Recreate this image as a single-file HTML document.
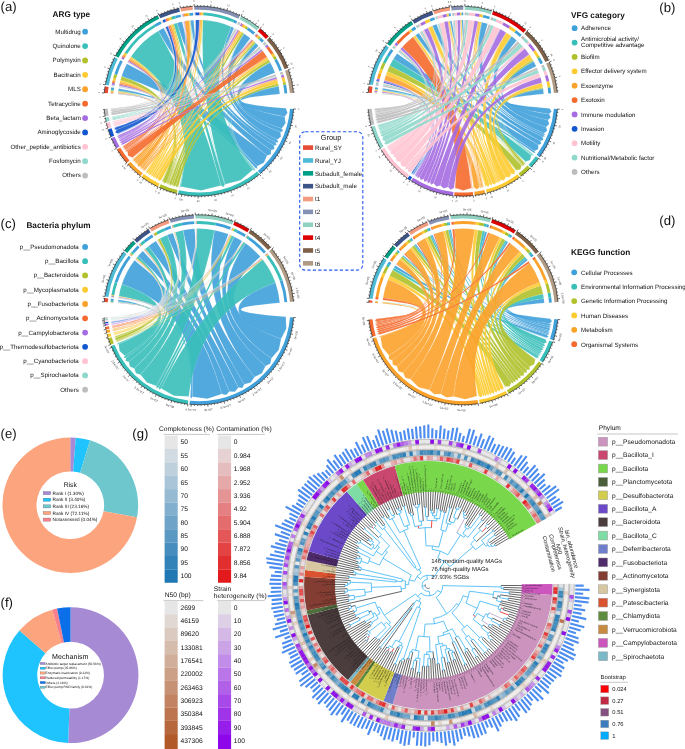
<!DOCTYPE html>
<html lang="en"><head><meta charset="utf-8"><title>Figure</title>
<style>html,body{margin:0;padding:0;background:#fff}svg{display:block}text{font-family:"Liberation Sans", sans-serif;text-rendering:geometricPrecision}</style>
</head><body>
<svg width="685" height="749" viewBox="0 0 685 749">
<rect width="685" height="749" fill="#fff"/>
<g>
<g fill-opacity="0.9" stroke="#fff" stroke-width="0.22" stroke-opacity="0.42">
<path d="M118.38 90.67A81.2 81.2 0 0 1 118.68 88.59Q198.9 101.15 256.9 166.27L257.48 168.68L255.18 167.76Q198.9 101.15 118.38 90.67Z" fill="#3FA0DA"/>
<path d="M121.59 76.33A81.2 81.2 0 0 1 126.87 63.67Q198.9 101.15 267.07 155.53L263.81 162.63L256.9 166.27Q198.9 101.15 121.59 76.33Z" fill="#3FA0DA"/>
<path d="M158.21 30.88A81.2 81.2 0 0 1 163.69 27.98Q198.9 101.15 271.04 150.14L270.88 154.18L267.07 155.53Q198.9 101.15 158.21 30.88Z" fill="#3FA0DA"/>
<path d="M177.07 22.94A81.2 81.2 0 0 1 182.05 21.72Q198.9 101.15 274 145.47L274.41 149.01L271.04 150.14Q198.9 101.15 177.07 22.94Z" fill="#3FA0DA"/>
<path d="M190.47 20.39A81.2 81.2 0 0 1 193.57 20.13Q198.9 101.15 275.64 142.56L276.75 145.1L274 145.47Q198.9 101.15 190.47 20.39Z" fill="#3FA0DA"/>
<path d="M231.24 26.67A81.2 81.2 0 0 1 233.97 27.91Q198.9 101.15 277.12 139.68L278.35 142.14L275.64 142.56Q198.9 101.15 231.24 26.67Z" fill="#3FA0DA"/>
<path d="M244.14 33.72A81.2 81.2 0 0 1 250.34 38.32Q198.9 101.15 280.44 132.05L280.89 136.78L277.12 139.68Q198.9 101.15 244.14 33.72Z" fill="#3FA0DA"/>
<path d="M255.94 43.36A81.2 81.2 0 0 1 258.41 45.9Q198.9 101.15 281.72 128.45L283.17 130.99L280.44 132.05Q198.9 101.15 255.94 43.36Z" fill="#3FA0DA"/>
<path d="M270.31 62.5A81.2 81.2 0 0 1 274.99 72.8Q198.9 101.15 284.71 116.63L285.56 123.13L281.72 128.45Q198.9 101.15 270.31 62.5Z" fill="#3FA0DA"/>
<path d="M278.71 86.18A81.2 81.2 0 0 1 279.78 93.91Q198.9 101.15 285.81 108.29L287.54 112.76L284.71 116.63Q198.9 101.15 278.71 86.18Z" fill="#3FA0DA"/>
<path d="M118.29 91.37A81.2 81.2 0 0 1 118.38 90.67Q198.9 101.15 180.56 186.4L179.72 188.47L179.82 186.24Q198.9 101.15 118.29 91.37Z" fill="#38BFB9"/>
<path d="M121.53 76.51A81.2 81.2 0 0 1 121.59 76.33Q198.9 101.15 180.77 186.44L180.2 188.57L180.56 186.4Q198.9 101.15 121.53 76.51Z" fill="#38BFB9"/>
<path d="M131.06 56.53A81.2 81.2 0 0 1 158.21 30.88Q198.9 101.15 221.02 185.5L201 190.53L180.77 186.44Q198.9 101.15 131.06 56.53Z" fill="#38BFB9"/>
<path d="M173.7 23.96A81.2 81.2 0 0 1 177.07 22.94Q198.9 101.15 224.67 184.46L223.45 187.11L221.02 185.5Q198.9 101.15 173.7 23.96Z" fill="#38BFB9"/>
<path d="M190.03 20.44A81.2 81.2 0 0 1 190.47 20.39Q198.9 101.15 225.13 184.31L225.55 186.48L224.67 184.46Q198.9 101.15 190.03 20.44Z" fill="#38BFB9"/>
<path d="M203 20.05A81.2 81.2 0 0 1 231.24 26.67Q198.9 101.15 252.78 169.71L240.64 180.21L225.13 184.31Q198.9 101.15 203 20.05Z" fill="#38BFB9"/>
<path d="M243.78 33.48A81.2 81.2 0 0 1 244.14 33.72Q198.9 101.15 253.14 169.43L254.32 171.3L252.78 169.71Q198.9 101.15 243.78 33.48Z" fill="#38BFB9"/>
<path d="M255.38 42.81A81.2 81.2 0 0 1 255.94 43.36Q198.9 101.15 253.8 168.9L254.85 170.88L253.14 169.43Q198.9 101.15 255.38 42.81Z" fill="#38BFB9"/>
<path d="M270.08 62.07A81.2 81.2 0 0 1 270.31 62.5Q198.9 101.15 254.21 168.56L255.4 170.43L253.8 168.9Q198.9 101.15 270.08 62.07Z" fill="#38BFB9"/>
<path d="M278.65 85.87A81.2 81.2 0 0 1 278.71 86.18Q198.9 101.15 254.48 168.34L255.74 170.15L254.21 168.56Q198.9 101.15 278.65 85.87Z" fill="#38BFB9"/>
<path d="M118.22 91.98A81.2 81.2 0 0 1 118.29 91.37Q198.9 101.15 163.04 180.63L161.83 182.5L162.44 180.36Q198.9 101.15 118.22 91.98Z" fill="#B0C12B"/>
<path d="M120.46 80.16A81.2 81.2 0 0 1 121.53 76.51Q198.9 101.15 166.81 182.23L164.06 183.48L163.04 180.63Q198.9 101.15 120.46 80.16Z" fill="#B0C12B"/>
<path d="M130.63 57.19A81.2 81.2 0 0 1 131.06 56.53Q198.9 101.15 167.61 182.54L166.41 184.44L166.81 182.23Q198.9 101.15 130.63 57.19Z" fill="#B0C12B"/>
<path d="M172.72 24.29A81.2 81.2 0 0 1 173.7 23.96Q198.9 101.15 168.66 182.94L167.35 184.8L167.61 182.54Q198.9 101.15 172.72 24.29Z" fill="#B0C12B"/>
<path d="M189.6 20.48A81.2 81.2 0 0 1 190.03 20.44Q198.9 101.15 169.1 183.1L168.12 185.08L168.66 182.94Q198.9 101.15 189.6 20.48Z" fill="#B0C12B"/>
<path d="M202.69 20.04A81.2 81.2 0 0 1 203 20.05Q198.9 101.15 169.42 183.22L168.51 185.23L169.1 183.1Q198.9 101.15 202.69 20.04Z" fill="#B0C12B"/>
<path d="M242.02 32.34A81.2 81.2 0 0 1 243.78 33.48Q198.9 101.15 171.56 183.95L169.77 185.67L169.42 183.22Q198.9 101.15 242.02 32.34Z" fill="#B0C12B"/>
<path d="M254.26 41.75A81.2 81.2 0 0 1 255.38 42.81Q198.9 101.15 173.15 184.46L171.68 186.31L171.56 183.95Q198.9 101.15 254.26 41.75Z" fill="#B0C12B"/>
<path d="M268.69 59.65A81.2 81.2 0 0 1 270.08 62.07Q198.9 101.15 176.04 185.3L173.97 187L173.15 184.46Q198.9 101.15 268.69 59.65Z" fill="#B0C12B"/>
<path d="M278.17 83.57A81.2 81.2 0 0 1 278.65 85.87Q198.9 101.15 178.49 185.93L176.71 187.75L176.04 185.3Q198.9 101.15 278.17 83.57Z" fill="#B0C12B"/>
<path d="M118.17 92.46A81.2 81.2 0 0 1 118.22 91.98Q198.9 101.15 146.72 171.02L145.19 172.62L146.31 170.71Q198.9 101.15 118.17 92.46Z" fill="#FDCB2F"/>
<path d="M120.01 81.9A81.2 81.2 0 0 1 120.46 80.16Q198.9 101.15 148.29 172.16L146.21 173.37L146.72 171.02Q198.9 101.15 120.01 81.9Z" fill="#FDCB2F"/>
<path d="M129.84 58.45A81.2 81.2 0 0 1 130.63 57.19Q198.9 101.15 149.6 173.08L147.68 174.42L148.29 172.16Q198.9 101.15 129.84 58.45Z" fill="#FDCB2F"/>
<path d="M171.17 24.83A81.2 81.2 0 0 1 172.72 24.29Q198.9 101.15 151.07 174.06L149.11 175.4L149.6 173.08Q198.9 101.15 171.17 24.83Z" fill="#FDCB2F"/>
<path d="M188.87 20.57A81.2 81.2 0 0 1 189.6 20.48Q198.9 101.15 151.73 174.49L150.2 176.12L151.07 174.06Q198.9 101.15 188.87 20.57Z" fill="#FDCB2F"/>
<path d="M201.09 19.98A81.2 81.2 0 0 1 202.69 20.04Q198.9 101.15 153.19 175.41L151.29 176.82L151.73 174.49Q198.9 101.15 201.09 19.98Z" fill="#FDCB2F"/>
<path d="M240.51 31.42A81.2 81.2 0 0 1 242.02 32.34Q198.9 101.15 154.82 176.39L152.87 177.79L153.19 175.41Q198.9 101.15 240.51 31.42Z" fill="#FDCB2F"/>
<path d="M253.55 41.09A81.2 81.2 0 0 1 254.26 41.75Q198.9 101.15 155.73 176.91L154.17 178.56L154.82 176.39Q198.9 101.15 253.55 41.09Z" fill="#FDCB2F"/>
<path d="M267.51 57.72A81.2 81.2 0 0 1 268.69 59.65Q198.9 101.15 157.86 178.09L155.73 179.44L155.73 176.91Q198.9 101.15 267.51 57.72Z" fill="#FDCB2F"/>
<path d="M277.31 80.06A81.2 81.2 0 0 1 278.17 83.57Q198.9 101.15 161.34 179.85L158.6 180.95L157.86 178.09Q198.9 101.15 277.31 80.06Z" fill="#FDCB2F"/>
<path d="M118.1 93.15A81.2 81.2 0 0 1 118.17 92.46Q198.9 101.15 134.01 159.41L132.12 160.59L133.52 158.85Q198.9 101.15 118.1 93.15Z" fill="#FBA22B"/>
<path d="M119.64 83.5A81.2 81.2 0 0 1 120.01 81.9Q198.9 101.15 135.21 160.71L132.99 161.55L134.01 159.41Q198.9 101.15 119.64 83.5Z" fill="#FBA22B"/>
<path d="M129.04 59.75A81.2 81.2 0 0 1 129.84 58.45Q198.9 101.15 136.34 161.9L134.18 162.82L135.21 160.71Q198.9 101.15 129.04 59.75Z" fill="#FBA22B"/>
<path d="M169.59 25.42A81.2 81.2 0 0 1 171.17 24.83Q198.9 101.15 137.62 163.19L135.42 164.1L136.34 161.9Q198.9 101.15 169.59 25.42Z" fill="#FBA22B"/>
<path d="M184.67 21.21A81.2 81.2 0 0 1 188.87 20.57Q198.9 101.15 140.96 166.32L137.76 166.38L137.62 163.19Q198.9 101.15 184.67 21.21Z" fill="#FBA22B"/>
<path d="M199.86 19.96A81.2 81.2 0 0 1 201.09 19.98Q198.9 101.15 141.95 167.19L140.01 168.41L140.96 166.32Q198.9 101.15 199.86 19.96Z" fill="#FBA22B"/>
<path d="M239.34 30.74A81.2 81.2 0 0 1 240.51 31.42Q198.9 101.15 143.07 168.14L141.09 169.34L141.95 167.19Q198.9 101.15 239.34 30.74Z" fill="#FBA22B"/>
<path d="M253.05 40.64A81.2 81.2 0 0 1 253.55 41.09Q198.9 101.15 143.62 168.59L141.95 170.06L143.07 168.14Q198.9 101.15 253.05 40.64Z" fill="#FBA22B"/>
<path d="M266.96 56.86A81.2 81.2 0 0 1 267.51 57.72Q198.9 101.15 144.49 169.29L142.67 170.65L143.62 168.59Q198.9 101.15 266.96 56.86Z" fill="#FBA22B"/>
<path d="M277.04 79.09A81.2 81.2 0 0 1 277.31 80.06Q198.9 101.15 145.34 169.97L143.55 171.36L144.49 169.29Q198.9 101.15 277.04 79.09Z" fill="#FBA22B"/>
<path d="M118.05 93.57A81.2 81.2 0 0 1 118.1 93.15Q198.9 101.15 124.04 145.86L122.03 146.79L123.8 145.47Q198.9 101.15 118.05 93.57Z" fill="#F56A2E"/>
<path d="M119.41 84.57A81.2 81.2 0 0 1 119.64 83.5Q198.9 101.15 124.65 146.88L122.46 147.51L124.04 145.86Q198.9 101.15 119.41 84.57Z" fill="#F56A2E"/>
<path d="M128.49 60.7A81.2 81.2 0 0 1 129.04 59.75Q198.9 101.15 125.28 147.88L123.1 148.54L124.65 146.88Q198.9 101.15 128.49 60.7Z" fill="#F56A2E"/>
<path d="M168.25 25.96A81.2 81.2 0 0 1 169.59 25.42Q198.9 101.15 126.12 149.18L123.85 149.73L125.28 147.88Q198.9 101.15 168.25 25.96Z" fill="#F56A2E"/>
<path d="M184.47 21.24A81.2 81.2 0 0 1 184.67 21.21Q198.9 101.15 126.24 149.37L124.35 150.49L126.12 149.18Q198.9 101.15 184.47 21.24Z" fill="#F56A2E"/>
<path d="M199.42 19.95A81.2 81.2 0 0 1 199.86 19.96Q198.9 101.15 126.51 149.76L124.54 150.78L126.24 149.37Q198.9 101.15 199.42 19.95Z" fill="#F56A2E"/>
<path d="M238.92 30.5A81.2 81.2 0 0 1 239.34 30.74Q198.9 101.15 126.8 150.19L124.83 151.21L126.51 149.76Q198.9 101.15 238.92 30.5Z" fill="#F56A2E"/>
<path d="M252.25 39.94A81.2 81.2 0 0 1 253.05 40.64Q198.9 101.15 127.45 151.14L125.31 151.92L126.8 150.19Q198.9 101.15 252.25 39.94Z" fill="#F56A2E"/>
<path d="M262.6 50.79A81.2 81.2 0 0 1 266.96 56.86Q198.9 101.15 132.37 157.52L128.1 155.73L127.45 151.14Q198.9 101.15 262.6 50.79Z" fill="#F56A2E"/>
<path d="M276.95 78.74A81.2 81.2 0 0 1 277.04 79.09Q198.9 101.15 132.62 157.82L130.82 159.09L132.37 157.52Q198.9 101.15 276.95 78.74Z" fill="#F56A2E"/>
<path d="M118.03 93.88A81.2 81.2 0 0 1 118.05 93.57Q198.9 101.15 118.68 135.34L116.59 136.04L118.55 135.03Q198.9 101.15 118.03 93.88Z" fill="#A56BE0"/>
<path d="M119.15 85.86A81.2 81.2 0 0 1 119.41 84.57Q198.9 101.15 119.25 136.64L116.95 136.87L118.68 135.34Q198.9 101.15 119.15 85.86Z" fill="#A56BE0"/>
<path d="M127.85 61.84A81.2 81.2 0 0 1 128.49 60.7Q198.9 101.15 119.83 137.92L117.54 138.19L119.25 136.64Q198.9 101.15 127.85 61.84Z" fill="#A56BE0"/>
<path d="M167.65 26.2A81.2 81.2 0 0 1 168.25 25.96Q198.9 101.15 120.13 138.55L117.99 139.17L119.83 137.92Q198.9 101.15 167.65 26.2Z" fill="#A56BE0"/>
<path d="M183.88 21.35A81.2 81.2 0 0 1 184.47 21.24Q198.9 101.15 120.41 139.14L118.29 139.8L120.13 138.55Q198.9 101.15 183.88 21.35Z" fill="#A56BE0"/>
<path d="M199.16 19.95A81.2 81.2 0 0 1 199.42 19.95Q198.9 101.15 120.53 139.4L118.49 140.23L120.41 139.14Q198.9 101.15 199.16 19.95Z" fill="#A56BE0"/>
<path d="M237.74 29.84A81.2 81.2 0 0 1 238.92 30.5Q198.9 101.15 121.19 140.7L118.89 141.03L120.53 139.4Q198.9 101.15 237.74 29.84Z" fill="#A56BE0"/>
<path d="M251.85 39.59A81.2 81.2 0 0 1 252.25 39.94Q198.9 101.15 121.45 141.21L119.36 141.96L121.19 140.7Q198.9 101.15 251.85 39.59Z" fill="#A56BE0"/>
<path d="M261.56 49.5A81.2 81.2 0 0 1 262.6 50.79Q198.9 101.15 122.28 142.79L119.92 143.03L121.45 141.21Q198.9 101.15 261.56 49.5Z" fill="#A56BE0"/>
<path d="M276.45 77.08A81.2 81.2 0 0 1 276.95 78.74Q198.9 101.15 123.19 144.42L120.81 144.68L122.28 142.79Q198.9 101.15 276.45 77.08Z" fill="#A56BE0"/>
<path d="M119.11 86.06A81.2 81.2 0 0 1 119.15 85.86Q198.9 101.15 115.71 127.29L113.58 127.85L115.65 127.09Q198.9 101.15 119.11 86.06Z" fill="#1257CF"/>
<path d="M127.8 61.92A81.2 81.2 0 0 1 127.85 61.84Q198.9 101.15 115.74 127.4L113.63 128.01L115.71 127.29Q198.9 101.15 127.8 61.92Z" fill="#1257CF"/>
<path d="M165.52 27.13A81.2 81.2 0 0 1 167.65 26.2Q198.9 101.15 116.54 129.78L114.04 129.29L115.74 127.4Q198.9 101.15 165.52 27.13Z" fill="#1257CF"/>
<path d="M195.51 20.02A81.2 81.2 0 0 1 199.16 19.95Q198.9 101.15 117.93 133.51L115.16 132.45L116.55 129.83Q198.9 101.15 195.51 20.02Z" fill="#1257CF"/>
<path d="M237.61 29.77A81.2 81.2 0 0 1 237.74 29.84Q198.9 101.15 117.99 133.66L115.92 134.41L117.93 133.51Q198.9 101.15 237.61 29.77Z" fill="#1257CF"/>
<path d="M261.4 49.31A81.2 81.2 0 0 1 261.56 49.5Q198.9 101.15 118.11 133.96L116.02 134.66L118 133.7Q198.9 101.15 261.4 49.31Z" fill="#1257CF"/>
<path d="M276.43 77A81.2 81.2 0 0 1 276.45 77.08Q198.9 101.15 118.14 134.04L116.09 134.83L118.11 133.96Q198.9 101.15 276.43 77Z" fill="#1257CF"/>
<path d="M118.01 94.05A81.2 81.2 0 0 1 118.02 93.93Q198.9 101.15 114.03 121.15L111.87 121.59L114 121.02Q198.9 101.15 118.01 94.05Z" fill="#FFC3D2"/>
<path d="M119.02 86.56A81.2 81.2 0 0 1 119.11 86.06Q198.9 101.15 114.15 121.68L111.95 121.93L114.03 121.15Q198.9 101.15 119.02 86.56Z" fill="#FFC3D2"/>
<path d="M127.65 62.2A81.2 81.2 0 0 1 127.8 61.92Q198.9 101.15 114.23 122.02L112.06 122.37L114.15 121.68Q198.9 101.15 127.65 62.2Z" fill="#FFC3D2"/>
<path d="M165.14 27.3A81.2 81.2 0 0 1 165.52 27.13Q198.9 101.15 114.34 122.45L112.15 122.77L114.23 122.02Q198.9 101.15 165.14 27.3Z" fill="#FFC3D2"/>
<path d="M183.49 21.43A81.2 81.2 0 0 1 183.83 21.36Q198.9 101.15 114.43 122.82L112.26 123.18L114.34 122.45Q198.9 101.15 183.49 21.43Z" fill="#FFC3D2"/>
<path d="M195.26 20.03A81.2 81.2 0 0 1 195.51 20.02Q198.9 101.15 114.5 123.08L112.34 123.5L114.43 122.82Q198.9 101.15 195.26 20.03Z" fill="#FFC3D2"/>
<path d="M236.78 29.33A81.2 81.2 0 0 1 237.61 29.77Q198.9 101.15 114.76 124.06L112.51 124.13L114.5 123.08Q198.9 101.15 236.78 29.33Z" fill="#FFC3D2"/>
<path d="M251.58 39.36A81.2 81.2 0 0 1 251.82 39.56Q198.9 101.15 114.85 124.38L112.68 124.8L114.76 124.06Q198.9 101.15 251.58 39.36Z" fill="#FFC3D2"/>
<path d="M260.78 48.57A81.2 81.2 0 0 1 261.4 49.31Q198.9 101.15 115.13 125.37L112.87 125.47L114.85 124.38Q198.9 101.15 260.78 48.57Z" fill="#FFC3D2"/>
<path d="M276.24 76.4A81.2 81.2 0 0 1 276.43 77Q198.9 101.15 115.32 126.02L113.11 126.31L115.13 125.37Q198.9 101.15 276.24 76.4Z" fill="#FFC3D2"/>
<path d="M118 94.14A81.2 81.2 0 0 1 118.01 94.05Q198.9 101.15 113.04 116.35L110.86 116.69L113.02 116.26Q198.9 101.15 118 94.14Z" fill="#8FD8CB"/>
<path d="M118.96 86.92A81.2 81.2 0 0 1 119.02 86.56Q198.9 101.15 113.11 116.75L110.91 116.94L113.04 116.35Q198.9 101.15 118.96 86.92Z" fill="#8FD8CB"/>
<path d="M127.56 62.36A81.2 81.2 0 0 1 127.65 62.2Q198.9 101.15 113.14 116.94L110.96 117.24L113.11 116.75Q198.9 101.15 127.56 62.36Z" fill="#8FD8CB"/>
<path d="M165 27.37A81.2 81.2 0 0 1 165.14 27.3Q198.9 101.15 113.17 117.1L110.99 117.42L113.14 116.94Q198.9 101.15 165 27.37Z" fill="#8FD8CB"/>
<path d="M183.41 21.44A81.2 81.2 0 0 1 183.49 21.43Q198.9 101.15 113.19 117.19L111.02 117.55L113.17 117.1Q198.9 101.15 183.41 21.44Z" fill="#8FD8CB"/>
<path d="M195.11 20.04A81.2 81.2 0 0 1 195.26 20.03Q198.9 101.15 113.22 117.35L111.04 117.68L113.19 117.19Q198.9 101.15 195.11 20.04Z" fill="#8FD8CB"/>
<path d="M236.06 28.95A81.2 81.2 0 0 1 236.78 29.33Q198.9 101.15 113.39 118.21L111.14 118.2L113.22 117.35Q198.9 101.15 236.06 28.95Z" fill="#8FD8CB"/>
<path d="M251.47 39.26A81.2 81.2 0 0 1 251.58 39.36Q198.9 101.15 113.42 118.37L111.24 118.72L113.39 118.21Q198.9 101.15 251.47 39.26Z" fill="#8FD8CB"/>
<path d="M260.18 47.87A81.2 81.2 0 0 1 260.78 48.57Q198.9 101.15 113.62 119.35L111.36 119.3L113.42 118.37Q198.9 101.15 260.18 47.87Z" fill="#8FD8CB"/>
<path d="M276.05 75.83A81.2 81.2 0 0 1 276.24 76.4Q198.9 101.15 113.76 119.99L111.54 120.13L113.62 119.35Q198.9 101.15 276.05 75.83Z" fill="#8FD8CB"/>
<path d="M118 94.21A81.2 81.2 0 0 1 118 94.14Q198.9 101.15 112 108.34L109.8 108.49L111.99 108.27Q198.9 101.15 118 94.21Z" fill="#BDBDBD"/>
<path d="M118.91 87.19A81.2 81.2 0 0 1 118.96 86.92Q198.9 101.15 112.02 108.64L109.82 108.67L112 108.34Q198.9 101.15 118.91 87.19Z" fill="#BDBDBD"/>
<path d="M127.47 62.54A81.2 81.2 0 0 1 127.56 62.36Q198.9 101.15 112.04 108.85L109.84 108.94L112.02 108.64Q198.9 101.15 127.47 62.54Z" fill="#BDBDBD"/>
<path d="M164.59 27.55A81.2 81.2 0 0 1 165 27.37Q198.9 101.15 112.08 109.33L109.87 109.29L112.04 108.85Q198.9 101.15 164.59 27.55Z" fill="#BDBDBD"/>
<path d="M183.16 21.49A81.2 81.2 0 0 1 183.41 21.44Q198.9 101.15 112.11 109.6L109.91 109.68L112.08 109.33Q198.9 101.15 183.16 21.49Z" fill="#BDBDBD"/>
<path d="M194.84 20.05A81.2 81.2 0 0 1 195.11 20.04Q198.9 101.15 112.14 109.89L109.94 109.97L112.11 109.6Q198.9 101.15 194.84 20.05Z" fill="#BDBDBD"/>
<path d="M234.99 28.41A81.2 81.2 0 0 1 236.06 28.95Q198.9 101.15 112.28 111.18L110.02 110.78L112.14 109.89Q198.9 101.15 234.99 28.41Z" fill="#BDBDBD"/>
<path d="M251.22 39.05A81.2 81.2 0 0 1 251.47 39.26Q198.9 101.15 112.32 111.54L110.11 111.62L112.28 111.18Q198.9 101.15 251.22 39.05Z" fill="#BDBDBD"/>
<path d="M259.27 46.85A81.2 81.2 0 0 1 260.18 47.87Q198.9 101.15 112.51 113L110.23 112.55L112.32 111.54Q198.9 101.15 259.27 46.85Z" fill="#BDBDBD"/>
<path d="M275.47 74.13A81.2 81.2 0 0 1 276.05 75.83Q198.9 101.15 112.79 114.91L110.47 114.28L112.51 113Q198.9 101.15 275.47 74.13Z" fill="#BDBDBD"/>
</g>
<path d="M110.94 89.71A88.7 88.7 0 0 1 111.27 87.43L114.03 87.86A85.9 85.9 0 0 0 113.72 90.07Z" fill="#3FA0DA" />
<path d="M110.85 90.47A88.7 88.7 0 0 1 110.94 89.71L113.72 90.07A85.9 85.9 0 0 0 113.63 90.81Z" fill="#38BFB9" />
<path d="M110.77 91.13A88.7 88.7 0 0 1 110.85 90.47L113.63 90.81A85.9 85.9 0 0 0 113.55 91.45Z" fill="#B0C12B" />
<path d="M110.71 91.65A88.7 88.7 0 0 1 110.77 91.13L113.55 91.45A85.9 85.9 0 0 0 113.49 91.95Z" fill="#FDCB2F" />
<path d="M110.63 92.41A88.7 88.7 0 0 1 110.71 91.65L113.49 91.95A85.9 85.9 0 0 0 113.42 92.68Z" fill="#FBA22B" />
<path d="M110.59 92.87A88.7 88.7 0 0 1 110.63 92.41L113.42 92.68A85.9 85.9 0 0 0 113.38 93.13Z" fill="#F56A2E" />
<path d="M110.56 93.21A88.7 88.7 0 0 1 110.59 92.87L113.38 93.13A85.9 85.9 0 0 0 113.34 93.46Z" fill="#A56BE0" />
<path d="M110.55 93.27A88.7 88.7 0 0 1 110.56 93.21L113.34 93.46A85.9 85.9 0 0 0 113.34 93.51Z" fill="#1257CF" />
<path d="M110.54 93.4A88.7 88.7 0 0 1 110.55 93.27L113.34 93.51A85.9 85.9 0 0 0 113.33 93.64Z" fill="#FFC3D2" />
<path d="M110.53 93.5A88.7 88.7 0 0 1 110.54 93.4L113.33 93.64A85.9 85.9 0 0 0 113.32 93.74Z" fill="#8FD8CB" />
<path d="M110.52 93.57A88.7 88.7 0 0 1 110.53 93.5L113.32 93.74A85.9 85.9 0 0 0 113.31 93.81Z" fill="#BDBDBD" />
<path d="M114.45 74.03A88.7 88.7 0 0 1 120.22 60.2L122.7 61.5A85.9 85.9 0 0 0 117.11 74.89Z" fill="#3FA0DA" />
<path d="M114.38 74.24A88.7 88.7 0 0 1 114.45 74.03L117.11 74.89A85.9 85.9 0 0 0 117.05 75.09Z" fill="#38BFB9" />
<path d="M113.21 78.22A88.7 88.7 0 0 1 114.38 74.24L117.05 75.09A85.9 85.9 0 0 0 115.92 78.95Z" fill="#B0C12B" />
<path d="M112.73 80.12A88.7 88.7 0 0 1 113.21 78.22L115.92 78.95A85.9 85.9 0 0 0 115.45 80.79Z" fill="#FDCB2F" />
<path d="M112.32 81.87A88.7 88.7 0 0 1 112.73 80.12L115.45 80.79A85.9 85.9 0 0 0 115.05 82.48Z" fill="#FBA22B" />
<path d="M112.07 83.04A88.7 88.7 0 0 1 112.32 81.87L115.05 82.48A85.9 85.9 0 0 0 114.81 83.61Z" fill="#F56A2E" />
<path d="M111.79 84.45A88.7 88.7 0 0 1 112.07 83.04L114.81 83.61A85.9 85.9 0 0 0 114.54 84.98Z" fill="#A56BE0" />
<path d="M111.75 84.67A88.7 88.7 0 0 1 111.79 84.45L114.54 84.98A85.9 85.9 0 0 0 114.5 85.19Z" fill="#1257CF" />
<path d="M111.64 85.21A88.7 88.7 0 0 1 111.75 84.67L114.5 85.19A85.9 85.9 0 0 0 114.4 85.71Z" fill="#FFC3D2" />
<path d="M111.57 85.61A88.7 88.7 0 0 1 111.64 85.21L114.4 85.71A85.9 85.9 0 0 0 114.33 86.1Z" fill="#8FD8CB" />
<path d="M111.52 85.9A88.7 88.7 0 0 1 111.57 85.61L114.33 86.1A85.9 85.9 0 0 0 114.28 86.38Z" fill="#BDBDBD" />
<path d="M154.45 24.39A88.7 88.7 0 0 1 160.44 21.22L161.66 23.74A85.9 85.9 0 0 0 155.85 26.81Z" fill="#3FA0DA" />
<path d="M124.79 52.41A88.7 88.7 0 0 1 154.45 24.39L155.85 26.81A85.9 85.9 0 0 0 127.13 53.95Z" fill="#38BFB9" />
<path d="M124.32 53.13A88.7 88.7 0 0 1 124.79 52.41L127.13 53.95A85.9 85.9 0 0 0 126.68 54.64Z" fill="#B0C12B" />
<path d="M123.46 54.5A88.7 88.7 0 0 1 124.32 53.13L126.68 54.64A85.9 85.9 0 0 0 125.84 55.98Z" fill="#FDCB2F" />
<path d="M122.59 55.93A88.7 88.7 0 0 1 123.46 54.5L125.84 55.98A85.9 85.9 0 0 0 125 57.36Z" fill="#FBA22B" />
<path d="M121.99 56.96A88.7 88.7 0 0 1 122.59 55.93L125 57.36A85.9 85.9 0 0 0 124.42 58.36Z" fill="#F56A2E" />
<path d="M121.29 58.2A88.7 88.7 0 0 1 121.99 56.96L124.42 58.36A85.9 85.9 0 0 0 123.74 59.56Z" fill="#A56BE0" />
<path d="M121.24 58.3A88.7 88.7 0 0 1 121.29 58.2L123.74 59.56A85.9 85.9 0 0 0 123.69 59.65Z" fill="#1257CF" />
<path d="M121.07 58.6A88.7 88.7 0 0 1 121.24 58.3L123.69 59.65A85.9 85.9 0 0 0 123.53 59.95Z" fill="#FFC3D2" />
<path d="M120.97 58.78A88.7 88.7 0 0 1 121.07 58.6L123.53 59.95A85.9 85.9 0 0 0 123.43 60.12Z" fill="#8FD8CB" />
<path d="M120.87 58.97A88.7 88.7 0 0 1 120.97 58.78L123.43 60.12A85.9 85.9 0 0 0 123.33 60.31Z" fill="#BDBDBD" />
<path d="M175.05 15.72A88.7 88.7 0 0 1 180.49 14.38L181.07 17.12A85.9 85.9 0 0 0 175.8 18.41Z" fill="#3FA0DA" />
<path d="M171.38 16.83A88.7 88.7 0 0 1 175.05 15.72L175.8 18.41A85.9 85.9 0 0 0 172.25 19.49Z" fill="#38BFB9" />
<path d="M170.3 17.19A88.7 88.7 0 0 1 171.38 16.83L172.25 19.49A85.9 85.9 0 0 0 171.2 19.84Z" fill="#B0C12B" />
<path d="M168.61 17.78A88.7 88.7 0 0 1 170.3 17.19L171.2 19.84A85.9 85.9 0 0 0 169.57 20.41Z" fill="#FDCB2F" />
<path d="M166.89 18.43A88.7 88.7 0 0 1 168.61 17.78L169.57 20.41A85.9 85.9 0 0 0 167.9 21.04Z" fill="#FBA22B" />
<path d="M165.42 19.01A88.7 88.7 0 0 1 166.89 18.43L167.9 21.04A85.9 85.9 0 0 0 166.48 21.6Z" fill="#F56A2E" />
<path d="M164.77 19.28A88.7 88.7 0 0 1 165.42 19.01L166.48 21.6A85.9 85.9 0 0 0 165.84 21.86Z" fill="#A56BE0" />
<path d="M162.43 20.29A88.7 88.7 0 0 1 164.77 19.28L165.84 21.86A85.9 85.9 0 0 0 163.58 22.85Z" fill="#1257CF" />
<path d="M162.02 20.48A88.7 88.7 0 0 1 162.43 20.29L163.58 22.85A85.9 85.9 0 0 0 163.18 23.03Z" fill="#FFC3D2" />
<path d="M161.87 20.55A88.7 88.7 0 0 1 162.02 20.48L163.18 23.03A85.9 85.9 0 0 0 163.04 23.1Z" fill="#8FD8CB" />
<path d="M161.42 20.76A88.7 88.7 0 0 1 161.87 20.55L163.04 23.1A85.9 85.9 0 0 0 162.61 23.29Z" fill="#BDBDBD" />
<path d="M189.7 12.93A88.7 88.7 0 0 1 193.07 12.64L193.26 15.44A85.9 85.9 0 0 0 189.99 15.71Z" fill="#3FA0DA" />
<path d="M189.21 12.98A88.7 88.7 0 0 1 189.7 12.93L189.99 15.71A85.9 85.9 0 0 0 189.52 15.76Z" fill="#38BFB9" />
<path d="M188.74 13.03A88.7 88.7 0 0 1 189.21 12.98L189.52 15.76A85.9 85.9 0 0 0 189.06 15.82Z" fill="#B0C12B" />
<path d="M187.94 13.13A88.7 88.7 0 0 1 188.74 13.03L189.06 15.82A85.9 85.9 0 0 0 188.29 15.91Z" fill="#FDCB2F" />
<path d="M183.36 13.82A88.7 88.7 0 0 1 187.94 13.13L188.29 15.91A85.9 85.9 0 0 0 183.85 16.58Z" fill="#FBA22B" />
<path d="M183.14 13.86A88.7 88.7 0 0 1 183.36 13.82L183.85 16.58A85.9 85.9 0 0 0 183.64 16.62Z" fill="#F56A2E" />
<path d="M182.49 13.98A88.7 88.7 0 0 1 183.14 13.86L183.64 16.62A85.9 85.9 0 0 0 183.01 16.73Z" fill="#A56BE0" />
<path d="M182.44 13.99A88.7 88.7 0 0 1 182.49 13.98L183.01 16.73A85.9 85.9 0 0 0 182.96 16.74Z" fill="#1257CF" />
<path d="M182.07 14.06A88.7 88.7 0 0 1 182.44 13.99L182.96 16.74A85.9 85.9 0 0 0 182.6 16.81Z" fill="#FFC3D2" />
<path d="M181.97 14.08A88.7 88.7 0 0 1 182.07 14.06L182.6 16.81A85.9 85.9 0 0 0 182.51 16.83Z" fill="#8FD8CB" />
<path d="M181.71 14.13A88.7 88.7 0 0 1 181.97 14.08L182.51 16.83A85.9 85.9 0 0 0 182.25 16.88Z" fill="#BDBDBD" />
<path d="M234.23 19.79A88.7 88.7 0 0 1 237.2 21.15L236 23.67A85.9 85.9 0 0 0 233.11 22.36Z" fill="#3FA0DA" />
<path d="M203.38 12.56A88.7 88.7 0 0 1 234.23 19.79L233.11 22.36A85.9 85.9 0 0 0 203.24 15.36Z" fill="#38BFB9" />
<path d="M203.04 12.55A88.7 88.7 0 0 1 203.38 12.56L203.24 15.36A85.9 85.9 0 0 0 202.91 15.34Z" fill="#B0C12B" />
<path d="M201.29 12.48A88.7 88.7 0 0 1 203.04 12.55L202.91 15.34A85.9 85.9 0 0 0 201.22 15.28Z" fill="#FDCB2F" />
<path d="M199.95 12.46A88.7 88.7 0 0 1 201.29 12.48L201.22 15.28A85.9 85.9 0 0 0 199.92 15.26Z" fill="#FBA22B" />
<path d="M199.47 12.45A88.7 88.7 0 0 1 199.95 12.46L199.92 15.26A85.9 85.9 0 0 0 199.45 15.25Z" fill="#F56A2E" />
<path d="M199.18 12.45A88.7 88.7 0 0 1 199.47 12.45L199.45 15.25A85.9 85.9 0 0 0 199.18 15.25Z" fill="#A56BE0" />
<path d="M195.2 12.53A88.7 88.7 0 0 1 199.18 12.45L199.18 15.25A85.9 85.9 0 0 0 195.32 15.32Z" fill="#1257CF" />
<path d="M194.92 12.54A88.7 88.7 0 0 1 195.2 12.53L195.32 15.32A85.9 85.9 0 0 0 195.05 15.34Z" fill="#FFC3D2" />
<path d="M194.76 12.55A88.7 88.7 0 0 1 194.92 12.54L195.05 15.34A85.9 85.9 0 0 0 194.89 15.34Z" fill="#8FD8CB" />
<path d="M194.47 12.56A88.7 88.7 0 0 1 194.76 12.55L194.89 15.34A85.9 85.9 0 0 0 194.61 15.36Z" fill="#BDBDBD" />
<path d="M248.32 27.49A88.7 88.7 0 0 1 255.09 32.52L253.32 34.69A85.9 85.9 0 0 0 246.76 29.82Z" fill="#3FA0DA" />
<path d="M247.93 27.23A88.7 88.7 0 0 1 248.32 27.49L246.76 29.82A85.9 85.9 0 0 0 246.38 29.57Z" fill="#38BFB9" />
<path d="M246 25.99A88.7 88.7 0 0 1 247.93 27.23L246.38 29.57A85.9 85.9 0 0 0 244.51 28.36Z" fill="#B0C12B" />
<path d="M244.36 24.98A88.7 88.7 0 0 1 246 25.99L244.51 28.36A85.9 85.9 0 0 0 242.92 27.39Z" fill="#FDCB2F" />
<path d="M243.08 24.23A88.7 88.7 0 0 1 244.36 24.98L242.92 27.39A85.9 85.9 0 0 0 241.68 26.66Z" fill="#FBA22B" />
<path d="M242.62 23.97A88.7 88.7 0 0 1 243.08 24.23L241.68 26.66A85.9 85.9 0 0 0 241.24 26.41Z" fill="#F56A2E" />
<path d="M241.32 23.25A88.7 88.7 0 0 1 242.62 23.97L241.24 26.41A85.9 85.9 0 0 0 239.98 25.71Z" fill="#A56BE0" />
<path d="M241.18 23.18A88.7 88.7 0 0 1 241.32 23.25L239.98 25.71A85.9 85.9 0 0 0 239.85 25.64Z" fill="#1257CF" />
<path d="M240.28 22.69A88.7 88.7 0 0 1 241.18 23.18L239.85 25.64A85.9 85.9 0 0 0 238.97 25.17Z" fill="#FFC3D2" />
<path d="M239.49 22.28A88.7 88.7 0 0 1 240.28 22.69L238.97 25.17A85.9 85.9 0 0 0 238.21 24.77Z" fill="#8FD8CB" />
<path d="M238.32 21.69A88.7 88.7 0 0 1 239.49 22.28L238.21 24.77A85.9 85.9 0 0 0 237.08 24.2Z" fill="#BDBDBD" />
<path d="M261.21 38.02A88.7 88.7 0 0 1 263.9 40.8L261.85 42.7A85.9 85.9 0 0 0 259.24 40.01Z" fill="#3FA0DA" />
<path d="M260.59 37.42A88.7 88.7 0 0 1 261.21 38.02L259.24 40.01A85.9 85.9 0 0 0 258.65 39.43Z" fill="#38BFB9" />
<path d="M259.37 36.26A88.7 88.7 0 0 1 260.59 37.42L258.65 39.43A85.9 85.9 0 0 0 257.46 38.31Z" fill="#B0C12B" />
<path d="M258.59 35.54A88.7 88.7 0 0 1 259.37 36.26L257.46 38.31A85.9 85.9 0 0 0 256.71 37.61Z" fill="#FDCB2F" />
<path d="M258.05 35.06A88.7 88.7 0 0 1 258.59 35.54L256.71 37.61A85.9 85.9 0 0 0 256.19 37.14Z" fill="#FBA22B" />
<path d="M257.18 34.28A88.7 88.7 0 0 1 258.05 35.06L256.19 37.14A85.9 85.9 0 0 0 255.34 36.39Z" fill="#F56A2E" />
<path d="M256.74 33.9A88.7 88.7 0 0 1 257.18 34.28L255.34 36.39A85.9 85.9 0 0 0 254.91 36.02Z" fill="#A56BE0" />
<path d="M256.7 33.87A88.7 88.7 0 0 1 256.74 33.9L254.91 36.02A85.9 85.9 0 0 0 254.88 36Z" fill="#1257CF" />
<path d="M256.45 33.65A88.7 88.7 0 0 1 256.7 33.87L254.88 36A85.9 85.9 0 0 0 254.63 35.78Z" fill="#FFC3D2" />
<path d="M256.32 33.55A88.7 88.7 0 0 1 256.45 33.65L254.63 35.78A85.9 85.9 0 0 0 254.51 35.68Z" fill="#8FD8CB" />
<path d="M256.05 33.31A88.7 88.7 0 0 1 256.32 33.55L254.51 35.68A85.9 85.9 0 0 0 254.24 35.46Z" fill="#BDBDBD" />
<path d="M276.91 58.93A88.7 88.7 0 0 1 282.02 70.18L279.39 71.16A85.9 85.9 0 0 0 274.45 60.27Z" fill="#3FA0DA" />
<path d="M276.65 58.47A88.7 88.7 0 0 1 276.91 58.93L274.45 60.27A85.9 85.9 0 0 0 274.2 59.81Z" fill="#38BFB9" />
<path d="M275.14 55.82A88.7 88.7 0 0 1 276.65 58.47L274.2 59.81A85.9 85.9 0 0 0 272.73 57.25Z" fill="#B0C12B" />
<path d="M273.85 53.71A88.7 88.7 0 0 1 275.14 55.82L272.73 57.25A85.9 85.9 0 0 0 271.48 55.21Z" fill="#FDCB2F" />
<path d="M273.24 52.77A88.7 88.7 0 0 1 273.85 53.71L271.48 55.21A85.9 85.9 0 0 0 270.89 54.29Z" fill="#FBA22B" />
<path d="M268.48 46.14A88.7 88.7 0 0 1 273.24 52.77L270.89 54.29A85.9 85.9 0 0 0 266.29 47.88Z" fill="#F56A2E" />
<path d="M267.35 44.73A88.7 88.7 0 0 1 268.48 46.14L266.29 47.88A85.9 85.9 0 0 0 265.19 46.52Z" fill="#A56BE0" />
<path d="M267.17 44.52A88.7 88.7 0 0 1 267.35 44.73L265.19 46.52A85.9 85.9 0 0 0 265.01 46.31Z" fill="#1257CF" />
<path d="M266.5 43.72A88.7 88.7 0 0 1 267.17 44.52L265.01 46.31A85.9 85.9 0 0 0 264.36 45.53Z" fill="#FFC3D2" />
<path d="M265.84 42.95A88.7 88.7 0 0 1 266.5 43.72L264.36 45.53A85.9 85.9 0 0 0 263.72 44.79Z" fill="#8FD8CB" />
<path d="M264.84 41.83A88.7 88.7 0 0 1 265.84 42.95L263.72 44.79A85.9 85.9 0 0 0 262.76 43.7Z" fill="#BDBDBD" />
<path d="M286.08 84.8A88.7 88.7 0 0 1 287.25 93.24L284.46 93.49A85.9 85.9 0 0 0 283.33 85.31Z" fill="#3FA0DA" />
<path d="M286.01 84.45A88.7 88.7 0 0 1 286.08 84.8L283.33 85.31A85.9 85.9 0 0 0 283.26 84.98Z" fill="#38BFB9" />
<path d="M285.5 81.94A88.7 88.7 0 0 1 286.01 84.45L283.26 84.98A85.9 85.9 0 0 0 282.76 82.55Z" fill="#B0C12B" />
<path d="M284.56 78.11A88.7 88.7 0 0 1 285.5 81.94L282.76 82.55A85.9 85.9 0 0 0 281.85 78.84Z" fill="#FDCB2F" />
<path d="M284.26 77.05A88.7 88.7 0 0 1 284.56 78.11L281.85 78.84A85.9 85.9 0 0 0 281.57 77.81Z" fill="#FBA22B" />
<path d="M284.15 76.67A88.7 88.7 0 0 1 284.26 77.05L281.57 77.81A85.9 85.9 0 0 0 281.46 77.44Z" fill="#F56A2E" />
<path d="M283.61 74.86A88.7 88.7 0 0 1 284.15 76.67L281.46 77.44A85.9 85.9 0 0 0 280.94 75.69Z" fill="#A56BE0" />
<path d="M283.59 74.77A88.7 88.7 0 0 1 283.61 74.86L280.94 75.69A85.9 85.9 0 0 0 280.91 75.6Z" fill="#1257CF" />
<path d="M283.38 74.12A88.7 88.7 0 0 1 283.59 74.77L280.91 75.6A85.9 85.9 0 0 0 280.71 74.97Z" fill="#FFC3D2" />
<path d="M283.18 73.49A88.7 88.7 0 0 1 283.38 74.12L280.71 74.97A85.9 85.9 0 0 0 280.52 74.36Z" fill="#8FD8CB" />
<path d="M282.55 71.64A88.7 88.7 0 0 1 283.18 73.49L280.52 74.36A85.9 85.9 0 0 0 279.91 72.57Z" fill="#BDBDBD" />
<path d="M104.25 93.03A95 95 0 0 1 105.04 86.45L108.6 87.01A91.4 91.4 0 0 0 107.83 93.34Z" fill="#E64B35" />
<path d="M105.31 84.82A95 95 0 0 1 114.63 57.3L117.82 58.96A91.4 91.4 0 0 0 108.86 85.44Z" fill="#4DBBD5" />
<path d="M115.33 55.98A95 95 0 0 1 157.71 15.54L159.27 18.79A91.4 91.4 0 0 0 118.49 57.69Z" fill="#00A087" />
<path d="M158.76 15.05A95 95 0 0 1 179.18 8.22L179.93 11.74A91.4 91.4 0 0 0 160.28 18.31Z" fill="#3C5488" />
<path d="M180.49 7.95A95 95 0 0 1 192.66 6.36L192.9 9.95A91.4 91.4 0 0 0 181.18 11.48Z" fill="#F39B7F" />
<path d="M194.15 6.27A95 95 0 0 1 239.93 15.46L238.37 18.71A91.4 91.4 0 0 0 194.33 9.86Z" fill="#8491B4" />
<path d="M241.12 16.05A95 95 0 0 1 259.08 27.65L256.8 30.43A91.4 91.4 0 0 0 239.52 19.27Z" fill="#91D1C2" />
<path d="M260.11 28.5A95 95 0 0 1 268.52 36.51L265.88 38.96A91.4 91.4 0 0 0 257.79 31.25Z" fill="#DC0000" />
<path d="M269.53 37.62A95 95 0 0 1 287.92 67.98L284.55 69.24A91.4 91.4 0 0 0 266.85 40.02Z" fill="#7E6148" />
<path d="M288.49 69.54A95 95 0 0 1 293.52 92.68L289.94 93A91.4 91.4 0 0 0 285.09 70.74Z" fill="#B09C85" />
<path d="M293.58 108.93A95 95 0 0 1 260.21 173.72L257.89 170.97A91.4 91.4 0 0 0 289.99 108.63Z" fill="#3FA0DA" />
<path d="M259.45 174.35A95 95 0 0 1 178.11 193.85L178.9 190.34A91.4 91.4 0 0 0 257.16 171.58Z" fill="#38BFB9" />
<path d="M176.66 193.51A95 95 0 0 1 159.18 187.45L160.68 184.18A91.4 91.4 0 0 0 177.5 190.01Z" fill="#B0C12B" />
<path d="M157.98 186.88A95 95 0 0 1 141.6 176.93L143.78 174.06A91.4 91.4 0 0 0 159.53 183.64Z" fill="#FDCB2F" />
<path d="M140.55 176.12A95 95 0 0 1 127.67 164.01L130.37 161.63A91.4 91.4 0 0 0 142.76 173.28Z" fill="#FBA22B" />
<path d="M126.69 162.88A95 95 0 0 1 117.09 149.43L120.19 147.6A91.4 91.4 0 0 0 129.43 160.55Z" fill="#F56A2E" />
<path d="M116.42 148.29A95 95 0 0 1 111.36 138.06L114.68 136.66A91.4 91.4 0 0 0 119.55 146.5Z" fill="#A56BE0" />
<path d="M110.92 136.99A95 95 0 0 1 108.18 129.35L111.62 128.28A91.4 91.4 0 0 0 114.25 135.63Z" fill="#1257CF" />
<path d="M107.84 128.24A95 95 0 0 1 106.4 122.8L109.91 121.98A91.4 91.4 0 0 0 111.3 127.22Z" fill="#FFC3D2" />
<path d="M106.14 121.67A95 95 0 0 1 105.34 117.61L108.88 116.99A91.4 91.4 0 0 0 109.66 120.89Z" fill="#8FD8CB" />
<path d="M105.09 116.14A95 95 0 0 1 104.22 108.91L107.81 108.62A91.4 91.4 0 0 0 108.65 115.57Z" fill="#BDBDBD" />
<path d="M104.25 93.03L101.96 92.83M104.59 89.73L103.4 89.59M105.31 84.82L103.05 84.42M105.94 81.56L104.77 81.31M106.68 78.33L105.52 78.04M107.53 75.12L106.38 74.79M108.5 71.95L107.36 71.58M109.57 68.81L107.41 68.03M110.76 65.72L109.64 65.27M112.05 62.66L110.95 62.17M113.44 59.65L112.36 59.13M115.33 55.98L113.3 54.88M116.95 53.09L115.92 52.48M118.68 50.26L117.67 49.62M120.51 47.49L119.52 46.81M122.43 44.79L121.46 44.07M124.44 42.15L122.64 40.72M126.54 39.59L125.63 38.81M128.74 37.1L127.85 36.29M131.02 34.69L130.16 33.85M133.38 32.36L132.55 31.49M135.82 30.12L134.29 28.4M138.33 27.96L137.57 27.04M140.93 25.89L140.19 24.94M143.59 23.91L142.89 22.94M146.32 22.03L145.65 21.03M149.11 20.24L147.9 18.28M151.96 18.55L151.37 17.51M154.87 16.97L154.32 15.9M158.76 15.05L157.79 12.96M161.79 13.7L161.32 12.59M164.87 12.46L164.44 11.34M167.98 11.32L167.59 10.19M171.14 10.3L170.78 9.15M174.32 9.38L173.73 7.16M177.54 8.58L177.27 7.41M180.49 7.95L180.04 5.7M183.75 7.37L183.56 6.18M187.03 6.89L186.88 5.7M190.33 6.54L190.22 5.34M194.15 6.27L194.04 3.97M197.47 6.16L197.45 4.96M200.78 6.17L200.81 4.97M204.1 6.29L204.16 5.09M207.4 6.53L207.51 5.34M210.7 6.89L210.99 4.6M213.98 7.35L214.17 6.17M217.25 7.94L217.48 6.76M220.49 8.64L220.76 7.47M223.7 9.45L224.02 8.29M226.89 10.37L227.57 8.17M230.04 11.4L230.43 10.27M233.15 12.54L233.59 11.42M236.23 13.79L236.7 12.69M239.25 15.15L239.76 14.06M241.12 16.05L242.14 13.99M244.06 17.57L244.63 16.52M246.95 19.2L247.56 18.16M249.78 20.93L250.43 19.91M252.55 22.75L253.23 21.76M255.26 24.67L256.62 22.82M257.89 26.68L258.64 25.74M260.11 28.5L261.59 26.74M262.61 30.68L263.41 29.79M265.03 32.94L265.86 32.08M267.37 35.29L268.23 34.46M269.53 37.62L271.24 36.08M271.7 40.12L272.62 39.35M273.79 42.7L274.73 41.96M275.78 45.35L276.75 44.64M277.68 48.06L278.68 47.39M279.49 50.85L281.44 49.63M281.19 53.69L282.23 53.09M282.8 56.59L283.86 56.03M284.31 59.54L285.38 59.02M285.71 62.55L286.8 62.06M287 65.6L289.13 64.74M288.49 69.54L290.66 68.78M289.54 72.69L290.68 72.33M290.47 75.87L291.63 75.55M291.3 79.08L292.47 78.8M292.01 82.32L293.19 82.08M292.61 85.58L294.88 85.2M293.1 88.86L294.29 88.7M293.47 92.15L294.67 92.04M293.58 108.93L295.87 109.11M293.25 112.23L294.44 112.37M292.81 115.51L293.99 115.69M292.25 118.78L293.43 119M291.58 122.03L292.75 122.29M290.79 125.25L293.02 125.83M289.9 128.44L291.04 128.79M288.89 131.6L290.02 131.99M287.77 134.72L288.89 135.15M286.54 137.8L287.65 138.27M285.21 140.84L287.3 141.8M283.77 143.83L284.85 144.37M282.23 146.76L283.29 147.34M280.59 149.64L281.62 150.26M278.85 152.47L279.86 153.11M277.01 155.23L278.9 156.53M275.07 157.92L276.04 158.64M273.05 160.54L273.98 161.29M270.93 163.09L271.84 163.88M268.72 165.57L269.6 166.38M266.43 167.97L268.07 169.58M264.06 170.28L264.88 171.16M261.61 172.51L262.4 173.42M259.45 174.35L260.92 176.13M256.86 176.42L257.59 177.37M254.2 178.4L254.89 179.37M251.47 180.28L252.13 181.28M248.67 182.07L249.3 183.09M245.82 183.76L246.95 185.76M242.91 185.34L243.46 186.41M239.94 186.83L240.46 187.91M236.93 188.21L237.41 189.31M233.87 189.48L234.31 190.6M230.76 190.65L231.53 192.81M227.62 191.71L227.98 192.85M224.44 192.65L224.76 193.81M221.23 193.49L221.51 194.65M218 194.21L218.24 195.39M214.74 194.82L215.12 197.09M211.46 195.32L211.62 196.51M208.16 195.7L208.28 196.89M204.86 195.96L204.93 197.16M201.55 196.11L201.58 197.31M198.23 196.15L198.21 198.45M194.91 196.07L194.86 197.27M191.6 195.87L191.51 197.07M188.3 195.56L188.17 196.75M185.01 195.13L184.84 196.32M181.74 194.59L181.33 196.85M178.49 193.93L178.24 195.1M176.66 193.51L176.12 195.75M173.45 192.68L173.13 193.83M170.27 191.73L169.91 192.88M167.13 190.68L166.73 191.81M164.02 189.52L163.58 190.63M160.96 188.25L160.04 190.35M157.98 186.88L156.99 188.96M155.01 185.4L154.46 186.47M152.1 183.82L151.51 184.87M149.24 182.14L148.61 183.16M146.44 180.35L145.78 181.36M143.71 178.48L142.38 180.35M140.55 176.12L139.14 177.94M137.97 174.04L137.2 174.96M135.47 171.87L134.66 172.76M133.04 169.61L132.2 170.48M130.69 167.27L129.83 168.11M128.42 164.85L126.71 166.39M126.69 162.88L124.95 164.38M124.58 160.33L123.64 161.07M122.56 157.7L121.6 158.41M120.64 155L119.65 155.68M118.8 152.23L117.79 152.88M116.42 148.29L114.42 149.43M114.83 145.38L113.76 145.94M113.33 142.42L112.25 142.94M111.94 139.41L110.85 139.89M110.92 136.99L108.79 137.85M109.72 133.89L108.59 134.31M108.63 130.76L107.49 131.13M107.84 128.24L105.64 128.9M106.95 125.05L105.79 125.35M106.14 121.67L103.9 122.17M105.48 118.42L104.3 118.64M105.09 116.14L102.82 116.51M104.62 112.86L103.43 113.01M104.27 109.56L103.08 109.67" stroke="#111" stroke-width="0.6" fill="none"/>
<path d="M104.25 93.03A95 95 0 0 1 105.04 86.45" stroke="#111" stroke-width="0.6" fill="none"/>
<path d="M105.31 84.82A95 95 0 0 1 114.63 57.3" stroke="#111" stroke-width="0.6" fill="none"/>
<path d="M115.33 55.98A95 95 0 0 1 157.71 15.54" stroke="#111" stroke-width="0.6" fill="none"/>
<path d="M158.76 15.05A95 95 0 0 1 179.18 8.22" stroke="#111" stroke-width="0.6" fill="none"/>
<path d="M180.49 7.95A95 95 0 0 1 192.66 6.36" stroke="#111" stroke-width="0.6" fill="none"/>
<path d="M194.15 6.27A95 95 0 0 1 239.93 15.46" stroke="#111" stroke-width="0.6" fill="none"/>
<path d="M241.12 16.05A95 95 0 0 1 259.08 27.65" stroke="#111" stroke-width="0.6" fill="none"/>
<path d="M260.11 28.5A95 95 0 0 1 268.52 36.51" stroke="#111" stroke-width="0.6" fill="none"/>
<path d="M269.53 37.62A95 95 0 0 1 287.92 67.98" stroke="#111" stroke-width="0.6" fill="none"/>
<path d="M288.49 69.54A95 95 0 0 1 293.52 92.68" stroke="#111" stroke-width="0.6" fill="none"/>
<path d="M293.58 108.93A95 95 0 0 1 260.21 173.72" stroke="#111" stroke-width="0.6" fill="none"/>
<path d="M259.45 174.35A95 95 0 0 1 178.11 193.85" stroke="#111" stroke-width="0.6" fill="none"/>
<path d="M176.66 193.51A95 95 0 0 1 159.18 187.45" stroke="#111" stroke-width="0.6" fill="none"/>
<path d="M157.98 186.88A95 95 0 0 1 141.6 176.93" stroke="#111" stroke-width="0.6" fill="none"/>
<path d="M140.55 176.12A95 95 0 0 1 127.67 164.01" stroke="#111" stroke-width="0.6" fill="none"/>
<path d="M126.69 162.88A95 95 0 0 1 117.09 149.43" stroke="#111" stroke-width="0.6" fill="none"/>
<path d="M116.42 148.29A95 95 0 0 1 111.36 138.06" stroke="#111" stroke-width="0.6" fill="none"/>
<path d="M110.92 136.99A95 95 0 0 1 108.18 129.35" stroke="#111" stroke-width="0.6" fill="none"/>
<path d="M107.84 128.24A95 95 0 0 1 106.4 122.8" stroke="#111" stroke-width="0.6" fill="none"/>
<path d="M106.14 121.67A95 95 0 0 1 105.34 117.61" stroke="#111" stroke-width="0.6" fill="none"/>
<path d="M105.09 116.14A95 95 0 0 1 104.22 108.91" stroke="#111" stroke-width="0.6" fill="none"/>
<g font-size="24" fill="#444" text-anchor="middle">
<text transform="translate(100.06 92.67) rotate(-85.1) scale(.1)">0</text>
<text transform="translate(101.18 84.09) rotate(-80.1) scale(.1)">0</text>
<text transform="translate(105.62 67.38) rotate(-70.1) scale(.1)">5</text>
<text transform="translate(111.63 53.98) rotate(-61.61) scale(.1)">0</text>
<text transform="translate(121.15 39.54) rotate(-51.61) scale(.1)">5</text>
<text transform="translate(133.03 26.98) rotate(-41.61) scale(.1)">10</text>
<text transform="translate(146.91 16.67) rotate(-31.61) scale(.1)">15</text>
<text transform="translate(156.99 11.24) rotate(-24.99) scale(.1)">0</text>
<text transform="translate(173.24 5.33) rotate(-14.99) scale(.1)">5</text>
<text transform="translate(179.67 3.83) rotate(-11.18) scale(.1)">0</text>
<text transform="translate(193.94 2.07) rotate(-2.86) scale(.1)">0</text>
<text transform="translate(211.22 2.72) rotate(7.14) scale(.1)">5</text>
<text transform="translate(228.13 6.35) rotate(17.14) scale(.1)">10</text>
<text transform="translate(242.99 12.28) rotate(26.39) scale(.1)">0</text>
<text transform="translate(257.75 21.29) rotate(36.39) scale(.1)">5</text>
<text transform="translate(262.81 25.28) rotate(40.11) scale(.1)">0</text>
<text transform="translate(272.65 34.81) rotate(48.03) scale(.1)">0</text>
<text transform="translate(283.05 48.62) rotate(58.03) scale(.1)">5</text>
<text transform="translate(290.89 64.03) rotate(68.03) scale(.1)">10</text>
<text transform="translate(292.45 68.14) rotate(70.57) scale(.1)">0</text>
<text transform="translate(296.76 84.89) rotate(80.57) scale(.1)">5</text>
<text transform="translate(299.49 109.41) rotate(-85.3) scale(.1)">0</text>
<text transform="translate(296.53 126.75) rotate(-75.3) scale(.1)">20</text>
<text transform="translate(290.6 143.32) rotate(-65.3) scale(.1)">40</text>
<text transform="translate(281.88 158.6) rotate(-55.3) scale(.1)">60</text>
<text transform="translate(270.65 172.14) rotate(-45.3) scale(.1)">80</text>
<text transform="translate(263.23 178.92) rotate(-39.6) scale(.1)">0</text>
<text transform="translate(248.75 188.91) rotate(-29.6) scale(.1)">20</text>
<text transform="translate(232.75 196.23) rotate(-19.6) scale(.1)">40</text>
<text transform="translate(215.72 200.67) rotate(-9.6) scale(.1)">60</text>
<text transform="translate(198.19 202.08) rotate(0.4) scale(.1)">80</text>
<text transform="translate(180.67 200.42) rotate(10.4) scale(.1)">100</text>
<text transform="translate(175.27 199.27) rotate(13.54) scale(.1)">0</text>
<text transform="translate(158.59 193.68) rotate(23.54) scale(.1)">20</text>
<text transform="translate(155.42 192.23) rotate(25.52) scale(.1)">0</text>
<text transform="translate(140.27 183.3) rotate(35.52) scale(.1)">20</text>
<text transform="translate(136.91 180.8) rotate(37.89) scale(.1)">0</text>
<text transform="translate(124.02 168.83) rotate(47.89) scale(.1)">20</text>
<text transform="translate(122.19 166.74) rotate(49.47) scale(.1)">0</text>
<text transform="translate(111.27 151.23) rotate(60.25) scale(.1)">0</text>
<text transform="translate(105.43 139.22) rotate(67.84) scale(.1)">0</text>
<text transform="translate(102.16 129.93) rotate(73.43) scale(.1)">0</text>
<text transform="translate(100.36 122.95) rotate(77.52) scale(.1)">0</text>
<text transform="translate(99.24 117.08) rotate(80.92) scale(.1)">0</text>
</g>
</g>
<g>
<g fill-opacity="0.9" stroke="#fff" stroke-width="0.22" stroke-opacity="0.42">
<path d="M382.37 90.03A81.2 81.2 0 0 1 382.61 88.37Q462.8 101.15 534.32 151.04L535.58 153.06L533.26 152.52Q462.8 101.15 382.37 90.03Z" fill="#3FA0DA"/>
<path d="M393.35 59.08A81.2 81.2 0 0 1 397.11 53.42Q462.8 101.15 538.27 144.82L538.22 149.16L534.32 151.04Q462.8 101.15 393.35 59.08Z" fill="#3FA0DA"/>
<path d="M415.46 35.18A81.2 81.2 0 0 1 418.82 32.89Q462.8 101.15 540.38 140.96L541.28 143.96L538.27 144.82Q462.8 101.15 415.46 35.18Z" fill="#3FA0DA"/>
<path d="M432.44 25.84A81.2 81.2 0 0 1 436.57 24.3Q462.8 101.15 542.44 136.66L543.43 139.77L540.38 140.96Q462.8 101.15 432.44 25.84Z" fill="#3FA0DA"/>
<path d="M449.8 21A81.2 81.2 0 0 1 451.62 20.72Q462.8 101.15 543.24 134.82L544.86 136.61L542.44 136.66Q462.8 101.15 449.8 21Z" fill="#3FA0DA"/>
<path d="M461.57 19.96A81.2 81.2 0 0 1 463.23 19.95Q462.8 101.15 543.91 133.16L545.62 134.82L543.24 134.82Q462.8 101.15 461.57 19.96Z" fill="#3FA0DA"/>
<path d="M481.73 22.19A81.2 81.2 0 0 1 487.64 23.84Q462.8 101.15 546.11 126.89L547.15 130.77L543.91 133.16Q462.8 101.15 481.73 22.19Z" fill="#3FA0DA"/>
<path d="M511.66 36.29A81.2 81.2 0 0 1 516.7 40.42Q462.8 101.15 547.92 120.07L549.21 124.06L546.11 126.89Q462.8 101.15 511.66 36.29Z" fill="#3FA0DA"/>
<path d="M533.52 61.26A81.2 81.2 0 0 1 536.16 66.34Q462.8 101.15 549.05 113.98L550.7 117.44L547.92 120.07Q462.8 101.15 533.52 61.26Z" fill="#3FA0DA"/>
<path d="M543.06 88.8A81.2 81.2 0 0 1 543.68 93.96Q462.8 101.15 549.7 108.39L551.61 111.45L549.05 113.98Q462.8 101.15 543.06 88.8Z" fill="#3FA0DA"/>
<path d="M382.32 90.38A81.2 81.2 0 0 1 382.37 90.03Q462.8 101.15 525.73 161.51L527.18 163.17L525.47 161.78Q462.8 101.15 382.32 90.38Z" fill="#38BFB9"/>
<path d="M389.7 65.8A81.2 81.2 0 0 1 393.35 59.08Q462.8 101.15 531.17 155.27L530.18 159.9L525.73 161.51Q462.8 101.15 389.7 65.8Z" fill="#38BFB9"/>
<path d="M415.29 35.3A81.2 81.2 0 0 1 415.46 35.18Q462.8 101.15 531.32 155.09L532.97 156.54L531.17 155.27Q462.8 101.15 415.29 35.3Z" fill="#38BFB9"/>
<path d="M432.21 25.93A81.2 81.2 0 0 1 432.44 25.84Q462.8 101.15 531.48 154.88L533.13 156.34L531.32 155.09Q462.8 101.15 432.21 25.93Z" fill="#38BFB9"/>
<path d="M449.7 21.01A81.2 81.2 0 0 1 449.8 21Q462.8 101.15 531.55 154.79L533.25 156.19L531.48 154.88Q462.8 101.15 449.7 21.01Z" fill="#38BFB9"/>
<path d="M461.5 19.96A81.2 81.2 0 0 1 461.57 19.96Q462.8 101.15 531.59 154.74L533.3 156.12L531.55 154.79Q462.8 101.15 461.5 19.96Z" fill="#38BFB9"/>
<path d="M481.44 22.12A81.2 81.2 0 0 1 481.73 22.19Q462.8 101.15 531.8 154.47L533.43 155.95L531.59 154.74Q462.8 101.15 481.44 22.12Z" fill="#38BFB9"/>
<path d="M511.49 36.16A81.2 81.2 0 0 1 511.66 36.29Q462.8 101.15 531.94 154.29L533.61 155.72L531.8 154.47Q462.8 101.15 511.49 36.16Z" fill="#38BFB9"/>
<path d="M533.32 60.89A81.2 81.2 0 0 1 533.52 61.26Q462.8 101.15 532.21 153.93L533.82 155.45L531.94 154.29Q462.8 101.15 533.32 60.89Z" fill="#38BFB9"/>
<path d="M543 88.45A81.2 81.2 0 0 1 543.06 88.8Q462.8 101.15 532.45 153.62L534.09 155.1L532.21 153.93Q462.8 101.15 543 88.45Z" fill="#38BFB9"/>
<path d="M382.27 90.72A81.2 81.2 0 0 1 382.32 90.38Q462.8 101.15 516.28 170.03L517.48 171.88L515.99 170.25Q462.8 101.15 382.27 90.72Z" fill="#B0C12B"/>
<path d="M387.2 71.53A81.2 81.2 0 0 1 389.7 65.8Q462.8 101.15 521.46 165.67L520.33 169.58L516.28 170.03Q462.8 101.15 387.2 71.53Z" fill="#B0C12B"/>
<path d="M415.12 35.42A81.2 81.2 0 0 1 415.29 35.3Q462.8 101.15 521.62 165.52L523.02 167.22L521.46 165.67Q462.8 101.15 415.12 35.42Z" fill="#B0C12B"/>
<path d="M431.98 26.02A81.2 81.2 0 0 1 432.21 25.93Q462.8 101.15 521.82 165.34L523.21 167.05L521.62 165.52Q462.8 101.15 431.98 26.02Z" fill="#B0C12B"/>
<path d="M449.61 21.03A81.2 81.2 0 0 1 449.7 21.01Q462.8 101.15 521.89 165.27L523.35 166.93L521.82 165.34Q462.8 101.15 449.61 21.03Z" fill="#B0C12B"/>
<path d="M461.43 19.96A81.2 81.2 0 0 1 461.5 19.96Q462.8 101.15 521.95 165.22L523.41 166.87L521.89 165.27Q462.8 101.15 461.43 19.96Z" fill="#B0C12B"/>
<path d="M481.14 22.05A81.2 81.2 0 0 1 481.44 22.12Q462.8 101.15 522.19 165L523.56 166.73L521.95 165.22Q462.8 101.15 481.14 22.05Z" fill="#B0C12B"/>
<path d="M511.15 35.91A81.2 81.2 0 0 1 511.49 36.16Q462.8 101.15 522.52 164.69L523.85 166.45L522.19 165Q462.8 101.15 511.15 35.91Z" fill="#B0C12B"/>
<path d="M532.48 59.47A81.2 81.2 0 0 1 533.32 60.89Q462.8 101.15 523.81 163.46L524.69 165.67L522.52 164.69Q462.8 101.15 532.48 59.47Z" fill="#B0C12B"/>
<path d="M542.83 87.4A81.2 81.2 0 0 1 543 88.45Q462.8 101.15 524.62 162.65L525.76 164.62L523.81 163.46Q462.8 101.15 542.83 87.4Z" fill="#B0C12B"/>
<path d="M382.19 91.41A81.2 81.2 0 0 1 382.27 90.72Q462.8 101.15 485.62 185.31L485.82 187.54L484.88 185.51Q462.8 101.15 382.19 91.41Z" fill="#FDCB2F"/>
<path d="M385.83 75.27A81.2 81.2 0 0 1 387.2 71.53Q462.8 101.15 489.75 184.08L488.32 186.83L485.62 185.31Q462.8 101.15 385.83 75.27Z" fill="#FDCB2F"/>
<path d="M413.31 36.78A81.2 81.2 0 0 1 415.12 35.42Q462.8 101.15 492.07 183.29L491.62 185.78L489.75 184.08Q462.8 101.15 413.31 36.78Z" fill="#FDCB2F"/>
<path d="M428.3 27.64A81.2 81.2 0 0 1 431.98 26.02Q462.8 101.15 496.14 181.73L494.9 184.59L492.07 183.29Q462.8 101.15 428.3 27.64Z" fill="#FDCB2F"/>
<path d="M448.35 21.25A81.2 81.2 0 0 1 449.61 21.03Q462.8 101.15 497.42 181.18L497.63 183.48L496.14 181.73Q462.8 101.15 448.35 21.25Z" fill="#FDCB2F"/>
<path d="M460.32 19.99A81.2 81.2 0 0 1 461.43 19.96Q462.8 101.15 498.52 180.7L498.85 182.96L497.42 181.18Q462.8 101.15 460.32 19.99Z" fill="#FDCB2F"/>
<path d="M479.34 21.65A81.2 81.2 0 0 1 481.14 22.05Q462.8 101.15 500.33 179.86L500.35 182.28L498.52 180.7Q462.8 101.15 479.34 21.65Z" fill="#FDCB2F"/>
<path d="M506.43 32.67A81.2 81.2 0 0 1 511.15 35.91Q462.8 101.15 505.83 176.99L504.13 180.43L500.33 179.86Q462.8 101.15 506.43 32.67Z" fill="#FDCB2F"/>
<path d="M529.43 54.74A81.2 81.2 0 0 1 532.48 59.47Q462.8 101.15 511.03 173.8L509.61 177.32L505.83 176.99Q462.8 101.15 529.43 54.74Z" fill="#FDCB2F"/>
<path d="M541.92 82.91A81.2 81.2 0 0 1 542.83 87.4Q462.8 101.15 515.08 170.94L514.34 174.2L511.03 173.8Q462.8 101.15 541.92 82.91Z" fill="#FDCB2F"/>
<path d="M382.15 91.74A81.2 81.2 0 0 1 382.19 91.41Q462.8 101.15 474.06 187.62L474.17 189.82L473.71 187.66Q462.8 101.15 382.15 91.74Z" fill="#FBA22B"/>
<path d="M384.35 80.21A81.2 81.2 0 0 1 385.83 75.27Q462.8 101.15 479.57 186.72L477.18 189.39L474.06 187.62Q462.8 101.15 384.35 80.21Z" fill="#FBA22B"/>
<path d="M412.99 37.02A81.2 81.2 0 0 1 413.31 36.78Q462.8 101.15 479.99 186.64L480.21 188.84L479.57 186.72Q462.8 101.15 412.99 37.02Z" fill="#FBA22B"/>
<path d="M427.88 27.84A81.2 81.2 0 0 1 428.3 27.64Q462.8 101.15 480.49 186.54L480.68 188.74L479.99 186.64Q462.8 101.15 427.88 27.84Z" fill="#FBA22B"/>
<path d="M447.82 21.34A81.2 81.2 0 0 1 448.35 21.25Q462.8 101.15 481.05 186.42L481.22 188.63L480.49 186.54Q462.8 101.15 447.82 21.34Z" fill="#FBA22B"/>
<path d="M460.19 19.99A81.2 81.2 0 0 1 460.32 19.99Q462.8 101.15 481.19 186.39L481.58 188.55L481.05 186.42Q462.8 101.15 460.19 19.99Z" fill="#FBA22B"/>
<path d="M478.22 21.43A81.2 81.2 0 0 1 479.34 21.65Q462.8 101.15 482.4 186.12L482.28 188.4L481.19 186.39Q462.8 101.15 478.22 21.43Z" fill="#FBA22B"/>
<path d="M506.09 32.45A81.2 81.2 0 0 1 506.43 32.67Q462.8 101.15 482.82 186.02L483.11 188.21L482.4 186.12Q462.8 101.15 506.09 32.45Z" fill="#FBA22B"/>
<path d="M529.21 54.42A81.2 81.2 0 0 1 529.43 54.74Q462.8 101.15 483.23 185.92L483.54 188.11L482.82 186.02Q462.8 101.15 529.21 54.42Z" fill="#FBA22B"/>
<path d="M541.89 82.74A81.2 81.2 0 0 1 541.92 82.91Q462.8 101.15 483.41 185.88L483.84 188.04L483.23 185.92Q462.8 101.15 541.89 82.74Z" fill="#FBA22B"/>
<path d="M384.28 80.46A81.2 81.2 0 0 1 384.35 80.21Q462.8 101.15 455.21 188.02L454.88 190.2L454.93 187.99Q462.8 101.15 384.28 80.46Z" fill="#F56A2E"/>
<path d="M402.03 47.29A81.2 81.2 0 0 1 412.99 37.02Q462.8 101.15 471.48 187.92L463.36 190.55L455.21 188.02Q462.8 101.15 402.03 47.29Z" fill="#F56A2E"/>
<path d="M427.74 27.91A81.2 81.2 0 0 1 427.88 27.84Q462.8 101.15 471.64 187.9L471.78 190.1L471.48 187.92Q462.8 101.15 427.74 27.91Z" fill="#F56A2E"/>
<path d="M447.76 21.36A81.2 81.2 0 0 1 447.82 21.34Q462.8 101.15 471.71 187.89L471.9 190.09L471.64 187.9Q462.8 101.15 447.76 21.36Z" fill="#F56A2E"/>
<path d="M478.03 21.39A81.2 81.2 0 0 1 478.22 21.43Q462.8 101.15 471.96 187.87L472.08 190.07L471.75 187.89Q462.8 101.15 478.03 21.39Z" fill="#F56A2E"/>
<path d="M505.98 32.38A81.2 81.2 0 0 1 506.09 32.45Q462.8 101.15 472.1 187.85L472.26 190.05L471.96 187.87Q462.8 101.15 505.98 32.38Z" fill="#F56A2E"/>
<path d="M529.13 54.31A81.2 81.2 0 0 1 529.21 54.42Q462.8 101.15 472.24 187.84L472.4 190.03L472.1 187.85Q462.8 101.15 529.13 54.31Z" fill="#F56A2E"/>
<path d="M541.86 82.64A81.2 81.2 0 0 1 541.89 82.74Q462.8 101.15 472.35 187.82L472.53 190.02L472.24 187.84Q462.8 101.15 541.86 82.64Z" fill="#F56A2E"/>
<path d="M382.04 92.71A81.2 81.2 0 0 1 382.15 91.76Q462.8 101.15 416.19 174.85L414.56 176.42L415.31 174.28Q462.8 101.15 382.04 92.71Z" fill="#A56BE0"/>
<path d="M383.92 81.87A81.2 81.2 0 0 1 384.28 80.46Q462.8 101.15 417.53 175.68L415.7 177.14L416.19 174.85Q462.8 101.15 383.92 81.87Z" fill="#A56BE0"/>
<path d="M400.52 49.05A81.2 81.2 0 0 1 402.03 47.29Q462.8 101.15 419.71 176.96L417.5 178.22L417.53 175.68Q462.8 101.15 400.52 49.05Z" fill="#A56BE0"/>
<path d="M424.07 29.78A81.2 81.2 0 0 1 427.74 27.91Q462.8 101.15 423.65 179.07L420.63 179.98L419.71 176.96Q462.8 101.15 424.07 29.78Z" fill="#A56BE0"/>
<path d="M444.15 22.12A81.2 81.2 0 0 1 447.76 21.36Q462.8 101.15 427.26 180.78L424.5 181.93L423.65 179.07Q462.8 101.15 444.15 22.12Z" fill="#A56BE0"/>
<path d="M457.31 20.14A81.2 81.2 0 0 1 460.15 19.99Q462.8 101.15 430.1 181.99L427.82 183.42L427.26 180.78Q462.8 101.15 457.31 20.14Z" fill="#A56BE0"/>
<path d="M474.5 20.8A81.2 81.2 0 0 1 478.03 21.39Q462.8 101.15 433.73 183.36L431.13 184.75L430.1 181.99Q462.8 101.15 474.5 20.8Z" fill="#A56BE0"/>
<path d="M500.36 29.16A81.2 81.2 0 0 1 505.98 32.38Q462.8 101.15 440.43 185.43L436.41 186.57L433.73 183.36Q462.8 101.15 500.36 29.16Z" fill="#A56BE0"/>
<path d="M524.7 48.6A81.2 81.2 0 0 1 529.13 54.31Q462.8 101.15 448.08 187.1L443.77 188.5L440.43 185.43Q462.8 101.15 524.7 48.6Z" fill="#A56BE0"/>
<path d="M540.44 77.37A81.2 81.2 0 0 1 541.86 82.64Q462.8 101.15 453.93 187.9L450.7 189.73L448.08 187.1Q462.8 101.15 540.44 77.37Z" fill="#A56BE0"/>
<path d="M383.68 82.9A81.2 81.2 0 0 1 383.92 81.87Q462.8 101.15 413.01 172.74L411.27 174.21L412.08 172.08Q462.8 101.15 383.68 82.9Z" fill="#1257CF"/>
<path d="M400.35 49.25A81.2 81.2 0 0 1 400.52 49.05Q462.8 101.15 413.24 172.9L411.87 174.63L413.01 172.74Q462.8 101.15 400.35 49.25Z" fill="#1257CF"/>
<path d="M423.79 29.93A81.2 81.2 0 0 1 424.07 29.78Q462.8 101.15 413.52 173.09L412.13 174.81L413.24 172.9Q462.8 101.15 423.79 29.93Z" fill="#1257CF"/>
<path d="M444.03 22.15A81.2 81.2 0 0 1 444.15 22.12Q462.8 101.15 413.63 173.16L412.33 174.94L413.52 173.09Q462.8 101.15 444.03 22.15Z" fill="#1257CF"/>
<path d="M457.22 20.14A81.2 81.2 0 0 1 457.31 20.14Q462.8 101.15 413.7 173.21L412.42 175.01L413.63 173.16Q462.8 101.15 457.22 20.14Z" fill="#1257CF"/>
<path d="M474.31 20.77A81.2 81.2 0 0 1 474.5 20.8Q462.8 101.15 413.87 173.33L412.55 175.09L413.7 173.21Q462.8 101.15 474.31 20.77Z" fill="#1257CF"/>
<path d="M500.13 29.04A81.2 81.2 0 0 1 500.36 29.16Q462.8 101.15 414.11 173.49L412.76 175.23L413.87 173.33Q462.8 101.15 500.13 29.04Z" fill="#1257CF"/>
<path d="M524.54 48.4A81.2 81.2 0 0 1 524.7 48.6Q462.8 101.15 414.35 173.65L413 175.4L414.11 173.49Q462.8 101.15 524.54 48.4Z" fill="#1257CF"/>
<path d="M540.38 77.16A81.2 81.2 0 0 1 540.44 77.37Q462.8 101.15 414.55 173.78L413.23 175.55L414.35 173.65Q462.8 101.15 540.38 77.16Z" fill="#1257CF"/>
<path d="M381.98 93.33A81.2 81.2 0 0 1 382.03 92.76Q462.8 101.15 388.17 146.24L386.12 147.11L387.85 145.71Q462.8 101.15 381.98 93.33Z" fill="#FFC3D2"/>
<path d="M383.45 83.92A81.2 81.2 0 0 1 383.68 82.9Q462.8 101.15 388.76 147.21L386.58 147.88L388.17 146.24Q462.8 101.15 383.45 83.92Z" fill="#FFC3D2"/>
<path d="M399.47 50.33A81.2 81.2 0 0 1 400.35 49.25Q462.8 101.15 389.56 148.48L387.3 149.02L388.76 147.21Q462.8 101.15 399.47 50.33Z" fill="#FFC3D2"/>
<path d="M422.01 30.94A81.2 81.2 0 0 1 423.79 29.93Q462.8 101.15 390.79 150.32L388.34 150.62L389.56 148.48Q462.8 101.15 422.01 30.94Z" fill="#FFC3D2"/>
<path d="M439.18 23.46A81.2 81.2 0 0 1 444.03 22.15Q462.8 101.15 394 154.72L390.58 153.84L390.79 150.32Q462.8 101.15 439.18 23.46Z" fill="#FFC3D2"/>
<path d="M454.74 20.35A81.2 81.2 0 0 1 457.22 20.14Q462.8 101.15 395.69 156.82L393.12 157.16L394 154.72Q462.8 101.15 454.74 20.35Z" fill="#FFC3D2"/>
<path d="M468.07 20.12A81.2 81.2 0 0 1 474.31 20.77Q462.8 101.15 400.23 161.88L396.27 160.87L395.69 156.82Q462.8 101.15 468.07 20.12Z" fill="#FFC3D2"/>
<path d="M493.77 26.09A81.2 81.2 0 0 1 500.13 29.04Q462.8 101.15 405.74 167.09L401.42 166.15L400.23 161.88Q462.8 101.15 493.77 26.09Z" fill="#FFC3D2"/>
<path d="M522.94 46.59A81.2 81.2 0 0 1 524.54 48.4Q462.8 101.15 407.74 168.77L405.32 169.62L405.74 167.09Q462.8 101.15 522.94 46.59Z" fill="#FFC3D2"/>
<path d="M538.95 72.97A81.2 81.2 0 0 1 540.38 77.16Q462.8 101.15 411.54 171.69L408.28 172L407.74 168.77Q462.8 101.15 538.95 72.97Z" fill="#FFC3D2"/>
<path d="M381.96 93.54A81.2 81.2 0 0 1 381.98 93.33Q462.8 101.15 378.86 124.78L376.71 125.26L378.8 124.55Q462.8 101.15 381.96 93.54Z" fill="#8FD8CB"/>
<path d="M383.18 85.2A81.2 81.2 0 0 1 383.45 83.92Q462.8 101.15 379.26 126.14L376.94 126.07L378.86 124.78Q462.8 101.15 383.18 85.2Z" fill="#8FD8CB"/>
<path d="M398.5 51.56A81.2 81.2 0 0 1 399.47 50.33Q462.8 101.15 379.76 127.76L377.4 127.6L379.26 126.14Q462.8 101.15 398.5 51.56Z" fill="#8FD8CB"/>
<path d="M420.81 31.65A81.2 81.2 0 0 1 422.01 30.94Q462.8 101.15 380.23 129.18L377.9 129.16L379.76 127.76Q462.8 101.15 420.81 31.65Z" fill="#8FD8CB"/>
<path d="M438.05 23.81A81.2 81.2 0 0 1 439.18 23.46Q462.8 101.15 380.65 130.39L378.36 130.51L380.23 129.18Q462.8 101.15 438.05 23.81Z" fill="#8FD8CB"/>
<path d="M453.55 20.48A81.2 81.2 0 0 1 454.74 20.35Q462.8 101.15 381.09 131.61L378.8 131.75L380.65 130.39Q462.8 101.15 453.55 20.48Z" fill="#8FD8CB"/>
<path d="M465.99 20.01A81.2 81.2 0 0 1 468.07 20.12Q462.8 101.15 381.9 133.7L379.44 133.45L381.09 131.61Q462.8 101.15 465.99 20.01Z" fill="#8FD8CB"/>
<path d="M491.07 25.03A81.2 81.2 0 0 1 493.77 26.09Q462.8 101.15 383.13 136.6L380.48 136.01L381.9 133.7Q462.8 101.15 491.07 25.03Z" fill="#8FD8CB"/>
<path d="M519.71 43.23A81.2 81.2 0 0 1 522.94 46.59Q462.8 101.15 385.31 141.15L382.21 139.84L383.13 136.6Q462.8 101.15 519.71 43.23Z" fill="#8FD8CB"/>
<path d="M537.65 69.67A81.2 81.2 0 0 1 538.95 72.97Q462.8 101.15 387.15 144.52L384.28 143.9L385.31 141.15Q462.8 101.15 537.65 69.67Z" fill="#8FD8CB"/>
<path d="M381.93 93.88A81.2 81.2 0 0 1 381.96 93.54Q462.8 101.15 375.93 108.68L373.72 108.69L375.9 108.32Q462.8 101.15 381.93 93.88Z" fill="#BDBDBD"/>
<path d="M382.87 86.82A81.2 81.2 0 0 1 383.18 85.2Q462.8 101.15 376.1 110.46L373.82 109.79L375.93 108.68Q462.8 101.15 382.87 86.82Z" fill="#BDBDBD"/>
<path d="M398.13 52.04A81.2 81.2 0 0 1 398.5 51.56Q462.8 101.15 376.17 111.13L373.95 111.04L376.1 110.46Q462.8 101.15 398.13 52.04Z" fill="#BDBDBD"/>
<path d="M419.78 32.28A81.2 81.2 0 0 1 420.81 31.65Q462.8 101.15 376.33 112.43L374.07 112.05L376.17 111.13Q462.8 101.15 419.78 32.28Z" fill="#BDBDBD"/>
<path d="M437.52 23.99A81.2 81.2 0 0 1 438.05 23.81Q462.8 101.15 376.41 113.03L374.19 113.02L376.33 112.43Q462.8 101.15 437.52 23.99Z" fill="#BDBDBD"/>
<path d="M452.89 20.56A81.2 81.2 0 0 1 453.55 20.48Q462.8 101.15 376.51 113.75L374.28 113.7L376.41 113.03Q462.8 101.15 452.89 20.56Z" fill="#BDBDBD"/>
<path d="M464.51 19.97A81.2 81.2 0 0 1 465.99 20.01Q462.8 101.15 376.76 115.34L374.46 114.88L376.51 113.75Q462.8 101.15 464.51 19.97Z" fill="#BDBDBD"/>
<path d="M488.72 24.2A81.2 81.2 0 0 1 491.07 25.03Q462.8 101.15 377.24 118L374.83 117.06L376.76 115.34Q462.8 101.15 488.72 24.2Z" fill="#BDBDBD"/>
<path d="M517.64 41.27A81.2 81.2 0 0 1 519.71 43.23Q462.8 101.15 377.89 121.02L375.4 119.97L377.24 118Q462.8 101.15 517.64 41.27Z" fill="#BDBDBD"/>
<path d="M536.81 67.74A81.2 81.2 0 0 1 537.65 69.67Q462.8 101.15 378.44 123.22L376.02 122.65L377.89 121.02Q462.8 101.15 536.81 67.74Z" fill="#BDBDBD"/>
</g>
<path d="M374.94 89A88.7 88.7 0 0 1 375.21 87.19L377.97 87.63A85.9 85.9 0 0 0 377.71 89.38Z" fill="#3FA0DA" />
<path d="M374.88 89.38A88.7 88.7 0 0 1 374.94 89L377.71 89.38A85.9 85.9 0 0 0 377.66 89.75Z" fill="#38BFB9" />
<path d="M374.84 89.75A88.7 88.7 0 0 1 374.88 89.38L377.66 89.75A85.9 85.9 0 0 0 377.61 90.11Z" fill="#B0C12B" />
<path d="M374.74 90.51A88.7 88.7 0 0 1 374.84 89.75L377.61 90.11A85.9 85.9 0 0 0 377.52 90.85Z" fill="#FDCB2F" />
<path d="M374.7 90.87A88.7 88.7 0 0 1 374.74 90.51L377.52 90.85A85.9 85.9 0 0 0 377.48 91.19Z" fill="#FBA22B" />
<path d="M374.58 91.93A88.7 88.7 0 0 1 374.7 90.89L377.48 91.21A85.9 85.9 0 0 0 377.36 92.23Z" fill="#A56BE0" />
<path d="M374.58 91.98A88.7 88.7 0 0 1 374.58 91.93L377.36 92.23A85.9 85.9 0 0 0 377.36 92.27Z" fill="#1257CF" />
<path d="M374.51 92.6A88.7 88.7 0 0 1 374.58 91.98L377.36 92.27A85.9 85.9 0 0 0 377.3 92.87Z" fill="#FFC3D2" />
<path d="M374.49 92.84A88.7 88.7 0 0 1 374.51 92.6L377.3 92.87A85.9 85.9 0 0 0 377.28 93.1Z" fill="#8FD8CB" />
<path d="M374.46 93.21A88.7 88.7 0 0 1 374.49 92.84L377.28 93.1A85.9 85.9 0 0 0 377.24 93.46Z" fill="#BDBDBD" />
<path d="M386.93 55.2A88.7 88.7 0 0 1 391.04 49.01L393.31 50.65A85.9 85.9 0 0 0 389.33 56.65Z" fill="#3FA0DA" />
<path d="M382.94 62.54A88.7 88.7 0 0 1 386.93 55.2L389.33 56.65A85.9 85.9 0 0 0 385.46 63.76Z" fill="#38BFB9" />
<path d="M380.21 68.79A88.7 88.7 0 0 1 382.94 62.54L385.46 63.76A85.9 85.9 0 0 0 382.82 69.81Z" fill="#B0C12B" />
<path d="M378.73 72.88A88.7 88.7 0 0 1 380.21 68.79L382.82 69.81A85.9 85.9 0 0 0 381.38 73.77Z" fill="#FDCB2F" />
<path d="M377.1 78.27A88.7 88.7 0 0 1 378.73 72.88L381.38 73.77A85.9 85.9 0 0 0 379.81 78.99Z" fill="#FBA22B" />
<path d="M377.03 78.55A88.7 88.7 0 0 1 377.1 78.27L379.81 78.99A85.9 85.9 0 0 0 379.74 79.26Z" fill="#F56A2E" />
<path d="M376.64 80.09A88.7 88.7 0 0 1 377.03 78.55L379.74 79.26A85.9 85.9 0 0 0 379.36 80.76Z" fill="#A56BE0" />
<path d="M376.37 81.21A88.7 88.7 0 0 1 376.64 80.09L379.36 80.76A85.9 85.9 0 0 0 379.1 81.84Z" fill="#1257CF" />
<path d="M376.12 82.33A88.7 88.7 0 0 1 376.37 81.21L379.1 81.84A85.9 85.9 0 0 0 378.86 82.92Z" fill="#FFC3D2" />
<path d="M375.83 83.73A88.7 88.7 0 0 1 376.12 82.33L378.86 82.92A85.9 85.9 0 0 0 378.57 84.28Z" fill="#8FD8CB" />
<path d="M375.49 85.5A88.7 88.7 0 0 1 375.83 83.73L378.57 84.28A85.9 85.9 0 0 0 378.25 85.99Z" fill="#BDBDBD" />
<path d="M411.09 29.08A88.7 88.7 0 0 1 414.76 26.59L416.27 28.94A85.9 85.9 0 0 0 412.72 31.36Z" fill="#3FA0DA" />
<path d="M410.9 29.22A88.7 88.7 0 0 1 411.09 29.08L412.72 31.36A85.9 85.9 0 0 0 412.54 31.49Z" fill="#38BFB9" />
<path d="M410.72 29.35A88.7 88.7 0 0 1 410.9 29.22L412.54 31.49A85.9 85.9 0 0 0 412.36 31.62Z" fill="#B0C12B" />
<path d="M408.73 30.83A88.7 88.7 0 0 1 410.72 29.35L412.36 31.62A85.9 85.9 0 0 0 410.44 33.05Z" fill="#FDCB2F" />
<path d="M408.39 31.1A88.7 88.7 0 0 1 408.73 30.83L410.44 33.05A85.9 85.9 0 0 0 410.11 33.31Z" fill="#FBA22B" />
<path d="M396.42 42.31A88.7 88.7 0 0 1 408.39 31.1L410.11 33.31A85.9 85.9 0 0 0 398.52 44.17Z" fill="#F56A2E" />
<path d="M394.76 44.24A88.7 88.7 0 0 1 396.42 42.31L398.52 44.17A85.9 85.9 0 0 0 396.91 46.04Z" fill="#A56BE0" />
<path d="M394.58 44.46A88.7 88.7 0 0 1 394.76 44.24L396.91 46.04A85.9 85.9 0 0 0 396.73 46.25Z" fill="#1257CF" />
<path d="M393.62 45.63A88.7 88.7 0 0 1 394.58 44.46L396.73 46.25A85.9 85.9 0 0 0 395.81 47.39Z" fill="#FFC3D2" />
<path d="M392.57 46.97A88.7 88.7 0 0 1 393.62 45.63L395.81 47.39A85.9 85.9 0 0 0 394.78 48.69Z" fill="#8FD8CB" />
<path d="M392.16 47.51A88.7 88.7 0 0 1 392.57 46.97L394.78 48.69A85.9 85.9 0 0 0 394.39 49.2Z" fill="#BDBDBD" />
<path d="M429.64 18.88A88.7 88.7 0 0 1 434.15 17.2L435.06 19.85A85.9 85.9 0 0 0 430.69 21.48Z" fill="#3FA0DA" />
<path d="M429.39 18.98A88.7 88.7 0 0 1 429.64 18.88L430.69 21.48A85.9 85.9 0 0 0 430.44 21.58Z" fill="#38BFB9" />
<path d="M429.14 19.09A88.7 88.7 0 0 1 429.39 18.98L430.44 21.58A85.9 85.9 0 0 0 430.2 21.68Z" fill="#B0C12B" />
<path d="M425.12 20.85A88.7 88.7 0 0 1 429.14 19.09L430.2 21.68A85.9 85.9 0 0 0 426.31 23.39Z" fill="#FDCB2F" />
<path d="M424.66 21.07A88.7 88.7 0 0 1 425.12 20.85L426.31 23.39A85.9 85.9 0 0 0 425.86 23.6Z" fill="#FBA22B" />
<path d="M424.51 21.14A88.7 88.7 0 0 1 424.66 21.07L425.86 23.6A85.9 85.9 0 0 0 425.71 23.67Z" fill="#F56A2E" />
<path d="M420.49 23.19A88.7 88.7 0 0 1 424.51 21.14L425.71 23.67A85.9 85.9 0 0 0 421.82 25.65Z" fill="#A56BE0" />
<path d="M420.19 23.35A88.7 88.7 0 0 1 420.49 23.19L421.82 25.65A85.9 85.9 0 0 0 421.54 25.81Z" fill="#1257CF" />
<path d="M418.24 24.45A88.7 88.7 0 0 1 420.19 23.35L421.54 25.81A85.9 85.9 0 0 0 419.65 26.88Z" fill="#FFC3D2" />
<path d="M416.94 25.23A88.7 88.7 0 0 1 418.24 24.45L419.65 26.88A85.9 85.9 0 0 0 418.38 27.62Z" fill="#8FD8CB" />
<path d="M415.81 25.92A88.7 88.7 0 0 1 416.94 25.23L418.38 27.62A85.9 85.9 0 0 0 417.29 28.3Z" fill="#BDBDBD" />
<path d="M448.6 13.59A88.7 88.7 0 0 1 450.59 13.29L450.97 16.07A85.9 85.9 0 0 0 449.05 16.36Z" fill="#3FA0DA" />
<path d="M448.49 13.61A88.7 88.7 0 0 1 448.6 13.59L449.05 16.36A85.9 85.9 0 0 0 448.95 16.37Z" fill="#38BFB9" />
<path d="M448.39 13.63A88.7 88.7 0 0 1 448.49 13.61L448.95 16.37A85.9 85.9 0 0 0 448.85 16.39Z" fill="#B0C12B" />
<path d="M447.01 13.87A88.7 88.7 0 0 1 448.39 13.63L448.85 16.39A85.9 85.9 0 0 0 447.51 16.62Z" fill="#FDCB2F" />
<path d="M446.43 13.97A88.7 88.7 0 0 1 447.01 13.87L447.51 16.62A85.9 85.9 0 0 0 446.95 16.72Z" fill="#FBA22B" />
<path d="M446.37 13.98A88.7 88.7 0 0 1 446.43 13.97L446.95 16.72A85.9 85.9 0 0 0 446.89 16.74Z" fill="#F56A2E" />
<path d="M442.42 14.82A88.7 88.7 0 0 1 446.37 13.98L446.89 16.74A85.9 85.9 0 0 0 443.07 17.55Z" fill="#A56BE0" />
<path d="M442.3 14.85A88.7 88.7 0 0 1 442.42 14.82L443.07 17.55A85.9 85.9 0 0 0 442.94 17.58Z" fill="#1257CF" />
<path d="M437 16.29A88.7 88.7 0 0 1 442.3 14.85L442.94 17.58A85.9 85.9 0 0 0 437.81 18.97Z" fill="#FFC3D2" />
<path d="M435.76 16.67A88.7 88.7 0 0 1 437 16.29L437.81 18.97A85.9 85.9 0 0 0 436.62 19.34Z" fill="#8FD8CB" />
<path d="M435.18 16.86A88.7 88.7 0 0 1 435.76 16.67L436.62 19.34A85.9 85.9 0 0 0 436.05 19.52Z" fill="#BDBDBD" />
<path d="M461.46 12.46A88.7 88.7 0 0 1 463.27 12.45L463.25 15.25A85.9 85.9 0 0 0 461.5 15.26Z" fill="#3FA0DA" />
<path d="M461.38 12.46A88.7 88.7 0 0 1 461.46 12.46L461.5 15.26A85.9 85.9 0 0 0 461.43 15.26Z" fill="#38BFB9" />
<path d="M461.31 12.46A88.7 88.7 0 0 1 461.38 12.46L461.43 15.26A85.9 85.9 0 0 0 461.35 15.26Z" fill="#B0C12B" />
<path d="M460.09 12.49A88.7 88.7 0 0 1 461.31 12.46L461.35 15.26A85.9 85.9 0 0 0 460.18 15.29Z" fill="#FDCB2F" />
<path d="M459.95 12.5A88.7 88.7 0 0 1 460.09 12.49L460.18 15.29A85.9 85.9 0 0 0 460.04 15.29Z" fill="#FBA22B" />
<path d="M459.91 12.5A88.7 88.7 0 0 1 459.95 12.5L460.04 15.29A85.9 85.9 0 0 0 460 15.3Z" fill="#F56A2E" />
<path d="M456.8 12.65A88.7 88.7 0 0 1 459.91 12.5L460 15.3A85.9 85.9 0 0 0 456.99 15.45Z" fill="#A56BE0" />
<path d="M456.7 12.66A88.7 88.7 0 0 1 456.8 12.65L456.99 15.45A85.9 85.9 0 0 0 456.9 15.45Z" fill="#1257CF" />
<path d="M453.99 12.89A88.7 88.7 0 0 1 456.7 12.66L456.9 15.45A85.9 85.9 0 0 0 454.27 15.67Z" fill="#FFC3D2" />
<path d="M452.7 13.03A88.7 88.7 0 0 1 453.99 12.89L454.27 15.67A85.9 85.9 0 0 0 453.02 15.81Z" fill="#8FD8CB" />
<path d="M451.97 13.11A88.7 88.7 0 0 1 452.7 13.03L453.02 15.81A85.9 85.9 0 0 0 452.31 15.89Z" fill="#BDBDBD" />
<path d="M483.48 14.9A88.7 88.7 0 0 1 489.94 16.7L489.08 19.37A85.9 85.9 0 0 0 482.83 17.62Z" fill="#3FA0DA" />
<path d="M483.16 14.82A88.7 88.7 0 0 1 483.48 14.9L482.83 17.62A85.9 85.9 0 0 0 482.51 17.54Z" fill="#38BFB9" />
<path d="M482.84 14.74A88.7 88.7 0 0 1 483.16 14.82L482.51 17.54A85.9 85.9 0 0 0 482.21 17.47Z" fill="#B0C12B" />
<path d="M480.87 14.31A88.7 88.7 0 0 1 482.84 14.74L482.21 17.47A85.9 85.9 0 0 0 480.3 17.05Z" fill="#FDCB2F" />
<path d="M479.64 14.06A88.7 88.7 0 0 1 480.87 14.31L480.3 17.05A85.9 85.9 0 0 0 479.11 16.81Z" fill="#FBA22B" />
<path d="M479.44 14.02A88.7 88.7 0 0 1 479.64 14.06L479.11 16.81A85.9 85.9 0 0 0 478.91 16.78Z" fill="#F56A2E" />
<path d="M475.58 13.38A88.7 88.7 0 0 1 479.44 14.02L478.91 16.78A85.9 85.9 0 0 0 475.18 16.15Z" fill="#A56BE0" />
<path d="M475.37 13.35A88.7 88.7 0 0 1 475.58 13.38L475.18 16.15A85.9 85.9 0 0 0 474.98 16.12Z" fill="#1257CF" />
<path d="M468.55 12.64A88.7 88.7 0 0 1 475.37 13.35L474.98 16.12A85.9 85.9 0 0 0 468.37 15.43Z" fill="#FFC3D2" />
<path d="M466.29 12.52A88.7 88.7 0 0 1 468.55 12.64L468.37 15.43A85.9 85.9 0 0 0 466.18 15.32Z" fill="#8FD8CB" />
<path d="M464.66 12.47A88.7 88.7 0 0 1 466.29 12.52L466.18 15.32A85.9 85.9 0 0 0 464.6 15.27Z" fill="#BDBDBD" />
<path d="M516.17 30.3A88.7 88.7 0 0 1 521.67 34.81L519.82 36.9A85.9 85.9 0 0 0 514.48 32.54Z" fill="#3FA0DA" />
<path d="M515.98 30.16A88.7 88.7 0 0 1 516.17 30.3L514.48 32.54A85.9 85.9 0 0 0 514.3 32.4Z" fill="#38BFB9" />
<path d="M515.62 29.89A88.7 88.7 0 0 1 515.98 30.16L514.3 32.4A85.9 85.9 0 0 0 513.95 32.14Z" fill="#B0C12B" />
<path d="M510.46 26.34A88.7 88.7 0 0 1 515.62 29.89L513.95 32.14A85.9 85.9 0 0 0 508.95 28.7Z" fill="#FDCB2F" />
<path d="M510.09 26.11A88.7 88.7 0 0 1 510.46 26.34L508.95 28.7A85.9 85.9 0 0 0 508.6 28.48Z" fill="#FBA22B" />
<path d="M509.97 26.03A88.7 88.7 0 0 1 510.09 26.11L508.6 28.48A85.9 85.9 0 0 0 508.48 28.4Z" fill="#F56A2E" />
<path d="M503.83 22.51A88.7 88.7 0 0 1 509.97 26.03L508.48 28.4A85.9 85.9 0 0 0 502.54 24.99Z" fill="#A56BE0" />
<path d="M503.58 22.38A88.7 88.7 0 0 1 503.83 22.51L502.54 24.99A85.9 85.9 0 0 0 502.29 24.86Z" fill="#1257CF" />
<path d="M496.63 19.16A88.7 88.7 0 0 1 503.58 22.38L502.29 24.86A85.9 85.9 0 0 0 495.56 21.74Z" fill="#FFC3D2" />
<path d="M493.68 18A88.7 88.7 0 0 1 496.63 19.16L495.56 21.74A85.9 85.9 0 0 0 492.71 20.62Z" fill="#8FD8CB" />
<path d="M491.11 17.09A88.7 88.7 0 0 1 493.68 18L492.71 20.62A85.9 85.9 0 0 0 490.22 19.74Z" fill="#BDBDBD" />
<path d="M540.06 57.57A88.7 88.7 0 0 1 542.93 63.12L540.4 64.32A85.9 85.9 0 0 0 537.62 58.95Z" fill="#3FA0DA" />
<path d="M539.83 57.17A88.7 88.7 0 0 1 540.06 57.57L537.62 58.95A85.9 85.9 0 0 0 537.4 58.56Z" fill="#38BFB9" />
<path d="M538.92 55.62A88.7 88.7 0 0 1 539.83 57.17L537.4 58.56A85.9 85.9 0 0 0 536.52 57.05Z" fill="#B0C12B" />
<path d="M535.58 50.45A88.7 88.7 0 0 1 538.92 55.62L536.52 57.05A85.9 85.9 0 0 0 533.29 52.05Z" fill="#FDCB2F" />
<path d="M535.34 50.1A88.7 88.7 0 0 1 535.58 50.45L533.29 52.05A85.9 85.9 0 0 0 533.05 51.71Z" fill="#FBA22B" />
<path d="M535.26 49.99A88.7 88.7 0 0 1 535.34 50.1L533.05 51.71A85.9 85.9 0 0 0 532.97 51.6Z" fill="#F56A2E" />
<path d="M530.42 43.75A88.7 88.7 0 0 1 535.26 49.99L532.97 51.6A85.9 85.9 0 0 0 528.29 45.56Z" fill="#A56BE0" />
<path d="M530.24 43.53A88.7 88.7 0 0 1 530.42 43.75L528.29 45.56A85.9 85.9 0 0 0 528.11 45.35Z" fill="#1257CF" />
<path d="M528.5 41.56A88.7 88.7 0 0 1 530.24 43.53L528.11 45.35A85.9 85.9 0 0 0 526.42 43.44Z" fill="#FFC3D2" />
<path d="M524.97 37.88A88.7 88.7 0 0 1 528.5 41.56L526.42 43.44A85.9 85.9 0 0 0 523.01 39.88Z" fill="#8FD8CB" />
<path d="M522.71 35.74A88.7 88.7 0 0 1 524.97 37.88L523.01 39.88A85.9 85.9 0 0 0 520.82 37.8Z" fill="#BDBDBD" />
<path d="M550.47 87.66A88.7 88.7 0 0 1 551.15 93.29L548.36 93.54A85.9 85.9 0 0 0 547.7 88.09Z" fill="#3FA0DA" />
<path d="M550.41 87.27A88.7 88.7 0 0 1 550.47 87.66L547.7 88.09A85.9 85.9 0 0 0 547.64 87.71Z" fill="#38BFB9" />
<path d="M550.22 86.13A88.7 88.7 0 0 1 550.41 87.27L547.64 87.71A85.9 85.9 0 0 0 547.46 86.6Z" fill="#B0C12B" />
<path d="M549.23 81.22A88.7 88.7 0 0 1 550.22 86.13L547.46 86.6A85.9 85.9 0 0 0 546.5 81.85Z" fill="#FDCB2F" />
<path d="M549.19 81.04A88.7 88.7 0 0 1 549.23 81.22L546.5 81.85A85.9 85.9 0 0 0 546.46 81.68Z" fill="#FBA22B" />
<path d="M549.16 80.93A88.7 88.7 0 0 1 549.19 81.04L546.46 81.68A85.9 85.9 0 0 0 546.44 81.57Z" fill="#F56A2E" />
<path d="M547.61 75.18A88.7 88.7 0 0 1 549.16 80.93L546.44 81.57A85.9 85.9 0 0 0 544.94 76Z" fill="#A56BE0" />
<path d="M547.54 74.95A88.7 88.7 0 0 1 547.61 75.18L544.94 76A85.9 85.9 0 0 0 544.87 75.77Z" fill="#1257CF" />
<path d="M545.99 70.37A88.7 88.7 0 0 1 547.54 74.95L544.87 75.77A85.9 85.9 0 0 0 543.36 71.34Z" fill="#FFC3D2" />
<path d="M544.56 66.76A88.7 88.7 0 0 1 545.99 70.37L543.36 71.34A85.9 85.9 0 0 0 541.98 67.84Z" fill="#8FD8CB" />
<path d="M543.65 64.66A88.7 88.7 0 0 1 544.56 66.76L541.98 67.84A85.9 85.9 0 0 0 541.09 65.81Z" fill="#BDBDBD" />
<path d="M368.18 92.64A95 95 0 0 1 368.98 86.19L372.54 86.76A91.4 91.4 0 0 0 371.77 92.97Z" fill="#E64B35" />
<path d="M369.29 84.39A95 95 0 0 1 385.95 45.3L388.86 47.42A91.4 91.4 0 0 0 372.83 85.02Z" fill="#4DBBD5" />
<path d="M387.14 43.7A95 95 0 0 1 411.34 21.29L413.29 24.32A91.4 91.4 0 0 0 390.01 45.88Z" fill="#00A087" />
<path d="M412.47 20.58A95 95 0 0 1 432.12 11.24L433.28 14.65A91.4 91.4 0 0 0 414.38 23.63Z" fill="#3C5488" />
<path d="M433.22 10.87A95 95 0 0 1 449.72 7.05L450.22 10.62A91.4 91.4 0 0 0 434.34 14.29Z" fill="#F39B7F" />
<path d="M451.2 6.86A95 95 0 0 1 463.3 6.15L463.28 9.75A91.4 91.4 0 0 0 451.64 10.43Z" fill="#8491B4" />
<path d="M464.8 6.17A95 95 0 0 1 491.87 10.71L490.76 14.13A91.4 91.4 0 0 0 464.72 9.77Z" fill="#91D1C2" />
<path d="M493.13 11.12A95 95 0 0 1 525.86 30.09L523.47 32.79A91.4 91.4 0 0 0 491.98 14.53Z" fill="#DC0000" />
<path d="M526.96 31.09A95 95 0 0 1 548.63 60.42L545.37 61.96A91.4 91.4 0 0 0 524.53 33.75Z" fill="#7E6148" />
<path d="M549.39 62.07A95 95 0 0 1 557.43 92.73L553.84 93.05A91.4 91.4 0 0 0 546.11 63.55Z" fill="#B09C85" />
<path d="M557.47 109.04A95 95 0 0 1 539.56 157.12L536.65 155A91.4 91.4 0 0 0 553.88 108.74Z" fill="#3FA0DA" />
<path d="M538.68 158.31A95 95 0 0 1 531.07 167.21L528.49 164.7A91.4 91.4 0 0 0 535.8 156.14Z" fill="#38BFB9" />
<path d="M530.15 168.15A95 95 0 0 1 520.74 176.43L518.55 173.58A91.4 91.4 0 0 0 527.6 165.61Z" fill="#B0C12B" />
<path d="M519.76 177.18A95 95 0 0 1 486.86 193.05L485.95 189.57A91.4 91.4 0 0 0 517.6 174.3Z" fill="#FDCB2F" />
<path d="M485.25 193.46A95 95 0 0 1 474.69 195.4L474.24 191.83A91.4 91.4 0 0 0 484.4 189.96Z" fill="#FBA22B" />
<path d="M473.21 195.58A95 95 0 0 1 454.21 195.76L454.53 192.18A91.4 91.4 0 0 0 472.81 192Z" fill="#F56A2E" />
<path d="M453.13 195.66A95 95 0 0 1 411.06 180.83L413.02 177.81A91.4 91.4 0 0 0 453.5 192.08Z" fill="#A56BE0" />
<path d="M410.23 180.28A95 95 0 0 1 407.5 178.39L409.59 175.47A91.4 91.4 0 0 0 412.22 177.28Z" fill="#1257CF" />
<path d="M406.96 178A95 95 0 0 1 381.14 149.7L384.24 147.86A91.4 91.4 0 0 0 409.07 175.09Z" fill="#FFC3D2" />
<path d="M380.39 148.4A95 95 0 0 1 371.29 126.65L374.75 125.68A91.4 91.4 0 0 0 383.51 146.61Z" fill="#8FD8CB" />
<path d="M370.89 125.2A95 95 0 0 1 368.12 108.96L371.71 108.66A91.4 91.4 0 0 0 374.38 124.29Z" fill="#BDBDBD" />
<path d="M368.18 92.64L365.89 92.44M368.54 89.35L367.35 89.2M369.29 84.39L367.03 83.98M369.93 81.13L368.76 80.88M370.69 77.9L369.52 77.61M371.56 74.7L370.4 74.37M372.53 71.53L371.39 71.16M373.62 68.4L371.46 67.61M374.82 65.31L373.71 64.86M376.12 62.26L375.03 61.77M377.53 59.26L376.46 58.73M379.05 56.31L377.99 55.74M380.66 53.41L378.68 52.26M382.38 50.58L381.36 49.94M384.19 47.8L383.2 47.13M387.14 43.7L385.31 42.31M389.19 41.09L388.26 40.34M391.33 38.56L390.43 37.77M393.56 36.11L392.69 35.28M395.87 33.73L395.03 32.88M398.27 31.43L396.7 29.75M400.74 29.22L399.95 28.32M403.29 27.1L402.53 26.17M405.91 25.07L405.19 24.11M408.6 23.13L407.91 22.15M412.47 20.58L411.25 18.63M415.31 18.87L414.71 17.83M418.21 17.26L417.65 16.2M421.17 15.76L420.64 14.68M424.17 14.36L423.68 13.26M427.23 13.06L426.36 10.93M430.32 11.87L429.91 10.75M433.22 10.87L432.5 8.69M436.39 9.89L436.06 8.74M439.59 9.03L439.3 7.87M442.82 8.27L442.57 7.1M446.07 7.63L445.86 6.45M449.35 7.11L449.02 4.83M451.2 6.86L450.92 4.58M454.5 6.51L454.4 5.32M457.81 6.28L457.75 5.08M461.12 6.16L461.1 4.96M464.8 6.17L464.84 3.87M468.11 6.3L468.18 5.1M471.42 6.54L471.53 5.35M474.71 6.9L474.86 5.71M478 7.37L478.19 6.19M481.26 7.96L481.71 5.7M484.5 8.66L484.77 7.49M487.71 9.48L488.03 8.32M490.9 10.4L491.25 9.25M493.13 11.12L493.86 8.94M496.25 12.23L496.67 11.11M499.33 13.45L499.79 12.35M502.37 14.78L502.87 13.69M505.36 16.22L505.9 15.14M508.3 17.75L509.4 15.73M511.18 19.39L511.79 18.36M514 21.13L514.65 20.12M516.77 22.97L517.45 21.98M519.46 24.9L520.18 23.93M522.09 26.92L523.52 25.12M524.64 29.04L525.42 28.12M526.96 31.09L528.52 29.39M529.37 33.37L530.21 32.52M531.69 35.74L532.56 34.91M533.93 38.18L534.83 37.39M536.09 40.7L537.01 39.94M538.15 43.3L539.98 41.9M540.13 45.96L541.1 45.26M542 48.69L543.01 48.03M543.79 51.49L544.81 50.86M545.47 54.35L546.52 53.76M547.05 57.26L549.09 56.2M548.53 60.23L549.62 59.71M549.39 62.07L551.48 61.12M550.7 65.11L551.81 64.66M551.9 68.2L553.03 67.79M553 71.33L554.14 70.96M553.98 74.5L555.14 74.16M554.86 77.7L557.09 77.13M555.62 80.92L556.79 80.67M556.27 84.18L557.45 83.96M556.81 87.45L557.99 87.27M557.23 90.74L558.42 90.61M557.47 109.04L559.76 109.23M557.14 112.34L558.33 112.48M556.69 115.63L557.88 115.81M556.13 118.89L557.31 119.12M555.45 122.14L556.62 122.41M554.66 125.36L556.89 125.95M553.76 128.55L554.91 128.9M552.75 131.71L553.89 132.1M551.63 134.83L552.75 135.26M550.4 137.91L551.51 138.38M549.06 140.95L551.15 141.91M547.62 143.93L548.69 144.47M546.08 146.87L547.13 147.44M544.43 149.74L545.46 150.36M542.69 152.56L543.69 153.21M540.84 155.32L542.73 156.63M538.68 158.31L540.52 159.69M536.64 160.92L537.57 161.68M534.51 163.46L535.41 164.25M532.29 165.93L533.17 166.75M530.15 168.15L531.78 169.77M527.77 170.46L528.59 171.34M525.31 172.69L526.1 173.59M522.78 174.82L523.53 175.75M519.76 177.18L521.14 179.02M517.07 179.12L517.75 180.11M514.31 180.97L514.97 181.98M511.5 182.72L512.11 183.75M508.62 184.37L509.2 185.42M505.69 185.92L506.73 187.97M502.7 187.36L503.21 188.45M499.67 188.7L500.14 189.81M496.59 189.94L497.02 191.06M493.47 191.06L493.86 192.2M490.32 192.08L490.98 194.28M487.13 192.98L487.43 194.14M485.25 193.46L485.8 195.69M482.02 194.19L482.26 195.36M478.76 194.8L478.96 195.98M475.48 195.3L475.64 196.49M473.21 195.58L473.46 197.86M469.91 195.88L470 197.08M466.6 196.07L466.64 197.27M463.28 196.15L463.29 197.35M459.97 196.11L459.93 197.31M456.65 195.95L456.5 198.25M453.13 195.66L452.9 197.94M449.84 195.26L449.68 196.45M446.56 194.75L446.36 195.93M443.31 194.13L443.06 195.3M440.07 193.39L439.79 194.56M436.87 192.54L436.24 194.76M433.7 191.58L433.33 192.72M430.56 190.51L430.15 191.64M427.46 189.33L427.01 190.45M424.4 188.04L423.92 189.14M421.39 186.65L420.39 188.72M418.43 185.15L417.87 186.22M415.53 183.55L414.93 184.6M412.68 181.85L412.05 182.87M410.23 180.28L408.96 182.2M407.5 178.4L406.8 179.37M406.96 178L405.61 179.87M404.31 176.01L403.57 176.95M401.73 173.92L400.96 174.84M399.23 171.75L398.43 172.64M396.8 169.48L395.97 170.35M394.46 167.14L392.81 168.74M392.2 164.71L391.31 165.52M390.02 162.21L389.1 162.98M387.94 159.63L386.99 160.37M385.94 156.99L384.97 157.69M384.04 154.27L382.13 155.56M382.23 151.49L381.22 152.13M380.39 148.4L378.39 149.55M378.79 145.5L377.73 146.06M377.29 142.54L376.21 143.06M375.9 139.53L374.8 140.02M374.61 136.47L373.5 136.92M373.43 133.38L371.27 134.16M372.36 130.24L371.22 130.6M371.4 127.06L370.25 127.39M370.89 125.2L368.67 125.78M370.11 121.98L368.94 122.24M369.44 118.73L368.26 118.95M368.88 115.46L367.7 115.64M368.44 112.17L367.25 112.31" stroke="#111" stroke-width="0.6" fill="none"/>
<path d="M368.18 92.64A95 95 0 0 1 368.98 86.19" stroke="#111" stroke-width="0.6" fill="none"/>
<path d="M369.29 84.39A95 95 0 0 1 385.95 45.3" stroke="#111" stroke-width="0.6" fill="none"/>
<path d="M387.14 43.7A95 95 0 0 1 411.34 21.29" stroke="#111" stroke-width="0.6" fill="none"/>
<path d="M412.47 20.58A95 95 0 0 1 432.12 11.24" stroke="#111" stroke-width="0.6" fill="none"/>
<path d="M433.22 10.87A95 95 0 0 1 449.72 7.05" stroke="#111" stroke-width="0.6" fill="none"/>
<path d="M451.2 6.86A95 95 0 0 1 463.3 6.15" stroke="#111" stroke-width="0.6" fill="none"/>
<path d="M464.8 6.17A95 95 0 0 1 491.87 10.71" stroke="#111" stroke-width="0.6" fill="none"/>
<path d="M493.13 11.12A95 95 0 0 1 525.86 30.09" stroke="#111" stroke-width="0.6" fill="none"/>
<path d="M526.96 31.09A95 95 0 0 1 548.63 60.42" stroke="#111" stroke-width="0.6" fill="none"/>
<path d="M549.39 62.07A95 95 0 0 1 557.43 92.73" stroke="#111" stroke-width="0.6" fill="none"/>
<path d="M557.47 109.04A95 95 0 0 1 539.56 157.12" stroke="#111" stroke-width="0.6" fill="none"/>
<path d="M538.68 158.31A95 95 0 0 1 531.07 167.21" stroke="#111" stroke-width="0.6" fill="none"/>
<path d="M530.15 168.15A95 95 0 0 1 520.74 176.43" stroke="#111" stroke-width="0.6" fill="none"/>
<path d="M519.76 177.18A95 95 0 0 1 486.86 193.05" stroke="#111" stroke-width="0.6" fill="none"/>
<path d="M485.25 193.46A95 95 0 0 1 474.69 195.4" stroke="#111" stroke-width="0.6" fill="none"/>
<path d="M473.21 195.58A95 95 0 0 1 454.21 195.76" stroke="#111" stroke-width="0.6" fill="none"/>
<path d="M453.13 195.66A95 95 0 0 1 411.06 180.83" stroke="#111" stroke-width="0.6" fill="none"/>
<path d="M410.23 180.28A95 95 0 0 1 407.5 178.39" stroke="#111" stroke-width="0.6" fill="none"/>
<path d="M406.96 178A95 95 0 0 1 381.14 149.7" stroke="#111" stroke-width="0.6" fill="none"/>
<path d="M380.39 148.4A95 95 0 0 1 371.29 126.65" stroke="#111" stroke-width="0.6" fill="none"/>
<path d="M370.89 125.2A95 95 0 0 1 368.12 108.96" stroke="#111" stroke-width="0.6" fill="none"/>
<g font-size="24" fill="#444" text-anchor="middle">
<text transform="translate(364 92.27) rotate(-84.86) scale(.1)">0</text>
<text transform="translate(365.16 83.64) rotate(-79.84) scale(.1)">0</text>
<text transform="translate(369.68 66.95) rotate(-69.84) scale(.1)">5</text>
<text transform="translate(377.03 51.3) rotate(-59.84) scale(.1)">10</text>
<text transform="translate(383.8 41.16) rotate(-52.79) scale(.1)">0</text>
<text transform="translate(395.41 28.35) rotate(-42.79) scale(.1)">5</text>
<text transform="translate(410.24 17.02) rotate(-31.99) scale(.1)">0</text>
<text transform="translate(425.65 9.17) rotate(-21.99) scale(.1)">5</text>
<text transform="translate(431.91 6.88) rotate(-18.14) scale(.1)">0</text>
<text transform="translate(448.75 2.95) rotate(-8.14) scale(.1)">5</text>
<text transform="translate(450.69 2.69) rotate(-7.01) scale(.1)">0</text>
<text transform="translate(464.88 1.97) rotate(1.2) scale(.1)">0</text>
<text transform="translate(482.07 3.84) rotate(11.2) scale(.1)">5</text>
<text transform="translate(494.47 7.14) rotate(18.62) scale(.1)">0</text>
<text transform="translate(510.31 14.07) rotate(28.62) scale(.1)">5</text>
<text transform="translate(524.71 23.64) rotate(38.62) scale(.1)">10</text>
<text transform="translate(529.8 27.99) rotate(42.48) scale(.1)">0</text>
<text transform="translate(541.48 40.74) rotate(52.48) scale(.1)">5</text>
<text transform="translate(550.78 55.32) rotate(62.48) scale(.1)">10</text>
<text transform="translate(553.22 60.34) rotate(65.71) scale(.1)">0</text>
<text transform="translate(558.93 76.66) rotate(75.71) scale(.1)">5</text>
<text transform="translate(563.38 109.53) rotate(-85.23) scale(.1)">0</text>
<text transform="translate(560.4 126.87) rotate(-75.23) scale(.1)">20</text>
<text transform="translate(554.45 143.43) rotate(-65.23) scale(.1)">40</text>
<text transform="translate(545.71 158.7) rotate(-55.23) scale(.1)">60</text>
<text transform="translate(543.41 161.88) rotate(-53.01) scale(.1)">0</text>
<text transform="translate(534.35 172.33) rotate(-45.15) scale(.1)">0</text>
<text transform="translate(523.31 181.93) rotate(-36.84) scale(.1)">0</text>
<text transform="translate(508.37 191.21) rotate(-26.84) scale(.1)">20</text>
<text transform="translate(492.03 197.75) rotate(-16.84) scale(.1)">40</text>
<text transform="translate(486.66 199.22) rotate(-13.67) scale(.1)">0</text>
<text transform="translate(473.86 201.47) rotate(-6.29) scale(.1)">0</text>
<text transform="translate(456.27 201.87) rotate(3.71) scale(.1)">20</text>
<text transform="translate(452.53 201.55) rotate(5.84) scale(.1)">0</text>
<text transform="translate(435.25 198.25) rotate(15.84) scale(.1)">20</text>
<text transform="translate(418.81 191.99) rotate(25.84) scale(.1)">40</text>
<text transform="translate(406.95 185.22) rotate(33.6) scale(.1)">0</text>
<text transform="translate(403.47 182.8) rotate(36) scale(.1)">0</text>
<text transform="translate(390.2 171.26) rotate(46) scale(.1)">20</text>
<text transform="translate(379.12 157.58) rotate(56) scale(.1)">40</text>
<text transform="translate(375.24 151.35) rotate(60.17) scale(.1)">0</text>
<text transform="translate(367.86 135.39) rotate(70.17) scale(.1)">20</text>
<text transform="translate(365.16 126.7) rotate(75.34) scale(.1)">0</text>
</g>
</g>
<g>
<g fill-opacity="0.9" stroke="#fff" stroke-width="0.22" stroke-opacity="0.42">
<path d="M118.12 301.54A81.2 81.2 0 0 1 118.33 299.69Q198.9 309.8 192.31 396.75L191.11 398.86L190.29 396.57Q198.9 309.8 118.12 301.54Z" fill="#3FA0DA"/>
<path d="M121.82 284.26A81.2 81.2 0 0 1 134.58 260.24Q198.9 309.8 221.83 393.93L207.4 398.8L192.31 396.75Q198.9 309.8 121.82 284.26Z" fill="#3FA0DA"/>
<path d="M137.95 256.15A81.2 81.2 0 0 1 142.9 251Q198.9 309.8 229.24 391.55L226.23 394.92L221.83 393.93Q198.9 309.8 137.95 256.15Z" fill="#3FA0DA"/>
<path d="M148.43 246.19A81.2 81.2 0 0 1 155.97 240.88Q198.9 309.8 238.45 387.52L234.79 391.68L229.24 391.55Q198.9 309.8 148.43 246.19Z" fill="#3FA0DA"/>
<path d="M167.13 235.07A81.2 81.2 0 0 1 172.82 232.9Q198.9 309.8 244.25 384.28L242.45 387.88L238.45 387.52Q198.9 309.8 167.13 235.07Z" fill="#3FA0DA"/>
<path d="M183.08 230.16A81.2 81.2 0 0 1 194.57 228.72Q198.9 309.8 254.53 376.95L250.8 382.59L244.25 384.28Q198.9 309.8 183.08 230.16Z" fill="#3FA0DA"/>
<path d="M214.64 230.14A81.2 81.2 0 0 1 228.29 234.11Q198.9 309.8 265.55 366.03L261.83 373.3L254.53 376.95Q198.9 309.8 214.64 230.14Z" fill="#3FA0DA"/>
<path d="M234.12 236.64A81.2 81.2 0 0 1 241.95 240.95Q198.9 309.8 271.4 358.25L270.34 363.54L265.55 366.03Q198.9 309.8 234.12 236.64Z" fill="#3FA0DA"/>
<path d="M245.53 243.32A81.2 81.2 0 0 1 260.29 256.65Q198.9 309.8 281.12 338.85L278.83 349.84L271.4 358.25Q198.9 309.8 245.53 243.32Z" fill="#3FA0DA"/>
<path d="M275.42 282.62A81.2 81.2 0 0 1 279.8 302.77Q198.9 309.8 285.81 316.86L286.33 328.47L281.12 338.85Q198.9 309.8 275.42 282.62Z" fill="#3FA0DA"/>
<path d="M118.03 302.46A81.2 81.2 0 0 1 118.12 301.54Q198.9 309.8 118.68 343.99L116.46 344.38L118.29 343.06Q198.9 309.8 118.03 302.46Z" fill="#38BFB9"/>
<path d="M118.86 296.13A81.2 81.2 0 0 1 121.82 284.26Q198.9 309.8 124.84 355.83L119.58 351.04L118.68 343.99Q198.9 309.8 118.86 296.13Z" fill="#38BFB9"/>
<path d="M136.58 257.74A81.2 81.2 0 0 1 137.95 256.15Q198.9 309.8 126.07 357.76L123.6 357.98L124.84 355.83Q198.9 309.8 136.58 257.74Z" fill="#38BFB9"/>
<path d="M145.06 249.01A81.2 81.2 0 0 1 148.43 246.19Q198.9 309.8 128.82 361.69L125.62 361L126.07 357.76Q198.9 309.8 145.06 249.01Z" fill="#38BFB9"/>
<path d="M159.92 238.57A81.2 81.2 0 0 1 167.13 235.07Q198.9 309.8 134.36 368.44L129.81 366.53L128.82 361.69Q198.9 309.8 159.92 238.57Z" fill="#38BFB9"/>
<path d="M175.18 232.14A81.2 81.2 0 0 1 183.08 230.16Q198.9 309.8 140.66 374.7L135.88 373.21L134.36 368.44Q198.9 309.8 175.18 232.14Z" fill="#38BFB9"/>
<path d="M196.93 228.62A81.2 81.2 0 0 1 214.64 230.14Q198.9 309.8 156.43 385.96L146.96 382.56L140.66 374.7Q198.9 309.8 196.93 228.62Z" fill="#38BFB9"/>
<path d="M231.73 235.53A81.2 81.2 0 0 1 234.12 236.64Q198.9 309.8 158.96 387.32L156.65 388.59L156.43 385.96Q198.9 309.8 231.73 235.53Z" fill="#38BFB9"/>
<path d="M243.65 242.04A81.2 81.2 0 0 1 245.53 243.32Q198.9 309.8 161.18 388.42L159.09 389.85L158.96 387.32Q198.9 309.8 243.65 242.04Z" fill="#38BFB9"/>
<path d="M262.68 259.55A81.2 81.2 0 0 1 275.42 282.62Q198.9 309.8 188.78 396.41L174.03 395.67L161.18 388.42Q198.9 309.8 262.68 259.55Z" fill="#38BFB9"/>
<path d="M118.02 302.62A81.2 81.2 0 0 1 118.03 302.46Q198.9 309.8 115.75 336.07L113.63 336.65L115.7 335.91Q198.9 309.8 118.02 302.62Z" fill="#B0C12B"/>
<path d="M118.81 296.4A81.2 81.2 0 0 1 118.86 296.13Q198.9 309.8 115.84 336.36L113.7 336.88L115.75 336.07Q198.9 309.8 118.81 296.4Z" fill="#B0C12B"/>
<path d="M136.02 258.43A81.2 81.2 0 0 1 136.58 257.74Q198.9 309.8 116.14 337.28L113.9 337.5L115.84 336.36Q198.9 309.8 136.02 258.43Z" fill="#B0C12B"/>
<path d="M144.88 249.18A81.2 81.2 0 0 1 145.06 249.01Q198.9 309.8 116.23 337.54L114.1 338.11L116.14 337.28Q198.9 309.8 144.88 249.18Z" fill="#B0C12B"/>
<path d="M157.79 239.77A81.2 81.2 0 0 1 159.92 238.57Q198.9 309.8 117.11 340.05L114.59 339.53L116.23 337.54Q198.9 309.8 157.79 239.77Z" fill="#B0C12B"/>
<path d="M175.05 232.18A81.2 81.2 0 0 1 175.18 232.14Q198.9 309.8 117.17 340.19L115.08 340.88L117.11 340.05Q198.9 309.8 175.05 232.18Z" fill="#B0C12B"/>
<path d="M196.77 228.63A81.2 81.2 0 0 1 196.93 228.62Q198.9 309.8 117.23 340.36L115.14 341.04L117.17 340.19Q198.9 309.8 196.77 228.63Z" fill="#B0C12B"/>
<path d="M230.92 235.18A81.2 81.2 0 0 1 231.73 235.53Q198.9 309.8 117.57 341.26L115.34 341.59L117.23 340.36Q198.9 309.8 230.92 235.18Z" fill="#B0C12B"/>
<path d="M243.49 241.94A81.2 81.2 0 0 1 243.65 242.04Q198.9 309.8 117.65 341.46L115.56 342.16L117.57 341.26Q198.9 309.8 243.49 241.94Z" fill="#B0C12B"/>
<path d="M262.48 259.29A81.2 81.2 0 0 1 262.68 259.55Q198.9 309.8 117.78 341.79L115.67 342.43L117.65 341.46Q198.9 309.8 262.48 259.29Z" fill="#B0C12B"/>
<path d="M118.01 302.72A81.2 81.2 0 0 1 118.02 302.62Q198.9 309.8 114.63 332.22L112.49 332.73L114.6 332.11Q198.9 309.8 118.01 302.72Z" fill="#FDCB2F"/>
<path d="M118.77 296.67A81.2 81.2 0 0 1 118.81 296.4Q198.9 309.8 114.71 332.5L112.54 332.93L114.63 332.22Q198.9 309.8 118.77 296.67Z" fill="#FDCB2F"/>
<path d="M135.8 258.69A81.2 81.2 0 0 1 136.02 258.43Q198.9 309.8 114.81 332.87L112.63 333.26L114.71 332.5Q198.9 309.8 135.8 258.69Z" fill="#FDCB2F"/>
<path d="M144.7 249.34A81.2 81.2 0 0 1 144.88 249.18Q198.9 309.8 114.88 333.12L112.72 333.58L114.81 332.87Q198.9 309.8 144.7 249.34Z" fill="#FDCB2F"/>
<path d="M157.57 239.91A81.2 81.2 0 0 1 157.79 239.77Q198.9 309.8 114.95 333.4L112.8 333.85L114.88 333.12Q198.9 309.8 157.57 239.91Z" fill="#FDCB2F"/>
<path d="M174.73 232.28A81.2 81.2 0 0 1 175.05 232.18Q198.9 309.8 115.05 333.75L112.89 334.17L114.95 333.4Q198.9 309.8 174.73 232.28Z" fill="#FDCB2F"/>
<path d="M196.61 228.63A81.2 81.2 0 0 1 196.77 228.63Q198.9 309.8 115.1 333.91L112.96 334.44L115.05 333.75Q198.9 309.8 196.61 228.63Z" fill="#FDCB2F"/>
<path d="M230.32 234.93A81.2 81.2 0 0 1 230.92 235.18Q198.9 309.8 115.3 334.59L113.09 334.87L115.1 333.91Q198.9 309.8 230.32 234.93Z" fill="#FDCB2F"/>
<path d="M243.4 241.88A81.2 81.2 0 0 1 243.49 241.94Q198.9 309.8 115.33 334.71L113.21 335.28L115.3 334.59Q198.9 309.8 243.4 241.88Z" fill="#FDCB2F"/>
<path d="M262.28 259.05A81.2 81.2 0 0 1 262.48 259.29Q198.9 309.8 115.43 335.04L113.28 335.51L115.33 334.71Q198.9 309.8 262.28 259.05Z" fill="#FDCB2F"/>
<path d="M118.72 296.97A81.2 81.2 0 0 1 118.77 296.67Q198.9 309.8 113.82 328.92L111.64 329.24L113.75 328.6Q198.9 309.8 118.72 296.97Z" fill="#FBA22B"/>
<path d="M135.61 258.93A81.2 81.2 0 0 1 135.8 258.69Q198.9 309.8 113.89 329.24L111.71 329.57L113.82 328.92Q198.9 309.8 135.61 258.93Z" fill="#FBA22B"/>
<path d="M144.39 249.62A81.2 81.2 0 0 1 144.7 249.34Q198.9 309.8 114 329.68L111.8 329.96L113.89 329.24Q198.9 309.8 144.39 249.62Z" fill="#FBA22B"/>
<path d="M157.44 239.98A81.2 81.2 0 0 1 157.57 239.91Q198.9 309.8 114.03 329.84L111.87 330.26L114 329.68Q198.9 309.8 157.44 239.98Z" fill="#FBA22B"/>
<path d="M174.55 232.34A81.2 81.2 0 0 1 174.73 232.28Q198.9 309.8 114.08 330.04L111.92 330.45L114.03 329.84Q198.9 309.8 174.55 232.34Z" fill="#FBA22B"/>
<path d="M196.52 228.64A81.2 81.2 0 0 1 196.61 228.63Q198.9 309.8 114.11 330.14L111.95 330.6L114.08 330.04Q198.9 309.8 196.52 228.64Z" fill="#FBA22B"/>
<path d="M229.98 234.78A81.2 81.2 0 0 1 230.32 234.93Q198.9 309.8 114.2 330.54L112.02 330.86L114.11 330.14Q198.9 309.8 229.98 234.78Z" fill="#FBA22B"/>
<path d="M243.34 241.84A81.2 81.2 0 0 1 243.4 241.88Q198.9 309.8 114.22 330.6L112.07 331.09L114.2 330.54Q198.9 309.8 243.34 241.84Z" fill="#FBA22B"/>
<path d="M262 258.69A81.2 81.2 0 0 1 262.28 259.05Q198.9 309.8 114.34 331.08L112.14 331.37L114.22 330.6Q198.9 309.8 262 258.69Z" fill="#FBA22B"/>
<path d="M118 302.81A81.2 81.2 0 0 1 118.01 302.75Q198.9 309.8 113.15 325.66L110.98 326.02L113.14 325.59Q198.9 309.8 118 302.81Z" fill="#F56A2E"/>
<path d="M118.66 297.32A81.2 81.2 0 0 1 118.72 296.97Q198.9 309.8 113.23 326.04L111.03 326.25L113.15 325.66Q198.9 309.8 118.66 297.32Z" fill="#F56A2E"/>
<path d="M135.47 259.1A81.2 81.2 0 0 1 135.61 258.93Q198.9 309.8 113.27 326.28L111.09 326.57L113.23 326.04Q198.9 309.8 135.47 259.1Z" fill="#F56A2E"/>
<path d="M144.16 249.83A81.2 81.2 0 0 1 144.39 249.62Q198.9 309.8 113.34 326.62L111.15 326.87L113.27 326.28Q198.9 309.8 144.16 249.83Z" fill="#F56A2E"/>
<path d="M157.35 240.04A81.2 81.2 0 0 1 157.44 239.98Q198.9 309.8 113.36 326.73L111.19 327.1L113.34 326.62Q198.9 309.8 157.35 240.04Z" fill="#F56A2E"/>
<path d="M174.42 232.38A81.2 81.2 0 0 1 174.55 232.34Q198.9 309.8 113.39 326.88L111.22 327.23L113.36 326.73Q198.9 309.8 174.42 232.38Z" fill="#F56A2E"/>
<path d="M196.38 228.64A81.2 81.2 0 0 1 196.52 228.64Q198.9 309.8 113.42 327.03L111.25 327.38L113.39 326.88Q198.9 309.8 196.38 228.64Z" fill="#F56A2E"/>
<path d="M229.71 234.67A81.2 81.2 0 0 1 229.98 234.78Q198.9 309.8 113.48 327.33L111.29 327.62L113.42 327.03Q198.9 309.8 229.71 234.67Z" fill="#F56A2E"/>
<path d="M243.22 241.76A81.2 81.2 0 0 1 243.34 241.84Q198.9 309.8 113.51 327.49L111.34 327.85L113.48 327.33Q198.9 309.8 243.22 241.76Z" fill="#F56A2E"/>
<path d="M261.8 258.45A81.2 81.2 0 0 1 262 258.69Q198.9 309.8 113.58 327.82L111.39 328.11L113.51 327.49Q198.9 309.8 261.8 258.45Z" fill="#F56A2E"/>
<path d="M117.99 302.9A81.2 81.2 0 0 1 118 302.81Q198.9 309.8 112.7 322.98L110.52 323.26L112.69 322.89Q198.9 309.8 117.99 302.9Z" fill="#A56BE0"/>
<path d="M118.63 297.54A81.2 81.2 0 0 1 118.66 297.32Q198.9 309.8 112.74 323.22L110.55 323.43L112.7 322.98Q198.9 309.8 118.63 297.54Z" fill="#A56BE0"/>
<path d="M135.42 259.17A81.2 81.2 0 0 1 135.47 259.1Q198.9 309.8 112.75 323.31L110.57 323.61L112.74 323.22Q198.9 309.8 135.42 259.17Z" fill="#A56BE0"/>
<path d="M144.07 249.91A81.2 81.2 0 0 1 144.16 249.83Q198.9 309.8 112.77 323.44L110.59 323.72L112.75 323.31Q198.9 309.8 144.07 249.91Z" fill="#A56BE0"/>
<path d="M157.27 240.08A81.2 81.2 0 0 1 157.35 240.04Q198.9 309.8 112.79 323.54L110.61 323.84L112.77 323.44Q198.9 309.8 157.27 240.08Z" fill="#A56BE0"/>
<path d="M174.32 232.41A81.2 81.2 0 0 1 174.42 232.38Q198.9 309.8 112.81 323.66L110.63 323.95L112.79 323.54Q198.9 309.8 174.32 232.41Z" fill="#A56BE0"/>
<path d="M196.2 228.65A81.2 81.2 0 0 1 196.38 228.64Q198.9 309.8 112.84 323.85L110.65 324.11L112.81 323.66Q198.9 309.8 196.2 228.65Z" fill="#A56BE0"/>
<path d="M229.61 234.63A81.2 81.2 0 0 1 229.71 234.67Q198.9 309.8 112.86 323.97L110.68 324.27L112.84 323.85Q198.9 309.8 229.61 234.63Z" fill="#A56BE0"/>
<path d="M243.12 241.69A81.2 81.2 0 0 1 243.22 241.76Q198.9 309.8 112.88 324.1L110.7 324.39L112.86 323.97Q198.9 309.8 243.12 241.69Z" fill="#A56BE0"/>
<path d="M261.63 258.25A81.2 81.2 0 0 1 261.8 258.45Q198.9 309.8 112.93 324.39L110.74 324.61L112.88 324.1Q198.9 309.8 261.63 258.25Z" fill="#A56BE0"/>
<path d="M118.59 297.8A81.2 81.2 0 0 1 118.63 297.54Q198.9 309.8 112.5 321.57L110.3 321.72L112.46 321.28Q198.9 309.8 118.59 297.8Z" fill="#1257CF"/>
<path d="M135.37 259.22A81.2 81.2 0 0 1 135.42 259.17Q198.9 309.8 112.51 321.64L110.32 321.9L112.5 321.57Q198.9 309.8 135.37 259.22Z" fill="#1257CF"/>
<path d="M144 249.97A81.2 81.2 0 0 1 144.07 249.91Q198.9 309.8 112.52 321.74L110.33 321.99L112.51 321.64Q198.9 309.8 144 249.97Z" fill="#1257CF"/>
<path d="M157.18 240.14A81.2 81.2 0 0 1 157.27 240.08Q198.9 309.8 112.54 321.85L110.35 322.1L112.52 321.74Q198.9 309.8 157.18 240.14Z" fill="#1257CF"/>
<path d="M174.19 232.45A81.2 81.2 0 0 1 174.32 232.41Q198.9 309.8 112.56 321.99L110.37 322.23L112.54 321.85Q198.9 309.8 174.19 232.45Z" fill="#1257CF"/>
<path d="M196.09 228.65A81.2 81.2 0 0 1 196.2 228.65Q198.9 309.8 112.57 322.1L110.39 322.35L112.56 321.99Q198.9 309.8 196.09 228.65Z" fill="#1257CF"/>
<path d="M229.54 234.6A81.2 81.2 0 0 1 229.61 234.63Q198.9 309.8 112.58 322.19L110.4 322.46L112.57 322.1Q198.9 309.8 229.54 234.6Z" fill="#1257CF"/>
<path d="M243.05 241.65A81.2 81.2 0 0 1 243.12 241.69Q198.9 309.8 112.6 322.27L110.41 322.54L112.58 322.19Q198.9 309.8 243.05 241.65Z" fill="#1257CF"/>
<path d="M261.54 258.13A81.2 81.2 0 0 1 261.63 258.25Q198.9 309.8 112.62 322.44L110.43 322.67L112.6 322.27Q198.9 309.8 261.54 258.13Z" fill="#1257CF"/>
<path d="M118.56 297.99A81.2 81.2 0 0 1 118.59 297.8Q198.9 309.8 112.31 320.12L110.12 320.28L112.29 319.91Q198.9 309.8 118.56 297.99Z" fill="#FFC3D2"/>
<path d="M143.95 250.02A81.2 81.2 0 0 1 144 249.97Q198.9 309.8 112.33 320.25L110.14 320.48L112.32 320.18Q198.9 309.8 143.95 250.02Z" fill="#FFC3D2"/>
<path d="M157.12 240.18A81.2 81.2 0 0 1 157.18 240.14Q198.9 309.8 112.34 320.34L110.15 320.56L112.33 320.25Q198.9 309.8 157.12 240.18Z" fill="#FFC3D2"/>
<path d="M174.1 232.48A81.2 81.2 0 0 1 174.19 232.45Q198.9 309.8 112.35 320.44L110.16 320.66L112.34 320.34Q198.9 309.8 174.1 232.48Z" fill="#FFC3D2"/>
<path d="M196.02 228.65A81.2 81.2 0 0 1 196.09 228.65Q198.9 309.8 112.36 320.53L110.17 320.75L112.35 320.44Q198.9 309.8 196.02 228.65Z" fill="#FFC3D2"/>
<path d="M229.48 234.58A81.2 81.2 0 0 1 229.54 234.6Q198.9 309.8 112.37 320.59L110.18 320.83L112.36 320.53Q198.9 309.8 229.48 234.58Z" fill="#FFC3D2"/>
<path d="M261.46 258.04A81.2 81.2 0 0 1 261.54 258.13Q198.9 309.8 112.39 320.78L110.2 320.99L112.38 320.65Q198.9 309.8 261.46 258.04Z" fill="#FFC3D2"/>
<path d="M118.53 298.19A81.2 81.2 0 0 1 118.56 297.99Q198.9 309.8 112.16 318.76L109.96 318.88L112.14 318.55Q198.9 309.8 118.53 298.19Z" fill="#8FD8CB"/>
<path d="M143.89 250.07A81.2 81.2 0 0 1 143.95 250.02Q198.9 309.8 112.18 318.89L109.98 319.08L112.17 318.82Q198.9 309.8 143.89 250.07Z" fill="#8FD8CB"/>
<path d="M157.05 240.21A81.2 81.2 0 0 1 157.12 240.18Q198.9 309.8 112.18 318.98L109.99 319.17L112.18 318.89Q198.9 309.8 157.05 240.21Z" fill="#8FD8CB"/>
<path d="M174.01 232.51A81.2 81.2 0 0 1 174.1 232.48Q198.9 309.8 112.2 319.08L110 319.26L112.18 318.98Q198.9 309.8 174.01 232.51Z" fill="#8FD8CB"/>
<path d="M195.94 228.65A81.2 81.2 0 0 1 196.02 228.65Q198.9 309.8 112.2 319.17L110.01 319.36L112.2 319.08Q198.9 309.8 195.94 228.65Z" fill="#8FD8CB"/>
<path d="M229.42 234.55A81.2 81.2 0 0 1 229.48 234.58Q198.9 309.8 112.21 319.24L110.02 319.44L112.2 319.17Q198.9 309.8 229.42 234.55Z" fill="#8FD8CB"/>
<path d="M261.39 257.95A81.2 81.2 0 0 1 261.46 258.04Q198.9 309.8 112.23 319.42L110.04 319.6L112.22 319.29Q198.9 309.8 261.39 257.95Z" fill="#8FD8CB"/>
<path d="M118.5 298.43A81.2 81.2 0 0 1 118.53 298.19Q198.9 309.8 112.02 317.24L109.81 317.29L112 316.97Q198.9 309.8 118.5 298.43Z" fill="#BDBDBD"/>
<path d="M135.27 259.35A81.2 81.2 0 0 1 135.31 259.3Q198.9 309.8 112.02 317.31L109.83 317.46L112.02 317.24Q198.9 309.8 135.27 259.35Z" fill="#BDBDBD"/>
<path d="M143.83 250.13A81.2 81.2 0 0 1 143.89 250.07Q198.9 309.8 112.03 317.4L109.84 317.54L112.02 317.31Q198.9 309.8 143.83 250.13Z" fill="#BDBDBD"/>
<path d="M156.97 240.26A81.2 81.2 0 0 1 157.05 240.21Q198.9 309.8 112.04 317.51L109.84 317.65L112.03 317.4Q198.9 309.8 156.97 240.26Z" fill="#BDBDBD"/>
<path d="M173.89 232.55A81.2 81.2 0 0 1 174.01 232.51Q198.9 309.8 112.05 317.64L109.86 317.77L112.04 317.51Q198.9 309.8 173.89 232.55Z" fill="#BDBDBD"/>
<path d="M195.84 228.66A81.2 81.2 0 0 1 195.94 228.65Q198.9 309.8 112.06 317.74L109.87 317.89L112.05 317.64Q198.9 309.8 195.84 228.66Z" fill="#BDBDBD"/>
<path d="M229.35 234.52A81.2 81.2 0 0 1 229.42 234.55Q198.9 309.8 112.07 317.83L109.88 317.99L112.06 317.74Q198.9 309.8 229.35 234.52Z" fill="#BDBDBD"/>
<path d="M242.91 241.56A81.2 81.2 0 0 1 242.96 241.6Q198.9 309.8 112.08 317.9L109.88 318.07L112.07 317.83Q198.9 309.8 242.91 241.56Z" fill="#BDBDBD"/>
<path d="M261.3 257.84A81.2 81.2 0 0 1 261.39 257.95Q198.9 309.8 112.09 318.06L109.89 318.19L112.08 317.9Q198.9 309.8 261.3 257.84Z" fill="#BDBDBD"/>
</g>
<path d="M110.66 300.77A88.7 88.7 0 0 1 110.89 298.76L113.67 299.1A85.9 85.9 0 0 0 113.45 301.06Z" fill="#3FA0DA" />
<path d="M110.56 301.78A88.7 88.7 0 0 1 110.66 300.77L113.45 301.06A85.9 85.9 0 0 0 113.35 302.04Z" fill="#38BFB9" />
<path d="M110.55 301.95A88.7 88.7 0 0 1 110.56 301.78L113.35 302.04A85.9 85.9 0 0 0 113.34 302.2Z" fill="#B0C12B" />
<path d="M110.54 302.06A88.7 88.7 0 0 1 110.55 301.95L113.34 302.2A85.9 85.9 0 0 0 113.33 302.31Z" fill="#FDCB2F" />
<path d="M110.54 302.1A88.7 88.7 0 0 1 110.54 302.06L113.33 302.31A85.9 85.9 0 0 0 113.32 302.34Z" fill="#FBA22B" />
<path d="M110.53 302.17A88.7 88.7 0 0 1 110.54 302.1L113.32 302.34A85.9 85.9 0 0 0 113.32 302.41Z" fill="#F56A2E" />
<path d="M110.52 302.26A88.7 88.7 0 0 1 110.53 302.17L113.32 302.41A85.9 85.9 0 0 0 113.31 302.5Z" fill="#A56BE0" />
<path d="M110.52 302.32A88.7 88.7 0 0 1 110.52 302.26L113.31 302.5A85.9 85.9 0 0 0 113.31 302.55Z" fill="#1257CF" />
<path d="M110.51 302.36A88.7 88.7 0 0 1 110.52 302.32L113.31 302.55A85.9 85.9 0 0 0 113.3 302.59Z" fill="#FFC3D2" />
<path d="M110.51 302.4A88.7 88.7 0 0 1 110.51 302.36L113.3 302.59A85.9 85.9 0 0 0 113.3 302.63Z" fill="#8FD8CB" />
<path d="M110.51 302.45A88.7 88.7 0 0 1 110.51 302.4L113.3 302.63A85.9 85.9 0 0 0 113.3 302.68Z" fill="#BDBDBD" />
<path d="M114.7 281.9A88.7 88.7 0 0 1 128.63 255.67L130.85 257.38A85.9 85.9 0 0 0 117.36 282.78Z" fill="#3FA0DA" />
<path d="M111.47 294.87A88.7 88.7 0 0 1 114.7 281.9L117.36 282.78A85.9 85.9 0 0 0 114.23 295.34Z" fill="#38BFB9" />
<path d="M111.42 295.16A88.7 88.7 0 0 1 111.47 294.87L114.23 295.34A85.9 85.9 0 0 0 114.18 295.63Z" fill="#B0C12B" />
<path d="M111.37 295.45A88.7 88.7 0 0 1 111.42 295.16L114.18 295.63A85.9 85.9 0 0 0 114.13 295.91Z" fill="#FDCB2F" />
<path d="M111.31 295.78A88.7 88.7 0 0 1 111.37 295.45L114.13 295.91A85.9 85.9 0 0 0 114.08 296.23Z" fill="#FBA22B" />
<path d="M111.25 296.17A88.7 88.7 0 0 1 111.31 295.78L114.08 296.23A85.9 85.9 0 0 0 114.02 296.6Z" fill="#F56A2E" />
<path d="M111.22 296.41A88.7 88.7 0 0 1 111.25 296.17L114.02 296.6A85.9 85.9 0 0 0 113.98 296.83Z" fill="#A56BE0" />
<path d="M111.17 296.69A88.7 88.7 0 0 1 111.22 296.41L113.98 296.83A85.9 85.9 0 0 0 113.94 297.1Z" fill="#1257CF" />
<path d="M111.14 296.9A88.7 88.7 0 0 1 111.17 296.69L113.94 297.1A85.9 85.9 0 0 0 113.91 297.31Z" fill="#FFC3D2" />
<path d="M111.11 297.11A88.7 88.7 0 0 1 111.14 296.9L113.91 297.31A85.9 85.9 0 0 0 113.88 297.51Z" fill="#8FD8CB" />
<path d="M111.07 297.38A88.7 88.7 0 0 1 111.11 297.11L113.88 297.51A85.9 85.9 0 0 0 113.85 297.77Z" fill="#BDBDBD" />
<path d="M132.32 251.19A88.7 88.7 0 0 1 137.73 245.57L139.66 247.6A85.9 85.9 0 0 0 134.42 253.04Z" fill="#3FA0DA" />
<path d="M130.83 252.93A88.7 88.7 0 0 1 132.32 251.19L134.42 253.04A85.9 85.9 0 0 0 132.98 254.73Z" fill="#38BFB9" />
<path d="M130.21 253.68A88.7 88.7 0 0 1 130.83 252.93L132.98 254.73A85.9 85.9 0 0 0 132.38 255.45Z" fill="#B0C12B" />
<path d="M129.97 253.97A88.7 88.7 0 0 1 130.21 253.68L132.38 255.45A85.9 85.9 0 0 0 132.15 255.74Z" fill="#FDCB2F" />
<path d="M129.77 254.23A88.7 88.7 0 0 1 129.97 253.97L132.15 255.74A85.9 85.9 0 0 0 131.95 255.98Z" fill="#FBA22B" />
<path d="M129.61 254.42A88.7 88.7 0 0 1 129.77 254.23L131.95 255.98A85.9 85.9 0 0 0 131.8 256.17Z" fill="#F56A2E" />
<path d="M129.55 254.5A88.7 88.7 0 0 1 129.61 254.42L131.8 256.17A85.9 85.9 0 0 0 131.74 256.24Z" fill="#A56BE0" />
<path d="M129.51 254.55A88.7 88.7 0 0 1 129.55 254.5L131.74 256.24A85.9 85.9 0 0 0 131.7 256.3Z" fill="#1257CF" />
<path d="M129.47 254.6A88.7 88.7 0 0 1 129.51 254.55L131.7 256.3A85.9 85.9 0 0 0 131.66 256.34Z" fill="#FFC3D2" />
<path d="M129.44 254.64A88.7 88.7 0 0 1 129.47 254.6L131.66 256.34A85.9 85.9 0 0 0 131.63 256.38Z" fill="#8FD8CB" />
<path d="M129.4 254.69A88.7 88.7 0 0 1 129.44 254.64L131.63 256.38A85.9 85.9 0 0 0 131.59 256.43Z" fill="#BDBDBD" />
<path d="M143.77 240.31A88.7 88.7 0 0 1 152 234.51L153.48 236.89A85.9 85.9 0 0 0 145.51 242.51Z" fill="#3FA0DA" />
<path d="M140.09 243.4A88.7 88.7 0 0 1 143.77 240.31L145.51 242.51A85.9 85.9 0 0 0 141.95 245.49Z" fill="#38BFB9" />
<path d="M139.89 243.58A88.7 88.7 0 0 1 140.09 243.4L141.95 245.49A85.9 85.9 0 0 0 141.75 245.67Z" fill="#B0C12B" />
<path d="M139.69 243.75A88.7 88.7 0 0 1 139.89 243.58L141.75 245.67A85.9 85.9 0 0 0 141.56 245.84Z" fill="#FDCB2F" />
<path d="M139.36 244.06A88.7 88.7 0 0 1 139.69 243.75L141.56 245.84A85.9 85.9 0 0 0 141.24 246.13Z" fill="#FBA22B" />
<path d="M139.1 244.29A88.7 88.7 0 0 1 139.36 244.06L141.24 246.13A85.9 85.9 0 0 0 140.99 246.36Z" fill="#F56A2E" />
<path d="M139 244.38A88.7 88.7 0 0 1 139.1 244.29L140.99 246.36A85.9 85.9 0 0 0 140.89 246.44Z" fill="#A56BE0" />
<path d="M138.93 244.45A88.7 88.7 0 0 1 139 244.38L140.89 246.44A85.9 85.9 0 0 0 140.82 246.51Z" fill="#1257CF" />
<path d="M138.87 244.5A88.7 88.7 0 0 1 138.93 244.45L140.82 246.51A85.9 85.9 0 0 0 140.77 246.56Z" fill="#FFC3D2" />
<path d="M138.81 244.55A88.7 88.7 0 0 1 138.87 244.5L140.77 246.56A85.9 85.9 0 0 0 140.71 246.61Z" fill="#8FD8CB" />
<path d="M138.74 244.62A88.7 88.7 0 0 1 138.81 244.55L140.71 246.61A85.9 85.9 0 0 0 140.64 246.67Z" fill="#BDBDBD" />
<path d="M164.19 228.17A88.7 88.7 0 0 1 170.41 225.8L171.31 228.45A85.9 85.9 0 0 0 165.29 230.75Z" fill="#3FA0DA" />
<path d="M156.31 231.99A88.7 88.7 0 0 1 164.19 228.17L165.29 230.75A85.9 85.9 0 0 0 157.66 234.45Z" fill="#38BFB9" />
<path d="M154 233.31A88.7 88.7 0 0 1 156.31 231.99L157.66 234.45A85.9 85.9 0 0 0 155.41 235.72Z" fill="#B0C12B" />
<path d="M153.75 233.45A88.7 88.7 0 0 1 154 233.31L155.41 235.72A85.9 85.9 0 0 0 155.17 235.86Z" fill="#FDCB2F" />
<path d="M153.61 233.54A88.7 88.7 0 0 1 153.75 233.45L155.17 235.86A85.9 85.9 0 0 0 155.04 235.94Z" fill="#FBA22B" />
<path d="M153.51 233.59A88.7 88.7 0 0 1 153.61 233.54L155.04 235.94A85.9 85.9 0 0 0 154.94 236Z" fill="#F56A2E" />
<path d="M153.43 233.64A88.7 88.7 0 0 1 153.51 233.59L154.94 236A85.9 85.9 0 0 0 154.86 236.05Z" fill="#A56BE0" />
<path d="M153.33 233.7A88.7 88.7 0 0 1 153.43 233.64L154.86 236.05A85.9 85.9 0 0 0 154.77 236.1Z" fill="#1257CF" />
<path d="M153.26 233.74A88.7 88.7 0 0 1 153.33 233.7L154.77 236.1A85.9 85.9 0 0 0 154.7 236.15Z" fill="#FFC3D2" />
<path d="M153.19 233.79A88.7 88.7 0 0 1 153.26 233.74L154.7 236.15A85.9 85.9 0 0 0 154.63 236.19Z" fill="#8FD8CB" />
<path d="M153.1 233.84A88.7 88.7 0 0 1 153.19 233.79L154.63 236.19A85.9 85.9 0 0 0 154.54 236.24Z" fill="#BDBDBD" />
<path d="M181.61 222.8A88.7 88.7 0 0 1 194.17 221.23L194.32 224.02A85.9 85.9 0 0 0 182.16 225.55Z" fill="#3FA0DA" />
<path d="M172.99 224.97A88.7 88.7 0 0 1 181.61 222.8L182.16 225.55A85.9 85.9 0 0 0 173.81 227.65Z" fill="#38BFB9" />
<path d="M172.85 225.01A88.7 88.7 0 0 1 172.99 224.97L173.81 227.65A85.9 85.9 0 0 0 173.67 227.69Z" fill="#B0C12B" />
<path d="M172.5 225.12A88.7 88.7 0 0 1 172.85 225.01L173.67 227.69A85.9 85.9 0 0 0 173.33 227.79Z" fill="#FDCB2F" />
<path d="M172.3 225.18A88.7 88.7 0 0 1 172.5 225.12L173.33 227.79A85.9 85.9 0 0 0 173.14 227.85Z" fill="#FBA22B" />
<path d="M172.16 225.23A88.7 88.7 0 0 1 172.3 225.18L173.14 227.85A85.9 85.9 0 0 0 173.01 227.9Z" fill="#F56A2E" />
<path d="M172.04 225.26A88.7 88.7 0 0 1 172.16 225.23L173.01 227.9A85.9 85.9 0 0 0 172.89 227.93Z" fill="#A56BE0" />
<path d="M171.91 225.31A88.7 88.7 0 0 1 172.04 225.26L172.89 227.93A85.9 85.9 0 0 0 172.76 227.97Z" fill="#1257CF" />
<path d="M171.81 225.34A88.7 88.7 0 0 1 171.91 225.31L172.76 227.97A85.9 85.9 0 0 0 172.66 228Z" fill="#FFC3D2" />
<path d="M171.71 225.37A88.7 88.7 0 0 1 171.81 225.34L172.66 228A85.9 85.9 0 0 0 172.57 228.04Z" fill="#8FD8CB" />
<path d="M171.58 225.41A88.7 88.7 0 0 1 171.71 225.37L172.57 228.04A85.9 85.9 0 0 0 172.44 228.08Z" fill="#BDBDBD" />
<path d="M216.09 222.78A88.7 88.7 0 0 1 231.01 227.12L229.99 229.73A85.9 85.9 0 0 0 215.55 225.53Z" fill="#3FA0DA" />
<path d="M196.75 221.13A88.7 88.7 0 0 1 216.09 222.78L215.55 225.53A85.9 85.9 0 0 0 196.82 223.93Z" fill="#38BFB9" />
<path d="M196.57 221.13A88.7 88.7 0 0 1 196.75 221.13L196.82 223.93A85.9 85.9 0 0 0 196.64 223.93Z" fill="#B0C12B" />
<path d="M196.4 221.14A88.7 88.7 0 0 1 196.57 221.13L196.64 223.93A85.9 85.9 0 0 0 196.47 223.93Z" fill="#FDCB2F" />
<path d="M196.3 221.14A88.7 88.7 0 0 1 196.4 221.14L196.47 223.93A85.9 85.9 0 0 0 196.38 223.94Z" fill="#FBA22B" />
<path d="M196.14 221.14A88.7 88.7 0 0 1 196.3 221.14L196.38 223.94A85.9 85.9 0 0 0 196.23 223.94Z" fill="#F56A2E" />
<path d="M195.95 221.15A88.7 88.7 0 0 1 196.14 221.14L196.23 223.94A85.9 85.9 0 0 0 196.04 223.95Z" fill="#A56BE0" />
<path d="M195.83 221.15A88.7 88.7 0 0 1 195.95 221.15L196.04 223.95A85.9 85.9 0 0 0 195.93 223.95Z" fill="#1257CF" />
<path d="M195.75 221.16A88.7 88.7 0 0 1 195.83 221.15L195.93 223.95A85.9 85.9 0 0 0 195.85 223.95Z" fill="#FFC3D2" />
<path d="M195.67 221.16A88.7 88.7 0 0 1 195.75 221.16L195.85 223.95A85.9 85.9 0 0 0 195.77 223.96Z" fill="#8FD8CB" />
<path d="M195.56 221.16A88.7 88.7 0 0 1 195.67 221.16L195.77 223.96A85.9 85.9 0 0 0 195.67 223.96Z" fill="#BDBDBD" />
<path d="M237.38 229.88A88.7 88.7 0 0 1 245.93 234.59L244.44 236.97A85.9 85.9 0 0 0 236.16 232.4Z" fill="#3FA0DA" />
<path d="M234.77 228.67A88.7 88.7 0 0 1 237.38 229.88L236.16 232.4A85.9 85.9 0 0 0 233.63 231.24Z" fill="#38BFB9" />
<path d="M233.88 228.29A88.7 88.7 0 0 1 234.77 228.67L233.63 231.24A85.9 85.9 0 0 0 232.77 230.86Z" fill="#B0C12B" />
<path d="M233.22 228.01A88.7 88.7 0 0 1 233.88 228.29L232.77 230.86A85.9 85.9 0 0 0 232.14 230.59Z" fill="#FDCB2F" />
<path d="M232.85 227.85A88.7 88.7 0 0 1 233.22 228.01L232.14 230.59A85.9 85.9 0 0 0 231.78 230.44Z" fill="#FBA22B" />
<path d="M232.56 227.73A88.7 88.7 0 0 1 232.85 227.85L231.78 230.44A85.9 85.9 0 0 0 231.5 230.33Z" fill="#F56A2E" />
<path d="M232.45 227.69A88.7 88.7 0 0 1 232.56 227.73L231.5 230.33A85.9 85.9 0 0 0 231.39 230.28Z" fill="#A56BE0" />
<path d="M232.37 227.66A88.7 88.7 0 0 1 232.45 227.69L231.39 230.28A85.9 85.9 0 0 0 231.31 230.25Z" fill="#1257CF" />
<path d="M232.3 227.63A88.7 88.7 0 0 1 232.37 227.66L231.31 230.25A85.9 85.9 0 0 0 231.25 230.22Z" fill="#FFC3D2" />
<path d="M232.24 227.6A88.7 88.7 0 0 1 232.3 227.63L231.25 230.22A85.9 85.9 0 0 0 231.19 230.2Z" fill="#8FD8CB" />
<path d="M232.16 227.57A88.7 88.7 0 0 1 232.24 227.6L231.19 230.2A85.9 85.9 0 0 0 231.11 230.17Z" fill="#BDBDBD" />
<path d="M249.83 237.18A88.7 88.7 0 0 1 265.96 251.74L263.84 253.57A85.9 85.9 0 0 0 248.22 239.47Z" fill="#3FA0DA" />
<path d="M247.78 235.79A88.7 88.7 0 0 1 249.83 237.18L248.22 239.47A85.9 85.9 0 0 0 246.24 238.12Z" fill="#38BFB9" />
<path d="M247.61 235.67A88.7 88.7 0 0 1 247.78 235.79L246.24 238.12A85.9 85.9 0 0 0 246.07 238.01Z" fill="#B0C12B" />
<path d="M247.51 235.6A88.7 88.7 0 0 1 247.61 235.67L246.07 238.01A85.9 85.9 0 0 0 245.97 237.95Z" fill="#FDCB2F" />
<path d="M247.45 235.57A88.7 88.7 0 0 1 247.51 235.6L245.97 237.95A85.9 85.9 0 0 0 245.92 237.91Z" fill="#FBA22B" />
<path d="M247.31 235.48A88.7 88.7 0 0 1 247.45 235.57L245.92 237.91A85.9 85.9 0 0 0 245.78 237.82Z" fill="#F56A2E" />
<path d="M247.2 235.4A88.7 88.7 0 0 1 247.31 235.48L245.78 237.82A85.9 85.9 0 0 0 245.67 237.75Z" fill="#A56BE0" />
<path d="M247.13 235.36A88.7 88.7 0 0 1 247.2 235.4L245.67 237.75A85.9 85.9 0 0 0 245.61 237.71Z" fill="#1257CF" />
<path d="M247.08 235.33A88.7 88.7 0 0 1 247.13 235.36L245.61 237.71A85.9 85.9 0 0 0 245.56 237.68Z" fill="#FFC3D2" />
<path d="M247.03 235.3A88.7 88.7 0 0 1 247.08 235.33L245.56 237.68A85.9 85.9 0 0 0 245.51 237.65Z" fill="#8FD8CB" />
<path d="M246.97 235.26A88.7 88.7 0 0 1 247.03 235.3L245.51 237.65A85.9 85.9 0 0 0 245.45 237.61Z" fill="#BDBDBD" />
<path d="M282.48 280.11A88.7 88.7 0 0 1 287.27 302.12L284.48 302.36A85.9 85.9 0 0 0 279.84 281.05Z" fill="#3FA0DA" />
<path d="M268.57 254.91A88.7 88.7 0 0 1 282.48 280.11L279.84 281.05A85.9 85.9 0 0 0 266.38 256.64Z" fill="#38BFB9" />
<path d="M268.35 254.63A88.7 88.7 0 0 1 268.57 254.91L266.38 256.64A85.9 85.9 0 0 0 266.16 256.37Z" fill="#B0C12B" />
<path d="M268.14 254.36A88.7 88.7 0 0 1 268.35 254.63L266.16 256.37A85.9 85.9 0 0 0 265.95 256.11Z" fill="#FDCB2F" />
<path d="M267.83 253.97A88.7 88.7 0 0 1 268.14 254.36L265.95 256.11A85.9 85.9 0 0 0 265.65 255.74Z" fill="#FBA22B" />
<path d="M267.61 253.71A88.7 88.7 0 0 1 267.83 253.97L265.65 255.74A85.9 85.9 0 0 0 265.44 255.48Z" fill="#F56A2E" />
<path d="M267.43 253.48A88.7 88.7 0 0 1 267.61 253.71L265.44 255.48A85.9 85.9 0 0 0 265.27 255.26Z" fill="#A56BE0" />
<path d="M267.32 253.35A88.7 88.7 0 0 1 267.43 253.48L265.27 255.26A85.9 85.9 0 0 0 265.16 255.14Z" fill="#1257CF" />
<path d="M267.24 253.26A88.7 88.7 0 0 1 267.32 253.35L265.16 255.14A85.9 85.9 0 0 0 265.08 255.04Z" fill="#FFC3D2" />
<path d="M267.16 253.16A88.7 88.7 0 0 1 267.24 253.26L265.08 255.04A85.9 85.9 0 0 0 265.01 254.95Z" fill="#8FD8CB" />
<path d="M267.06 253.04A88.7 88.7 0 0 1 267.16 253.16L265.01 254.95A85.9 85.9 0 0 0 264.91 254.83Z" fill="#BDBDBD" />
<path d="M104.23 301.92A95 95 0 0 1 104.64 297.97L108.21 298.42A91.4 91.4 0 0 0 107.81 302.22Z" fill="#E64B35" />
<path d="M104.84 296.49A95 95 0 0 1 123.64 251.82L126.5 254.02A91.4 91.4 0 0 0 108.4 297Z" fill="#4DBBD5" />
<path d="M124.46 250.78A95 95 0 0 1 133.38 241.01L135.87 243.61A91.4 91.4 0 0 0 127.28 253.01Z" fill="#00A087" />
<path d="M134.47 239.99A95 95 0 0 1 148.67 229.16L150.57 232.22A91.4 91.4 0 0 0 136.91 242.63Z" fill="#3C5488" />
<path d="M149.84 228.45A95 95 0 0 1 168.38 219.84L169.54 223.24A91.4 91.4 0 0 0 151.7 231.53Z" fill="#F39B7F" />
<path d="M169.64 219.42A95 95 0 0 1 193.83 214.94L194.03 218.53A91.4 91.4 0 0 0 170.75 222.84Z" fill="#8491B4" />
<path d="M195.32 214.87A95 95 0 0 1 233.29 221.24L231.98 224.6A91.4 91.4 0 0 0 195.46 218.46Z" fill="#91D1C2" />
<path d="M234.52 221.73A95 95 0 0 1 249.27 229.25L247.36 232.3A91.4 91.4 0 0 0 233.17 225.07Z" fill="#DC0000" />
<path d="M250.39 229.96A95 95 0 0 1 270.72 247.62L268 249.97A91.4 91.4 0 0 0 248.43 232.99Z" fill="#7E6148" />
<path d="M271.9 249.01A95 95 0 0 1 293.54 301.58L289.96 301.89A91.4 91.4 0 0 0 269.14 251.31Z" fill="#B09C85" />
<path d="M293.59 317.49A95 95 0 0 1 189.52 404.34L189.88 400.75A91.4 91.4 0 0 0 290 317.2Z" fill="#3FA0DA" />
<path d="M187.87 404.16A95 95 0 0 1 111.08 346.03L114.41 344.66A91.4 91.4 0 0 0 188.29 400.58Z" fill="#38BFB9" />
<path d="M110.52 344.65A95 95 0 0 1 108.26 338.25L111.69 337.17A91.4 91.4 0 0 0 113.87 343.33Z" fill="#B0C12B" />
<path d="M107.97 337.3A95 95 0 0 1 107.06 334.11L110.54 333.19A91.4 91.4 0 0 0 111.41 336.26Z" fill="#FDCB2F" />
<path d="M106.77 332.99A95 95 0 0 1 106.13 330.25L109.64 329.47A91.4 91.4 0 0 0 110.26 332.11Z" fill="#FBA22B" />
<path d="M105.95 329.44A95 95 0 0 1 105.47 327L109.01 326.35A91.4 91.4 0 0 0 109.47 328.69Z" fill="#F56A2E" />
<path d="M105.24 325.69A95 95 0 0 1 104.98 324.06L108.54 323.52A91.4 91.4 0 0 0 108.79 325.09Z" fill="#A56BE0" />
<path d="M104.9 323.57A95 95 0 0 1 104.72 322.25L108.29 321.78A91.4 91.4 0 0 0 108.46 323.04Z" fill="#1257CF" />
<path d="M104.66 321.76A95 95 0 0 1 104.54 320.77L108.11 320.36A91.4 91.4 0 0 0 108.23 321.31Z" fill="#FFC3D2" />
<path d="M104.48 320.28A95 95 0 0 1 104.38 319.29L107.96 318.93A91.4 91.4 0 0 0 108.06 319.88Z" fill="#8FD8CB" />
<path d="M104.33 318.8A95 95 0 0 1 104.22 317.56L107.81 317.27A91.4 91.4 0 0 0 107.91 318.46Z" fill="#BDBDBD" />
<path d="M104.23 301.92L101.93 301.73M104.56 298.63L103.37 298.48M104.84 296.49L102.56 296.17M105.36 293.22L104.18 293.01M105.99 289.97L104.82 289.71M106.74 286.73L105.58 286.44M107.6 283.53L106.45 283.2M108.58 280.36L106.39 279.65M109.66 277.23L108.53 276.82M110.85 274.13L109.74 273.68M112.15 271.08L111.05 270.59M113.55 268.08L112.47 267.55M115.06 265.13L113.03 264.04M116.67 262.23L115.63 261.63M118.38 259.39L117.36 258.75M120.19 256.61L119.19 255.93M122.09 253.89L121.12 253.19M124.46 250.78L122.66 249.35M126.56 248.22L125.65 247.44M128.76 245.73L127.87 244.92M131.04 243.32L130.18 242.48M134.47 239.99L132.91 238.3M136.95 237.78L136.16 236.87M139.5 235.66L138.75 234.73M142.12 233.63L141.4 232.67M144.81 231.7L144.13 230.71M147.57 229.86L146.33 227.92M149.84 228.45L148.66 226.48M152.71 226.78L152.13 225.74M155.64 225.22L155.09 224.15M158.62 223.76L158.11 222.68M161.64 222.41L161.17 221.31M164.71 221.16L163.89 219.02M167.83 220.02L167.44 218.89M169.64 219.42L168.93 217.23M172.81 218.45L172.48 217.3M176.02 217.6L175.73 216.43M179.25 216.85L179 215.68M182.5 216.23L182.3 215.04M185.78 215.71L185.46 213.43M189.07 215.31L188.95 214.12M192.37 215.02L192.29 213.83M195.32 214.87L195.24 212.57M198.64 214.8L198.63 213.6M201.95 214.85L201.99 213.65M205.27 215.01L205.35 213.82M208.57 215.29L208.69 214.1M211.86 215.69L212.18 213.41M215.14 216.2L215.34 215.02M218.4 216.82L218.64 215.65M221.63 217.56L221.92 216.39M224.83 218.41L225.16 217.25M228.01 219.37L228.71 217.18M231.15 220.44L231.55 219.31M234.52 221.73L235.38 219.6M237.57 223.03L238.06 221.93M240.58 224.43L241.1 223.35M243.53 225.94L244.09 224.88M246.43 227.55L247.03 226.51M250.39 229.96L251.63 228.03M253.14 231.81L253.83 230.82M255.83 233.75L256.55 232.79M258.45 235.78L259.2 234.84M261 237.9L261.78 237M263.47 240.11L265.03 238.43M265.86 242.41L266.71 241.56M268.17 244.79L269.05 243.97M270.4 247.25L271.3 246.45M271.9 249.01L273.67 247.54M273.98 251.59L274.93 250.86M275.97 254.25L276.94 253.55M277.86 256.97L278.85 256.31M279.65 259.76L280.67 259.13M281.35 262.61L283.35 261.47M282.95 265.52L284.01 264.96M284.44 268.48L285.52 267.95M285.83 271.49L286.93 271M287.12 274.54L288.23 274.1M288.29 277.64L290.46 276.86M289.36 280.78L290.5 280.42M290.32 283.96L291.47 283.63M291.16 287.16L292.33 286.88M291.9 290.4L293.07 290.15M292.52 293.65L294.78 293.26M293.02 296.93L294.21 296.77M293.42 300.22L294.61 300.1M293.59 317.49L295.88 317.68M293.26 320.79L294.45 320.93M292.82 324.08L294.01 324.26M292.27 327.35L293.44 327.57M291.6 330.6L292.77 330.86M290.81 333.82L293.04 334.4M289.92 337.01L291.07 337.36M288.91 340.17L290.05 340.55M287.8 343.29L288.92 343.72M286.58 346.38L287.68 346.84M285.25 349.41L287.34 350.37M283.81 352.4L284.88 352.94M282.27 355.34L283.33 355.92M280.63 358.22L281.67 358.83M278.89 361.05L279.9 361.69M277.06 363.81L278.95 365.11M275.12 366.5L276.09 367.22M273.1 369.13L274.04 369.88M270.98 371.68L271.89 372.46M268.78 374.16L269.66 374.97M266.49 376.56L268.13 378.17M264.12 378.88L264.94 379.75M261.67 381.11L262.46 382.01M259.14 383.26L259.9 384.18M256.54 385.31L257.27 386.27M253.87 387.28L255.2 389.16M251.13 389.15L251.79 390.15M248.33 390.93L248.96 391.95M245.47 392.6L246.06 393.65M242.55 394.18L243.1 395.24M239.58 395.65L240.57 397.73M236.56 397.02L237.04 398.12M233.49 398.28L233.93 399.39M230.39 399.43L230.78 400.56M227.24 400.47L227.6 401.62M224.06 401.41L224.67 403.63M220.84 402.23L221.12 403.4M217.6 402.94L217.84 404.12M214.34 403.54L214.54 404.72M211.06 404.02L211.22 405.21M207.77 404.39L207.98 406.68M204.46 404.64L204.53 405.84M201.15 404.77L201.18 405.97M197.83 404.79L197.82 405.99M194.52 404.7L194.46 405.9M191.21 404.49L191.02 406.78M187.87 404.16L187.6 406.44M184.58 403.72L184.4 404.9M181.32 403.16L181.09 404.34M178.07 402.49L177.8 403.66M174.85 401.7L174.54 402.87M171.65 400.81L170.99 403.01M168.49 399.8L168.11 400.94M165.37 398.69L164.95 399.81M162.29 397.46L161.83 398.57M159.25 396.13L158.75 397.22M156.26 394.69L155.23 396.75M153.33 393.16L152.75 394.21M150.45 391.51L149.83 392.55M147.62 389.77L146.98 390.78M144.86 387.93L144.18 388.92M142.17 386L140.8 387.85M139.54 383.98L138.79 384.91M136.99 381.86L136.21 382.77M134.51 379.65L133.7 380.54M132.12 377.36L131.27 378.22M129.8 374.99L128.13 376.57M127.57 372.54L126.66 373.33M125.42 370.01L124.49 370.77M123.36 367.41L122.41 368.14M121.4 364.74L120.42 365.44M119.53 362L117.61 363.27M117.75 359.2L116.73 359.83M116.08 356.34L115.03 356.93M114.51 353.42L113.44 353.97M113.04 350.45L111.95 350.96M111.67 347.43L109.56 348.34M110.52 344.65L108.38 345.49M109.36 341.55L108.23 341.95M108.31 338.4L107.16 338.76M107.97 337.3L105.76 337.96M106.77 332.99L104.54 333.55M105.95 329.44L103.7 329.91M105.24 325.69L102.97 326.08M104.9 323.57L102.63 323.9M104.66 321.76L102.37 322.05M104.48 320.28L102.19 320.53M104.33 318.8L102.04 319.01" stroke="#111" stroke-width="0.6" fill="none"/>
<path d="M104.23 301.92A95 95 0 0 1 104.64 297.97" stroke="#111" stroke-width="0.6" fill="none"/>
<path d="M104.84 296.49A95 95 0 0 1 123.64 251.82" stroke="#111" stroke-width="0.6" fill="none"/>
<path d="M124.46 250.78A95 95 0 0 1 133.38 241.01" stroke="#111" stroke-width="0.6" fill="none"/>
<path d="M134.47 239.99A95 95 0 0 1 148.67 229.16" stroke="#111" stroke-width="0.6" fill="none"/>
<path d="M149.84 228.45A95 95 0 0 1 168.38 219.84" stroke="#111" stroke-width="0.6" fill="none"/>
<path d="M169.64 219.42A95 95 0 0 1 193.83 214.94" stroke="#111" stroke-width="0.6" fill="none"/>
<path d="M195.32 214.87A95 95 0 0 1 233.29 221.24" stroke="#111" stroke-width="0.6" fill="none"/>
<path d="M234.52 221.73A95 95 0 0 1 249.27 229.25" stroke="#111" stroke-width="0.6" fill="none"/>
<path d="M250.39 229.96A95 95 0 0 1 270.72 247.62" stroke="#111" stroke-width="0.6" fill="none"/>
<path d="M271.9 249.01A95 95 0 0 1 293.54 301.58" stroke="#111" stroke-width="0.6" fill="none"/>
<path d="M293.59 317.49A95 95 0 0 1 189.52 404.34" stroke="#111" stroke-width="0.6" fill="none"/>
<path d="M187.87 404.16A95 95 0 0 1 111.08 346.03" stroke="#111" stroke-width="0.6" fill="none"/>
<path d="M110.52 344.65A95 95 0 0 1 108.26 338.25" stroke="#111" stroke-width="0.6" fill="none"/>
<path d="M107.97 337.3A95 95 0 0 1 107.06 334.11" stroke="#111" stroke-width="0.6" fill="none"/>
<path d="M106.77 332.99A95 95 0 0 1 106.13 330.25" stroke="#111" stroke-width="0.6" fill="none"/>
<path d="M105.95 329.44A95 95 0 0 1 105.47 327" stroke="#111" stroke-width="0.6" fill="none"/>
<path d="M105.24 325.69A95 95 0 0 1 104.98 324.06" stroke="#111" stroke-width="0.6" fill="none"/>
<path d="M104.9 323.57A95 95 0 0 1 104.72 322.25" stroke="#111" stroke-width="0.6" fill="none"/>
<path d="M104.66 321.76A95 95 0 0 1 104.54 320.77" stroke="#111" stroke-width="0.6" fill="none"/>
<path d="M104.48 320.28A95 95 0 0 1 104.38 319.29" stroke="#111" stroke-width="0.6" fill="none"/>
<path d="M104.33 318.8A95 95 0 0 1 104.22 317.56" stroke="#111" stroke-width="0.6" fill="none"/>
<g font-size="30" fill="#444" text-anchor="middle">
<text transform="translate(104.58 279.06) rotate(-71.95) scale(.1)">5e+05</text>
<text transform="translate(111.35 263.15) rotate(-61.95) scale(.1)">1e+06</text>
<text transform="translate(145.3 226.33) rotate(-32.7) scale(.1)">5e+05</text>
<text transform="translate(163.2 217.25) rotate(-21.09) scale(.1)">5e+05</text>
<text transform="translate(185.2 211.55) rotate(-7.94) scale(.1)">5e+05</text>
<text transform="translate(212.43 211.53) rotate(7.84) scale(.1)">5e+05</text>
<text transform="translate(229.29 215.37) rotate(17.84) scale(.1)">1e+06</text>
<text transform="translate(266.32 237.03) rotate(42.82) scale(.1)">5e+05</text>
<text transform="translate(285 260.52) rotate(60.21) scale(.1)">5e+05</text>
<text transform="translate(292.24 276.22) rotate(70.21) scale(.1)">1e+06</text>
<text transform="translate(296.66 292.94) rotate(80.21) scale(.1)">1.5e+06</text>
<text transform="translate(296.97 335.43) rotate(-75.36) scale(.1)">5e+06</text>
<text transform="translate(291.03 352.07) rotate(-65.36) scale(.1)">1e+07</text>
<text transform="translate(282.29 367.42) rotate(-55.36) scale(.1)">1.5e+07</text>
<text transform="translate(271.02 381.03) rotate(-45.36) scale(.1)">2e+07</text>
<text transform="translate(257.55 392.47) rotate(-35.36) scale(.1)">2.5e+07</text>
<text transform="translate(242.31 401.4) rotate(-25.36) scale(.1)">3e+07</text>
<text transform="translate(225.74 407.54) rotate(-15.36) scale(.1)">3.5e+07</text>
<text transform="translate(208.36 410.72) rotate(-5.36) scale(.1)">4e+07</text>
<text transform="translate(190.69 410.83) rotate(4.64) scale(.1)">4.5e+07</text>
<text transform="translate(169.83 406.9) rotate(16.67) scale(.1)">5e+06</text>
<text transform="translate(153.41 400.38) rotate(26.67) scale(.1)">1e+07</text>
<text transform="translate(138.37 391.1) rotate(36.67) scale(.1)">1.5e+07</text>
<text transform="translate(125.17 379.36) rotate(46.67) scale(.1)">2e+07</text>
<text transform="translate(114.21 365.5) rotate(56.67) scale(.1)">2.5e+07</text>
<text transform="translate(105.83 349.95) rotate(66.67) scale(.1)">3e+07</text>
</g>
</g>
<g>
<g fill-opacity="0.9" stroke="#fff" stroke-width="0.22" stroke-opacity="0.42">
<path d="M382.59 301.8A81.2 81.2 0 0 1 382.61 301.66Q463.4 309.8 546.06 337.56L548.12 338.33L546.02 337.7Q463.4 309.8 382.59 301.8Z" fill="#3FA0DA"/>
<path d="M393.95 267.73A81.2 81.2 0 0 1 395.31 265.55Q463.4 309.8 546.91 334.91L548.59 336.9L546.06 337.56Q463.4 309.8 393.95 267.73Z" fill="#3FA0DA"/>
<path d="M402.74 255.82A81.2 81.2 0 0 1 403.35 255.15Q463.4 309.8 547.18 333.98L549.15 335.07L546.91 334.91Q463.4 309.8 402.74 255.82Z" fill="#3FA0DA"/>
<path d="M414.92 244.66A81.2 81.2 0 0 1 415.89 243.95Q463.4 309.8 547.53 332.73L549.48 333.95L547.18 333.98Q463.4 309.8 414.92 244.66Z" fill="#3FA0DA"/>
<path d="M431.26 235.23A81.2 81.2 0 0 1 432.54 234.69Q463.4 309.8 547.91 331.28L549.85 332.56L547.53 332.73Q463.4 309.8 431.26 235.23Z" fill="#3FA0DA"/>
<path d="M449.68 229.77A81.2 81.2 0 0 1 450.91 229.57Q463.4 309.8 548.23 329.97L550.21 331.15L547.91 331.28Q463.4 309.8 449.68 229.77Z" fill="#3FA0DA"/>
<path d="M484.85 231.49A81.2 81.2 0 0 1 486.9 232.08Q463.4 309.8 548.74 327.73L550.64 329.33L548.23 329.97Q463.4 309.8 484.85 231.49Z" fill="#3FA0DA"/>
<path d="M506.64 241.07A81.2 81.2 0 0 1 508.12 242.02Q463.4 309.8 549.11 325.87L551.09 327.23L548.74 327.73Q463.4 309.8 506.64 241.07Z" fill="#3FA0DA"/>
<path d="M526.27 258.41A81.2 81.2 0 0 1 527.66 260.16Q463.4 309.8 549.52 323.48L551.49 325.05L549.11 325.87Q463.4 309.8 526.27 258.41Z" fill="#3FA0DA"/>
<path d="M543.82 298.6A81.2 81.2 0 0 1 544.32 303.05Q463.4 309.8 550.15 318.68L552.05 321.37L549.52 323.48Q463.4 309.8 543.82 298.6Z" fill="#3FA0DA"/>
<path d="M382.58 301.97A81.2 81.2 0 0 1 382.59 301.8Q463.4 309.8 536.23 357.76L538.01 359.04L536.13 357.91Q463.4 309.8 382.58 301.97Z" fill="#38BFB9"/>
<path d="M392.67 269.91A81.2 81.2 0 0 1 393.95 267.73Q463.4 309.8 537.69 355.46L538.83 357.79L536.23 357.76Q463.4 309.8 392.67 269.91Z" fill="#38BFB9"/>
<path d="M402.06 256.6A81.2 81.2 0 0 1 402.74 255.82Q463.4 309.8 538.27 354.5L539.87 356.12L537.69 355.46Q463.4 309.8 402.06 256.6Z" fill="#38BFB9"/>
<path d="M413.81 245.5A81.2 81.2 0 0 1 414.92 244.66Q463.4 309.8 539.03 353.21L540.55 354.97L538.27 354.5Q463.4 309.8 413.81 245.5Z" fill="#38BFB9"/>
<path d="M429.81 235.88A81.2 81.2 0 0 1 431.26 235.23Q463.4 309.8 539.87 351.71L541.37 353.54L539.03 353.21Q463.4 309.8 429.81 235.88Z" fill="#38BFB9"/>
<path d="M448.08 230.06A81.2 81.2 0 0 1 449.68 229.77Q463.4 309.8 540.7 350.15L542.23 351.97L539.87 351.71Q463.4 309.8 448.08 230.06Z" fill="#38BFB9"/>
<path d="M482.48 230.87A81.2 81.2 0 0 1 484.85 231.49Q463.4 309.8 541.89 347.79L543.27 349.97L540.7 350.15Q463.4 309.8 482.48 230.87Z" fill="#38BFB9"/>
<path d="M505.14 240.15A81.2 81.2 0 0 1 506.64 241.07Q463.4 309.8 542.7 346.07L544.29 347.87L541.89 347.79Q463.4 309.8 505.14 240.15Z" fill="#38BFB9"/>
<path d="M524.79 256.66A81.2 81.2 0 0 1 526.27 258.41Q463.4 309.8 543.7 343.81L545.22 345.83L542.7 346.07Q463.4 309.8 524.79 256.66Z" fill="#38BFB9"/>
<path d="M543.05 294.03A81.2 81.2 0 0 1 543.82 298.6Q463.4 309.8 545.51 339.14L546.69 342.29L543.7 343.81Q463.4 309.8 543.05 294.03Z" fill="#38BFB9"/>
<path d="M382.55 302.29A81.2 81.2 0 0 1 382.58 301.97Q463.4 309.8 505.15 386.35L506.05 388.37L504.84 386.52Q463.4 309.8 382.55 302.29Z" fill="#B0C12B"/>
<path d="M389.62 275.9A81.2 81.2 0 0 1 392.67 269.91Q463.4 309.8 511.38 382.61L509.44 386.43L505.15 386.35Q463.4 309.8 389.62 275.9Z" fill="#B0C12B"/>
<path d="M400.72 258.18A81.2 81.2 0 0 1 402.06 256.6Q463.4 309.8 513.23 381.36L513.54 383.81L511.38 382.61Q463.4 309.8 400.72 258.18Z" fill="#B0C12B"/>
<path d="M411.81 247.09A81.2 81.2 0 0 1 413.81 245.5Q463.4 309.8 515.47 379.74L515.64 382.35L513.23 381.36Q463.4 309.8 411.81 247.09Z" fill="#B0C12B"/>
<path d="M427.14 237.15A81.2 81.2 0 0 1 429.81 235.88Q463.4 309.8 518 377.79L518.09 380.52L515.47 379.74Q463.4 309.8 427.14 237.15Z" fill="#B0C12B"/>
<path d="M445.36 230.63A81.2 81.2 0 0 1 448.08 230.06Q463.4 309.8 520.31 375.87L520.57 378.53L518 377.79Q463.4 309.8 445.36 230.63Z" fill="#B0C12B"/>
<path d="M477.92 229.91A81.2 81.2 0 0 1 482.48 230.87Q463.4 309.8 524.02 372.48L523.67 375.83L520.31 375.87Q463.4 309.8 477.92 229.91Z" fill="#B0C12B"/>
<path d="M502.15 238.44A81.2 81.2 0 0 1 505.14 240.15Q463.4 309.8 526.64 369.84L526.91 372.72L524.02 372.48Q463.4 309.8 502.15 238.44Z" fill="#B0C12B"/>
<path d="M522.17 253.76A81.2 81.2 0 0 1 524.79 256.66Q463.4 309.8 529.47 366.7L529.71 369.76L526.64 369.84Q463.4 309.8 522.17 253.76Z" fill="#B0C12B"/>
<path d="M540.88 285.5A81.2 81.2 0 0 1 543.05 294.03Q463.4 309.8 535.28 359.17L534.22 364.36L529.47 366.7Q463.4 309.8 540.88 285.5Z" fill="#B0C12B"/>
<path d="M382.53 302.51A81.2 81.2 0 0 1 382.55 302.29Q463.4 309.8 478.55 395.67L478.81 397.86L478.32 395.71Q463.4 309.8 382.53 302.51Z" fill="#FDCB2F"/>
<path d="M388.06 279.52A81.2 81.2 0 0 1 389.62 275.9Q463.4 309.8 482.72 394.83L481.08 397.43L478.55 395.67Q463.4 309.8 388.06 279.52Z" fill="#FDCB2F"/>
<path d="M399.74 259.39A81.2 81.2 0 0 1 400.72 258.18Q463.4 309.8 484.36 394.44L484.05 396.78L482.72 394.83Q463.4 309.8 399.74 259.39Z" fill="#FDCB2F"/>
<path d="M410.22 248.43A81.2 81.2 0 0 1 411.81 247.09Q463.4 309.8 486.53 393.88L486.01 396.29L484.36 394.44Q463.4 309.8 410.22 248.43Z" fill="#FDCB2F"/>
<path d="M425.01 238.25A81.2 81.2 0 0 1 427.14 237.15Q463.4 309.8 489.02 393.15L488.39 395.63L486.53 393.88Q463.4 309.8 425.01 238.25Z" fill="#FDCB2F"/>
<path d="M443.24 231.14A81.2 81.2 0 0 1 445.36 230.63Q463.4 309.8 491.26 392.43L490.82 394.89L489.02 393.15Q463.4 309.8 443.24 231.14Z" fill="#FDCB2F"/>
<path d="M474.69 229.39A81.2 81.2 0 0 1 477.92 229.91Q463.4 309.8 494.58 391.23L493.67 393.92L491.26 392.43Q463.4 309.8 474.69 229.39Z" fill="#FDCB2F"/>
<path d="M499.76 237.2A81.2 81.2 0 0 1 502.15 238.44Q463.4 309.8 497.28 390.15L496.76 392.74L494.58 391.23Q463.4 309.8 499.76 237.2Z" fill="#FDCB2F"/>
<path d="M520.02 251.59A81.2 81.2 0 0 1 522.17 253.76Q463.4 309.8 500.3 388.81L499.69 391.5L497.28 390.15Q463.4 309.8 520.02 251.59Z" fill="#FDCB2F"/>
<path d="M539.78 282.24A81.2 81.2 0 0 1 540.88 285.5Q463.4 309.8 503.63 387.17L502.95 389.98L500.3 388.81Q463.4 309.8 539.78 282.24Z" fill="#FDCB2F"/>
<path d="M382.45 303.38A81.2 81.2 0 0 1 382.53 302.51Q463.4 309.8 380.49 336.81L378.25 337.03L380.2 335.91Q463.4 309.8 382.45 303.38Z" fill="#FBA22B"/>
<path d="M383.08 297.86A81.2 81.2 0 0 1 388.06 279.52Q463.4 309.8 389.1 355.44L382.25 347.3L380.49 336.81Q463.4 309.8 383.08 297.86Z" fill="#FBA22B"/>
<path d="M396.59 263.65A81.2 81.2 0 0 1 399.74 259.39Q463.4 309.8 392.25 360.21L388.8 359.06L389.1 355.44Q463.4 309.8 396.59 263.65Z" fill="#FBA22B"/>
<path d="M405.01 253.37A81.2 81.2 0 0 1 410.22 248.43Q463.4 309.8 397.01 366.33L392.82 364.68L392.25 360.21Q463.4 309.8 405.01 253.37Z" fill="#FBA22B"/>
<path d="M417.92 242.53A81.2 81.2 0 0 1 425.01 238.25Q463.4 309.8 403.15 372.84L398.4 371.17L397.01 366.33Q463.4 309.8 417.92 242.53Z" fill="#FBA22B"/>
<path d="M434.62 233.87A81.2 81.2 0 0 1 443.24 231.14Q463.4 309.8 410.58 379.18L405.35 377.79L403.15 372.84Q463.4 309.8 434.62 233.87Z" fill="#FBA22B"/>
<path d="M454.49 229.09A81.2 81.2 0 0 1 474.69 229.39Q463.4 309.8 429.46 390.12L418.57 387.15L410.58 379.18Q463.4 309.8 454.49 229.09Z" fill="#FBA22B"/>
<path d="M489.6 232.94A81.2 81.2 0 0 1 499.76 237.2Q463.4 309.8 440.7 393.99L434.3 394.33L429.46 390.12Q463.4 309.8 489.6 232.94Z" fill="#FBA22B"/>
<path d="M510.76 243.84A81.2 81.2 0 0 1 520.02 251.59Q463.4 309.8 453.52 396.44L446.65 397.62L440.7 393.99Q463.4 309.8 510.76 243.84Z" fill="#FBA22B"/>
<path d="M529.74 262.98A81.2 81.2 0 0 1 539.78 282.24Q463.4 309.8 476.97 395.94L465.3 399.18L453.52 396.44Q463.4 309.8 529.74 262.98Z" fill="#FBA22B"/>
<path d="M382.45 303.49A81.2 81.2 0 0 1 382.45 303.38Q463.4 309.8 376.68 318.93L374.49 319.1L376.67 318.81Q463.4 309.8 382.45 303.49Z" fill="#F56A2E"/>
<path d="M382.78 300.11A81.2 81.2 0 0 1 383.08 297.86Q463.4 309.8 376.97 321.37L374.63 320.42L376.68 318.93Q463.4 309.8 382.78 300.11Z" fill="#F56A2E"/>
<path d="M396.1 264.37A81.2 81.2 0 0 1 396.59 263.65Q463.4 309.8 377.1 322.31L374.86 322.14L376.97 321.37Q463.4 309.8 396.1 264.37Z" fill="#F56A2E"/>
<path d="M404.21 254.21A81.2 81.2 0 0 1 405.01 253.37Q463.4 309.8 377.29 323.55L375.02 323.26L377.1 322.31Q463.4 309.8 404.21 254.21Z" fill="#F56A2E"/>
<path d="M416.81 243.3A81.2 81.2 0 0 1 417.92 242.53Q463.4 309.8 377.53 324.98L375.24 324.63L377.29 323.55Q463.4 309.8 416.81 243.3Z" fill="#F56A2E"/>
<path d="M433.6 234.27A81.2 81.2 0 0 1 434.62 233.87Q463.4 309.8 377.75 326.15L375.47 325.97L377.53 324.98Q463.4 309.8 433.6 234.27Z" fill="#F56A2E"/>
<path d="M452.31 229.36A81.2 81.2 0 0 1 454.49 229.09Q463.4 309.8 378.22 328.48L375.82 327.76L377.75 326.15Q463.4 309.8 452.31 229.36Z" fill="#F56A2E"/>
<path d="M487.98 232.41A81.2 81.2 0 0 1 489.6 232.94Q463.4 309.8 378.64 330.27L376.28 329.87L378.22 328.48Q463.4 309.8 487.98 232.41Z" fill="#F56A2E"/>
<path d="M509.18 242.73A81.2 81.2 0 0 1 510.76 243.84Q463.4 309.8 379.15 332.29L376.76 331.82L378.64 330.27Q463.4 309.8 509.18 242.73Z" fill="#F56A2E"/>
<path d="M528.52 261.29A81.2 81.2 0 0 1 529.74 262.98Q463.4 309.8 379.76 334.46L377.33 333.97L379.15 332.29Q463.4 309.8 528.52 261.29Z" fill="#F56A2E"/>
</g>
<path d="M375.13 301.06A88.7 88.7 0 0 1 375.15 300.91L377.93 301.19A85.9 85.9 0 0 0 377.92 301.34Z" fill="#3FA0DA" />
<path d="M375.11 301.24A88.7 88.7 0 0 1 375.13 301.06L377.92 301.34A85.9 85.9 0 0 0 377.9 301.51Z" fill="#38BFB9" />
<path d="M375.08 301.6A88.7 88.7 0 0 1 375.11 301.24L377.9 301.51A85.9 85.9 0 0 0 377.87 301.86Z" fill="#B0C12B" />
<path d="M375.06 301.84A88.7 88.7 0 0 1 375.08 301.6L377.87 301.86A85.9 85.9 0 0 0 377.85 302.09Z" fill="#FDCB2F" />
<path d="M374.98 302.79A88.7 88.7 0 0 1 375.06 301.84L377.85 302.09A85.9 85.9 0 0 0 377.77 303.01Z" fill="#FBA22B" />
<path d="M374.97 302.91A88.7 88.7 0 0 1 374.98 302.79L377.77 303.01A85.9 85.9 0 0 0 377.76 303.13Z" fill="#F56A2E" />
<path d="M387.53 263.84A88.7 88.7 0 0 1 389.02 261.47L391.37 262.99A85.9 85.9 0 0 0 389.93 265.29Z" fill="#3FA0DA" />
<path d="M386.14 266.23A88.7 88.7 0 0 1 387.53 263.84L389.93 265.29A85.9 85.9 0 0 0 388.58 267.6Z" fill="#38BFB9" />
<path d="M382.8 272.77A88.7 88.7 0 0 1 386.14 266.23L388.58 267.6A85.9 85.9 0 0 0 385.34 273.94Z" fill="#B0C12B" />
<path d="M381.1 276.72A88.7 88.7 0 0 1 382.8 272.77L385.34 273.94A85.9 85.9 0 0 0 383.7 277.76Z" fill="#FDCB2F" />
<path d="M375.66 296.76A88.7 88.7 0 0 1 381.1 276.72L383.7 277.76A85.9 85.9 0 0 0 378.43 297.17Z" fill="#FBA22B" />
<path d="M375.33 299.22A88.7 88.7 0 0 1 375.66 296.76L378.43 297.17A85.9 85.9 0 0 0 378.11 299.55Z" fill="#F56A2E" />
<path d="M397.14 250.83A88.7 88.7 0 0 1 397.8 250.1L399.87 251.98A85.9 85.9 0 0 0 399.23 252.69Z" fill="#3FA0DA" />
<path d="M396.39 251.68A88.7 88.7 0 0 1 397.14 250.83L399.23 252.69A85.9 85.9 0 0 0 398.51 253.52Z" fill="#38BFB9" />
<path d="M394.93 253.41A88.7 88.7 0 0 1 396.39 251.68L398.51 253.52A85.9 85.9 0 0 0 397.09 255.19Z" fill="#B0C12B" />
<path d="M393.86 254.74A88.7 88.7 0 0 1 394.93 253.41L397.09 255.19A85.9 85.9 0 0 0 396.05 256.48Z" fill="#FDCB2F" />
<path d="M390.42 259.39A88.7 88.7 0 0 1 393.86 254.74L396.05 256.48A85.9 85.9 0 0 0 392.72 260.98Z" fill="#FBA22B" />
<path d="M389.88 260.18A88.7 88.7 0 0 1 390.42 259.39L392.72 260.98A85.9 85.9 0 0 0 392.2 261.75Z" fill="#F56A2E" />
<path d="M410.44 238.65A88.7 88.7 0 0 1 411.5 237.87L413.14 240.14A85.9 85.9 0 0 0 412.11 240.89Z" fill="#3FA0DA" />
<path d="M409.23 239.56A88.7 88.7 0 0 1 410.44 238.65L412.11 240.89A85.9 85.9 0 0 0 410.94 241.78Z" fill="#38BFB9" />
<path d="M407.05 241.3A88.7 88.7 0 0 1 409.23 239.56L410.94 241.78A85.9 85.9 0 0 0 408.83 243.46Z" fill="#B0C12B" />
<path d="M405.31 242.77A88.7 88.7 0 0 1 407.05 241.3L408.83 243.46A85.9 85.9 0 0 0 407.15 244.88Z" fill="#FDCB2F" />
<path d="M399.62 248.16A88.7 88.7 0 0 1 405.31 242.77L407.15 244.88A85.9 85.9 0 0 0 401.63 250.1Z" fill="#FBA22B" />
<path d="M398.74 249.08A88.7 88.7 0 0 1 399.62 248.16L401.63 250.1A85.9 85.9 0 0 0 400.78 250.99Z" fill="#F56A2E" />
<path d="M428.3 228.34A88.7 88.7 0 0 1 429.7 227.75L430.76 230.34A85.9 85.9 0 0 0 429.4 230.91Z" fill="#3FA0DA" />
<path d="M426.7 229.05A88.7 88.7 0 0 1 428.3 228.34L429.4 230.91A85.9 85.9 0 0 0 427.86 231.6Z" fill="#38BFB9" />
<path d="M423.79 230.44A88.7 88.7 0 0 1 426.7 229.05L427.86 231.6A85.9 85.9 0 0 0 425.04 232.94Z" fill="#B0C12B" />
<path d="M421.46 231.64A88.7 88.7 0 0 1 423.79 230.44L425.04 232.94A85.9 85.9 0 0 0 422.79 234.11Z" fill="#FDCB2F" />
<path d="M413.72 236.32A88.7 88.7 0 0 1 421.46 231.64L422.79 234.11A85.9 85.9 0 0 0 415.28 238.64Z" fill="#FBA22B" />
<path d="M412.5 237.15A88.7 88.7 0 0 1 413.72 236.32L415.28 238.64A85.9 85.9 0 0 0 414.11 239.45Z" fill="#F56A2E" />
<path d="M448.42 222.37A88.7 88.7 0 0 1 449.75 222.16L450.18 224.92A85.9 85.9 0 0 0 448.89 225.13Z" fill="#3FA0DA" />
<path d="M446.67 222.69A88.7 88.7 0 0 1 448.42 222.37L448.89 225.13A85.9 85.9 0 0 0 447.19 225.44Z" fill="#38BFB9" />
<path d="M443.69 223.32A88.7 88.7 0 0 1 446.67 222.69L447.19 225.44A85.9 85.9 0 0 0 444.31 226.05Z" fill="#B0C12B" />
<path d="M441.38 223.88A88.7 88.7 0 0 1 443.69 223.32L444.31 226.05A85.9 85.9 0 0 0 442.08 226.59Z" fill="#FDCB2F" />
<path d="M431.96 226.86A88.7 88.7 0 0 1 441.38 223.88L442.08 226.59A85.9 85.9 0 0 0 432.95 229.48Z" fill="#FBA22B" />
<path d="M430.84 227.29A88.7 88.7 0 0 1 431.96 226.86L432.95 229.48A85.9 85.9 0 0 0 431.87 229.9Z" fill="#F56A2E" />
<path d="M486.83 224.25A88.7 88.7 0 0 1 489.07 224.9L488.26 227.58A85.9 85.9 0 0 0 486.09 226.95Z" fill="#3FA0DA" />
<path d="M484.24 223.58A88.7 88.7 0 0 1 486.83 224.25L486.09 226.95A85.9 85.9 0 0 0 483.58 226.3Z" fill="#38BFB9" />
<path d="M479.27 222.53A88.7 88.7 0 0 1 484.24 223.58L483.58 226.3A85.9 85.9 0 0 0 478.77 225.29Z" fill="#B0C12B" />
<path d="M475.74 221.96A88.7 88.7 0 0 1 479.27 222.53L478.77 225.29A85.9 85.9 0 0 0 475.35 224.73Z" fill="#FDCB2F" />
<path d="M453.67 221.64A88.7 88.7 0 0 1 475.74 221.96L475.35 224.73A85.9 85.9 0 0 0 453.98 224.42Z" fill="#FBA22B" />
<path d="M451.28 221.93A88.7 88.7 0 0 1 453.67 221.64L453.98 224.42A85.9 85.9 0 0 0 451.67 224.71Z" fill="#F56A2E" />
<path d="M510.64 234.72A88.7 88.7 0 0 1 512.25 235.76L510.71 238.1A85.9 85.9 0 0 0 509.15 237.09Z" fill="#3FA0DA" />
<path d="M509 233.72A88.7 88.7 0 0 1 510.64 234.72L509.15 237.09A85.9 85.9 0 0 0 507.56 236.12Z" fill="#38BFB9" />
<path d="M505.73 231.85A88.7 88.7 0 0 1 509 233.72L507.56 236.12A85.9 85.9 0 0 0 504.39 234.31Z" fill="#B0C12B" />
<path d="M503.12 230.49A88.7 88.7 0 0 1 505.73 231.85L504.39 234.31A85.9 85.9 0 0 0 501.86 232.99Z" fill="#FDCB2F" />
<path d="M492.02 225.84A88.7 88.7 0 0 1 503.12 230.49L501.86 232.99A85.9 85.9 0 0 0 491.12 228.49Z" fill="#FBA22B" />
<path d="M490.26 225.26A88.7 88.7 0 0 1 492.02 225.84L491.12 228.49A85.9 85.9 0 0 0 489.41 227.93Z" fill="#F56A2E" />
<path d="M532.07 253.66A88.7 88.7 0 0 1 533.6 255.58L531.38 257.29A85.9 85.9 0 0 0 529.91 255.43Z" fill="#3FA0DA" />
<path d="M530.47 251.75A88.7 88.7 0 0 1 532.07 253.66L529.91 255.43A85.9 85.9 0 0 0 528.35 253.58Z" fill="#38BFB9" />
<path d="M527.59 248.59A88.7 88.7 0 0 1 530.47 251.75L528.35 253.58A85.9 85.9 0 0 0 525.57 250.52Z" fill="#B0C12B" />
<path d="M525.25 246.22A88.7 88.7 0 0 1 527.59 248.59L525.57 250.52A85.9 85.9 0 0 0 523.29 248.22Z" fill="#FDCB2F" />
<path d="M515.13 237.75A88.7 88.7 0 0 1 525.25 246.22L523.29 248.22A85.9 85.9 0 0 0 513.5 240.02Z" fill="#FBA22B" />
<path d="M513.41 236.54A88.7 88.7 0 0 1 515.13 237.75L513.5 240.02A85.9 85.9 0 0 0 511.83 238.85Z" fill="#F56A2E" />
<path d="M551.25 297.56A88.7 88.7 0 0 1 551.79 302.43L549 302.66A85.9 85.9 0 0 0 548.48 297.95Z" fill="#3FA0DA" />
<path d="M550.41 292.57A88.7 88.7 0 0 1 551.25 297.56L548.48 297.95A85.9 85.9 0 0 0 547.66 293.11Z" fill="#38BFB9" />
<path d="M548.03 283.25A88.7 88.7 0 0 1 550.41 292.57L547.66 293.11A85.9 85.9 0 0 0 545.36 284.09Z" fill="#B0C12B" />
<path d="M546.83 279.69A88.7 88.7 0 0 1 548.03 283.25L545.36 284.09A85.9 85.9 0 0 0 544.2 280.64Z" fill="#FDCB2F" />
<path d="M535.87 258.65A88.7 88.7 0 0 1 546.83 279.69L544.2 280.64A85.9 85.9 0 0 0 533.58 260.27Z" fill="#FBA22B" />
<path d="M534.53 256.81A88.7 88.7 0 0 1 535.87 258.65L533.58 260.27A85.9 85.9 0 0 0 532.29 258.48Z" fill="#F56A2E" />
<path d="M368.69 302.42A95 95 0 0 1 368.88 300.28L372.46 300.64A91.4 91.4 0 0 0 372.28 302.7Z" fill="#E64B35" />
<path d="M369.08 298.46A95 95 0 0 1 383.74 258.03L386.76 260A91.4 91.4 0 0 0 372.65 298.89Z" fill="#4DBBD5" />
<path d="M384.66 256.65A95 95 0 0 1 393.14 245.86L395.8 248.28A91.4 91.4 0 0 0 387.64 258.67Z" fill="#00A087" />
<path d="M394.15 244.76A95 95 0 0 1 407.81 232.76L409.92 235.68A91.4 91.4 0 0 0 396.78 247.23Z" fill="#3C5488" />
<path d="M408.89 231.99A95 95 0 0 1 427.3 221.93L428.67 225.26A91.4 91.4 0 0 0 410.96 234.94Z" fill="#F39B7F" />
<path d="M428.53 221.43A95 95 0 0 1 448.78 215.93L449.34 219.49A91.4 91.4 0 0 0 429.85 224.78Z" fill="#8491B4" />
<path d="M450.42 215.69A95 95 0 0 1 490.9 218.87L489.86 222.31A91.4 91.4 0 0 0 450.91 219.26Z" fill="#91D1C2" />
<path d="M492.16 219.26A95 95 0 0 1 515.72 230.5L513.74 233.51A91.4 91.4 0 0 0 491.07 222.69Z" fill="#DC0000" />
<path d="M516.96 231.34A95 95 0 0 1 538.58 251.72L535.73 253.93A91.4 91.4 0 0 0 514.93 234.31Z" fill="#7E6148" />
<path d="M539.58 253.05A95 95 0 0 1 558.07 301.91L554.48 302.21A91.4 91.4 0 0 0 536.7 255.2Z" fill="#B09C85" />
<path d="M557.91 319.48A95 95 0 0 1 553.41 340.2L549.99 339.05A91.4 91.4 0 0 0 554.32 319.11Z" fill="#3FA0DA" />
<path d="M552.86 341.77A95 95 0 0 1 542.63 362.21L539.63 360.22A91.4 91.4 0 0 0 549.47 340.56Z" fill="#38BFB9" />
<path d="M541.71 363.59A95 95 0 0 1 508.55 393.39L506.84 390.22A91.4 91.4 0 0 0 538.74 361.55Z" fill="#B0C12B" />
<path d="M507.23 394.09A95 95 0 0 1 479.65 403.4L479.04 399.85A91.4 91.4 0 0 0 505.57 390.89Z" fill="#FDCB2F" />
<path d="M478.18 403.64A95 95 0 0 1 372.76 338.25L376.19 337.17A91.4 91.4 0 0 0 477.62 400.09Z" fill="#FBA22B" />
<path d="M372.28 336.66A95 95 0 0 1 368.91 319.62L372.49 319.25A91.4 91.4 0 0 0 375.73 335.64Z" fill="#F56A2E" />
<path d="M368.69 302.42L366.39 302.24M369.08 298.46L366.8 298.19M369.53 295.18L368.35 295M370.1 291.91L368.92 291.69M370.78 288.67L369.61 288.4M371.57 285.45L370.41 285.14M372.48 282.26L370.28 281.59M373.5 279.1L372.36 278.71M374.62 275.98L373.5 275.56M375.86 272.91L374.75 272.44M377.2 269.87L376.11 269.37M378.64 266.89L376.59 265.85M380.19 263.96L379.14 263.38M381.84 261.08L380.81 260.47M383.59 258.26L382.59 257.61M384.66 256.65L382.75 255.37M386.56 253.94L385.59 253.23M388.56 251.29L387.61 250.55M390.64 248.71L389.72 247.94M392.82 246.21L391.93 245.41M394.15 244.76L392.47 243.19M396.46 242.39L395.62 241.54M398.86 240.09L398.04 239.21M401.33 237.88L400.54 236.97M403.88 235.76L403.12 234.82M406.5 233.73L405.12 231.89M408.89 231.99L407.57 230.11M411.64 230.14L410.98 229.13M414.45 228.38L413.83 227.35M417.32 226.72L416.74 225.67M420.25 225.17L419.7 224.1M423.23 223.71L422.26 221.63M426.26 222.36L425.79 221.26M428.53 221.43L427.69 219.29M431.64 220.27L431.23 219.14M434.78 219.21L434.42 218.07M437.96 218.27L437.64 217.11M441.17 217.44L440.89 216.27M444.4 216.72L443.94 214.46M447.66 216.11L447.47 214.93M450.42 215.69L450.11 213.41M453.71 215.3L453.59 214.1M457.02 215.01L456.94 213.82M460.33 214.85L460.29 213.65M463.65 214.8L463.65 213.6M466.96 214.87L467.05 212.57M470.27 215.05L470.36 213.85M473.57 215.35L473.7 214.15M476.87 215.76L477.04 214.57M480.14 216.29L480.35 215.11M483.39 216.93L483.88 214.68M486.62 217.68L486.91 216.52M489.82 218.55L490.16 217.4M492.16 219.26L492.86 217.07M495.31 220.32L495.71 219.19M498.41 221.49L498.85 220.37M501.47 222.76L501.95 221.66M504.48 224.14L505 223.06M507.45 225.63L508.51 223.59M510.36 227.22L510.95 226.17M513.21 228.91L513.84 227.89M516.96 231.34L518.25 229.44M519.66 233.25L520.37 232.29M522.3 235.26L523.04 234.32M524.87 237.36L525.64 236.45M527.36 239.55L528.16 238.67M529.77 241.83L531.38 240.18M532.1 244.19L532.97 243.36M534.35 246.62L535.24 245.82M536.51 249.14L537.43 248.37M539.58 253.05L541.43 251.67M541.52 255.74L542.5 255.06M543.36 258.5L544.37 257.85M545.1 261.32L546.13 260.71M546.74 264.2L547.79 263.63M548.28 267.14L550.34 266.1M549.72 270.13L550.81 269.62M551.05 273.16L552.16 272.7M552.28 276.24L553.4 275.82M553.39 279.37L554.53 278.98M554.4 282.53L556.6 281.86M555.3 285.72L556.46 285.41M556.08 288.94L557.25 288.68M556.75 292.19L557.93 291.96M557.31 295.46L558.5 295.27M557.75 298.74L560.04 298.47M557.91 319.48L560.19 319.71M557.51 322.77L558.7 322.93M557 326.05L558.18 326.25M556.38 329.3L557.55 329.55M555.64 332.53L556.8 332.82M554.79 335.74L557 336.37M553.83 338.91L554.97 339.28M552.86 341.77L555.03 342.54M551.69 344.87L552.81 345.31M550.41 347.93L551.51 348.41M549.03 350.94L550.11 351.46M547.54 353.91L548.6 354.46M545.95 356.82L547.95 357.95M544.26 359.67L545.28 360.3M541.71 363.59L543.6 364.89M539.78 366.29L540.75 367M537.76 368.92L538.7 369.67M535.66 371.48L536.57 372.26M533.46 373.96L534.34 374.77M531.18 376.37L532.82 377.98M528.81 378.69L529.64 379.56M526.37 380.93L527.16 381.83M523.85 383.09L524.61 384.01M521.25 385.15L521.98 386.1M518.59 387.13L519.92 389M515.86 389L516.52 390.01M513.06 390.79L513.69 391.81M510.2 392.47L510.79 393.52M507.23 394.09L508.29 396.13M504.26 395.56L504.78 396.65M501.24 396.94L501.72 398.04M498.18 398.21L498.62 399.32M495.07 399.37L495.47 400.5M491.93 400.42L492.62 402.61M488.75 401.36L489.07 402.51M485.54 402.19L485.82 403.35M482.3 402.9L482.54 404.08M478.18 403.64L478.54 405.92M474.89 404.1L475.04 405.29M471.6 404.45L471.7 405.64M468.29 404.67L468.35 405.87M464.97 404.79L464.99 405.99M461.66 404.78L461.62 407.08M458.34 404.67L458.28 405.86M455.04 404.43L454.93 405.63M451.74 404.08L451.59 405.27M448.46 403.62L448.27 404.8M445.19 403.04L444.75 405.3M441.95 402.35L441.68 403.52M438.73 401.54L438.42 402.7M435.54 400.62L435.19 401.77M432.39 399.6L432 400.73M429.28 398.46L428.45 400.61M426.2 397.22L425.73 398.32M423.18 395.86L422.67 396.95M420.2 394.41L419.65 395.48M417.27 392.85L416.69 393.9M414.4 391.19L413.21 393.16M411.59 389.43L410.93 390.43M408.84 387.57L408.15 388.55M406.16 385.62L405.44 386.58M403.55 383.58L402.79 384.51M401.01 381.44L399.5 383.18M398.55 379.22L397.73 380.1M396.17 376.92L395.32 377.76M393.86 374.53L392.99 375.35M391.65 372.06L390.74 372.85M389.52 369.52L387.73 370.97M387.48 366.91L386.52 367.63M385.53 364.22L384.55 364.91M383.68 361.47L382.67 362.12M381.93 358.66L380.9 359.27M380.27 355.78L378.26 356.9M378.72 352.85L377.65 353.4M377.27 349.87L376.18 350.38M375.92 346.84L374.81 347.31M374.68 343.77L373.56 344.2M373.55 340.65L371.37 341.4M372.28 336.66L370.07 337.31M371.39 333.47L370.23 333.76M370.63 330.24L369.45 330.5M369.97 326.99L368.79 327.21M369.43 323.72L368.24 323.89M369 320.43L366.71 320.69" stroke="#111" stroke-width="0.6" fill="none"/>
<path d="M368.69 302.42A95 95 0 0 1 368.88 300.28" stroke="#111" stroke-width="0.6" fill="none"/>
<path d="M369.08 298.46A95 95 0 0 1 383.74 258.03" stroke="#111" stroke-width="0.6" fill="none"/>
<path d="M384.66 256.65A95 95 0 0 1 393.14 245.86" stroke="#111" stroke-width="0.6" fill="none"/>
<path d="M394.15 244.76A95 95 0 0 1 407.81 232.76" stroke="#111" stroke-width="0.6" fill="none"/>
<path d="M408.89 231.99A95 95 0 0 1 427.3 221.93" stroke="#111" stroke-width="0.6" fill="none"/>
<path d="M428.53 221.43A95 95 0 0 1 448.78 215.93" stroke="#111" stroke-width="0.6" fill="none"/>
<path d="M450.42 215.69A95 95 0 0 1 490.9 218.87" stroke="#111" stroke-width="0.6" fill="none"/>
<path d="M492.16 219.26A95 95 0 0 1 515.72 230.5" stroke="#111" stroke-width="0.6" fill="none"/>
<path d="M516.96 231.34A95 95 0 0 1 538.58 251.72" stroke="#111" stroke-width="0.6" fill="none"/>
<path d="M539.58 253.05A95 95 0 0 1 558.07 301.91" stroke="#111" stroke-width="0.6" fill="none"/>
<path d="M557.91 319.48A95 95 0 0 1 553.41 340.2" stroke="#111" stroke-width="0.6" fill="none"/>
<path d="M552.86 341.77A95 95 0 0 1 542.63 362.21" stroke="#111" stroke-width="0.6" fill="none"/>
<path d="M541.71 363.59A95 95 0 0 1 508.55 393.39" stroke="#111" stroke-width="0.6" fill="none"/>
<path d="M507.23 394.09A95 95 0 0 1 479.65 403.4" stroke="#111" stroke-width="0.6" fill="none"/>
<path d="M478.18 403.64A95 95 0 0 1 372.76 338.25" stroke="#111" stroke-width="0.6" fill="none"/>
<path d="M372.28 336.66A95 95 0 0 1 368.91 319.62" stroke="#111" stroke-width="0.6" fill="none"/>
<g font-size="30" fill="#444" text-anchor="middle">
<text transform="translate(368.46 281.04) rotate(-73.15) scale(.1)">5e+05</text>
<text transform="translate(374.9 264.99) rotate(-63.15) scale(.1)">1e+06</text>
<text transform="translate(403.98 230.36) rotate(-36.8) scale(.1)">5e+05</text>
<text transform="translate(421.45 219.91) rotate(-25.01) scale(.1)">5e+05</text>
<text transform="translate(443.56 212.6) rotate(-11.53) scale(.1)">5e+05</text>
<text transform="translate(467.12 210.67) rotate(2.15) scale(.1)">5e+05</text>
<text transform="translate(484.28 212.82) rotate(12.15) scale(.1)">1e+06</text>
<text transform="translate(509.4 221.91) rotate(27.62) scale(.1)">5e+05</text>
<text transform="translate(532.7 238.82) rotate(44.32) scale(.1)">5e+05</text>
<text transform="translate(552.03 265.25) rotate(63.32) scale(.1)">5e+05</text>
<text transform="translate(558.42 281.32) rotate(73.32) scale(.1)">1e+06</text>
<text transform="translate(561.93 298.25) rotate(83.32) scale(.1)">1.5e+06</text>
<text transform="translate(560.91 337.48) rotate(-74.15) scale(.1)">5e+06</text>
<text transform="translate(551.48 359.96) rotate(-60.34) scale(.1)">5e+06</text>
<text transform="translate(535.71 380.82) rotate(-45.52) scale(.1)">5e+06</text>
<text transform="translate(522.28 392.3) rotate(-35.52) scale(.1)">1e+07</text>
<text transform="translate(493.84 406.48) rotate(-17.47) scale(.1)">5e+06</text>
<text transform="translate(461.54 411.14) rotate(1.05) scale(.1)">5e+06</text>
<text transform="translate(443.97 409.28) rotate(11.05) scale(.1)">1e+07</text>
<text transform="translate(426.99 404.4) rotate(21.05) scale(.1)">1.5e+07</text>
<text transform="translate(411.12 396.64) rotate(31.05) scale(.1)">2e+07</text>
<text transform="translate(396.83 386.24) rotate(41.05) scale(.1)">2.5e+07</text>
<text transform="translate(384.57 373.52) rotate(51.05) scale(.1)">3e+07</text>
<text transform="translate(374.71 358.86) rotate(61.05) scale(.1)">3.5e+07</text>
<text transform="translate(367.53 342.72) rotate(71.05) scale(.1)">4e+07</text>
<text transform="translate(362.68 321.14) rotate(83.58) scale(.1)">5e+06</text>
</g>
</g>
<text transform="translate(0.5 11.4) scale(.1)" font-size="132" text-anchor="start" font-weight="normal" fill="#111" >(a)</text>
<text transform="translate(659.3 11.8) scale(.1)" font-size="132" text-anchor="start" font-weight="normal" fill="#111" >(b)</text>
<text transform="translate(0.5 227.7) scale(.1)" font-size="132" text-anchor="start" font-weight="normal" fill="#111" >(c)</text>
<text transform="translate(659.3 225) scale(.1)" font-size="132" text-anchor="start" font-weight="normal" fill="#111" >(d)</text>
<text transform="translate(0.5 438.3) scale(.1)" font-size="132" text-anchor="start" font-weight="normal" fill="#111" >(e)</text>
<text transform="translate(132.3 438.3) scale(.1)" font-size="132" text-anchor="start" font-weight="normal" fill="#111" >(g)</text>
<text transform="translate(0.5 606.8) scale(.1)" font-size="132" text-anchor="start" font-weight="normal" fill="#111" >(f)</text>
<text transform="translate(90.2 17.2) scale(.1)" font-size="82.5" text-anchor="end" font-weight="bold" fill="#111" >ARG type</text>
<text transform="translate(80.8 33.55) scale(.1)" font-size="62" text-anchor="end" font-weight="normal" fill="#111" >Multidrug</text>
<circle cx="85.1" cy="31.7" r="2.9" fill="#3FA0DA"/>
<text transform="translate(80.8 47.94) scale(.1)" font-size="62" text-anchor="end" font-weight="normal" fill="#111" >Quinolone</text>
<circle cx="85.1" cy="46.09" r="2.9" fill="#38BFB9"/>
<text transform="translate(80.8 62.33) scale(.1)" font-size="62" text-anchor="end" font-weight="normal" fill="#111" >Polymyxin</text>
<circle cx="85.1" cy="60.48" r="2.9" fill="#B0C12B"/>
<text transform="translate(80.8 76.72) scale(.1)" font-size="62" text-anchor="end" font-weight="normal" fill="#111" >Bacitracin</text>
<circle cx="85.1" cy="74.87" r="2.9" fill="#FDCB2F"/>
<text transform="translate(80.8 91.11) scale(.1)" font-size="62" text-anchor="end" font-weight="normal" fill="#111" >MLS</text>
<circle cx="85.1" cy="89.26" r="2.9" fill="#FBA22B"/>
<text transform="translate(80.8 105.5) scale(.1)" font-size="62" text-anchor="end" font-weight="normal" fill="#111" >Tetracycline</text>
<circle cx="85.1" cy="103.65" r="2.9" fill="#F56A2E"/>
<text transform="translate(80.8 119.89) scale(.1)" font-size="62" text-anchor="end" font-weight="normal" fill="#111" >Beta_lactam</text>
<circle cx="85.1" cy="118.04" r="2.9" fill="#A56BE0"/>
<text transform="translate(80.8 134.28) scale(.1)" font-size="62" text-anchor="end" font-weight="normal" fill="#111" >Aminoglycoside</text>
<circle cx="85.1" cy="132.43" r="2.9" fill="#1257CF"/>
<text transform="translate(80.8 148.67) scale(.1)" font-size="62" text-anchor="end" font-weight="normal" fill="#111" >Other_peptide_antibiotics</text>
<circle cx="85.1" cy="146.82" r="2.9" fill="#FFC3D2"/>
<text transform="translate(80.8 163.06) scale(.1)" font-size="62" text-anchor="end" font-weight="normal" fill="#111" >Fosfomycin</text>
<circle cx="85.1" cy="161.21" r="2.9" fill="#8FD8CB"/>
<text transform="translate(80.8 177.45) scale(.1)" font-size="62" text-anchor="end" font-weight="normal" fill="#111" >Others</text>
<circle cx="85.1" cy="175.6" r="2.9" fill="#BDBDBD"/>
<text transform="translate(90.6 228.4) scale(.1)" font-size="82.5" text-anchor="end" font-weight="bold" fill="#111" >Bacteria phylum</text>
<text transform="translate(78.8 248.85) scale(.1)" font-size="62" text-anchor="end" font-weight="normal" fill="#111" >p__Pseudomonadota</text>
<circle cx="85.1" cy="246.9" r="2.9" fill="#3FA0DA"/>
<text transform="translate(78.8 263.13) scale(.1)" font-size="62" text-anchor="end" font-weight="normal" fill="#111" >p__Bacillota</text>
<circle cx="85.1" cy="261.18" r="2.9" fill="#38BFB9"/>
<text transform="translate(78.8 277.41) scale(.1)" font-size="62" text-anchor="end" font-weight="normal" fill="#111" >p__Bacteroidota</text>
<circle cx="85.1" cy="275.46" r="2.9" fill="#B0C12B"/>
<text transform="translate(78.8 291.69) scale(.1)" font-size="62" text-anchor="end" font-weight="normal" fill="#111" >p__Mycoplasmatota</text>
<circle cx="85.1" cy="289.74" r="2.9" fill="#FDCB2F"/>
<text transform="translate(78.8 305.97) scale(.1)" font-size="62" text-anchor="end" font-weight="normal" fill="#111" >p__Fusobacteriota</text>
<circle cx="85.1" cy="304.02" r="2.9" fill="#FBA22B"/>
<text transform="translate(78.8 320.25) scale(.1)" font-size="62" text-anchor="end" font-weight="normal" fill="#111" >p__Actinomycetota</text>
<circle cx="85.1" cy="318.3" r="2.9" fill="#F56A2E"/>
<text transform="translate(78.8 334.53) scale(.1)" font-size="62" text-anchor="end" font-weight="normal" fill="#111" >p__Campylobacterota</text>
<circle cx="85.1" cy="332.58" r="2.9" fill="#A56BE0"/>
<text transform="translate(78.8 348.81) scale(.1)" font-size="62" text-anchor="end" font-weight="normal" fill="#111" >p__Thermodesulfobacteriota</text>
<circle cx="85.1" cy="346.86" r="2.9" fill="#1257CF"/>
<text transform="translate(78.8 363.09) scale(.1)" font-size="62" text-anchor="end" font-weight="normal" fill="#111" >p__Cyanobacteriota</text>
<circle cx="85.1" cy="361.14" r="2.9" fill="#FFC3D2"/>
<text transform="translate(78.8 377.37) scale(.1)" font-size="62" text-anchor="end" font-weight="normal" fill="#111" >p__Spirochaetota</text>
<circle cx="85.1" cy="375.42" r="2.9" fill="#8FD8CB"/>
<text transform="translate(78.8 391.65) scale(.1)" font-size="62" text-anchor="end" font-weight="normal" fill="#111" >Others</text>
<circle cx="85.1" cy="389.7" r="2.9" fill="#BDBDBD"/>
<text transform="translate(571.1 17.7) scale(.1)" font-size="82.5" text-anchor="start" font-weight="bold" fill="#111" >VFG category</text>
<circle cx="574.6" cy="28.2" r="2.9" fill="#3FA0DA"/>
<text transform="translate(581 30.35) scale(.1)" font-size="62" text-anchor="start" font-weight="normal" fill="#111" >Adherence</text>
<circle cx="574.6" cy="42.57" r="2.9" fill="#38BFB9"/>
<text transform="translate(581 41.27) scale(.1)" font-size="62" text-anchor="start" font-weight="normal" fill="#111" >Antimicrobial activity/</text>
<text transform="translate(581 47.17) scale(.1)" font-size="62" text-anchor="start" font-weight="normal" fill="#111" >Competitive advantage</text>
<circle cx="574.6" cy="56.94" r="2.9" fill="#B0C12B"/>
<text transform="translate(581 59.09) scale(.1)" font-size="62" text-anchor="start" font-weight="normal" fill="#111" >Biofilm</text>
<circle cx="574.6" cy="71.31" r="2.9" fill="#FDCB2F"/>
<text transform="translate(581 73.46) scale(.1)" font-size="62" text-anchor="start" font-weight="normal" fill="#111" >Effector delivery system</text>
<circle cx="574.6" cy="85.68" r="2.9" fill="#FBA22B"/>
<text transform="translate(581 87.83) scale(.1)" font-size="62" text-anchor="start" font-weight="normal" fill="#111" >Exoenzyme</text>
<circle cx="574.6" cy="100.05" r="2.9" fill="#F56A2E"/>
<text transform="translate(581 102.2) scale(.1)" font-size="62" text-anchor="start" font-weight="normal" fill="#111" >Exotoxin</text>
<circle cx="574.6" cy="114.42" r="2.9" fill="#A56BE0"/>
<text transform="translate(581 116.57) scale(.1)" font-size="62" text-anchor="start" font-weight="normal" fill="#111" >Immune modulation</text>
<circle cx="574.6" cy="128.79" r="2.9" fill="#1257CF"/>
<text transform="translate(581 130.94) scale(.1)" font-size="62" text-anchor="start" font-weight="normal" fill="#111" >Invasion</text>
<circle cx="574.6" cy="143.16" r="2.9" fill="#FFC3D2"/>
<text transform="translate(581 145.31) scale(.1)" font-size="62" text-anchor="start" font-weight="normal" fill="#111" >Motility</text>
<circle cx="574.6" cy="157.53" r="2.9" fill="#8FD8CB"/>
<text transform="translate(581 159.68) scale(.1)" font-size="62" text-anchor="start" font-weight="normal" fill="#111" >Nutritional/Metabolic factor</text>
<circle cx="574.6" cy="171.9" r="2.9" fill="#BDBDBD"/>
<text transform="translate(581 174.05) scale(.1)" font-size="62" text-anchor="start" font-weight="normal" fill="#111" >Others</text>
<text transform="translate(571.1 255.3) scale(.1)" font-size="82.5" text-anchor="start" font-weight="bold" fill="#111" >KEGG function</text>
<circle cx="574.2" cy="272.3" r="2.9" fill="#3FA0DA"/>
<text transform="translate(581 274.6) scale(.1)" font-size="62" text-anchor="start" font-weight="normal" fill="#111" >Cellular Processes</text>
<circle cx="574.2" cy="286.68" r="2.9" fill="#38BFB9"/>
<text transform="translate(581 288.98) scale(.1)" font-size="62" text-anchor="start" font-weight="normal" fill="#111" >Environmental Information Processing</text>
<circle cx="574.2" cy="301.06" r="2.9" fill="#B0C12B"/>
<text transform="translate(581 303.36) scale(.1)" font-size="62" text-anchor="start" font-weight="normal" fill="#111" >Genetic Information Processing</text>
<circle cx="574.2" cy="315.44" r="2.9" fill="#FDCB2F"/>
<text transform="translate(581 317.74) scale(.1)" font-size="62" text-anchor="start" font-weight="normal" fill="#111" >Human Diseases</text>
<circle cx="574.2" cy="329.82" r="2.9" fill="#FBA22B"/>
<text transform="translate(581 332.12) scale(.1)" font-size="62" text-anchor="start" font-weight="normal" fill="#111" >Metabolism</text>
<circle cx="574.2" cy="344.2" r="2.9" fill="#F56A2E"/>
<text transform="translate(581 346.5) scale(.1)" font-size="62" text-anchor="start" font-weight="normal" fill="#111" >Organismal Systems</text>
<rect x="299.7" y="131.7" width="63.1" height="138.4" rx="5.5" ry="5.5" fill="#fff" stroke="#2457F0" stroke-width="1.1" stroke-dasharray="3.2 2.2"/>
<text transform="translate(331 139.9) scale(.1)" font-size="74" text-anchor="middle" font-weight="normal" fill="#111" >Group</text>
<rect x="303" y="145.3" width="10.1" height="4.6" fill="#E64B35"/>
<text transform="translate(314.9 149.8) scale(.1)" font-size="63" text-anchor="start" font-weight="normal" fill="#111" >Rural_SY</text>
<rect x="303" y="158.16" width="10.1" height="4.6" fill="#4DBBD5"/>
<text transform="translate(314.9 162.66) scale(.1)" font-size="63" text-anchor="start" font-weight="normal" fill="#111" >Rural_YJ</text>
<rect x="303" y="171.02" width="10.1" height="4.6" fill="#00A087"/>
<text transform="translate(314.9 175.52) scale(.1)" font-size="63" text-anchor="start" font-weight="normal" fill="#111" >Subadult_female</text>
<rect x="303" y="183.88" width="10.1" height="4.6" fill="#3C5488"/>
<text transform="translate(314.9 188.38) scale(.1)" font-size="63" text-anchor="start" font-weight="normal" fill="#111" >Subadult_male</text>
<rect x="303" y="196.74" width="10.1" height="4.6" fill="#F39B7F"/>
<text transform="translate(314.9 201.24) scale(.1)" font-size="63" text-anchor="start" font-weight="normal" fill="#111" >t1</text>
<rect x="303" y="209.6" width="10.1" height="4.6" fill="#8491B4"/>
<text transform="translate(314.9 214.1) scale(.1)" font-size="63" text-anchor="start" font-weight="normal" fill="#111" >t2</text>
<rect x="303" y="222.46" width="10.1" height="4.6" fill="#91D1C2"/>
<text transform="translate(314.9 226.96) scale(.1)" font-size="63" text-anchor="start" font-weight="normal" fill="#111" >t3</text>
<rect x="303" y="235.32" width="10.1" height="4.6" fill="#DC0000"/>
<text transform="translate(314.9 239.82) scale(.1)" font-size="63" text-anchor="start" font-weight="normal" fill="#111" >t4</text>
<rect x="303" y="248.18" width="10.1" height="4.6" fill="#7E6148"/>
<text transform="translate(314.9 252.68) scale(.1)" font-size="63" text-anchor="start" font-weight="normal" fill="#111" >t5</text>
<rect x="303" y="261.04" width="10.1" height="4.6" fill="#B09C85"/>
<text transform="translate(314.9 265.54) scale(.1)" font-size="63" text-anchor="start" font-weight="normal" fill="#111" >t6</text>
<path d="M70.3 437.4A67.8 67.8 0 0 1 75.83 437.63L73.06 471.51A33.8 33.8 0 0 0 70.3 471.4Z" fill="#A68AD4" />
<path d="M75.83 437.63A67.8 67.8 0 0 1 90.03 440.33L80.14 472.86A33.8 33.8 0 0 0 73.06 471.51Z" fill="#1FC3FE" />
<path d="M90.03 440.33A67.8 67.8 0 0 1 137.01 517.32L103.56 511.24A33.8 33.8 0 0 0 80.14 472.86Z" fill="#6FC7CE" />
<path d="M137.01 517.32A67.8 67.8 0 1 1 70.17 437.4L70.24 471.4A33.8 33.8 0 1 0 103.56 511.24Z" fill="#FBA47E" />
<path d="M70.17 437.4A67.8 67.8 0 0 1 70.34 437.4L70.32 471.4A33.8 33.8 0 0 0 70.24 471.4Z" fill="#F8808A" />
<text transform="translate(70.3 487) scale(.1)" font-size="68" text-anchor="middle" font-weight="normal" fill="#111" >Risk</text>
<rect x="43.2" y="491.5" width="7.6" height="3.2" fill="#A68AD4" stroke="#555" stroke-width="0.25"/>
<text transform="translate(52.5 494.7) scale(.1)" font-size="47" text-anchor="start" font-weight="normal" fill="#111" >Rank I (1.30%)</text>
<rect x="43.2" y="498.13" width="7.6" height="3.2" fill="#1FC3FE" stroke="#555" stroke-width="0.25"/>
<text transform="translate(52.5 501.33) scale(.1)" font-size="47" text-anchor="start" font-weight="normal" fill="#111" >Rank II (3.40%)</text>
<rect x="43.2" y="504.76" width="7.6" height="3.2" fill="#6FC7CE" stroke="#555" stroke-width="0.25"/>
<text transform="translate(52.5 507.96) scale(.1)" font-size="47" text-anchor="start" font-weight="normal" fill="#111" >Rank III (23.16%)</text>
<rect x="43.2" y="511.39" width="7.6" height="3.2" fill="#FBA47E" stroke="#555" stroke-width="0.25"/>
<text transform="translate(52.5 514.59) scale(.1)" font-size="47" text-anchor="start" font-weight="normal" fill="#111" >Rank IV (72.11%)</text>
<rect x="43.2" y="518.02" width="7.6" height="3.2" fill="#F8808A" stroke="#555" stroke-width="0.25"/>
<text transform="translate(52.5 521.22) scale(.1)" font-size="47" text-anchor="start" font-weight="normal" fill="#111" >Notassessed (0.04%)</text>
<path d="M70.6 607.25A67.9 67.9 0 1 1 68.21 743.01L69.43 708.53A33.4 33.4 0 1 0 70.6 641.75Z" fill="#A68AD4" />
<path d="M68.21 743.01A67.9 67.9 0 0 1 19.44 630.5L45.44 653.19A33.4 33.4 0 0 0 69.43 708.53Z" fill="#1FC3FE" />
<path d="M19.44 630.5A67.9 67.9 0 0 1 52.23 609.78L61.56 643A33.4 33.4 0 0 0 45.44 653.19Z" fill="#FBA47E" />
<path d="M52.23 609.78A67.9 67.9 0 0 1 57.08 608.61L63.95 642.42A33.4 33.4 0 0 0 61.56 643Z" fill="#F8808A" />
<path d="M57.08 608.61A67.9 67.9 0 0 1 70.56 607.25L70.58 641.75A33.4 33.4 0 0 0 63.95 642.42Z" fill="#0A6FE8" />
<path d="M70.56 607.25A67.9 67.9 0 0 1 70.6 607.25L70.6 641.75A33.4 33.4 0 0 0 70.58 641.75Z" fill="#6FC7CE" />
<text transform="translate(70.3 658.8) scale(.1)" font-size="71.5" text-anchor="middle" font-weight="normal" fill="#111" >Mechanism</text>
<rect x="40.1" y="662.35" width="5.1" height="2.3" fill="#A68AD4" stroke="#555" stroke-width="0.2"/>
<text transform="translate(45.6 664.6) scale(.1)" font-size="32.5" text-anchor="start" font-weight="normal" fill="#111" >Antibiotic target replacement (50.56%)</text>
<rect x="40.1" y="667.11" width="5.1" height="2.3" fill="#1FC3FE" stroke="#555" stroke-width="0.2"/>
<text transform="translate(45.6 669.36) scale(.1)" font-size="32.5" text-anchor="start" font-weight="normal" fill="#111" >Efflux pump (35.86%)</text>
<rect x="40.1" y="671.87" width="5.1" height="2.3" fill="#FBA47E" stroke="#555" stroke-width="0.2"/>
<text transform="translate(45.6 674.12) scale(.1)" font-size="32.5" text-anchor="start" font-weight="normal" fill="#111" >Enzymatic inactivation (9.22%)</text>
<rect x="40.1" y="676.63" width="5.1" height="2.3" fill="#F8808A" stroke="#555" stroke-width="0.2"/>
<text transform="translate(45.6 678.88) scale(.1)" font-size="32.5" text-anchor="start" font-weight="normal" fill="#111" >Reduced permeability (1.17%)</text>
<rect x="40.1" y="681.39" width="5.1" height="2.3" fill="#0A6FE8" stroke="#555" stroke-width="0.2"/>
<text transform="translate(45.6 683.64) scale(.1)" font-size="32.5" text-anchor="start" font-weight="normal" fill="#111" >Others (3.18%)</text>
<rect x="40.1" y="686.15" width="5.1" height="2.3" fill="#6FC7CE" stroke="#555" stroke-width="0.2"/>
<text transform="translate(45.6 688.4) scale(.1)" font-size="32.5" text-anchor="start" font-weight="normal" fill="#111" >Efflux pump RND family (0.01%)</text>
<text transform="translate(158.9 430.9) scale(.1)" font-size="67" text-anchor="start" font-weight="normal" fill="#111" >Completeness (%)</text>
<path d="M163.6 434.4H209.8" stroke="#B0B0B0" stroke-width="0.7"/>
<rect x="164.6" y="435.6" width="13.1" height="13.42" fill="#E6E6E6"/>
<text transform="translate(180.4 444.39) scale(.1)" font-size="67" text-anchor="start" font-weight="normal" fill="#111" >50</text>
<rect x="164.6" y="448.97" width="13.1" height="13.42" fill="#D2DBE1"/>
<text transform="translate(180.4 457.76) scale(.1)" font-size="67" text-anchor="start" font-weight="normal" fill="#111" >55</text>
<rect x="164.6" y="462.35" width="13.1" height="13.42" fill="#BED0DC"/>
<text transform="translate(180.4 471.13) scale(.1)" font-size="67" text-anchor="start" font-weight="normal" fill="#111" >60</text>
<rect x="164.6" y="475.72" width="13.1" height="13.42" fill="#AAC5D7"/>
<text transform="translate(180.4 484.5) scale(.1)" font-size="67" text-anchor="start" font-weight="normal" fill="#111" >65</text>
<rect x="164.6" y="489.09" width="13.1" height="13.42" fill="#96BAD2"/>
<text transform="translate(180.4 497.88) scale(.1)" font-size="67" text-anchor="start" font-weight="normal" fill="#111" >70</text>
<rect x="164.6" y="502.46" width="13.1" height="13.42" fill="#82AFCD"/>
<text transform="translate(180.4 511.25) scale(.1)" font-size="67" text-anchor="start" font-weight="normal" fill="#111" >75</text>
<rect x="164.6" y="515.84" width="13.1" height="13.42" fill="#6FA4C8"/>
<text transform="translate(180.4 524.62) scale(.1)" font-size="67" text-anchor="start" font-weight="normal" fill="#111" >80</text>
<rect x="164.6" y="529.21" width="13.1" height="13.42" fill="#5B99C3"/>
<text transform="translate(180.4 538) scale(.1)" font-size="67" text-anchor="start" font-weight="normal" fill="#111" >85</text>
<rect x="164.6" y="542.58" width="13.1" height="13.42" fill="#478EBE"/>
<text transform="translate(180.4 551.37) scale(.1)" font-size="67" text-anchor="start" font-weight="normal" fill="#111" >90</text>
<rect x="164.6" y="555.95" width="13.1" height="13.42" fill="#3383B9"/>
<text transform="translate(180.4 564.74) scale(.1)" font-size="67" text-anchor="start" font-weight="normal" fill="#111" >95</text>
<rect x="164.6" y="569.33" width="13.1" height="13.42" fill="#1F78B4"/>
<text transform="translate(180.4 578.11) scale(.1)" font-size="67" text-anchor="start" font-weight="normal" fill="#111" >100</text>
<text transform="translate(216.2 430.9) scale(.1)" font-size="67" text-anchor="start" font-weight="normal" fill="#111" >Contamination (%)</text>
<path d="M217.3 434.4H264.7" stroke="#B0B0B0" stroke-width="0.7"/>
<rect x="218" y="435.6" width="13.1" height="13.42" fill="#E6E6E6"/>
<text transform="translate(233.8 444.39) scale(.1)" font-size="67" text-anchor="start" font-weight="normal" fill="#111" >0</text>
<rect x="218" y="448.97" width="13.1" height="13.42" fill="#E6D2D2"/>
<text transform="translate(233.8 457.76) scale(.1)" font-size="67" text-anchor="start" font-weight="normal" fill="#111" >0.984</text>
<rect x="218" y="462.35" width="13.1" height="13.42" fill="#E5BDBE"/>
<text transform="translate(233.8 471.13) scale(.1)" font-size="67" text-anchor="start" font-weight="normal" fill="#111" >1.968</text>
<rect x="218" y="475.72" width="13.1" height="13.42" fill="#E5A9A9"/>
<text transform="translate(233.8 484.5) scale(.1)" font-size="67" text-anchor="start" font-weight="normal" fill="#111" >2.952</text>
<rect x="218" y="489.09" width="13.1" height="13.42" fill="#E59495"/>
<text transform="translate(233.8 497.88) scale(.1)" font-size="67" text-anchor="start" font-weight="normal" fill="#111" >3.936</text>
<rect x="218" y="502.46" width="13.1" height="13.42" fill="#E48081"/>
<text transform="translate(233.8 511.25) scale(.1)" font-size="67" text-anchor="start" font-weight="normal" fill="#111" >4.92</text>
<rect x="218" y="515.84" width="13.1" height="13.42" fill="#E46C6D"/>
<text transform="translate(233.8 524.62) scale(.1)" font-size="67" text-anchor="start" font-weight="normal" fill="#111" >5.904</text>
<rect x="218" y="529.21" width="13.1" height="13.42" fill="#E45759"/>
<text transform="translate(233.8 538) scale(.1)" font-size="67" text-anchor="start" font-weight="normal" fill="#111" >6.888</text>
<rect x="218" y="542.58" width="13.1" height="13.42" fill="#E44344"/>
<text transform="translate(233.8 551.37) scale(.1)" font-size="67" text-anchor="start" font-weight="normal" fill="#111" >7.872</text>
<rect x="218" y="555.95" width="13.1" height="13.42" fill="#E32E30"/>
<text transform="translate(233.8 564.74) scale(.1)" font-size="67" text-anchor="start" font-weight="normal" fill="#111" >8.856</text>
<rect x="218" y="569.33" width="13.1" height="13.42" fill="#E31A1C"/>
<text transform="translate(233.8 578.11) scale(.1)" font-size="67" text-anchor="start" font-weight="normal" fill="#111" >9.84</text>
<text transform="translate(164.7 596.9) scale(.1)" font-size="67" text-anchor="start" font-weight="normal" fill="#111" >N50 (bp)</text>
<path d="M163.6 600.6H203.3" stroke="#B0B0B0" stroke-width="0.7"/>
<rect x="164.6" y="600.9" width="13.1" height="13.37" fill="#E6E6E6"/>
<text transform="translate(180.4 609.66) scale(.1)" font-size="67" text-anchor="start" font-weight="normal" fill="#111" >2699</text>
<rect x="164.6" y="614.22" width="13.1" height="13.37" fill="#E1D8D3"/>
<text transform="translate(180.4 622.98) scale(.1)" font-size="67" text-anchor="start" font-weight="normal" fill="#111" >46159</text>
<rect x="164.6" y="627.54" width="13.1" height="13.37" fill="#DBCAC0"/>
<text transform="translate(180.4 636.3) scale(.1)" font-size="67" text-anchor="start" font-weight="normal" fill="#111" >89620</text>
<rect x="164.6" y="640.85" width="13.1" height="13.37" fill="#D6BCAD"/>
<text transform="translate(180.4 649.61) scale(.1)" font-size="67" text-anchor="start" font-weight="normal" fill="#111" >133081</text>
<rect x="164.6" y="654.17" width="13.1" height="13.37" fill="#D1AE9A"/>
<text transform="translate(180.4 662.93) scale(.1)" font-size="67" text-anchor="start" font-weight="normal" fill="#111" >176541</text>
<rect x="164.6" y="667.49" width="13.1" height="13.37" fill="#CCA087"/>
<text transform="translate(180.4 676.25) scale(.1)" font-size="67" text-anchor="start" font-weight="normal" fill="#111" >220002</text>
<rect x="164.6" y="680.81" width="13.1" height="13.37" fill="#C69174"/>
<text transform="translate(180.4 689.57) scale(.1)" font-size="67" text-anchor="start" font-weight="normal" fill="#111" >263463</text>
<rect x="164.6" y="694.13" width="13.1" height="13.37" fill="#C18361"/>
<text transform="translate(180.4 702.89) scale(.1)" font-size="67" text-anchor="start" font-weight="normal" fill="#111" >306923</text>
<rect x="164.6" y="707.45" width="13.1" height="13.37" fill="#BC754E"/>
<text transform="translate(180.4 716.2) scale(.1)" font-size="67" text-anchor="start" font-weight="normal" fill="#111" >350384</text>
<rect x="164.6" y="720.76" width="13.1" height="13.37" fill="#B6673B"/>
<text transform="translate(180.4 729.52) scale(.1)" font-size="67" text-anchor="start" font-weight="normal" fill="#111" >393845</text>
<rect x="164.6" y="734.08" width="13.1" height="15.37" fill="#B15928"/>
<text transform="translate(180.4 742.84) scale(.1)" font-size="67" text-anchor="start" font-weight="normal" fill="#111" >437306</text>
<text transform="translate(213.8 590.6) scale(.1)" font-size="67" text-anchor="start" font-weight="normal" fill="#111" >Strain</text>
<text transform="translate(213.8 598.3) scale(.1)" font-size="67" text-anchor="start" font-weight="normal" fill="#111" >heterogeneity (%)</text>
<path d="M217.3 600.6H264.7" stroke="#B0B0B0" stroke-width="0.7"/>
<rect x="218" y="600.9" width="13.1" height="13.37" fill="#E6E6E6"/>
<text transform="translate(233.8 609.66) scale(.1)" font-size="67" text-anchor="start" font-weight="normal" fill="#111" >0</text>
<rect x="218" y="614.22" width="13.1" height="13.37" fill="#DDD0E6"/>
<text transform="translate(233.8 622.98) scale(.1)" font-size="67" text-anchor="start" font-weight="normal" fill="#111" >10</text>
<rect x="218" y="627.54" width="13.1" height="13.37" fill="#D4B9E7"/>
<text transform="translate(233.8 636.3) scale(.1)" font-size="67" text-anchor="start" font-weight="normal" fill="#111" >20</text>
<rect x="218" y="640.85" width="13.1" height="13.37" fill="#CBA3E7"/>
<text transform="translate(233.8 649.61) scale(.1)" font-size="67" text-anchor="start" font-weight="normal" fill="#111" >30</text>
<rect x="218" y="654.17" width="13.1" height="13.37" fill="#C28DE8"/>
<text transform="translate(233.8 662.93) scale(.1)" font-size="67" text-anchor="start" font-weight="normal" fill="#111" >40</text>
<rect x="218" y="667.49" width="13.1" height="13.37" fill="#BA76E8"/>
<text transform="translate(233.8 676.25) scale(.1)" font-size="67" text-anchor="start" font-weight="normal" fill="#111" >50</text>
<rect x="218" y="680.81" width="13.1" height="13.37" fill="#B160E8"/>
<text transform="translate(233.8 689.57) scale(.1)" font-size="67" text-anchor="start" font-weight="normal" fill="#111" >60</text>
<rect x="218" y="694.13" width="13.1" height="13.37" fill="#A84AE9"/>
<text transform="translate(233.8 702.89) scale(.1)" font-size="67" text-anchor="start" font-weight="normal" fill="#111" >70</text>
<rect x="218" y="707.45" width="13.1" height="13.37" fill="#9F34E9"/>
<text transform="translate(233.8 716.2) scale(.1)" font-size="67" text-anchor="start" font-weight="normal" fill="#111" >80</text>
<rect x="218" y="720.76" width="13.1" height="13.37" fill="#961DEA"/>
<text transform="translate(233.8 729.52) scale(.1)" font-size="67" text-anchor="start" font-weight="normal" fill="#111" >90</text>
<rect x="218" y="734.08" width="13.1" height="15.37" fill="#8D07EA"/>
<text transform="translate(233.8 742.84) scale(.1)" font-size="67" text-anchor="start" font-weight="normal" fill="#111" >100</text>
<g>
<path d="M552.49 584A124.2 124.2 0 0 1 552.12 595.04L521.41 592.63A93.4 93.4 0 0 0 521.69 584.32Z" fill="#CC55BE" />
<path d="M552.12 595.04A124.2 124.2 0 0 1 392.61 704.26L401.46 674.76A93.4 93.4 0 0 0 521.41 592.63Z" fill="#CC93BF" />
<path d="M392.61 704.26A124.2 124.2 0 0 1 383.39 701.09L394.52 672.38A93.4 93.4 0 0 0 401.46 674.76Z" fill="#6F7FCC" />
<path d="M383.39 701.09A124.2 124.2 0 0 1 357.77 687.53L375.26 662.18A93.4 93.4 0 0 0 394.52 672.38Z" fill="#D2CD4C" />
<path d="M357.77 687.53A124.2 124.2 0 0 1 355.3 685.78L373.4 660.86A93.4 93.4 0 0 0 375.26 662.18Z" fill="#5F8D3F" />
<path d="M355.3 685.78A124.2 124.2 0 0 1 350.31 681.96L369.65 657.99A93.4 93.4 0 0 0 373.4 660.86Z" fill="#C78A41" />
<path d="M350.31 681.96A124.2 124.2 0 0 1 347.8 679.88L367.77 656.43A93.4 93.4 0 0 0 369.65 657.99Z" fill="#7BB9C9" />
<path d="M347.8 679.88A124.2 124.2 0 0 1 307.69 614.93L337.6 607.58A93.4 93.4 0 0 0 367.77 656.43Z" fill="#4B3C3D" />
<path d="M307.69 614.93A124.2 124.2 0 0 1 306.68 610.49L336.84 604.24A93.4 93.4 0 0 0 337.6 607.58Z" fill="#4F6F3F" />
<path d="M306.68 610.49A124.2 124.2 0 0 1 304.4 576.64L335.13 578.78A93.4 93.4 0 0 0 336.84 604.24Z" fill="#843D33" />
<path d="M304.4 576.64A124.2 124.2 0 0 1 305.05 569.95L335.62 573.76A93.4 93.4 0 0 0 335.13 578.78Z" fill="#DA5230" />
<path d="M305.05 569.95A124.2 124.2 0 0 1 306.64 560.33L336.81 566.52A93.4 93.4 0 0 0 335.62 573.76Z" fill="#D7C8A2" />
<path d="M306.64 560.33A124.2 124.2 0 0 1 308.85 551.27L338.47 559.71A93.4 93.4 0 0 0 336.81 566.52Z" fill="#4F2B6C" />
<path d="M308.85 551.27A124.2 124.2 0 0 1 346.82 491.57L367.02 514.81A93.4 93.4 0 0 0 338.47 559.71Z" fill="#6B49C9" />
<path d="M346.82 491.57A124.2 124.2 0 0 1 356.53 483.94L374.33 509.07A93.4 93.4 0 0 0 367.02 514.81Z" fill="#7EDCA5" />
<path d="M356.53 483.94A124.2 124.2 0 0 1 363.04 479.63L379.22 505.83A93.4 93.4 0 0 0 374.33 509.07Z" fill="#79D74C" />
<path d="M363.04 479.63A124.2 124.2 0 0 1 394.69 465.73L403.03 495.38A93.4 93.4 0 0 0 379.22 505.83Z" fill="#CA4870" />
<path d="M394.69 465.73A124.2 124.2 0 0 1 536.29 523.95L509.51 539.17A93.4 93.4 0 0 0 403.03 495.38Z" fill="#79D74C" />
</g>
<g stroke="none">
<path d="M557.89 583.94A129.6 129.6 0 0 1 557.88 587.5L553.28 587.42A125 125 0 0 0 553.29 583.99Z" fill="#E6C6C6" />
<path d="M557.88 587.32A129.6 129.6 0 0 1 557.78 590.87L553.18 590.67A125 125 0 0 0 553.28 587.24Z" fill="#E32D2F" />
<path d="M557.79 590.69A129.6 129.6 0 0 1 557.59 594.23L553 593.92A125 125 0 0 0 553.19 590.5Z" fill="#E32E30" />
<path d="M557.6 594.05A129.6 129.6 0 0 1 557.32 597.6L552.74 597.16A125 125 0 0 0 553.01 593.74Z" fill="#E6E5E5" />
<path d="M557.33 597.42A129.6 129.6 0 0 1 556.95 600.95L552.39 600.39A125 125 0 0 0 552.75 596.99Z" fill="#E33133" />
<path d="M556.97 600.77A129.6 129.6 0 0 1 556.5 604.29L551.95 603.62A125 125 0 0 0 552.41 600.22Z" fill="#E46465" />
<path d="M556.53 604.11A129.6 129.6 0 0 1 555.96 607.62L551.43 606.83A125 125 0 0 0 551.98 603.44Z" fill="#E6D4D4" />
<path d="M555.99 607.44A129.6 129.6 0 0 1 555.34 610.93L550.83 610.02A125 125 0 0 0 551.46 606.66Z" fill="#E44648" />
<path d="M555.38 610.76A129.6 129.6 0 0 1 554.63 614.23L550.15 613.2A125 125 0 0 0 550.86 609.85Z" fill="#E5BBBB" />
<path d="M554.67 614.05A129.6 129.6 0 0 1 553.83 617.51L549.38 616.36A125 125 0 0 0 550.18 613.03Z" fill="#E6E4E4" />
<path d="M553.88 617.33A129.6 129.6 0 0 1 552.95 620.76L548.53 619.5A125 125 0 0 0 549.42 616.2Z" fill="#E6CBCB" />
<path d="M553 620.59A129.6 129.6 0 0 1 551.99 624L547.6 622.62A125 125 0 0 0 548.58 619.34Z" fill="#E6DFDF" />
<path d="M552.04 623.82A129.6 129.6 0 0 1 550.94 627.2L546.59 625.71A125 125 0 0 0 547.65 622.45Z" fill="#E46667" />
<path d="M551 627.03A129.6 129.6 0 0 1 549.81 630.38L545.5 628.78A125 125 0 0 0 546.64 625.55Z" fill="#E5999A" />
<path d="M549.87 630.21A129.6 129.6 0 0 1 548.59 633.52L544.32 631.81A125 125 0 0 0 545.56 628.61Z" fill="#E5BFBF" />
<path d="M548.66 633.36A129.6 129.6 0 0 1 547.3 636.64L543.07 634.82A125 125 0 0 0 544.39 631.65Z" fill="#E33A3C" />
<path d="M547.37 636.47A129.6 129.6 0 0 1 545.92 639.72L541.75 637.78A125 125 0 0 0 543.14 634.65Z" fill="#E58586" />
<path d="M546 639.55A129.6 129.6 0 0 1 544.47 642.76L540.34 640.72A125 125 0 0 0 541.82 637.63Z" fill="#E6C7C8" />
<path d="M544.55 642.6A129.6 129.6 0 0 1 542.93 645.76L538.86 643.62A125 125 0 0 0 540.42 640.56Z" fill="#E5B1B2" />
<path d="M543.02 645.6A129.6 129.6 0 0 1 541.32 648.72L537.31 646.47A125 125 0 0 0 538.94 643.46Z" fill="#E46B6C" />
<path d="M541.41 648.57A129.6 129.6 0 0 1 539.63 651.64L535.68 649.29A125 125 0 0 0 537.39 646.32Z" fill="#E6D1D1" />
<path d="M539.72 651.49A129.6 129.6 0 0 1 537.87 654.52L533.98 652.06A125 125 0 0 0 535.77 649.14Z" fill="#E5A4A5" />
<path d="M537.96 654.36A129.6 129.6 0 0 1 536.03 657.34L532.21 654.79A125 125 0 0 0 534.07 651.91Z" fill="#E47A7B" />
<path d="M536.13 657.19A129.6 129.6 0 0 1 534.12 660.12L530.36 657.47A125 125 0 0 0 532.3 654.64Z" fill="#E43E3F" />
<path d="M534.22 659.98A129.6 129.6 0 0 1 532.14 662.85L528.45 660.1A125 125 0 0 0 530.46 657.33Z" fill="#E5B7B8" />
<path d="M532.24 662.71A129.6 129.6 0 0 1 530.08 665.53L526.47 662.68A125 125 0 0 0 528.55 659.96Z" fill="#E6DCDC" />
<path d="M530.19 665.38A129.6 129.6 0 0 1 527.96 668.15L524.42 665.21A125 125 0 0 0 526.58 662.54Z" fill="#E6E5E5" />
<path d="M528.08 668.01A129.6 129.6 0 0 1 525.77 670.71L522.31 667.68A125 125 0 0 0 524.54 665.07Z" fill="#E47273" />
<path d="M525.89 670.58A129.6 129.6 0 0 1 523.52 673.22L520.14 670.1A125 125 0 0 0 522.43 667.55Z" fill="#E45859" />
<path d="M523.64 673.09A129.6 129.6 0 0 1 521.2 675.67L517.9 672.46A125 125 0 0 0 520.25 669.97Z" fill="#E58182" />
<path d="M521.32 675.54A129.6 129.6 0 0 1 518.81 678.05L515.6 674.76A125 125 0 0 0 518.02 672.34Z" fill="#E5999A" />
<path d="M518.94 677.93A129.6 129.6 0 0 1 516.37 680.38L513.24 677A125 125 0 0 0 515.73 674.64Z" fill="#E46162" />
<path d="M516.5 680.26A129.6 129.6 0 0 1 513.87 682.64L510.83 679.18A125 125 0 0 0 513.37 676.89Z" fill="#E5ADAE" />
<path d="M514 682.52A129.6 129.6 0 0 1 511.3 684.83L508.36 681.3A125 125 0 0 0 510.96 679.07Z" fill="#E6E3E3" />
<path d="M511.44 684.72A129.6 129.6 0 0 1 508.69 686.96L505.83 683.35A125 125 0 0 0 508.49 681.19Z" fill="#E58C8D" />
<path d="M508.83 686.85A129.6 129.6 0 0 1 506.01 689.01L503.26 685.33A125 125 0 0 0 505.97 683.24Z" fill="#E46566" />
<path d="M506.16 688.91A129.6 129.6 0 0 1 503.29 691L500.63 687.25A125 125 0 0 0 503.39 685.23Z" fill="#E5BCBD" />
<path d="M503.44 690.9A129.6 129.6 0 0 1 500.51 692.92L497.95 689.1A125 125 0 0 0 500.77 687.15Z" fill="#E6E5E5" />
<path d="M500.66 692.82A129.6 129.6 0 0 1 497.69 694.76L495.23 690.87A125 125 0 0 0 498.09 689Z" fill="#E6DADA" />
<path d="M497.84 694.66A129.6 129.6 0 0 1 494.82 696.53L492.46 692.58A125 125 0 0 0 495.37 690.78Z" fill="#E6E4E4" />
<path d="M494.97 696.44A129.6 129.6 0 0 1 491.9 698.22L489.64 694.21A125 125 0 0 0 492.61 692.49Z" fill="#E6DEDE" />
<path d="M492.06 698.13A129.6 129.6 0 0 1 488.94 699.84L486.79 695.77A125 125 0 0 0 489.79 694.13Z" fill="#E5BCBC" />
<path d="M489.1 699.75A129.6 129.6 0 0 1 485.94 701.38L483.89 697.26A125 125 0 0 0 486.94 695.69Z" fill="#E6E2E2" />
<path d="M486.1 701.3A129.6 129.6 0 0 1 482.9 702.84L480.96 698.67A125 125 0 0 0 484.05 697.18Z" fill="#E59FA0" />
<path d="M483.06 702.76A129.6 129.6 0 0 1 479.82 704.22L477.99 700A125 125 0 0 0 481.12 698.59Z" fill="#E46567" />
<path d="M479.99 704.15A129.6 129.6 0 0 1 476.71 705.52L474.99 701.25A125 125 0 0 0 478.15 699.93Z" fill="#E6CDCD" />
<path d="M476.88 705.45A129.6 129.6 0 0 1 473.57 706.74L471.96 702.43A125 125 0 0 0 475.15 701.19Z" fill="#E5C1C1" />
<path d="M473.74 706.67A129.6 129.6 0 0 1 470.39 707.87L468.9 703.52A125 125 0 0 0 472.12 702.37Z" fill="#E44345" />
<path d="M470.56 707.82A129.6 129.6 0 0 1 467.19 708.93L465.81 704.54A125 125 0 0 0 469.06 703.47Z" fill="#E6D9D9" />
<path d="M467.36 708.87A129.6 129.6 0 0 1 463.96 709.9L462.69 705.48A125 125 0 0 0 465.97 704.49Z" fill="#E6D2D3" />
<path d="M464.13 709.85A129.6 129.6 0 0 1 460.7 710.78L459.55 706.33A125 125 0 0 0 462.86 705.43Z" fill="#E59898" />
<path d="M460.88 710.74A129.6 129.6 0 0 1 457.43 711.58L456.39 707.1A125 125 0 0 0 459.72 706.29Z" fill="#E6E6E6" />
<path d="M457.6 711.54A129.6 129.6 0 0 1 454.13 712.3L453.22 707.79A125 125 0 0 0 456.56 707.06Z" fill="#E5BFBF" />
<path d="M454.31 712.26A129.6 129.6 0 0 1 450.82 712.93L450.02 708.4A125 125 0 0 0 453.39 707.76Z" fill="#E44546" />
<path d="M451 712.9A129.6 129.6 0 0 1 447.49 713.47L446.81 708.92A125 125 0 0 0 450.19 708.37Z" fill="#E5A6A6" />
<path d="M447.67 713.44A129.6 129.6 0 0 1 444.15 713.93L443.59 709.36A125 125 0 0 0 446.98 708.9Z" fill="#E31E20" />
<path d="M444.33 713.9A129.6 129.6 0 0 1 440.8 714.3L440.35 709.72A125 125 0 0 0 443.76 709.34Z" fill="#E46F70" />
<path d="M440.98 714.28A129.6 129.6 0 0 1 437.44 714.58L437.11 709.99A125 125 0 0 0 440.53 709.7Z" fill="#E46A6C" />
<path d="M437.62 714.56A129.6 129.6 0 0 1 434.07 714.77L433.86 710.18A125 125 0 0 0 437.29 709.98Z" fill="#E5BABB" />
<path d="M434.25 714.76A129.6 129.6 0 0 1 430.7 714.88L430.61 710.28A125 125 0 0 0 434.04 710.17Z" fill="#E44042" />
<path d="M430.88 714.87A129.6 129.6 0 0 1 427.33 714.9L427.36 710.3A125 125 0 0 0 430.79 710.28Z" fill="#E6D5D6" />
<path d="M427.51 714.9A129.6 129.6 0 0 1 423.95 714.83L424.11 710.23A125 125 0 0 0 427.54 710.3Z" fill="#E44344" />
<path d="M424.14 714.83A129.6 129.6 0 0 1 420.59 714.67L420.86 710.08A125 125 0 0 0 424.28 710.24Z" fill="#E6DCDC" />
<path d="M420.77 714.68A129.6 129.6 0 0 1 417.22 714.43L417.62 709.84A125 125 0 0 0 421.03 710.09Z" fill="#E31F21" />
<path d="M417.4 714.44A129.6 129.6 0 0 1 413.87 714.09L414.38 709.52A125 125 0 0 0 417.79 709.86Z" fill="#E59393" />
<path d="M414.05 714.11A129.6 129.6 0 0 1 410.52 713.67L411.15 709.12A125 125 0 0 0 414.55 709.54Z" fill="#E6D0D0" />
<path d="M410.7 713.7A129.6 129.6 0 0 1 407.19 713.17L407.94 708.63A125 125 0 0 0 411.32 709.14Z" fill="#E5C0C0" />
<path d="M407.36 713.2A129.6 129.6 0 0 1 403.87 712.58L404.73 708.06A125 125 0 0 0 408.11 708.66Z" fill="#E45E60" />
<path d="M404.04 712.61A129.6 129.6 0 0 1 400.56 711.9L401.55 707.4A125 125 0 0 0 404.9 708.09Z" fill="#E5AFAF" />
<path d="M400.74 711.94A129.6 129.6 0 0 1 397.28 711.13L398.38 706.67A125 125 0 0 0 401.72 707.44Z" fill="#E6E2E2" />
<path d="M397.45 711.18A129.6 129.6 0 0 1 394.01 710.28L395.23 705.85A125 125 0 0 0 398.55 706.71Z" fill="#E5C3C4" />
<path d="M394.19 710.33A129.6 129.6 0 0 1 390.77 709.35L392.11 704.95A125 125 0 0 0 395.4 705.89Z" fill="#E46364" />
<path d="M390.95 709.4A129.6 129.6 0 0 1 387.56 708.33L389 703.96A125 125 0 0 0 392.27 705Z" fill="#E6E5E5" />
<path d="M387.73 708.39A129.6 129.6 0 0 1 384.37 707.23L385.93 702.9A125 125 0 0 0 389.17 704.02Z" fill="#E5A3A4" />
<path d="M384.54 707.29A129.6 129.6 0 0 1 381.21 706.04L382.88 701.76A125 125 0 0 0 386.09 702.96Z" fill="#E32D2F" />
<path d="M381.38 706.11A129.6 129.6 0 0 1 378.09 704.78L379.87 700.54A125 125 0 0 0 383.05 701.82Z" fill="#E43E40" />
<path d="M378.25 704.85A129.6 129.6 0 0 1 375 703.43L376.89 699.24A125 125 0 0 0 380.03 700.6Z" fill="#E58182" />
<path d="M375.16 703.5A129.6 129.6 0 0 1 371.94 702L373.94 697.86A125 125 0 0 0 377.05 699.31Z" fill="#E5BFC0" />
<path d="M372.1 702.08A129.6 129.6 0 0 1 368.92 700.5L371.03 696.41A125 125 0 0 0 374.1 697.94Z" fill="#E47072" />
<path d="M369.08 700.58A129.6 129.6 0 0 1 365.95 698.91L368.16 694.88A125 125 0 0 0 371.19 696.49Z" fill="#E46F70" />
<path d="M366.1 699A129.6 129.6 0 0 1 363.01 697.25L365.33 693.28A125 125 0 0 0 368.31 694.96Z" fill="#E6D4D4" />
<path d="M363.17 697.34A129.6 129.6 0 0 1 360.12 695.52L362.54 691.6A125 125 0 0 0 365.48 693.37Z" fill="#E43D3E" />
<path d="M360.27 695.61A129.6 129.6 0 0 1 357.27 693.7L359.8 689.86A125 125 0 0 0 362.69 691.7Z" fill="#E4696A" />
<path d="M357.43 693.8A129.6 129.6 0 0 1 354.48 691.82L357.1 688.04A125 125 0 0 0 359.94 689.95Z" fill="#E47879" />
<path d="M354.63 691.92A129.6 129.6 0 0 1 351.73 689.86L354.45 686.15A125 125 0 0 0 357.24 688.14Z" fill="#E5A5A6" />
<path d="M351.88 689.97A129.6 129.6 0 0 1 349.04 687.84L351.85 684.2A125 125 0 0 0 354.59 686.25Z" fill="#E33739" />
<path d="M349.18 687.95A129.6 129.6 0 0 1 346.4 685.74L349.3 682.17A125 125 0 0 0 351.99 684.3Z" fill="#E6CFCF" />
<path d="M346.54 685.85A129.6 129.6 0 0 1 343.81 683.57L346.81 680.08A125 125 0 0 0 349.44 682.28Z" fill="#E44445" />
<path d="M343.95 683.69A129.6 129.6 0 0 1 341.28 681.34L344.37 677.93A125 125 0 0 0 346.94 680.2Z" fill="#E4494A" />
<path d="M341.42 681.46A129.6 129.6 0 0 1 338.81 679.04L341.99 675.72A125 125 0 0 0 344.5 678.05Z" fill="#E44446" />
<path d="M338.94 679.17A129.6 129.6 0 0 1 336.4 676.68L339.66 673.44A125 125 0 0 0 342.11 675.84Z" fill="#E6D4D4" />
<path d="M336.53 676.81A129.6 129.6 0 0 1 334.06 674.26L337.4 671.1A125 125 0 0 0 339.79 673.56Z" fill="#E6D7D7" />
<path d="M334.18 674.39A129.6 129.6 0 0 1 331.77 671.78L335.2 668.71A125 125 0 0 0 337.52 671.23Z" fill="#E59191" />
<path d="M331.89 671.91A129.6 129.6 0 0 1 329.56 669.24L333.06 666.26A125 125 0 0 0 335.32 668.84Z" fill="#E46062" />
<path d="M329.67 669.38A129.6 129.6 0 0 1 327.41 666.64L330.99 663.75A125 125 0 0 0 333.17 666.39Z" fill="#E58B8B" />
<path d="M327.52 666.78A129.6 129.6 0 0 1 325.32 663.99L328.98 661.2A125 125 0 0 0 331.1 663.89Z" fill="#E6E2E2" />
<path d="M325.43 664.13A129.6 129.6 0 0 1 323.31 661.28L327.04 658.59A125 125 0 0 0 329.08 661.33Z" fill="#E45051" />
<path d="M323.42 661.43A129.6 129.6 0 0 1 321.37 658.53L325.16 655.93A125 125 0 0 0 327.14 658.73Z" fill="#E47576" />
<path d="M321.47 658.67A129.6 129.6 0 0 1 319.5 655.72L323.36 653.22A125 125 0 0 0 325.26 656.07Z" fill="#E6D9D9" />
<path d="M319.6 655.87A129.6 129.6 0 0 1 317.7 652.86L321.63 650.47A125 125 0 0 0 323.46 653.37Z" fill="#E6C5C5" />
<path d="M317.8 653.02A129.6 129.6 0 0 1 315.98 649.96L319.97 647.67A125 125 0 0 0 321.72 650.61Z" fill="#E44042" />
<path d="M316.07 650.12A129.6 129.6 0 0 1 314.34 647.02L318.38 644.83A125 125 0 0 0 320.06 647.82Z" fill="#E5BABA" />
<path d="M314.43 647.18A129.6 129.6 0 0 1 312.77 644.03L316.87 641.95A125 125 0 0 0 318.47 644.98Z" fill="#E47B7C" />
<path d="M312.85 644.19A129.6 129.6 0 0 1 311.28 641.01L315.44 639.03A125 125 0 0 0 316.95 642.1Z" fill="#E6DEDE" />
<path d="M311.36 641.17A129.6 129.6 0 0 1 309.87 637.94L314.08 636.07A125 125 0 0 0 315.51 639.19Z" fill="#E45152" />
<path d="M309.95 638.11A129.6 129.6 0 0 1 308.54 634.84L312.79 633.08A125 125 0 0 0 314.15 636.23Z" fill="#E6DCDC" />
<path d="M308.61 635.01A129.6 129.6 0 0 1 307.29 631.71L311.59 630.06A125 125 0 0 0 312.86 633.25Z" fill="#E43E3F" />
<path d="M307.36 631.88A129.6 129.6 0 0 1 306.13 628.55L310.46 627.01A125 125 0 0 0 311.65 630.23Z" fill="#E5C2C2" />
<path d="M306.19 628.72A129.6 129.6 0 0 1 305.04 625.35L309.42 623.93A125 125 0 0 0 310.52 627.18Z" fill="#E31B1D" />
<path d="M305.1 625.52A129.6 129.6 0 0 1 304.04 622.13L308.45 620.82A125 125 0 0 0 309.47 624.1Z" fill="#E58B8C" />
<path d="M304.1 622.31A129.6 129.6 0 0 1 303.13 618.89L307.57 617.69A125 125 0 0 0 308.5 620.99Z" fill="#E44A4B" />
<path d="M303.17 619.06A129.6 129.6 0 0 1 302.3 615.62L306.77 614.54A125 125 0 0 0 307.62 617.86Z" fill="#E4595A" />
<path d="M302.34 615.79A129.6 129.6 0 0 1 301.55 612.33L306.05 611.37A125 125 0 0 0 306.81 614.71Z" fill="#E6D5D5" />
<path d="M301.59 612.51A129.6 129.6 0 0 1 300.89 609.02L305.41 608.18A125 125 0 0 0 306.09 611.54Z" fill="#E6CBCB" />
<path d="M300.92 609.2A129.6 129.6 0 0 1 300.32 605.7L304.86 604.98A125 125 0 0 0 305.44 608.35Z" fill="#E59899" />
<path d="M300.34 605.88A129.6 129.6 0 0 1 299.83 602.36L304.39 601.76A125 125 0 0 0 304.89 605.15Z" fill="#E5B7B7" />
<path d="M299.85 602.54A129.6 129.6 0 0 1 299.43 599.01L304 598.53A125 125 0 0 0 304.41 601.93Z" fill="#E44F51" />
<path d="M299.45 599.19A129.6 129.6 0 0 1 299.11 595.66L303.7 595.29A125 125 0 0 0 304.02 598.7Z" fill="#E5B0B1" />
<path d="M299.13 595.84A129.6 129.6 0 0 1 298.89 592.29L303.48 592.04A125 125 0 0 0 303.71 595.46Z" fill="#E45152" />
<path d="M298.9 592.47A129.6 129.6 0 0 1 298.75 588.92L303.35 588.79A125 125 0 0 0 303.49 592.22Z" fill="#E44E4F" />
<path d="M298.76 589.1A129.6 129.6 0 0 1 298.7 585.55L303.3 585.54A125 125 0 0 0 303.35 588.97Z" fill="#E5A3A3" />
<path d="M298.7 585.73A129.6 129.6 0 0 1 298.74 582.18L303.34 582.29A125 125 0 0 0 303.3 585.71Z" fill="#E6E6E6" />
<path d="M298.73 582.36A129.6 129.6 0 0 1 298.86 578.81L303.46 579.04A125 125 0 0 0 303.33 582.46Z" fill="#E32224" />
<path d="M298.85 578.99A129.6 129.6 0 0 1 299.08 575.44L303.66 575.79A125 125 0 0 0 303.45 579.21Z" fill="#E6DADA" />
<path d="M299.06 575.62A129.6 129.6 0 0 1 299.38 572.08L303.95 572.55A125 125 0 0 0 303.65 575.96Z" fill="#E47B7C" />
<path d="M299.36 572.26A129.6 129.6 0 0 1 299.76 568.73L304.33 569.32A125 125 0 0 0 303.93 572.72Z" fill="#E6C6C6" />
<path d="M299.74 568.91A129.6 129.6 0 0 1 300.24 565.39L304.78 566.1A125 125 0 0 0 304.3 569.49Z" fill="#E59E9F" />
<path d="M300.21 565.57A129.6 129.6 0 0 1 300.8 562.07L305.32 562.89A125 125 0 0 0 304.76 566.27Z" fill="#E6E0E0" />
<path d="M300.77 562.25A129.6 129.6 0 0 1 301.45 558.76L305.95 559.7A125 125 0 0 0 305.29 563.06Z" fill="#E6D1D1" />
<path d="M301.41 558.93A129.6 129.6 0 0 1 302.18 555.47L306.66 556.53A125 125 0 0 0 305.91 559.87Z" fill="#E47071" />
<path d="M302.14 555.64A129.6 129.6 0 0 1 303 552.19L307.45 553.37A125 125 0 0 0 306.62 556.69Z" fill="#E59D9E" />
<path d="M302.95 552.37A129.6 129.6 0 0 1 303.9 548.95L308.32 550.24A125 125 0 0 0 307.4 553.54Z" fill="#E44F50" />
<path d="M303.85 549.12A129.6 129.6 0 0 1 304.89 545.72L309.27 547.13A125 125 0 0 0 308.27 550.4Z" fill="#E59394" />
<path d="M304.84 545.89A129.6 129.6 0 0 1 305.96 542.52L310.31 544.04A125 125 0 0 0 309.22 547.29Z" fill="#E5A6A7" />
<path d="M305.9 542.69A129.6 129.6 0 0 1 307.12 539.35L311.42 540.99A125 125 0 0 0 310.25 544.21Z" fill="#E5B1B2" />
<path d="M307.05 539.52A129.6 129.6 0 0 1 308.35 536.22L312.61 537.96A125 125 0 0 0 311.36 541.15Z" fill="#E5ADAD" />
<path d="M308.29 536.38A129.6 129.6 0 0 1 309.67 533.11L313.88 534.97A125 125 0 0 0 312.55 538.12Z" fill="#E58182" />
<path d="M309.6 533.28A129.6 129.6 0 0 1 311.07 530.04L315.23 532.01A125 125 0 0 0 313.81 535.12Z" fill="#E44749" />
<path d="M310.99 530.21A129.6 129.6 0 0 1 312.55 527.01L316.66 529.08A125 125 0 0 0 315.16 532.16Z" fill="#E59D9E" />
<path d="M312.47 527.17A129.6 129.6 0 0 1 314.1 524.02L318.16 526.2A125 125 0 0 0 316.58 529.24Z" fill="#E46162" />
<path d="M314.02 524.18A129.6 129.6 0 0 1 315.74 521.07L319.73 523.35A125 125 0 0 0 318.07 526.35Z" fill="#E6DFDF" />
<path d="M315.65 521.23A129.6 129.6 0 0 1 317.45 518.16L321.38 520.55A125 125 0 0 0 319.65 523.5Z" fill="#E6E3E3" />
<path d="M317.35 518.32A129.6 129.6 0 0 1 319.23 515.3L323.1 517.79A125 125 0 0 0 321.29 520.69Z" fill="#E6E3E3" />
<path d="M319.13 515.45A129.6 129.6 0 0 1 321.09 512.49L324.89 515.07A125 125 0 0 0 323.01 517.93Z" fill="#E46E6F" />
<path d="M320.99 512.64A129.6 129.6 0 0 1 323.02 509.72L326.76 512.4A125 125 0 0 0 324.8 515.22Z" fill="#E6DBDC" />
<path d="M322.91 509.87A129.6 129.6 0 0 1 325.02 507.01L328.69 509.79A125 125 0 0 0 326.65 512.55Z" fill="#E5898A" />
<path d="M324.91 507.15A129.6 129.6 0 0 1 327.09 504.35L330.69 507.22A125 125 0 0 0 328.58 509.93Z" fill="#E45658" />
<path d="M326.98 504.49A129.6 129.6 0 0 1 329.23 501.74L332.75 504.71A125 125 0 0 0 330.58 507.36Z" fill="#E6D4D4" />
<path d="M329.12 501.88A129.6 129.6 0 0 1 331.44 499.19L334.88 502.25A125 125 0 0 0 332.64 504.84Z" fill="#E5BABB" />
<path d="M331.32 499.33A129.6 129.6 0 0 1 333.72 496.7L337.07 499.85A125 125 0 0 0 334.76 502.38Z" fill="#E33B3D" />
<path d="M333.59 496.83A129.6 129.6 0 0 1 336.05 494.27L339.33 497.5A125 125 0 0 0 336.95 499.97Z" fill="#E6DBDB" />
<path d="M335.93 494.4A129.6 129.6 0 0 1 338.45 491.9L341.64 495.22A125 125 0 0 0 339.2 497.62Z" fill="#E5A6A6" />
<path d="M338.32 492.03A129.6 129.6 0 0 1 340.91 489.59L344.01 492.99A125 125 0 0 0 341.52 495.34Z" fill="#E6D7D7" />
<path d="M340.78 489.72A129.6 129.6 0 0 1 343.43 487.35L346.45 490.83A125 125 0 0 0 343.89 493.11Z" fill="#E32C2E" />
<path d="M343.3 487.47A129.6 129.6 0 0 1 346.01 485.18L348.93 488.73A125 125 0 0 0 346.31 490.94Z" fill="#E33537" />
<path d="M345.87 485.29A129.6 129.6 0 0 1 348.64 483.07L351.47 486.7A125 125 0 0 0 348.8 488.84Z" fill="#E59191" />
<path d="M348.5 483.18A129.6 129.6 0 0 1 351.33 481.03L354.06 484.73A125 125 0 0 0 351.33 486.81Z" fill="#E6E3E3" />
<path d="M351.18 481.14A129.6 129.6 0 0 1 354.07 479.06L356.7 482.84A125 125 0 0 0 353.92 484.84Z" fill="#E46D6E" />
<path d="M353.92 479.17A129.6 129.6 0 0 1 356.86 477.17L359.39 481.01A125 125 0 0 0 356.56 482.94Z" fill="#E6E0E0" />
<path d="M356.71 477.27A129.6 129.6 0 0 1 359.7 475.35L362.13 479.25A125 125 0 0 0 359.25 481.1Z" fill="#E6E5E5" />
<path d="M359.54 475.44A129.6 129.6 0 0 1 362.58 473.6L364.91 477.56A125 125 0 0 0 361.98 479.34Z" fill="#E6CECE" />
<path d="M362.42 473.69A129.6 129.6 0 0 1 365.51 471.93L367.74 475.95A125 125 0 0 0 364.76 477.65Z" fill="#E5B6B7" />
<path d="M365.35 472.01A129.6 129.6 0 0 1 368.48 470.33L370.6 474.41A125 125 0 0 0 367.59 476.04Z" fill="#E46567" />
<path d="M368.32 470.41A129.6 129.6 0 0 1 371.49 468.81L373.51 472.95A125 125 0 0 0 370.45 474.49Z" fill="#E6DCDC" />
<path d="M371.33 468.89A129.6 129.6 0 0 1 374.54 467.38L376.45 471.56A125 125 0 0 0 373.35 473.02Z" fill="#E59B9C" />
<path d="M374.38 467.45A129.6 129.6 0 0 1 377.63 466.02L379.43 470.25A125 125 0 0 0 376.29 471.63Z" fill="#E32729" />
<path d="M377.46 466.09A129.6 129.6 0 0 1 380.75 464.74L382.44 469.02A125 125 0 0 0 379.27 470.32Z" fill="#E31D1E" />
<path d="M380.58 464.8A129.6 129.6 0 0 1 383.9 463.54L385.48 467.86A125 125 0 0 0 382.28 469.08Z" fill="#E58E8F" />
<path d="M383.73 463.6A129.6 129.6 0 0 1 387.09 462.43L388.55 466.79A125 125 0 0 0 385.31 467.92Z" fill="#E6E2E2" />
<path d="M386.91 462.49A129.6 129.6 0 0 1 390.3 461.4L391.65 465.79A125 125 0 0 0 388.38 466.84Z" fill="#E6E3E3" />
<path d="M390.12 461.45A129.6 129.6 0 0 1 393.53 460.45L394.77 464.88A125 125 0 0 0 391.48 465.85Z" fill="#E5B1B2" />
<path d="M393.36 460.5A129.6 129.6 0 0 1 396.79 459.59L397.91 464.05A125 125 0 0 0 394.6 464.93Z" fill="#E59F9F" />
<path d="M396.62 459.63A129.6 129.6 0 0 1 400.08 458.81L401.08 463.3A125 125 0 0 0 397.74 464.09Z" fill="#E6CECE" />
<path d="M399.9 458.85A129.6 129.6 0 0 1 403.38 458.12L404.26 462.63A125 125 0 0 0 400.91 463.34Z" fill="#E5A4A4" />
<path d="M403.2 458.15A129.6 129.6 0 0 1 406.69 457.51L407.46 462.05A125 125 0 0 0 404.09 462.67Z" fill="#E6E0E0" />
<path d="M406.52 457.54A129.6 129.6 0 0 1 410.03 456.99L410.68 461.55A125 125 0 0 0 407.29 462.08Z" fill="#E6E4E4" />
<path d="M409.85 457.02A129.6 129.6 0 0 1 413.37 456.56L413.9 461.13A125 125 0 0 0 410.5 461.57Z" fill="#E6C8C8" />
<path d="M413.19 456.58A129.6 129.6 0 0 1 416.73 456.22L417.14 460.8A125 125 0 0 0 413.73 461.15Z" fill="#E47374" />
<path d="M416.55 456.23A129.6 129.6 0 0 1 420.09 455.96L420.38 460.55A125 125 0 0 0 416.96 460.82Z" fill="#E5A9A9" />
<path d="M419.91 455.97A129.6 129.6 0 0 1 423.46 455.79L423.63 460.39A125 125 0 0 0 420.21 460.56Z" fill="#E3393A" />
<path d="M423.28 455.8A129.6 129.6 0 0 1 426.83 455.71L426.88 460.31A125 125 0 0 0 423.45 460.39Z" fill="#E6E6E6" />
<path d="M426.65 455.71A129.6 129.6 0 0 1 430.2 455.71L430.13 460.31A125 125 0 0 0 426.71 460.31Z" fill="#E59FA0" />
<path d="M430.02 455.71A129.6 129.6 0 0 1 433.57 455.81L433.38 460.4A125 125 0 0 0 429.96 460.31Z" fill="#E5ADAE" />
<path d="M433.39 455.8A129.6 129.6 0 0 1 436.94 455.99L436.63 460.58A125 125 0 0 0 433.21 460.4Z" fill="#E6E0E0" />
<path d="M436.76 455.98A129.6 129.6 0 0 1 440.3 456.26L439.88 460.84A125 125 0 0 0 436.46 460.57Z" fill="#E5B5B5" />
<path d="M440.12 456.24A129.6 129.6 0 0 1 443.65 456.61L443.11 461.18A125 125 0 0 0 439.7 460.82Z" fill="#E46263" />
<path d="M443.48 456.59A129.6 129.6 0 0 1 447 457.06L446.33 461.61A125 125 0 0 0 442.94 461.16Z" fill="#E5A7A8" />
<path d="M446.82 457.03A129.6 129.6 0 0 1 450.33 457.59L449.55 462.12A125 125 0 0 0 446.16 461.58Z" fill="#E43D3F" />
<path d="M450.15 457.56A129.6 129.6 0 0 1 453.64 458.2L452.74 462.71A125 125 0 0 0 449.37 462.09Z" fill="#E46264" />
<path d="M453.47 458.17A129.6 129.6 0 0 1 456.94 458.9L455.93 463.39A125 125 0 0 0 452.57 462.68Z" fill="#E58E8F" />
<path d="M456.77 458.86A129.6 129.6 0 0 1 460.22 459.69L459.09 464.15A125 125 0 0 0 455.76 463.35Z" fill="#E43E3F" />
<path d="M460.05 459.65A129.6 129.6 0 0 1 463.48 460.57L462.23 464.99A125 125 0 0 0 458.92 464.11Z" fill="#E6E3E3" />
<path d="M463.31 460.52A129.6 129.6 0 0 1 466.71 461.52L465.35 465.92A125 125 0 0 0 462.06 464.95Z" fill="#E6D0D0" />
<path d="M466.54 461.47A129.6 129.6 0 0 1 469.92 462.56L468.44 466.92A125 125 0 0 0 465.18 465.87Z" fill="#E6E2E2" />
<path d="M469.75 462.51A129.6 129.6 0 0 1 473.1 463.69L471.51 468.01A125 125 0 0 0 468.28 466.87Z" fill="#E4595B" />
<path d="M472.93 463.63A129.6 129.6 0 0 1 476.25 464.9L474.55 469.17A125 125 0 0 0 471.35 467.95Z" fill="#E6CCCC" />
<path d="M476.08 464.83A129.6 129.6 0 0 1 479.37 466.18L477.55 470.41A125 125 0 0 0 474.39 469.11Z" fill="#E6CACB" />
<path d="M479.2 466.11A129.6 129.6 0 0 1 482.45 467.55L480.53 471.73A125 125 0 0 0 477.39 470.34Z" fill="#E6DBDB" />
<path d="M482.28 467.48A129.6 129.6 0 0 1 485.49 469L483.46 473.13A125 125 0 0 0 480.37 471.66Z" fill="#E6CFCF" />
<path d="M485.33 468.92A129.6 129.6 0 0 1 488.5 470.53L486.36 474.6A125 125 0 0 0 483.31 473.05Z" fill="#E44041" />
<path d="M488.34 470.45A129.6 129.6 0 0 1 491.47 472.14L489.22 476.15A125 125 0 0 0 486.21 474.52Z" fill="#E6D1D1" />
<path d="M491.31 472.05A129.6 129.6 0 0 1 494.39 473.82L492.04 477.77A125 125 0 0 0 489.07 476.07Z" fill="#E6C8C8" />
<path d="M494.23 473.73A129.6 129.6 0 0 1 497.27 475.57L494.82 479.47A125 125 0 0 0 491.89 477.69Z" fill="#E6E6E6" />
<path d="M497.11 475.48A129.6 129.6 0 0 1 500.1 477.41L497.55 481.24A125 125 0 0 0 494.67 479.38Z" fill="#E5ADAE" />
<path d="M499.95 477.31A129.6 129.6 0 0 1 502.88 479.31L500.23 483.07A125 125 0 0 0 497.41 481.14Z" fill="#E6D6D7" />
<path d="M502.73 479.21A129.6 129.6 0 0 1 505.61 481.29L502.87 484.98A125 125 0 0 0 500.09 482.97Z" fill="#E6E6E6" />
<path d="M505.47 481.18A129.6 129.6 0 0 1 508.29 483.33L505.46 486.95A125 125 0 0 0 502.73 484.88Z" fill="#E6E1E1" />
<path d="M508.15 483.22A129.6 129.6 0 0 1 510.92 485.45L507.99 488.99A125 125 0 0 0 505.32 486.85Z" fill="#E33638" />
<path d="M510.78 485.34A129.6 129.6 0 0 1 513.49 487.63L510.47 491.1A125 125 0 0 0 507.85 488.88Z" fill="#E6D3D3" />
<path d="M513.35 487.52A129.6 129.6 0 0 1 516 489.88L512.89 493.27A125 125 0 0 0 510.34 490.99Z" fill="#E5A3A4" />
<path d="M515.87 489.76A129.6 129.6 0 0 1 518.46 492.2L515.26 495.5A125 125 0 0 0 512.76 493.15Z" fill="#E58A8A" />
<path d="M518.33 492.07A129.6 129.6 0 0 1 520.85 494.58L517.56 497.8A125 125 0 0 0 515.13 495.38Z" fill="#E45758" />
<path d="M520.72 494.45A129.6 129.6 0 0 1 523.18 497.01L519.81 500.15A125 125 0 0 0 517.44 497.67Z" fill="#E6C6C6" />
<path d="M523.05 496.88A129.6 129.6 0 0 1 525.44 499.51L521.99 502.56A125 125 0 0 0 519.69 500.02Z" fill="#E6DCDC" />
<path d="M525.32 499.38A129.6 129.6 0 0 1 527.64 502.07L524.12 505.02A125 125 0 0 0 521.88 502.43Z" fill="#E32123" />
<path d="M527.53 501.93A129.6 129.6 0 0 1 529.77 504.68L526.17 507.54A125 125 0 0 0 524 504.89Z" fill="#E45455" />
<path d="M529.66 504.54A129.6 129.6 0 0 1 531.84 507.35L528.16 510.12A125 125 0 0 0 526.06 507.41Z" fill="#E4797A" />
<path d="M531.73 507.21A129.6 129.6 0 0 1 533.83 510.07L530.08 512.74A125 125 0 0 0 528.06 509.98Z" fill="#E6DDDD" />
<path d="M533.73 509.92A129.6 129.6 0 0 1 535.75 512.84L531.94 515.41A125 125 0 0 0 529.98 512.6Z" fill="#E5A8A8" />
<path d="M535.65 512.69A129.6 129.6 0 0 1 537.6 515.66L533.72 518.13A125 125 0 0 0 531.84 515.27Z" fill="#E4696A" />
<path d="M537.5 515.51A129.6 129.6 0 0 1 539.38 518.53L535.43 520.9A125 125 0 0 0 533.63 517.99Z" fill="#E59999" />
<path d="M539.28 518.37A129.6 129.6 0 0 1 541.08 521.44L537.07 523.71A125 125 0 0 0 535.34 520.75Z" fill="#E58485" />
</g>
<path d="M553.29 583.99A125 125 0 1 1 536.99 523.56" fill="none" stroke="#999" stroke-width="0.55"/>
<path d="M557.89 583.94A129.6 129.6 0 1 1 540.99 521.29" fill="none" stroke="#999" stroke-width="0.55"/>
<g stroke="none">
<path d="M563.59 583.88A135.3 135.3 0 0 1 563.58 587.59L558.58 587.51A130.3 130.3 0 0 0 558.59 583.94Z" fill="#DBE0E3" />
<path d="M563.58 587.4A135.3 135.3 0 0 1 563.48 591.11L558.48 590.9A130.3 130.3 0 0 0 558.58 587.33Z" fill="#A3C1D5" />
<path d="M563.48 590.92A135.3 135.3 0 0 1 563.28 594.63L558.29 594.28A130.3 130.3 0 0 0 558.49 590.72Z" fill="#3F8ABC" />
<path d="M563.29 594.44A135.3 135.3 0 0 1 562.99 598.14L558.01 597.66A130.3 130.3 0 0 0 558.3 594.1Z" fill="#3A87BB" />
<path d="M563.01 597.95A135.3 135.3 0 0 1 562.61 601.64L557.65 601.03A130.3 130.3 0 0 0 558.03 597.48Z" fill="#A7C3D6" />
<path d="M562.63 601.45A135.3 135.3 0 0 1 562.14 605.13L557.19 604.39A130.3 130.3 0 0 0 557.67 600.85Z" fill="#3082B8" />
<path d="M562.17 604.94A135.3 135.3 0 0 1 561.58 608.6L556.65 607.74A130.3 130.3 0 0 0 557.22 604.21Z" fill="#418BBD" />
<path d="M561.61 608.42A135.3 135.3 0 0 1 560.93 612.06L556.03 611.07A130.3 130.3 0 0 0 556.68 607.56Z" fill="#77A9CA" />
<path d="M560.96 611.88A135.3 135.3 0 0 1 560.19 615.5L555.31 614.39A130.3 130.3 0 0 0 556.06 610.89Z" fill="#D1DAE1" />
<path d="M560.23 615.32A135.3 135.3 0 0 1 559.36 618.92L554.51 617.68A130.3 130.3 0 0 0 555.35 614.21Z" fill="#3282B9" />
<path d="M559.4 618.74A135.3 135.3 0 0 1 558.44 622.32L553.63 620.96A130.3 130.3 0 0 0 554.56 617.51Z" fill="#3182B9" />
<path d="M558.49 622.14A135.3 135.3 0 0 1 557.43 625.7L552.66 624.2A130.3 130.3 0 0 0 553.68 620.78Z" fill="#458DBD" />
<path d="M557.48 625.52A135.3 135.3 0 0 1 556.33 629.04L551.6 627.43A130.3 130.3 0 0 0 552.71 624.03Z" fill="#468EBE" />
<path d="M556.39 628.86A135.3 135.3 0 0 1 555.15 632.36L550.46 630.62A130.3 130.3 0 0 0 551.66 627.25Z" fill="#2F81B8" />
<path d="M555.22 632.18A135.3 135.3 0 0 1 553.88 635.64L549.24 633.78A130.3 130.3 0 0 0 550.53 630.45Z" fill="#DAE0E3" />
<path d="M553.95 635.47A135.3 135.3 0 0 1 552.53 638.9L547.94 636.91A130.3 130.3 0 0 0 549.31 633.62Z" fill="#5C9AC3" />
<path d="M552.61 638.72A135.3 135.3 0 0 1 551.1 642.11L546.56 640.01A130.3 130.3 0 0 0 548.01 636.75Z" fill="#5797C2" />
<path d="M551.17 641.94A135.3 135.3 0 0 1 549.58 645.29L545.09 643.07A130.3 130.3 0 0 0 546.63 639.84Z" fill="#D1DAE1" />
<path d="M549.66 645.12A135.3 135.3 0 0 1 547.97 648.42L543.55 646.09A130.3 130.3 0 0 0 545.17 642.91Z" fill="#3685BA" />
<path d="M548.06 648.25A135.3 135.3 0 0 1 546.29 651.51L541.93 649.07A130.3 130.3 0 0 0 543.64 645.93Z" fill="#3685BA" />
<path d="M546.38 651.35A135.3 135.3 0 0 1 544.53 654.56L540.23 652A130.3 130.3 0 0 0 542.02 648.91Z" fill="#438CBD" />
<path d="M544.62 654.4A135.3 135.3 0 0 1 542.69 657.56L538.46 654.89A130.3 130.3 0 0 0 540.33 651.84Z" fill="#9FBFD4" />
<path d="M542.79 657.4A135.3 135.3 0 0 1 540.77 660.51L536.61 657.73A130.3 130.3 0 0 0 538.56 654.74Z" fill="#639EC5" />
<path d="M540.87 660.36A135.3 135.3 0 0 1 538.77 663.41L534.69 660.53A130.3 130.3 0 0 0 536.71 657.58Z" fill="#C1D2DD" />
<path d="M538.88 663.26A135.3 135.3 0 0 1 536.7 666.26L532.7 663.27A130.3 130.3 0 0 0 534.8 660.38Z" fill="#2B7FB7" />
<path d="M536.82 666.11A135.3 135.3 0 0 1 534.56 669.06L530.63 665.96A130.3 130.3 0 0 0 532.81 663.12Z" fill="#498FBE" />
<path d="M534.68 668.91A135.3 135.3 0 0 1 532.34 671.79L528.5 668.6A130.3 130.3 0 0 0 530.75 665.82Z" fill="#629DC5" />
<path d="M532.46 671.65A135.3 135.3 0 0 1 530.06 674.47L526.3 671.17A130.3 130.3 0 0 0 528.62 668.46Z" fill="#619DC5" />
<path d="M530.18 674.33A135.3 135.3 0 0 1 527.7 677.09L524.03 673.7A130.3 130.3 0 0 0 526.42 671.04Z" fill="#6BA2C7" />
<path d="M527.83 676.95A135.3 135.3 0 0 1 525.28 679.64L521.7 676.16A130.3 130.3 0 0 0 524.15 673.56Z" fill="#A5C2D6" />
<path d="M525.41 679.51A135.3 135.3 0 0 1 522.79 682.13L519.3 678.56A130.3 130.3 0 0 0 521.82 676.03Z" fill="#438CBD" />
<path d="M522.93 682A135.3 135.3 0 0 1 520.24 684.56L516.85 680.89A130.3 130.3 0 0 0 519.43 678.43Z" fill="#3484B9" />
<path d="M520.38 684.43A135.3 135.3 0 0 1 517.63 686.92L514.33 683.16A130.3 130.3 0 0 0 516.98 680.77Z" fill="#267CB6" />
<path d="M517.77 686.79A135.3 135.3 0 0 1 514.95 689.21L511.75 685.37A130.3 130.3 0 0 0 514.46 683.04Z" fill="#BFD0DC" />
<path d="M515.1 689.09A135.3 135.3 0 0 1 512.22 691.43L509.12 687.51A130.3 130.3 0 0 0 511.89 685.25Z" fill="#498FBE" />
<path d="M512.37 691.31A135.3 135.3 0 0 1 509.43 693.58L506.43 689.57A130.3 130.3 0 0 0 509.26 687.39Z" fill="#6BA2C7" />
<path d="M509.58 693.46A135.3 135.3 0 0 1 506.59 695.65L503.69 691.57A130.3 130.3 0 0 0 506.58 689.47Z" fill="#5696C2" />
<path d="M506.74 695.54A135.3 135.3 0 0 1 503.69 697.65L500.9 693.5A130.3 130.3 0 0 0 503.84 691.47Z" fill="#8AB3CF" />
<path d="M503.85 697.54A135.3 135.3 0 0 1 500.74 699.57L498.06 695.35A130.3 130.3 0 0 0 501.05 693.4Z" fill="#9CBDD3" />
<path d="M500.9 699.47A135.3 135.3 0 0 1 497.74 701.42L495.18 697.13A130.3 130.3 0 0 0 498.22 695.25Z" fill="#3383B9" />
<path d="M497.9 701.32A135.3 135.3 0 0 1 494.7 703.19L492.24 698.83A130.3 130.3 0 0 0 495.33 697.04Z" fill="#5898C2" />
<path d="M494.86 703.09A135.3 135.3 0 0 1 491.61 704.88L489.27 700.46A130.3 130.3 0 0 0 492.4 698.74Z" fill="#4E92C0" />
<path d="M491.77 704.79A135.3 135.3 0 0 1 488.47 706.48L486.25 702A130.3 130.3 0 0 0 489.43 700.37Z" fill="#3D88BB" />
<path d="M488.64 706.4A135.3 135.3 0 0 1 485.3 708.01L483.19 703.47A130.3 130.3 0 0 0 486.41 701.92Z" fill="#4B90BF" />
<path d="M485.47 707.93A135.3 135.3 0 0 1 482.09 709.45L480.1 704.86A130.3 130.3 0 0 0 483.36 703.4Z" fill="#A4C1D5" />
<path d="M482.26 709.37A135.3 135.3 0 0 1 478.84 710.81L476.97 706.17A130.3 130.3 0 0 0 480.27 704.79Z" fill="#5998C3" />
<path d="M479.02 710.74A135.3 135.3 0 0 1 475.56 712.08L473.81 707.39A130.3 130.3 0 0 0 477.14 706.1Z" fill="#5D9AC4" />
<path d="M475.73 712.01A135.3 135.3 0 0 1 472.24 713.27L470.62 708.54A130.3 130.3 0 0 0 473.98 707.33Z" fill="#C8D6DF" />
<path d="M472.42 713.2A135.3 135.3 0 0 1 468.9 714.37L467.4 709.6A130.3 130.3 0 0 0 470.79 708.48Z" fill="#227AB5" />
<path d="M469.08 714.31A135.3 135.3 0 0 1 465.53 715.38L464.15 710.57A130.3 130.3 0 0 0 467.57 709.54Z" fill="#2C7FB7" />
<path d="M465.71 715.33A135.3 135.3 0 0 1 462.13 716.3L460.88 711.46A130.3 130.3 0 0 0 464.33 710.52Z" fill="#257BB5" />
<path d="M462.31 716.26A135.3 135.3 0 0 1 458.71 717.14L457.59 712.27A130.3 130.3 0 0 0 461.06 711.42Z" fill="#408ABC" />
<path d="M458.89 717.1A135.3 135.3 0 0 1 455.27 717.88L454.27 712.99A130.3 130.3 0 0 0 457.76 712.23Z" fill="#7AABCB" />
<path d="M455.45 717.85A135.3 135.3 0 0 1 451.81 718.54L450.94 713.62A130.3 130.3 0 0 0 454.45 712.95Z" fill="#498FBE" />
<path d="M452 718.51A135.3 135.3 0 0 1 448.33 719.11L447.59 714.16A130.3 130.3 0 0 0 451.12 713.59Z" fill="#3886BA" />
<path d="M448.52 719.08A135.3 135.3 0 0 1 444.85 719.58L444.23 714.62A130.3 130.3 0 0 0 447.77 714.14Z" fill="#7BABCB" />
<path d="M445.03 719.56A135.3 135.3 0 0 1 441.35 719.97L440.86 714.99A130.3 130.3 0 0 0 444.42 714.6Z" fill="#6DA3C8" />
<path d="M441.53 719.95A135.3 135.3 0 0 1 437.84 720.26L437.49 715.28A130.3 130.3 0 0 0 441.05 714.98Z" fill="#5395C1" />
<path d="M438.03 720.25A135.3 135.3 0 0 1 434.32 720.47L434.1 715.47A130.3 130.3 0 0 0 437.67 715.26Z" fill="#3182B9" />
<path d="M434.51 720.46A135.3 135.3 0 0 1 430.8 720.58L430.71 715.58A130.3 130.3 0 0 0 434.28 715.46Z" fill="#5C9AC3" />
<path d="M430.99 720.57A135.3 135.3 0 0 1 427.28 720.6L427.32 715.6A130.3 130.3 0 0 0 430.89 715.57Z" fill="#5797C2" />
<path d="M427.47 720.6A135.3 135.3 0 0 1 423.76 720.52L423.93 715.53A130.3 130.3 0 0 0 427.5 715.6Z" fill="#D9DFE3" />
<path d="M423.95 720.53A135.3 135.3 0 0 1 420.25 720.36L420.54 715.37A130.3 130.3 0 0 0 424.11 715.53Z" fill="#629DC5" />
<path d="M420.44 720.37A135.3 135.3 0 0 1 416.74 720.1L417.16 715.12A130.3 130.3 0 0 0 420.73 715.38Z" fill="#448DBD" />
<path d="M416.92 720.12A135.3 135.3 0 0 1 413.23 719.76L413.79 714.79A130.3 130.3 0 0 0 417.34 715.14Z" fill="#257BB6" />
<path d="M413.42 719.78A135.3 135.3 0 0 1 409.74 719.32L410.42 714.37A130.3 130.3 0 0 0 413.97 714.81Z" fill="#D7DEE2" />
<path d="M409.93 719.35A135.3 135.3 0 0 1 406.26 718.79L407.07 713.86A130.3 130.3 0 0 0 410.6 714.39Z" fill="#73A6C9" />
<path d="M406.44 718.82A135.3 135.3 0 0 1 402.79 718.17L403.73 713.26A130.3 130.3 0 0 0 407.25 713.89Z" fill="#72A6C9" />
<path d="M402.98 718.21A135.3 135.3 0 0 1 399.34 717.46L400.41 712.58A130.3 130.3 0 0 0 403.91 713.3Z" fill="#5C9AC3" />
<path d="M399.53 717.51A135.3 135.3 0 0 1 395.91 716.67L397.11 711.81A130.3 130.3 0 0 0 400.59 712.62Z" fill="#277CB6" />
<path d="M396.1 716.71A135.3 135.3 0 0 1 392.51 715.78L393.83 710.96A130.3 130.3 0 0 0 397.29 711.86Z" fill="#4C91BF" />
<path d="M392.69 715.83A135.3 135.3 0 0 1 389.12 714.8L390.57 710.02A130.3 130.3 0 0 0 394 711.01Z" fill="#428BBD" />
<path d="M389.3 714.86A135.3 135.3 0 0 1 385.77 713.74L387.34 708.99A130.3 130.3 0 0 0 390.75 710.07Z" fill="#D0DAE0" />
<path d="M385.95 713.8A135.3 135.3 0 0 1 382.44 712.59L384.13 707.89A130.3 130.3 0 0 0 387.51 709.05Z" fill="#BED0DC" />
<path d="M382.62 712.65A135.3 135.3 0 0 1 379.14 711.35L380.96 706.7A130.3 130.3 0 0 0 384.31 707.95Z" fill="#3A87BB" />
<path d="M379.32 711.42A135.3 135.3 0 0 1 375.88 710.03L377.82 705.42A130.3 130.3 0 0 0 381.13 706.76Z" fill="#619CC5" />
<path d="M376.05 710.11A135.3 135.3 0 0 1 372.65 708.63L374.71 704.07A130.3 130.3 0 0 0 377.98 705.49Z" fill="#5D9AC4" />
<path d="M372.82 708.7A135.3 135.3 0 0 1 369.46 707.14L371.64 702.63A130.3 130.3 0 0 0 374.87 704.14Z" fill="#498FBF" />
<path d="M369.63 707.22A135.3 135.3 0 0 1 366.31 705.56L368.6 701.12A130.3 130.3 0 0 0 371.8 702.71Z" fill="#297EB7" />
<path d="M366.48 705.65A135.3 135.3 0 0 1 363.2 703.91L365.61 699.53A130.3 130.3 0 0 0 368.76 701.2Z" fill="#AEC7D8" />
<path d="M363.37 704A135.3 135.3 0 0 1 360.14 702.18L362.66 697.86A130.3 130.3 0 0 0 365.77 699.61Z" fill="#267CB6" />
<path d="M360.3 702.27A135.3 135.3 0 0 1 357.12 700.36L359.75 696.11A130.3 130.3 0 0 0 362.81 697.95Z" fill="#C7D5DE" />
<path d="M357.28 700.46A135.3 135.3 0 0 1 354.15 698.47L356.89 694.29A130.3 130.3 0 0 0 359.91 696.21Z" fill="#247BB5" />
<path d="M354.31 698.58A135.3 135.3 0 0 1 351.23 696.5L354.08 692.4A130.3 130.3 0 0 0 357.04 694.39Z" fill="#297DB6" />
<path d="M351.39 696.61A135.3 135.3 0 0 1 348.36 694.46L351.32 690.43A130.3 130.3 0 0 0 354.23 692.5Z" fill="#DADFE3" />
<path d="M348.52 694.57A135.3 135.3 0 0 1 345.55 692.34L348.61 688.39A130.3 130.3 0 0 0 351.46 690.54Z" fill="#428CBD" />
<path d="M345.7 692.46A135.3 135.3 0 0 1 342.79 690.16L345.95 686.28A130.3 130.3 0 0 0 348.75 688.5Z" fill="#237AB5" />
<path d="M342.94 690.27A135.3 135.3 0 0 1 340.09 687.9L343.35 684.1A130.3 130.3 0 0 0 346.09 686.4Z" fill="#3886BA" />
<path d="M340.24 688.02A135.3 135.3 0 0 1 337.45 685.57L340.81 681.86A130.3 130.3 0 0 0 343.49 684.22Z" fill="#488FBE" />
<path d="M337.59 685.69A135.3 135.3 0 0 1 334.88 683.17L338.33 679.55A130.3 130.3 0 0 0 340.95 681.98Z" fill="#7DACCC" />
<path d="M335.01 683.3A135.3 135.3 0 0 1 332.36 680.7L335.91 677.18A130.3 130.3 0 0 0 338.46 679.68Z" fill="#5F9BC4" />
<path d="M332.49 680.84A135.3 135.3 0 0 1 329.91 678.18L333.55 674.74A130.3 130.3 0 0 0 336.04 677.31Z" fill="#3886BA" />
<path d="M330.04 678.31A135.3 135.3 0 0 1 327.53 675.58L331.25 672.25A130.3 130.3 0 0 0 333.67 674.88Z" fill="#6DA3C7" />
<path d="M327.65 675.72A135.3 135.3 0 0 1 325.21 672.93L329.02 669.69A130.3 130.3 0 0 0 331.37 672.38Z" fill="#3986BB" />
<path d="M325.34 673.07A135.3 135.3 0 0 1 322.97 670.22L326.86 667.08A130.3 130.3 0 0 0 329.14 669.83Z" fill="#BCCFDC" />
<path d="M323.09 670.37A135.3 135.3 0 0 1 320.79 667.45L324.77 664.41A130.3 130.3 0 0 0 326.97 667.22Z" fill="#3D89BC" />
<path d="M320.91 667.6A135.3 135.3 0 0 1 318.69 664.62L322.74 661.69A130.3 130.3 0 0 0 324.88 664.56Z" fill="#609CC4" />
<path d="M318.8 664.78A135.3 135.3 0 0 1 316.67 661.75L320.79 658.92A130.3 130.3 0 0 0 322.85 661.84Z" fill="#85B1CE" />
<path d="M316.77 661.9A135.3 135.3 0 0 1 314.71 658.82L318.91 656.1A130.3 130.3 0 0 0 320.89 659.07Z" fill="#488EBE" />
<path d="M314.82 658.97A135.3 135.3 0 0 1 312.84 655.83L317.11 653.23A130.3 130.3 0 0 0 319.01 656.25Z" fill="#3886BA" />
<path d="M312.94 656A135.3 135.3 0 0 1 311.04 652.81L315.38 650.31A130.3 130.3 0 0 0 317.2 653.38Z" fill="#468EBE" />
<path d="M311.14 652.97A135.3 135.3 0 0 1 309.33 649.73L313.72 647.35A130.3 130.3 0 0 0 315.47 650.47Z" fill="#5D9AC4" />
<path d="M309.42 649.9A135.3 135.3 0 0 1 307.69 646.62L312.15 644.35A130.3 130.3 0 0 0 313.81 647.51Z" fill="#3483B9" />
<path d="M307.78 646.78A135.3 135.3 0 0 1 306.14 643.46L310.65 641.31A130.3 130.3 0 0 0 312.23 644.51Z" fill="#81AECD" />
<path d="M306.22 643.63A135.3 135.3 0 0 1 304.66 640.26L309.23 638.23A130.3 130.3 0 0 0 310.73 641.47Z" fill="#3685BA" />
<path d="M304.74 640.43A135.3 135.3 0 0 1 303.28 637.02L307.9 635.11A130.3 130.3 0 0 0 309.31 638.39Z" fill="#5C9AC3" />
<path d="M303.35 637.2A135.3 135.3 0 0 1 301.97 633.75L306.64 631.96A130.3 130.3 0 0 0 307.97 635.28Z" fill="#247BB5" />
<path d="M302.04 633.93A135.3 135.3 0 0 1 300.76 630.45L305.47 628.78A130.3 130.3 0 0 0 306.71 632.13Z" fill="#7EADCC" />
<path d="M300.82 630.63A135.3 135.3 0 0 1 299.62 627.11L304.38 625.57A130.3 130.3 0 0 0 305.53 628.95Z" fill="#4B91BF" />
<path d="M299.68 627.29A135.3 135.3 0 0 1 298.58 623.75L303.37 622.33A130.3 130.3 0 0 0 304.44 625.74Z" fill="#639EC5" />
<path d="M298.63 623.93A135.3 135.3 0 0 1 297.62 620.36L302.45 619.07A130.3 130.3 0 0 0 303.42 622.51Z" fill="#3182B9" />
<path d="M297.67 620.55A135.3 135.3 0 0 1 296.75 616.95L301.62 615.78A130.3 130.3 0 0 0 302.5 619.24Z" fill="#629DC5" />
<path d="M296.8 617.14A135.3 135.3 0 0 1 295.98 613.52L300.87 612.48A130.3 130.3 0 0 0 301.66 615.96Z" fill="#5696C2" />
<path d="M296.01 613.7A135.3 135.3 0 0 1 295.29 610.07L300.2 609.15A130.3 130.3 0 0 0 300.9 612.65Z" fill="#5F9BC4" />
<path d="M295.32 610.25A135.3 135.3 0 0 1 294.69 606.6L299.62 605.81A130.3 130.3 0 0 0 300.23 609.33Z" fill="#3081B8" />
<path d="M294.72 606.78A135.3 135.3 0 0 1 294.18 603.11L299.13 602.45A130.3 130.3 0 0 0 299.65 605.99Z" fill="#227AB5" />
<path d="M294.2 603.3A135.3 135.3 0 0 1 293.76 599.62L298.73 599.09A130.3 130.3 0 0 0 299.16 602.63Z" fill="#649EC5" />
<path d="M293.78 599.8A135.3 135.3 0 0 1 293.43 596.11L298.42 595.71A130.3 130.3 0 0 0 298.75 599.27Z" fill="#4C91BF" />
<path d="M293.45 596.3A135.3 135.3 0 0 1 293.2 592.6L298.19 592.33A130.3 130.3 0 0 0 298.43 595.89Z" fill="#C7D5DE" />
<path d="M293.21 592.79A135.3 135.3 0 0 1 293.05 589.08L298.05 588.94A130.3 130.3 0 0 0 298.2 592.51Z" fill="#619DC5" />
<path d="M293.06 589.27A135.3 135.3 0 0 1 293 585.56L298 585.55A130.3 130.3 0 0 0 298.06 589.12Z" fill="#E1E3E5" />
<path d="M293 585.75A135.3 135.3 0 0 1 293.04 582.04L298.04 582.16A130.3 130.3 0 0 0 298 585.73Z" fill="#4E92C0" />
<path d="M293.03 582.23A135.3 135.3 0 0 1 293.17 578.52L298.16 578.77A130.3 130.3 0 0 0 298.03 582.34Z" fill="#277CB6" />
<path d="M293.16 578.71A135.3 135.3 0 0 1 293.39 575.01L298.38 575.39A130.3 130.3 0 0 0 298.15 578.95Z" fill="#1F78B4" />
<path d="M293.38 575.2A135.3 135.3 0 0 1 293.71 571.5L298.68 572.01A130.3 130.3 0 0 0 298.36 575.57Z" fill="#9CBDD3" />
<path d="M293.69 571.69A135.3 135.3 0 0 1 294.11 568L299.07 568.64A130.3 130.3 0 0 0 298.66 572.19Z" fill="#B1C9D9" />
<path d="M294.09 568.19A135.3 135.3 0 0 1 294.61 564.52L299.55 565.29A130.3 130.3 0 0 0 299.05 568.82Z" fill="#4F93C0" />
<path d="M294.58 564.7A135.3 135.3 0 0 1 295.19 561.05L300.11 561.94A130.3 130.3 0 0 0 299.52 565.47Z" fill="#E6E6E6" />
<path d="M295.16 561.23A135.3 135.3 0 0 1 295.87 557.59L300.76 558.61A130.3 130.3 0 0 0 300.08 562.12Z" fill="#5998C3" />
<path d="M295.83 557.78A135.3 135.3 0 0 1 296.63 554.15L301.5 555.3A130.3 130.3 0 0 0 300.72 558.79Z" fill="#99BCD3" />
<path d="M296.59 554.34A135.3 135.3 0 0 1 297.49 550.74L302.32 552.02A130.3 130.3 0 0 0 301.46 555.48Z" fill="#629DC5" />
<path d="M297.44 550.92A135.3 135.3 0 0 1 298.43 547.35L303.23 548.75A130.3 130.3 0 0 0 302.28 552.19Z" fill="#2B7FB7" />
<path d="M298.38 547.53A135.3 135.3 0 0 1 299.46 543.98L304.22 545.51A130.3 130.3 0 0 0 303.18 548.92Z" fill="#C0D1DD" />
<path d="M299.41 544.16A135.3 135.3 0 0 1 300.58 540.64L305.3 542.29A130.3 130.3 0 0 0 304.17 545.68Z" fill="#5093C0" />
<path d="M300.52 540.82A135.3 135.3 0 0 1 301.79 537.33L306.46 539.11A130.3 130.3 0 0 0 305.24 542.46Z" fill="#649EC5" />
<path d="M301.72 537.51A135.3 135.3 0 0 1 303.08 534.06L307.71 535.95A130.3 130.3 0 0 0 306.4 539.28Z" fill="#C5D4DE" />
<path d="M303.01 534.23A135.3 135.3 0 0 1 304.45 530.82L309.03 532.83A130.3 130.3 0 0 0 307.64 536.12Z" fill="#2C7FB7" />
<path d="M304.38 530.99A135.3 135.3 0 0 1 305.91 527.61L310.44 529.75A130.3 130.3 0 0 0 308.96 533Z" fill="#E1E3E5" />
<path d="M305.83 527.78A135.3 135.3 0 0 1 307.46 524.45L311.92 526.7A130.3 130.3 0 0 0 310.36 529.91Z" fill="#247BB5" />
<path d="M307.37 524.62A135.3 135.3 0 0 1 309.08 521.32L313.49 523.69A130.3 130.3 0 0 0 311.84 526.86Z" fill="#3182B8" />
<path d="M308.99 521.49A135.3 135.3 0 0 1 310.79 518.24L315.13 520.72A130.3 130.3 0 0 0 313.4 523.85Z" fill="#5395C1" />
<path d="M310.69 518.41A135.3 135.3 0 0 1 312.57 515.21L316.85 517.8A130.3 130.3 0 0 0 315.04 520.88Z" fill="#227AB5" />
<path d="M312.47 515.37A135.3 135.3 0 0 1 314.43 512.22L318.64 514.92A130.3 130.3 0 0 0 316.75 517.96Z" fill="#5B99C3" />
<path d="M314.33 512.38A135.3 135.3 0 0 1 316.37 509.28L320.51 512.09A130.3 130.3 0 0 0 318.54 515.08Z" fill="#5696C2" />
<path d="M316.27 509.44A135.3 135.3 0 0 1 318.39 506.4L322.45 509.31A130.3 130.3 0 0 0 320.41 512.24Z" fill="#89B2CF" />
<path d="M318.28 506.55A135.3 135.3 0 0 1 320.48 503.56L324.46 506.58A130.3 130.3 0 0 0 322.34 509.46Z" fill="#257BB5" />
<path d="M320.37 503.71A135.3 135.3 0 0 1 322.64 500.79L326.55 503.91A130.3 130.3 0 0 0 324.35 506.73Z" fill="#D3DCE1" />
<path d="M322.52 500.93A135.3 135.3 0 0 1 324.88 498.07L328.7 501.29A130.3 130.3 0 0 0 326.43 504.05Z" fill="#468EBE" />
<path d="M324.76 498.21A135.3 135.3 0 0 1 327.18 495.4L330.92 498.73A130.3 130.3 0 0 0 328.58 501.43Z" fill="#227AB5" />
<path d="M327.06 495.55A135.3 135.3 0 0 1 329.56 492.8L333.2 496.22A130.3 130.3 0 0 0 330.8 498.86Z" fill="#5D9AC3" />
<path d="M329.43 492.94A135.3 135.3 0 0 1 332 490.27L335.55 493.78A130.3 130.3 0 0 0 333.08 496.35Z" fill="#458DBD" />
<path d="M331.86 490.4A135.3 135.3 0 0 1 334.5 487.79L337.97 491.4A130.3 130.3 0 0 0 335.43 493.91Z" fill="#659FC6" />
<path d="M334.36 487.92A135.3 135.3 0 0 1 337.07 485.38L340.44 489.08A130.3 130.3 0 0 0 337.84 491.52Z" fill="#3182B9" />
<path d="M336.93 485.51A135.3 135.3 0 0 1 339.7 483.04L342.97 486.82A130.3 130.3 0 0 0 340.31 489.2Z" fill="#2F81B8" />
<path d="M339.56 483.17A135.3 135.3 0 0 1 342.39 480.77L345.57 484.64A130.3 130.3 0 0 0 342.84 486.94Z" fill="#5496C1" />
<path d="M342.25 480.89A135.3 135.3 0 0 1 345.14 478.57L348.21 482.52A130.3 130.3 0 0 0 345.43 484.75Z" fill="#5194C1" />
<path d="M344.99 478.69A135.3 135.3 0 0 1 347.95 476.45L350.91 480.47A130.3 130.3 0 0 0 348.07 482.63Z" fill="#AAC5D7" />
<path d="M347.79 476.56A135.3 135.3 0 0 1 350.8 474.39L353.67 478.49A130.3 130.3 0 0 0 350.77 480.58Z" fill="#E3E5E5" />
<path d="M350.65 474.5A135.3 135.3 0 0 1 353.72 472.41L356.47 476.59A130.3 130.3 0 0 0 353.52 478.6Z" fill="#408ABC" />
<path d="M353.56 472.52A135.3 135.3 0 0 1 356.68 470.51L359.33 474.75A130.3 130.3 0 0 0 356.32 476.69Z" fill="#2079B4" />
<path d="M356.52 470.61A135.3 135.3 0 0 1 359.69 468.69L362.23 473A130.3 130.3 0 0 0 359.17 474.85Z" fill="#2078B4" />
<path d="M359.53 468.78A135.3 135.3 0 0 1 362.75 466.94L365.17 471.31A130.3 130.3 0 0 0 362.07 473.09Z" fill="#BED0DC" />
<path d="M362.58 467.03A135.3 135.3 0 0 1 365.85 465.27L368.16 469.71A130.3 130.3 0 0 0 365.01 471.4Z" fill="#3383B9" />
<path d="M365.68 465.36A135.3 135.3 0 0 1 368.99 463.69L371.19 468.18A130.3 130.3 0 0 0 368 469.79Z" fill="#5F9BC4" />
<path d="M368.82 463.77A135.3 135.3 0 0 1 372.18 462.19L374.25 466.74A130.3 130.3 0 0 0 371.02 468.26Z" fill="#3A87BB" />
<path d="M372.01 462.27A135.3 135.3 0 0 1 375.4 460.77L377.36 465.37A130.3 130.3 0 0 0 374.09 466.81Z" fill="#3182B8" />
<path d="M375.23 460.84A135.3 135.3 0 0 1 378.66 459.44L380.49 464.09A130.3 130.3 0 0 0 377.19 465.44Z" fill="#A3C1D5" />
<path d="M378.48 459.51A135.3 135.3 0 0 1 381.95 458.19L383.66 462.88A130.3 130.3 0 0 0 380.32 464.15Z" fill="#5897C2" />
<path d="M381.77 458.25A135.3 135.3 0 0 1 385.27 457.02L386.86 461.76A130.3 130.3 0 0 0 383.49 462.95Z" fill="#5093C0" />
<path d="M385.09 457.08A135.3 135.3 0 0 1 388.63 455.95L390.09 460.73A130.3 130.3 0 0 0 386.69 461.82Z" fill="#639EC5" />
<path d="M388.45 456A135.3 135.3 0 0 1 392 454.96L393.35 459.78A130.3 130.3 0 0 0 389.92 460.78Z" fill="#A0BFD4" />
<path d="M391.82 455.01A135.3 135.3 0 0 1 395.41 454.06L396.62 458.91A130.3 130.3 0 0 0 393.17 459.82Z" fill="#3E89BC" />
<path d="M395.23 454.1A135.3 135.3 0 0 1 398.83 453.25L399.92 458.13A130.3 130.3 0 0 0 396.45 458.95Z" fill="#4E92C0" />
<path d="M398.65 453.29A135.3 135.3 0 0 1 402.28 452.53L403.24 457.43A130.3 130.3 0 0 0 399.75 458.17Z" fill="#448CBD" />
<path d="M402.1 452.56A135.3 135.3 0 0 1 405.74 451.89L406.58 456.82A130.3 130.3 0 0 0 403.06 457.47Z" fill="#2C7FB7" />
<path d="M405.56 451.93A135.3 135.3 0 0 1 409.22 451.35L409.93 456.3A130.3 130.3 0 0 0 406.4 456.85Z" fill="#C0D1DD" />
<path d="M409.04 451.38A135.3 135.3 0 0 1 412.71 450.9L413.29 455.87A130.3 130.3 0 0 0 409.75 456.33Z" fill="#2B7FB7" />
<path d="M412.53 450.92A135.3 135.3 0 0 1 416.22 450.54L416.66 455.52A130.3 130.3 0 0 0 413.11 455.89Z" fill="#CFD9E0" />
<path d="M416.03 450.56A135.3 135.3 0 0 1 419.73 450.27L420.04 455.26A130.3 130.3 0 0 0 416.48 455.54Z" fill="#99BBD3" />
<path d="M419.54 450.28A135.3 135.3 0 0 1 423.24 450.09L423.43 455.09A130.3 130.3 0 0 0 419.86 455.27Z" fill="#3D89BC" />
<path d="M423.06 450.1A135.3 135.3 0 0 1 426.76 450.01L426.82 455.01A130.3 130.3 0 0 0 423.25 455.1Z" fill="#5093C0" />
<path d="M426.57 450.01A135.3 135.3 0 0 1 430.28 450.01L430.21 455.01A130.3 130.3 0 0 0 426.64 455.01Z" fill="#498FBE" />
<path d="M430.1 450.01A135.3 135.3 0 0 1 433.8 450.11L433.6 455.11A130.3 130.3 0 0 0 430.03 455.01Z" fill="#2E80B8" />
<path d="M433.62 450.1A135.3 135.3 0 0 1 437.32 450.3L436.99 455.29A130.3 130.3 0 0 0 433.42 455.1Z" fill="#70A5C8" />
<path d="M437.13 450.29A135.3 135.3 0 0 1 440.83 450.58L440.37 455.56A130.3 130.3 0 0 0 436.8 455.28Z" fill="#3A87BB" />
<path d="M440.64 450.56A135.3 135.3 0 0 1 444.33 450.95L443.74 455.92A130.3 130.3 0 0 0 440.18 455.54Z" fill="#D6DDE2" />
<path d="M444.14 450.93A135.3 135.3 0 0 1 447.82 451.42L447.1 456.36A130.3 130.3 0 0 0 443.56 455.9Z" fill="#5C9AC3" />
<path d="M447.63 451.39A135.3 135.3 0 0 1 451.3 451.97L450.45 456.9A130.3 130.3 0 0 0 446.92 456.34Z" fill="#3886BA" />
<path d="M451.11 451.94A135.3 135.3 0 0 1 454.76 452.61L453.78 457.52A130.3 130.3 0 0 0 450.27 456.87Z" fill="#85B0CE" />
<path d="M454.57 452.58A135.3 135.3 0 0 1 458.2 453.35L457.1 458.22A130.3 130.3 0 0 0 453.6 457.48Z" fill="#CDD8E0" />
<path d="M458.02 453.3A135.3 135.3 0 0 1 461.63 454.17L460.39 459.01A130.3 130.3 0 0 0 456.92 458.18Z" fill="#629DC5" />
<path d="M461.44 454.12A135.3 135.3 0 0 1 465.03 455.08L463.67 459.89A130.3 130.3 0 0 0 460.22 458.97Z" fill="#DEE2E4" />
<path d="M464.84 455.03A135.3 135.3 0 0 1 468.4 456.08L466.92 460.86A130.3 130.3 0 0 0 463.49 459.84Z" fill="#4E92C0" />
<path d="M468.22 456.02A135.3 135.3 0 0 1 471.75 457.17L470.15 461.9A130.3 130.3 0 0 0 466.75 460.8Z" fill="#D9DFE3" />
<path d="M471.57 457.11A135.3 135.3 0 0 1 475.07 458.34L473.34 463.03A130.3 130.3 0 0 0 469.97 461.84Z" fill="#3484B9" />
<path d="M474.89 458.28A135.3 135.3 0 0 1 478.36 459.6L476.51 464.25A130.3 130.3 0 0 0 473.17 462.97Z" fill="#5998C3" />
<path d="M478.18 459.53A135.3 135.3 0 0 1 481.61 460.95L479.64 465.54A130.3 130.3 0 0 0 476.34 464.18Z" fill="#227AB5" />
<path d="M481.44 460.87A135.3 135.3 0 0 1 484.83 462.38L482.74 466.92A130.3 130.3 0 0 0 479.47 465.47Z" fill="#3F89BC" />
<path d="M484.66 462.3A135.3 135.3 0 0 1 488.01 463.89L485.8 468.37A130.3 130.3 0 0 0 482.57 466.84Z" fill="#4C91BF" />
<path d="M487.84 463.8A135.3 135.3 0 0 1 491.15 465.48L488.83 469.91A130.3 130.3 0 0 0 485.64 468.29Z" fill="#1F78B4" />
<path d="M490.98 465.39A135.3 135.3 0 0 1 494.24 467.16L491.81 471.52A130.3 130.3 0 0 0 488.66 469.83Z" fill="#639EC5" />
<path d="M494.08 467.07A135.3 135.3 0 0 1 497.3 468.91L494.75 473.22A130.3 130.3 0 0 0 491.65 471.44Z" fill="#9EBED4" />
<path d="M497.13 468.82A135.3 135.3 0 0 1 500.3 470.75L497.64 474.98A130.3 130.3 0 0 0 494.59 473.12Z" fill="#4B90BF" />
<path d="M500.14 470.65A135.3 135.3 0 0 1 503.26 472.66L500.49 476.82A130.3 130.3 0 0 0 497.49 474.89Z" fill="#4D91BF" />
<path d="M503.1 472.56A135.3 135.3 0 0 1 506.16 474.65L503.28 478.74A130.3 130.3 0 0 0 500.34 476.72Z" fill="#E5E5E6" />
<path d="M506.01 474.54A135.3 135.3 0 0 1 509.01 476.71L506.03 480.73A130.3 130.3 0 0 0 503.14 478.63Z" fill="#408ABC" />
<path d="M508.86 476.6A135.3 135.3 0 0 1 511.81 478.85L508.73 482.78A130.3 130.3 0 0 0 505.89 480.62Z" fill="#B4CBDA" />
<path d="M511.66 478.73A135.3 135.3 0 0 1 514.55 481.06L511.37 484.91A130.3 130.3 0 0 0 508.58 482.67Z" fill="#5093C0" />
<path d="M514.41 480.94A135.3 135.3 0 0 1 517.24 483.34L513.95 487.11A130.3 130.3 0 0 0 511.23 484.8Z" fill="#6AA1C7" />
<path d="M517.1 483.21A135.3 135.3 0 0 1 519.86 485.69L516.48 489.37A130.3 130.3 0 0 0 513.81 486.99Z" fill="#428CBD" />
<path d="M519.72 485.56A135.3 135.3 0 0 1 522.42 488.1L518.94 491.7A130.3 130.3 0 0 0 516.34 489.25Z" fill="#70A5C8" />
<path d="M522.29 487.97A135.3 135.3 0 0 1 524.92 490.59L521.35 494.09A130.3 130.3 0 0 0 518.81 491.57Z" fill="#2C7FB7" />
<path d="M524.79 490.45A135.3 135.3 0 0 1 527.35 493.13L523.69 496.54A130.3 130.3 0 0 0 521.22 493.96Z" fill="#9BBDD3" />
<path d="M527.22 492.99A135.3 135.3 0 0 1 529.72 495.74L525.97 499.05A130.3 130.3 0 0 0 523.57 496.4Z" fill="#2179B4" />
<path d="M529.59 495.6A135.3 135.3 0 0 1 532.01 498.41L528.18 501.62A130.3 130.3 0 0 0 525.85 498.91Z" fill="#7AAACB" />
<path d="M531.89 498.26A135.3 135.3 0 0 1 534.24 501.14L530.32 504.25A130.3 130.3 0 0 0 528.06 501.48Z" fill="#4E92C0" />
<path d="M534.12 500.99A135.3 135.3 0 0 1 536.39 503.92L532.4 506.93A130.3 130.3 0 0 0 530.21 504.1Z" fill="#3A87BB" />
<path d="M536.28 503.77A135.3 135.3 0 0 1 538.47 506.76L534.4 509.66A130.3 130.3 0 0 0 532.29 506.78Z" fill="#68A0C6" />
<path d="M538.36 506.61A135.3 135.3 0 0 1 540.48 509.65L536.33 512.45A130.3 130.3 0 0 0 534.29 509.52Z" fill="#609CC4" />
<path d="M540.37 509.5A135.3 135.3 0 0 1 542.41 512.6L538.19 515.29A130.3 130.3 0 0 0 536.23 512.3Z" fill="#297EB7" />
<path d="M542.31 512.44A135.3 135.3 0 0 1 544.26 515.59L539.98 518.17A130.3 130.3 0 0 0 538.09 515.13Z" fill="#659FC6" />
<path d="M544.16 515.43A135.3 135.3 0 0 1 546.04 518.63L541.68 521.1A130.3 130.3 0 0 0 539.88 518.01Z" fill="#4D92C0" />
</g>
<path d="M558.59 583.94A130.3 130.3 0 1 1 541.6 520.94" fill="none" stroke="#999" stroke-width="0.55"/>
<path d="M563.59 583.88A135.3 135.3 0 1 1 545.94 518.47" fill="none" stroke="#999" stroke-width="0.55"/>
<g stroke="none">
<path d="M568.89 583.83A140.6 140.6 0 0 1 568.88 587.68L564.28 587.6A136 136 0 0 0 564.29 583.88Z" fill="#EFEDEB" />
<path d="M568.88 587.49A140.6 140.6 0 0 1 568.77 591.34L564.17 591.14A136 136 0 0 0 564.28 587.41Z" fill="#EFEDEB" />
<path d="M568.78 591.14A140.6 140.6 0 0 1 568.57 594.99L563.98 594.68A136 136 0 0 0 564.18 590.95Z" fill="#E4D2C7" />
<path d="M568.58 594.8A140.6 140.6 0 0 1 568.27 598.64L563.69 598.2A136 136 0 0 0 563.99 594.49Z" fill="#EEEBE9" />
<path d="M568.28 598.44A140.6 140.6 0 0 1 567.87 602.28L563.31 601.72A136 136 0 0 0 563.7 598.01Z" fill="#EFEDEB" />
<path d="M567.89 602.08A140.6 140.6 0 0 1 567.38 605.9L562.83 605.23A136 136 0 0 0 563.33 601.53Z" fill="#EFEDEB" />
<path d="M567.41 605.71A140.6 140.6 0 0 1 566.8 609.51L562.27 608.72A136 136 0 0 0 562.86 605.04Z" fill="#EEECE9" />
<path d="M566.83 609.32A140.6 140.6 0 0 1 566.12 613.11L561.61 612.2A136 136 0 0 0 562.3 608.53Z" fill="#EFEDEB" />
<path d="M566.16 612.92A140.6 140.6 0 0 1 565.35 616.69L560.87 615.66A136 136 0 0 0 561.65 612.01Z" fill="#EEEBE8" />
<path d="M565.4 616.49A140.6 140.6 0 0 1 564.49 620.24L560.03 619.1A136 136 0 0 0 560.91 615.47Z" fill="#EDE9E5" />
<path d="M564.54 620.05A140.6 140.6 0 0 1 563.53 623.77L559.11 622.51A136 136 0 0 0 560.08 618.91Z" fill="#BC7249" />
<path d="M563.59 623.58A140.6 140.6 0 0 1 562.49 627.28L558.1 625.91A136 136 0 0 0 559.16 622.33Z" fill="#EFECEA" />
<path d="M562.55 627.09A140.6 140.6 0 0 1 561.35 630.76L557 629.27A136 136 0 0 0 558.15 625.72Z" fill="#EBE3DD" />
<path d="M561.41 630.57A140.6 140.6 0 0 1 560.12 634.2L555.81 632.6A136 136 0 0 0 557.06 629.09Z" fill="#EFEDEA" />
<path d="M560.19 634.02A140.6 140.6 0 0 1 558.8 637.62L554.53 635.9A136 136 0 0 0 555.87 632.43Z" fill="#EFECEA" />
<path d="M558.88 637.43A140.6 140.6 0 0 1 557.4 640.99L553.18 639.17A136 136 0 0 0 554.61 635.73Z" fill="#EFEDEB" />
<path d="M557.48 640.81A140.6 140.6 0 0 1 555.91 644.33L551.73 642.4A136 136 0 0 0 553.25 639Z" fill="#EFEDEB" />
<path d="M555.99 644.16A140.6 140.6 0 0 1 554.33 647.64L550.2 645.6A136 136 0 0 0 551.81 642.23Z" fill="#EFECEA" />
<path d="M554.41 647.46A140.6 140.6 0 0 1 552.66 650.89L548.59 648.75A136 136 0 0 0 550.29 645.43Z" fill="#EEEAE6" />
<path d="M552.75 650.72A140.6 140.6 0 0 1 550.91 654.11L546.9 651.86A136 136 0 0 0 548.68 648.58Z" fill="#ECE5E0" />
<path d="M551.01 653.94A140.6 140.6 0 0 1 549.08 657.27L545.13 654.92A136 136 0 0 0 546.99 651.69Z" fill="#EFECEA" />
<path d="M549.18 657.11A140.6 140.6 0 0 1 547.17 660.39L543.28 657.94A136 136 0 0 0 545.23 654.76Z" fill="#EFECEA" />
<path d="M547.27 660.23A140.6 140.6 0 0 1 545.17 663.46L541.35 660.9A136 136 0 0 0 543.38 657.77Z" fill="#DFC7B9" />
<path d="M545.28 663.3A140.6 140.6 0 0 1 543.1 666.47L539.34 663.82A136 136 0 0 0 541.46 660.74Z" fill="#E6D8D0" />
<path d="M543.21 666.31A140.6 140.6 0 0 1 540.95 669.43L537.26 666.68A136 136 0 0 0 539.45 663.66Z" fill="#ECE5E0" />
<path d="M541.07 669.28A140.6 140.6 0 0 1 538.72 672.34L535.11 669.49A136 136 0 0 0 537.38 666.53Z" fill="#EFEDEB" />
<path d="M538.84 672.18A140.6 140.6 0 0 1 536.42 675.18L532.88 672.24A136 136 0 0 0 535.23 669.34Z" fill="#EFECEA" />
<path d="M536.55 675.03A140.6 140.6 0 0 1 534.04 677.96L530.59 674.93A136 136 0 0 0 533 672.09Z" fill="#E2CEC3" />
<path d="M534.17 677.82A140.6 140.6 0 0 1 531.6 680.68L528.22 677.56A136 136 0 0 0 530.71 674.79Z" fill="#EAE1DB" />
<path d="M531.73 680.54A140.6 140.6 0 0 1 529.08 683.34L525.78 680.13A136 136 0 0 0 528.35 677.42Z" fill="#EFEDEB" />
<path d="M529.22 683.2A140.6 140.6 0 0 1 526.5 685.93L523.28 682.64A136 136 0 0 0 525.92 679.99Z" fill="#EBE3DE" />
<path d="M526.64 685.79A140.6 140.6 0 0 1 523.84 688.45L520.72 685.07A136 136 0 0 0 523.42 682.5Z" fill="#E4D2C8" />
<path d="M523.99 688.32A140.6 140.6 0 0 1 521.13 690.9L518.09 687.44A136 136 0 0 0 520.86 684.94Z" fill="#E9DED7" />
<path d="M521.28 690.77A140.6 140.6 0 0 1 518.35 693.28L515.4 689.75A136 136 0 0 0 518.23 687.32Z" fill="#EFECEA" />
<path d="M518.5 693.15A140.6 140.6 0 0 1 515.51 695.59L512.66 691.98A136 136 0 0 0 515.55 689.62Z" fill="#EFEDEB" />
<path d="M515.66 695.46A140.6 140.6 0 0 1 512.61 697.82L509.85 694.14A136 136 0 0 0 512.8 691.86Z" fill="#EFECEA" />
<path d="M512.77 697.7A140.6 140.6 0 0 1 509.65 699.97L506.99 696.22A136 136 0 0 0 510 694.02Z" fill="#EFEDEB" />
<path d="M509.81 699.86A140.6 140.6 0 0 1 506.64 702.05L504.08 698.23A136 136 0 0 0 507.15 696.11Z" fill="#EFEDEB" />
<path d="M506.81 701.94A140.6 140.6 0 0 1 503.58 704.05L501.12 700.17A136 136 0 0 0 504.24 698.13Z" fill="#EDE8E4" />
<path d="M503.74 703.94A140.6 140.6 0 0 1 500.46 705.97L498.1 702.02A136 136 0 0 0 501.28 700.06Z" fill="#EFEDEB" />
<path d="M500.63 705.87A140.6 140.6 0 0 1 497.3 707.81L495.04 703.8A136 136 0 0 0 498.26 701.92Z" fill="#EFEDEB" />
<path d="M497.47 707.71A140.6 140.6 0 0 1 494.09 709.56L491.94 705.49A136 136 0 0 0 495.21 703.7Z" fill="#EEEAE6" />
<path d="M494.26 709.47A140.6 140.6 0 0 1 490.83 711.23L488.79 707.11A136 136 0 0 0 492.1 705.4Z" fill="#E5D6CD" />
<path d="M491.01 711.14A140.6 140.6 0 0 1 487.53 712.81L485.6 708.64A136 136 0 0 0 488.96 707.02Z" fill="#EEEBE8" />
<path d="M487.71 712.73A140.6 140.6 0 0 1 484.2 714.31L482.37 710.09A136 136 0 0 0 485.77 708.56Z" fill="#EFEDEB" />
<path d="M484.38 714.23A140.6 140.6 0 0 1 480.82 715.72L479.1 711.46A136 136 0 0 0 482.54 710.02Z" fill="#EEEAE7" />
<path d="M481 715.65A140.6 140.6 0 0 1 477.41 717.04L475.8 712.73A136 136 0 0 0 479.28 711.38Z" fill="#E9E0D9" />
<path d="M477.59 716.98A140.6 140.6 0 0 1 473.96 718.28L472.47 713.93A136 136 0 0 0 475.98 712.67Z" fill="#DBBCAB" />
<path d="M474.15 718.21A140.6 140.6 0 0 1 470.49 719.42L469.11 715.03A136 136 0 0 0 472.65 713.87Z" fill="#EFEDEB" />
<path d="M470.68 719.36A140.6 140.6 0 0 1 466.98 720.47L465.72 716.05A136 136 0 0 0 469.29 714.98Z" fill="#EFEDEA" />
<path d="M467.17 720.42A140.6 140.6 0 0 1 463.45 721.43L462.3 716.98A136 136 0 0 0 465.9 716Z" fill="#EBE4DF" />
<path d="M463.64 721.38A140.6 140.6 0 0 1 459.9 722.3L458.87 717.82A136 136 0 0 0 462.49 716.93Z" fill="#E8DDD6" />
<path d="M460.09 722.26A140.6 140.6 0 0 1 456.33 723.08L455.41 718.57A136 136 0 0 0 459.05 717.78Z" fill="#EEE9E6" />
<path d="M456.52 723.04A140.6 140.6 0 0 1 452.73 723.76L451.93 719.23A136 136 0 0 0 455.59 718.53Z" fill="#EEEBE8" />
<path d="M452.92 723.73A140.6 140.6 0 0 1 449.12 724.35L448.44 719.8A136 136 0 0 0 452.12 719.2Z" fill="#CC997D" />
<path d="M449.31 724.32A140.6 140.6 0 0 1 445.49 724.84L444.93 720.28A136 136 0 0 0 448.63 719.77Z" fill="#EFEDEB" />
<path d="M445.69 724.82A140.6 140.6 0 0 1 441.86 725.24L441.41 720.67A136 136 0 0 0 445.12 720.26Z" fill="#EFEDEB" />
<path d="M442.05 725.23A140.6 140.6 0 0 1 438.21 725.55L437.89 720.96A136 136 0 0 0 441.6 720.65Z" fill="#E4D2C8" />
<path d="M438.41 725.54A140.6 140.6 0 0 1 434.56 725.76L434.35 721.17A136 136 0 0 0 438.08 720.95Z" fill="#EFEDEB" />
<path d="M434.76 725.75A140.6 140.6 0 0 1 430.9 725.88L430.82 721.28A136 136 0 0 0 434.54 721.16Z" fill="#C38461" />
<path d="M431.1 725.87A140.6 140.6 0 0 1 427.24 725.9L427.28 721.3A136 136 0 0 0 431.01 721.27Z" fill="#EFEDEB" />
<path d="M427.44 725.9A140.6 140.6 0 0 1 423.59 725.82L423.74 721.22A136 136 0 0 0 427.47 721.3Z" fill="#EFEDEB" />
<path d="M423.78 725.83A140.6 140.6 0 0 1 419.93 725.65L420.2 721.06A136 136 0 0 0 423.93 721.23Z" fill="#EEEBE8" />
<path d="M420.13 725.66A140.6 140.6 0 0 1 416.28 725.39L416.68 720.8A136 136 0 0 0 420.39 721.07Z" fill="#EEEAE7" />
<path d="M416.48 725.4A140.6 140.6 0 0 1 412.64 725.03L413.15 720.45A136 136 0 0 0 416.86 720.82Z" fill="#EFEDEB" />
<path d="M412.84 725.05A140.6 140.6 0 0 1 409.01 724.57L409.64 720.01A136 136 0 0 0 413.34 720.47Z" fill="#EFEDEB" />
<path d="M409.21 724.6A140.6 140.6 0 0 1 405.39 724.02L406.14 719.48A136 136 0 0 0 409.83 720.04Z" fill="#EFEDEB" />
<path d="M405.59 724.05A140.6 140.6 0 0 1 401.79 723.38L402.66 718.86A136 136 0 0 0 406.33 719.51Z" fill="#E6D6CD" />
<path d="M401.98 723.42A140.6 140.6 0 0 1 398.21 722.64L399.19 718.15A136 136 0 0 0 402.85 718.9Z" fill="#EFEDEB" />
<path d="M398.4 722.68A140.6 140.6 0 0 1 394.64 721.81L395.75 717.35A136 136 0 0 0 399.38 718.19Z" fill="#EFEDEB" />
<path d="M394.84 721.86A140.6 140.6 0 0 1 391.1 720.89L392.32 716.45A136 136 0 0 0 395.93 717.39Z" fill="#EEEBE9" />
<path d="M391.29 720.94A140.6 140.6 0 0 1 387.59 719.88L388.92 715.47A136 136 0 0 0 392.5 716.5Z" fill="#EDE9E6" />
<path d="M387.78 719.93A140.6 140.6 0 0 1 384.1 718.77L385.55 714.41A136 136 0 0 0 389.1 715.53Z" fill="#E0CABD" />
<path d="M384.29 718.83A140.6 140.6 0 0 1 380.64 717.58L382.2 713.25A136 136 0 0 0 385.73 714.46Z" fill="#EFEDEB" />
<path d="M380.83 717.64A140.6 140.6 0 0 1 377.22 716.29L378.89 712.01A136 136 0 0 0 382.38 713.31Z" fill="#EFEDEB" />
<path d="M377.4 716.36A140.6 140.6 0 0 1 373.83 714.92L375.61 710.68A136 136 0 0 0 379.07 712.08Z" fill="#EFEDEB" />
<path d="M374.01 714.99A140.6 140.6 0 0 1 370.47 713.46L372.36 709.26A136 136 0 0 0 375.78 710.75Z" fill="#EFEDEB" />
<path d="M370.65 713.54A140.6 140.6 0 0 1 367.16 711.91L369.16 707.77A136 136 0 0 0 372.54 709.34Z" fill="#EFEDEB" />
<path d="M367.33 711.99A140.6 140.6 0 0 1 363.88 710.28L365.99 706.19A136 136 0 0 0 369.33 707.85Z" fill="#E0C9BC" />
<path d="M364.06 710.37A140.6 140.6 0 0 1 360.65 708.56L362.87 704.52A136 136 0 0 0 366.16 706.27Z" fill="#EFEDEB" />
<path d="M360.83 708.65A140.6 140.6 0 0 1 357.47 706.75L359.79 702.78A136 136 0 0 0 363.03 704.62Z" fill="#EFECEA" />
<path d="M357.64 706.85A140.6 140.6 0 0 1 354.33 704.87L356.75 700.96A136 136 0 0 0 359.95 702.88Z" fill="#E9DED7" />
<path d="M354.5 704.97A140.6 140.6 0 0 1 351.25 702.91L353.77 699.06A136 136 0 0 0 356.91 701.06Z" fill="#EFEDEB" />
<path d="M351.41 703.01A140.6 140.6 0 0 1 348.21 700.86L350.83 697.08A136 136 0 0 0 353.93 699.16Z" fill="#EFEDEB" />
<path d="M348.37 700.97A140.6 140.6 0 0 1 345.23 698.74L347.95 695.03A136 136 0 0 0 350.99 697.19Z" fill="#EAE1DB" />
<path d="M345.39 698.85A140.6 140.6 0 0 1 342.31 696.54L345.12 692.9A136 136 0 0 0 348.1 695.14Z" fill="#EFEDEB" />
<path d="M342.46 696.66A140.6 140.6 0 0 1 339.44 694.26L342.35 690.7A136 136 0 0 0 345.27 693.01Z" fill="#EBE4DF" />
<path d="M339.6 694.39A140.6 140.6 0 0 1 336.64 691.91L339.64 688.43A136 136 0 0 0 342.5 690.82Z" fill="#EBE4E0" />
<path d="M336.79 692.04A140.6 140.6 0 0 1 333.9 689.49L336.98 686.08A136 136 0 0 0 339.78 688.55Z" fill="#EFEDEB" />
<path d="M334.04 689.62A140.6 140.6 0 0 1 331.22 687L334.39 683.67A136 136 0 0 0 337.13 686.21Z" fill="#EFEDEB" />
<path d="M331.36 687.14A140.6 140.6 0 0 1 328.6 684.44L331.87 681.2A136 136 0 0 0 334.53 683.81Z" fill="#EFEDEB" />
<path d="M328.74 684.58A140.6 140.6 0 0 1 326.06 681.81L329.4 678.66A136 136 0 0 0 332 681.33Z" fill="#EDE7E3" />
<path d="M326.19 681.96A140.6 140.6 0 0 1 323.58 679.12L327.01 676.05A136 136 0 0 0 329.53 678.79Z" fill="#ECE6E2" />
<path d="M323.71 679.27A140.6 140.6 0 0 1 321.18 676.36L324.68 673.38A136 136 0 0 0 327.13 676.19Z" fill="#EEECE9" />
<path d="M321.3 676.51A140.6 140.6 0 0 1 318.84 673.55L322.42 670.66A136 136 0 0 0 324.8 673.53Z" fill="#EAE1DB" />
<path d="M318.97 673.7A140.6 140.6 0 0 1 316.58 670.67L320.24 667.87A136 136 0 0 0 322.54 670.81Z" fill="#EFEDEB" />
<path d="M316.7 670.82A140.6 140.6 0 0 1 314.4 667.73L318.13 665.03A136 136 0 0 0 320.35 668.03Z" fill="#DDC3B4" />
<path d="M314.51 667.89A140.6 140.6 0 0 1 312.29 664.74L316.09 662.14A136 136 0 0 0 318.24 665.19Z" fill="#C68A69" />
<path d="M312.4 664.9A140.6 140.6 0 0 1 310.27 661.69L314.13 659.2A136 136 0 0 0 316.2 662.3Z" fill="#EFEDEB" />
<path d="M310.37 661.86A140.6 140.6 0 0 1 308.32 658.6L312.24 656.2A136 136 0 0 0 314.23 659.35Z" fill="#E0C8BA" />
<path d="M308.42 658.77A140.6 140.6 0 0 1 306.45 655.45L310.44 653.16A136 136 0 0 0 312.34 656.36Z" fill="#EFEDEB" />
<path d="M306.55 655.62A140.6 140.6 0 0 1 304.67 652.26L308.71 650.07A136 136 0 0 0 310.53 653.32Z" fill="#EFEDEB" />
<path d="M304.76 652.43A140.6 140.6 0 0 1 302.97 649.02L307.07 646.93A136 136 0 0 0 308.8 650.23Z" fill="#E3D0C5" />
<path d="M303.06 649.19A140.6 140.6 0 0 1 301.35 645.73L305.5 643.76A136 136 0 0 0 307.15 647.1Z" fill="#EDE7E3" />
<path d="M301.44 645.91A140.6 140.6 0 0 1 299.82 642.41L304.02 640.54A136 136 0 0 0 305.59 643.93Z" fill="#DCBFAF" />
<path d="M299.9 642.59A140.6 140.6 0 0 1 298.38 639.05L302.63 637.29A136 136 0 0 0 304.1 640.72Z" fill="#E7DBD3" />
<path d="M298.45 639.23A140.6 140.6 0 0 1 297.02 635.65L301.32 634A136 136 0 0 0 302.7 637.47Z" fill="#E6D8D0" />
<path d="M297.09 635.83A140.6 140.6 0 0 1 295.76 632.22L300.1 630.68A136 136 0 0 0 301.39 634.18Z" fill="#ECE6E1" />
<path d="M295.82 632.4A140.6 140.6 0 0 1 294.58 628.75L298.96 627.33A136 136 0 0 0 300.16 630.86Z" fill="#EFEDEB" />
<path d="M294.64 628.94A140.6 140.6 0 0 1 293.5 625.26L297.91 623.95A136 136 0 0 0 299.02 627.51Z" fill="#EEEAE7" />
<path d="M293.55 625.45A140.6 140.6 0 0 1 292.5 621.74L296.95 620.55A136 136 0 0 0 297.96 624.13Z" fill="#E3CFC4" />
<path d="M292.55 621.93A140.6 140.6 0 0 1 291.6 618.19L296.07 617.12A136 136 0 0 0 297 620.73Z" fill="#EFEDEB" />
<path d="M291.65 618.38A140.6 140.6 0 0 1 290.79 614.62L295.29 613.66A136 136 0 0 0 296.12 617.3Z" fill="#E1CCBF" />
<path d="M290.83 614.82A140.6 140.6 0 0 1 290.08 611.04L294.6 610.19A136 136 0 0 0 295.33 613.85Z" fill="#CC997C" />
<path d="M290.11 611.23A140.6 140.6 0 0 1 289.45 607.43L294 606.71A136 136 0 0 0 294.63 610.38Z" fill="#EDE7E3" />
<path d="M289.48 607.62A140.6 140.6 0 0 1 288.92 603.81L293.48 603.2A136 136 0 0 0 294.03 606.89Z" fill="#EDE7E3" />
<path d="M288.95 604A140.6 140.6 0 0 1 288.49 600.18L293.06 599.69A136 136 0 0 0 293.51 603.39Z" fill="#EFEDEB" />
<path d="M288.51 600.37A140.6 140.6 0 0 1 288.15 596.53L292.73 596.17A136 136 0 0 0 293.08 599.88Z" fill="#EFEDEB" />
<path d="M288.17 596.73A140.6 140.6 0 0 1 287.9 592.88L292.5 592.64A136 136 0 0 0 292.75 596.36Z" fill="#E8DDD6" />
<path d="M287.92 593.08A140.6 140.6 0 0 1 287.75 589.23L292.35 589.1A136 136 0 0 0 292.51 592.83Z" fill="#EFEDEB" />
<path d="M287.76 589.42A140.6 140.6 0 0 1 287.7 585.57L292.3 585.56A136 136 0 0 0 292.36 589.29Z" fill="#E2CFC3" />
<path d="M287.7 585.77A140.6 140.6 0 0 1 287.74 581.91L292.34 582.02A136 136 0 0 0 292.3 585.75Z" fill="#EFEDEB" />
<path d="M287.74 582.11A140.6 140.6 0 0 1 287.88 578.26L292.47 578.49A136 136 0 0 0 292.34 582.21Z" fill="#EFEDEB" />
<path d="M287.87 578.45A140.6 140.6 0 0 1 288.11 574.6L292.69 574.95A136 136 0 0 0 292.46 578.68Z" fill="#E7DAD2" />
<path d="M288.09 574.8A140.6 140.6 0 0 1 288.43 570.96L293.01 571.43A136 136 0 0 0 292.68 575.14Z" fill="#EEEAE7" />
<path d="M288.41 571.16A140.6 140.6 0 0 1 288.85 567.33L293.42 567.91A136 136 0 0 0 292.99 571.62Z" fill="#EEEAE7" />
<path d="M288.83 567.52A140.6 140.6 0 0 1 289.37 563.7L293.91 564.41A136 136 0 0 0 293.39 568.1Z" fill="#EFEDEB" />
<path d="M289.34 563.9A140.6 140.6 0 0 1 289.98 560.1L294.5 560.92A136 136 0 0 0 293.88 564.6Z" fill="#EBE3DE" />
<path d="M289.94 560.29A140.6 140.6 0 0 1 290.68 556.51L295.18 557.45A136 136 0 0 0 294.47 561.11Z" fill="#EFEDEB" />
<path d="M290.64 556.7A140.6 140.6 0 0 1 291.48 552.93L295.95 553.99A136 136 0 0 0 295.14 557.63Z" fill="#EFEDEB" />
<path d="M291.43 553.12A140.6 140.6 0 0 1 292.36 549.38L296.81 550.56A136 136 0 0 0 295.91 554.18Z" fill="#EFEDEB" />
<path d="M292.31 549.57A140.6 140.6 0 0 1 293.35 545.86L297.76 547.15A136 136 0 0 0 296.76 550.74Z" fill="#EFEDEB" />
<path d="M293.29 546.05A140.6 140.6 0 0 1 294.42 542.36L298.8 543.77A136 136 0 0 0 297.71 547.33Z" fill="#DEC3B4" />
<path d="M294.36 542.55A140.6 140.6 0 0 1 295.58 538.89L299.92 540.41A136 136 0 0 0 298.74 543.95Z" fill="#E7D9D1" />
<path d="M295.51 539.08A140.6 140.6 0 0 1 296.83 535.46L301.13 537.09A136 136 0 0 0 299.86 540.59Z" fill="#EFEDEB" />
<path d="M296.76 535.64A140.6 140.6 0 0 1 298.17 532.05L302.43 533.79A136 136 0 0 0 301.07 537.26Z" fill="#EFEDEB" />
<path d="M298.1 532.23A140.6 140.6 0 0 1 299.6 528.68L303.81 530.54A136 136 0 0 0 302.36 533.97Z" fill="#EFEDEB" />
<path d="M299.52 528.86A140.6 140.6 0 0 1 301.12 525.35L305.28 527.32A136 136 0 0 0 303.74 530.71Z" fill="#EEECE9" />
<path d="M301.04 525.53A140.6 140.6 0 0 1 302.72 522.06L306.83 524.13A136 136 0 0 0 305.2 527.49Z" fill="#E6D8CF" />
<path d="M302.63 522.24A140.6 140.6 0 0 1 304.41 518.82L308.46 520.99A136 136 0 0 0 306.75 524.3Z" fill="#E8DDD6" />
<path d="M304.32 518.99A140.6 140.6 0 0 1 306.18 515.62L310.18 517.9A136 136 0 0 0 308.37 521.16Z" fill="#EFEDEB" />
<path d="M306.09 515.79A140.6 140.6 0 0 1 308.04 512.46L311.97 514.85A136 136 0 0 0 310.08 518.06Z" fill="#EBE3DE" />
<path d="M307.94 512.63A140.6 140.6 0 0 1 309.97 509.36L313.84 511.84A136 136 0 0 0 311.87 515.01Z" fill="#EFEDEB" />
<path d="M309.87 509.52A140.6 140.6 0 0 1 311.99 506.31L315.79 508.89A136 136 0 0 0 313.74 512Z" fill="#EFECEA" />
<path d="M311.88 506.47A140.6 140.6 0 0 1 314.08 503.31L317.82 505.99A136 136 0 0 0 315.69 509.05Z" fill="#EFEDEB" />
<path d="M313.97 503.47A140.6 140.6 0 0 1 316.26 500.36L319.92 503.14A136 136 0 0 0 317.71 506.14Z" fill="#EFEDEB" />
<path d="M316.14 500.52A140.6 140.6 0 0 1 318.5 497.48L322.1 500.35A136 136 0 0 0 319.81 503.29Z" fill="#EFEDEB" />
<path d="M318.38 497.63A140.6 140.6 0 0 1 320.83 494.65L324.34 497.61A136 136 0 0 0 321.98 500.5Z" fill="#EFEDEB" />
<path d="M320.7 494.8A140.6 140.6 0 0 1 323.22 491.88L326.66 494.94A136 136 0 0 0 324.22 497.76Z" fill="#ECE7E3" />
<path d="M323.09 492.03A140.6 140.6 0 0 1 325.69 489.18L329.04 492.33A136 136 0 0 0 326.53 495.08Z" fill="#EFEDEB" />
<path d="M325.55 489.32A140.6 140.6 0 0 1 328.22 486.54L331.5 489.77A136 136 0 0 0 328.91 492.46Z" fill="#EFEDEB" />
<path d="M328.09 486.68A140.6 140.6 0 0 1 330.83 483.97L334.02 487.29A136 136 0 0 0 331.36 489.91Z" fill="#EDE7E3" />
<path d="M330.69 484.11A140.6 140.6 0 0 1 333.5 481.47L336.6 484.87A136 136 0 0 0 333.88 487.42Z" fill="#EEEAE7" />
<path d="M333.35 481.6A140.6 140.6 0 0 1 336.23 479.04L339.24 482.52A136 136 0 0 0 336.46 485Z" fill="#EFEDEB" />
<path d="M336.08 479.17A140.6 140.6 0 0 1 339.03 476.68L341.95 480.23A136 136 0 0 0 339.1 482.64Z" fill="#E4D3C9" />
<path d="M338.87 476.8A140.6 140.6 0 0 1 341.88 474.39L344.71 478.02A136 136 0 0 0 341.8 480.35Z" fill="#C78E6E" />
<path d="M341.73 474.51A140.6 140.6 0 0 1 344.8 472.18L347.53 475.88A136 136 0 0 0 344.56 478.14Z" fill="#EFEDEB" />
<path d="M344.64 472.3A140.6 140.6 0 0 1 347.77 470.05L350.4 473.82A136 136 0 0 0 347.38 476Z" fill="#EFECEA" />
<path d="M347.61 470.16A140.6 140.6 0 0 1 350.8 467.99L353.33 471.83A136 136 0 0 0 350.25 473.93Z" fill="#E5D4CA" />
<path d="M350.63 468.1A140.6 140.6 0 0 1 353.87 466.01L356.31 469.92A136 136 0 0 0 353.17 471.93Z" fill="#EFEDEA" />
<path d="M353.71 466.12A140.6 140.6 0 0 1 357 464.12L359.34 468.08A136 136 0 0 0 356.15 470.02Z" fill="#EBE3DE" />
<path d="M356.83 464.22A140.6 140.6 0 0 1 360.18 462.3L362.41 466.33A136 136 0 0 0 359.17 468.18Z" fill="#EDE9E6" />
<path d="M360.01 462.4A140.6 140.6 0 0 1 363.4 460.57L365.53 464.65A136 136 0 0 0 362.24 466.42Z" fill="#EFEDEB" />
<path d="M363.23 460.66A140.6 140.6 0 0 1 366.67 458.93L368.69 463.06A136 136 0 0 0 365.36 464.74Z" fill="#E7DAD2" />
<path d="M366.49 459.01A140.6 140.6 0 0 1 369.98 457.37L371.89 461.55A136 136 0 0 0 368.52 463.14Z" fill="#EBE4E0" />
<path d="M369.8 457.45A140.6 140.6 0 0 1 373.33 455.89L375.13 460.13A136 136 0 0 0 371.71 461.63Z" fill="#EFEDEB" />
<path d="M373.15 455.97A140.6 140.6 0 0 1 376.71 454.51L378.4 458.78A136 136 0 0 0 374.95 460.2Z" fill="#EEEBE8" />
<path d="M376.53 454.58A140.6 140.6 0 0 1 380.13 453.21L381.71 457.53A136 136 0 0 0 378.23 458.85Z" fill="#EFECEA" />
<path d="M379.95 453.27A140.6 140.6 0 0 1 383.59 452L385.05 456.36A136 136 0 0 0 381.53 457.59Z" fill="#EFEDEB" />
<path d="M383.4 452.06A140.6 140.6 0 0 1 387.07 450.88L388.42 455.28A136 136 0 0 0 384.87 456.42Z" fill="#EFEDEB" />
<path d="M386.88 450.94A140.6 140.6 0 0 1 390.58 449.85L391.82 454.28A136 136 0 0 0 388.24 455.33Z" fill="#E7DAD2" />
<path d="M390.39 449.91A140.6 140.6 0 0 1 394.12 448.92L395.24 453.38A136 136 0 0 0 391.63 454.34Z" fill="#EFEDEB" />
<path d="M393.93 448.97A140.6 140.6 0 0 1 397.68 448.07L398.68 452.56A136 136 0 0 0 395.05 453.43Z" fill="#EFEDEB" />
<path d="M397.49 448.12A140.6 140.6 0 0 1 401.26 447.32L402.15 451.84A136 136 0 0 0 398.5 452.61Z" fill="#EFEDEB" />
<path d="M401.07 447.36A140.6 140.6 0 0 1 404.86 446.67L405.63 451.2A136 136 0 0 0 401.96 451.88Z" fill="#EFEDEB" />
<path d="M404.67 446.7A140.6 140.6 0 0 1 408.48 446.1L409.12 450.66A136 136 0 0 0 405.44 451.23Z" fill="#ECE5E1" />
<path d="M408.28 446.13A140.6 140.6 0 0 1 412.1 445.64L412.63 450.21A136 136 0 0 0 408.94 450.69Z" fill="#DEC4B5" />
<path d="M411.91 445.66A140.6 140.6 0 0 1 415.74 445.26L416.15 449.84A136 136 0 0 0 412.45 450.23Z" fill="#EFEDEB" />
<path d="M415.55 445.28A140.6 140.6 0 0 1 419.39 444.98L419.68 449.57A136 136 0 0 0 415.97 449.86Z" fill="#EAE0DA" />
<path d="M419.2 445A140.6 140.6 0 0 1 423.05 444.8L423.22 449.39A136 136 0 0 0 419.49 449.59Z" fill="#EFEDEB" />
<path d="M422.85 444.81A140.6 140.6 0 0 1 426.7 444.71L426.76 449.31A136 136 0 0 0 423.03 449.4Z" fill="#EEEAE6" />
<path d="M426.51 444.71A140.6 140.6 0 0 1 430.36 444.72L430.29 449.31A136 136 0 0 0 426.57 449.31Z" fill="#EFEDEB" />
<path d="M430.17 444.71A140.6 140.6 0 0 1 434.02 444.82L433.83 449.41A136 136 0 0 0 430.1 449.31Z" fill="#EFEDEB" />
<path d="M433.82 444.81A140.6 140.6 0 0 1 437.67 445.01L437.37 449.6A136 136 0 0 0 433.64 449.4Z" fill="#EAE0DA" />
<path d="M437.48 445A140.6 140.6 0 0 1 441.32 445.3L440.89 449.88A136 136 0 0 0 437.18 449.59Z" fill="#EFECEA" />
<path d="M441.12 445.29A140.6 140.6 0 0 1 444.96 445.69L444.41 450.26A136 136 0 0 0 440.7 449.87Z" fill="#EFECEA" />
<path d="M444.76 445.67A140.6 140.6 0 0 1 448.59 446.17L447.92 450.72A136 136 0 0 0 444.22 450.24Z" fill="#EEEAE8" />
<path d="M448.39 446.14A140.6 140.6 0 0 1 452.2 446.75L451.42 451.28A136 136 0 0 0 447.73 450.7Z" fill="#EBE4E0" />
<path d="M452 446.71A140.6 140.6 0 0 1 455.8 447.41L454.9 451.93A136 136 0 0 0 451.23 451.25Z" fill="#EFEDEB" />
<path d="M455.6 447.38A140.6 140.6 0 0 1 459.37 448.18L458.36 452.66A136 136 0 0 0 454.71 451.89Z" fill="#EBE4DF" />
<path d="M459.18 448.13A140.6 140.6 0 0 1 462.93 449.03L461.8 453.49A136 136 0 0 0 458.17 452.62Z" fill="#EFEDEB" />
<path d="M462.74 448.98A140.6 140.6 0 0 1 466.47 449.98L465.22 454.41A136 136 0 0 0 461.61 453.44Z" fill="#E5D5CB" />
<path d="M466.28 449.93A140.6 140.6 0 0 1 469.97 451.02L468.61 455.41A136 136 0 0 0 465.03 454.35Z" fill="#ECE7E3" />
<path d="M469.79 450.96A140.6 140.6 0 0 1 473.45 452.15L471.98 456.5A136 136 0 0 0 468.43 455.35Z" fill="#EDE8E4" />
<path d="M473.27 452.08A140.6 140.6 0 0 1 476.9 453.37L475.31 457.68A136 136 0 0 0 471.8 456.44Z" fill="#EFEDEA" />
<path d="M476.72 453.3A140.6 140.6 0 0 1 480.32 454.68L478.62 458.95A136 136 0 0 0 475.13 457.62Z" fill="#EEEAE7" />
<path d="M480.14 454.6A140.6 140.6 0 0 1 483.7 456.07L481.89 460.3A136 136 0 0 0 478.44 458.88Z" fill="#EFEDEB" />
<path d="M483.52 456A140.6 140.6 0 0 1 487.04 457.56L485.12 461.74A136 136 0 0 0 481.71 460.23Z" fill="#ECE6E2" />
<path d="M486.87 457.48A140.6 140.6 0 0 1 490.35 459.13L488.32 463.26A136 136 0 0 0 484.95 461.66Z" fill="#EFEDEB" />
<path d="M490.17 459.05A140.6 140.6 0 0 1 493.61 460.79L491.47 464.86A136 136 0 0 0 488.15 463.18Z" fill="#EFEDEA" />
<path d="M493.44 460.7A140.6 140.6 0 0 1 496.83 462.53L494.59 466.55A136 136 0 0 0 491.3 464.77Z" fill="#EFEDEB" />
<path d="M496.66 462.43A140.6 140.6 0 0 1 500 464.35L497.65 468.31A136 136 0 0 0 494.42 466.45Z" fill="#E1CBBF" />
<path d="M499.83 464.25A140.6 140.6 0 0 1 503.12 466.26L500.67 470.16A136 136 0 0 0 497.49 468.22Z" fill="#EDE9E6" />
<path d="M502.95 466.16A140.6 140.6 0 0 1 506.19 468.25L503.64 472.08A136 136 0 0 0 500.51 470.06Z" fill="#EFEDEB" />
<path d="M506.03 468.14A140.6 140.6 0 0 1 509.21 470.31L506.57 474.08A136 136 0 0 0 503.49 471.97Z" fill="#DCC1B1" />
<path d="M509.05 470.2A140.6 140.6 0 0 1 512.18 472.46L509.43 476.15A136 136 0 0 0 506.41 473.97Z" fill="#EEECE9" />
<path d="M512.02 472.34A140.6 140.6 0 0 1 515.08 474.68L512.25 478.3A136 136 0 0 0 509.28 476.04Z" fill="#EAE1DB" />
<path d="M514.93 474.56A140.6 140.6 0 0 1 517.93 476.98L515 480.52A136 136 0 0 0 512.1 478.18Z" fill="#EFECEA" />
<path d="M517.78 476.85A140.6 140.6 0 0 1 520.72 479.34L517.7 482.81A136 136 0 0 0 514.85 480.4Z" fill="#EEEBE9" />
<path d="M520.57 479.22A140.6 140.6 0 0 1 523.45 481.78L520.33 485.17A136 136 0 0 0 517.55 482.69Z" fill="#ECE6E2" />
<path d="M523.3 481.65A140.6 140.6 0 0 1 526.11 484.3L522.91 487.6A136 136 0 0 0 520.19 485.04Z" fill="#EEE9E6" />
<path d="M525.97 484.16A140.6 140.6 0 0 1 528.7 486.87L525.42 490.1A136 136 0 0 0 522.77 487.47Z" fill="#EFECEA" />
<path d="M528.57 486.73A140.6 140.6 0 0 1 531.23 489.52L527.86 492.65A136 136 0 0 0 525.29 489.96Z" fill="#DFC7B9" />
<path d="M531.1 489.38A140.6 140.6 0 0 1 533.69 492.23L530.24 495.28A136 136 0 0 0 527.73 492.52Z" fill="#EDE8E4" />
<path d="M533.56 492.08A140.6 140.6 0 0 1 536.07 495.01L532.55 497.96A136 136 0 0 0 530.11 495.13Z" fill="#EBE3DE" />
<path d="M535.95 494.85A140.6 140.6 0 0 1 538.39 497.84L534.79 500.7A136 136 0 0 0 532.43 497.81Z" fill="#DBBEAD" />
<path d="M538.26 497.69A140.6 140.6 0 0 1 540.63 500.73L536.95 503.5A136 136 0 0 0 534.67 500.55Z" fill="#EFEDEB" />
<path d="M540.51 500.58A140.6 140.6 0 0 1 542.79 503.69L539.04 506.36A136 136 0 0 0 536.84 503.35Z" fill="#C1805B" />
<path d="M542.67 503.53A140.6 140.6 0 0 1 544.87 506.69L541.06 509.26A136 136 0 0 0 538.93 506.2Z" fill="#EFEDEB" />
<path d="M544.76 506.53A140.6 140.6 0 0 1 546.88 509.75L543 512.22A136 136 0 0 0 540.95 509.11Z" fill="#EFEDEB" />
<path d="M546.77 509.59A140.6 140.6 0 0 1 548.8 512.86L544.86 515.23A136 136 0 0 0 542.9 512.06Z" fill="#EFEDEB" />
<path d="M548.7 512.69A140.6 140.6 0 0 1 550.65 516.02L546.64 518.29A136 136 0 0 0 544.76 515.07Z" fill="#E0C9BC" />
</g>
<path d="M564.29 583.88A136 136 0 1 1 546.55 518.12" fill="none" stroke="#999" stroke-width="0.55"/>
<path d="M568.89 583.83A140.6 140.6 0 1 1 550.55 515.85" fill="none" stroke="#999" stroke-width="0.55"/>
<g stroke="none">
<path d="M574.29 583.77A146 146 0 0 1 574.28 587.77L569.68 587.7A141.4 141.4 0 0 0 569.69 583.82Z" fill="#E6E6E6" />
<path d="M574.28 587.57A146 146 0 0 1 574.17 591.57L569.57 591.37A141.4 141.4 0 0 0 569.68 587.5Z" fill="#E4E2E6" />
<path d="M574.17 591.37A146 146 0 0 1 573.95 595.36L569.36 595.05A141.4 141.4 0 0 0 569.58 591.18Z" fill="#E6E6E6" />
<path d="M573.97 595.16A146 146 0 0 1 573.64 599.15L569.06 598.71A141.4 141.4 0 0 0 569.38 594.85Z" fill="#A84BE9" />
<path d="M573.66 598.95A146 146 0 0 1 573.23 602.93L568.67 602.37A141.4 141.4 0 0 0 569.08 598.52Z" fill="#D9C6E7" />
<path d="M573.26 602.73A146 146 0 0 1 572.72 606.69L568.17 606.02A141.4 141.4 0 0 0 568.69 602.18Z" fill="#E6E6E6" />
<path d="M572.75 606.49A146 146 0 0 1 572.12 610.44L567.59 609.65A141.4 141.4 0 0 0 568.2 605.82Z" fill="#E6E6E6" />
<path d="M572.15 610.24A146 146 0 0 1 571.42 614.18L566.91 613.27A141.4 141.4 0 0 0 567.62 609.46Z" fill="#A748E9" />
<path d="M571.46 613.98A146 146 0 0 1 570.62 617.89L566.13 616.86A141.4 141.4 0 0 0 566.95 613.07Z" fill="#D9C6E7" />
<path d="M570.66 617.69A146 146 0 0 1 569.72 621.58L565.26 620.44A141.4 141.4 0 0 0 566.18 616.67Z" fill="#8E0BEA" />
<path d="M569.77 621.39A146 146 0 0 1 568.73 625.25L564.3 623.99A141.4 141.4 0 0 0 565.31 620.25Z" fill="#E6E6E6" />
<path d="M568.78 625.06A146 146 0 0 1 567.64 628.89L563.25 627.52A141.4 141.4 0 0 0 564.36 623.8Z" fill="#E6E6E6" />
<path d="M567.7 628.7A146 146 0 0 1 566.46 632.5L562.11 631.02A141.4 141.4 0 0 0 563.31 627.33Z" fill="#E6E6E6" />
<path d="M566.52 632.31A146 146 0 0 1 565.18 636.08L560.87 634.48A141.4 141.4 0 0 0 562.17 630.83Z" fill="#8F0DEA" />
<path d="M565.25 635.89A146 146 0 0 1 563.82 639.63L559.55 637.91A141.4 141.4 0 0 0 560.94 634.3Z" fill="#E6E6E6" />
<path d="M563.89 639.44A146 146 0 0 1 562.36 643.13L558.13 641.31A141.4 141.4 0 0 0 559.62 637.73Z" fill="#E6E6E6" />
<path d="M562.44 642.95A146 146 0 0 1 560.81 646.6L556.63 644.67A141.4 141.4 0 0 0 558.21 641.13Z" fill="#DFD5E6" />
<path d="M560.89 646.42A146 146 0 0 1 559.17 650.03L555.04 647.99A141.4 141.4 0 0 0 556.71 644.49Z" fill="#BE82E8" />
<path d="M559.26 649.85A146 146 0 0 1 557.44 653.41L553.37 651.27A141.4 141.4 0 0 0 555.13 647.81Z" fill="#9721EA" />
<path d="M557.53 653.23A146 146 0 0 1 555.62 656.75L551.61 654.5A141.4 141.4 0 0 0 553.46 651.09Z" fill="#E6E6E6" />
<path d="M555.72 656.57A146 146 0 0 1 553.72 660.04L549.77 657.68A141.4 141.4 0 0 0 551.71 654.33Z" fill="#9B29E9" />
<path d="M553.82 659.86A146 146 0 0 1 551.73 663.28L547.84 660.82A141.4 141.4 0 0 0 549.87 657.51Z" fill="#E6E6E6" />
<path d="M551.84 663.1A146 146 0 0 1 549.66 666.46L545.84 663.9A141.4 141.4 0 0 0 547.95 660.65Z" fill="#961DEA" />
<path d="M549.78 666.29A146 146 0 0 1 547.51 669.59L543.75 666.94A141.4 141.4 0 0 0 545.95 663.74Z" fill="#9418EA" />
<path d="M547.63 669.43A146 146 0 0 1 545.28 672.67L541.59 669.91A141.4 141.4 0 0 0 543.87 666.77Z" fill="#951AEA" />
<path d="M545.4 672.5A146 146 0 0 1 542.96 675.68L539.35 672.83A141.4 141.4 0 0 0 541.71 669.75Z" fill="#E6E6E6" />
<path d="M543.09 675.52A146 146 0 0 1 540.57 678.63L537.04 675.69A141.4 141.4 0 0 0 539.47 672.68Z" fill="#E6E6E6" />
<path d="M540.7 678.48A146 146 0 0 1 538.11 681.52L534.65 678.49A141.4 141.4 0 0 0 537.16 675.54Z" fill="#9B29E9" />
<path d="M538.24 681.37A146 146 0 0 1 535.57 684.35L532.19 681.23A141.4 141.4 0 0 0 534.78 678.34Z" fill="#E6E6E6" />
<path d="M535.7 684.2A146 146 0 0 1 532.95 687.1L529.65 683.9A141.4 141.4 0 0 0 532.32 681.08Z" fill="#C594E7" />
<path d="M533.09 686.96A146 146 0 0 1 530.27 689.79L527.05 686.5A141.4 141.4 0 0 0 529.79 683.75Z" fill="#BD7EE8" />
<path d="M530.41 689.65A146 146 0 0 1 527.51 692.41L524.39 689.04A141.4 141.4 0 0 0 527.2 686.36Z" fill="#AB53E9" />
<path d="M527.66 692.27A146 146 0 0 1 524.69 694.96L521.66 691.5A141.4 141.4 0 0 0 524.53 688.9Z" fill="#E6E6E6" />
<path d="M524.85 694.82A146 146 0 0 1 521.81 697.43L518.86 693.89A141.4 141.4 0 0 0 521.8 691.37Z" fill="#D0B0E7" />
<path d="M521.96 697.3A146 146 0 0 1 518.86 699.82L516.01 696.21A141.4 141.4 0 0 0 519.01 693.77Z" fill="#DED1E6" />
<path d="M519.02 699.69A146 146 0 0 1 515.85 702.14L513.09 698.46A141.4 141.4 0 0 0 516.16 696.09Z" fill="#CDA7E7" />
<path d="M516.01 702.02A146 146 0 0 1 512.78 704.38L510.12 700.63A141.4 141.4 0 0 0 513.25 698.34Z" fill="#9212EA" />
<path d="M512.94 704.26A146 146 0 0 1 509.65 706.54L507.09 702.72A141.4 141.4 0 0 0 510.28 700.51Z" fill="#E6E6E6" />
<path d="M509.82 706.42A146 146 0 0 1 506.47 708.61L504.01 704.73A141.4 141.4 0 0 0 507.25 702.61Z" fill="#E6E6E6" />
<path d="M506.64 708.5A146 146 0 0 1 503.23 710.6L500.87 706.66A141.4 141.4 0 0 0 504.17 704.62Z" fill="#D5BBE7" />
<path d="M503.41 710.5A146 146 0 0 1 499.95 712.51L497.69 708.5A141.4 141.4 0 0 0 501.04 706.55Z" fill="#8E0BEA" />
<path d="M500.13 712.41A146 146 0 0 1 496.61 714.33L494.46 710.27A141.4 141.4 0 0 0 497.86 708.41Z" fill="#D9C6E7" />
<path d="M496.79 714.24A146 146 0 0 1 493.23 716.07L491.19 711.95A141.4 141.4 0 0 0 494.64 710.17Z" fill="#BD7FE8" />
<path d="M493.42 715.97A146 146 0 0 1 489.81 717.71L487.87 713.54A141.4 141.4 0 0 0 491.36 711.86Z" fill="#E6E6E6" />
<path d="M489.99 717.62A146 146 0 0 1 486.34 719.27L484.51 715.05A141.4 141.4 0 0 0 488.05 713.46Z" fill="#900FEA" />
<path d="M486.53 719.19A146 146 0 0 1 482.84 720.73L481.12 716.46A141.4 141.4 0 0 0 484.7 714.97Z" fill="#9010EA" />
<path d="M483.03 720.66A146 146 0 0 1 479.3 722.1L477.69 717.79A141.4 141.4 0 0 0 481.3 716.39Z" fill="#BB79E8" />
<path d="M479.49 722.03A146 146 0 0 1 475.72 723.39L474.22 719.03A141.4 141.4 0 0 0 477.87 717.73Z" fill="#E6E6E6" />
<path d="M475.91 723.32A146 146 0 0 1 472.11 724.57L470.73 720.18A141.4 141.4 0 0 0 474.41 718.97Z" fill="#D3B7E7" />
<path d="M472.3 724.51A146 146 0 0 1 468.47 725.66L467.21 721.24A141.4 141.4 0 0 0 470.92 720.12Z" fill="#900DEA" />
<path d="M468.67 725.61A146 146 0 0 1 464.8 726.66L463.65 722.21A141.4 141.4 0 0 0 467.39 721.19Z" fill="#C38EE8" />
<path d="M465 726.61A146 146 0 0 1 461.11 727.56L460.08 723.08A141.4 141.4 0 0 0 463.85 722.16Z" fill="#A139E9" />
<path d="M461.31 727.52A146 146 0 0 1 457.4 728.37L456.48 723.86A141.4 141.4 0 0 0 460.27 723.04Z" fill="#D8C4E7" />
<path d="M457.6 728.33A146 146 0 0 1 453.67 729.08L452.87 724.55A141.4 141.4 0 0 0 456.68 723.82Z" fill="#AE5AE9" />
<path d="M453.87 729.04A146 146 0 0 1 449.92 729.69L449.24 725.14A141.4 141.4 0 0 0 453.06 724.51Z" fill="#DED2E6" />
<path d="M450.12 729.66A146 146 0 0 1 446.15 730.2L445.59 725.64A141.4 141.4 0 0 0 449.43 725.11Z" fill="#CDA7E7" />
<path d="M446.36 730.18A146 146 0 0 1 442.38 730.62L441.93 726.04A141.4 141.4 0 0 0 445.79 725.61Z" fill="#E6E6E6" />
<path d="M442.58 730.6A146 146 0 0 1 438.59 730.94L438.27 726.35A141.4 141.4 0 0 0 442.13 726.02Z" fill="#E3DDE6" />
<path d="M438.8 730.92A146 146 0 0 1 434.8 731.16L434.59 726.56A141.4 141.4 0 0 0 438.47 726.33Z" fill="#E6E6E6" />
<path d="M435 731.15A146 146 0 0 1 431 731.27L430.92 726.68A141.4 141.4 0 0 0 434.79 726.55Z" fill="#9110EA" />
<path d="M431.21 731.27A146 146 0 0 1 427.2 731.3L427.24 726.7A141.4 141.4 0 0 0 431.11 726.67Z" fill="#AB52E9" />
<path d="M427.41 731.3A146 146 0 0 1 423.4 731.22L423.56 726.62A141.4 141.4 0 0 0 427.44 726.7Z" fill="#E6E6E6" />
<path d="M423.61 731.22A146 146 0 0 1 419.61 731.04L419.88 726.45A141.4 141.4 0 0 0 423.76 726.63Z" fill="#C89CE7" />
<path d="M419.81 731.05A146 146 0 0 1 415.82 730.77L416.21 726.18A141.4 141.4 0 0 0 420.08 726.46Z" fill="#8F0DEA" />
<path d="M416.02 730.78A146 146 0 0 1 412.04 730.39L412.55 725.82A141.4 141.4 0 0 0 416.41 726.2Z" fill="#9D30E9" />
<path d="M412.24 730.41A146 146 0 0 1 408.27 729.92L408.9 725.36A141.4 141.4 0 0 0 412.75 725.84Z" fill="#E6E6E6" />
<path d="M408.47 729.95A146 146 0 0 1 404.51 729.35L405.26 724.81A141.4 141.4 0 0 0 409.1 725.39Z" fill="#E6E6E6" />
<path d="M404.71 729.38A146 146 0 0 1 400.77 728.68L401.64 724.16A141.4 141.4 0 0 0 405.46 724.84Z" fill="#9823E9" />
<path d="M400.97 728.72A146 146 0 0 1 397.05 727.92L398.04 723.42A141.4 141.4 0 0 0 401.83 724.2Z" fill="#BE82E8" />
<path d="M397.25 727.96A146 146 0 0 1 393.35 727.06L394.45 722.59A141.4 141.4 0 0 0 398.23 723.47Z" fill="#9A27E9" />
<path d="M393.55 727.1A146 146 0 0 1 389.68 726.1L390.89 721.66A141.4 141.4 0 0 0 394.64 722.64Z" fill="#C491E8" />
<path d="M389.87 726.15A146 146 0 0 1 386.02 725.05L387.36 720.64A141.4 141.4 0 0 0 391.08 721.71Z" fill="#B974E8" />
<path d="M386.22 725.1A146 146 0 0 1 382.4 723.9L383.85 719.53A141.4 141.4 0 0 0 387.55 720.7Z" fill="#BB7AE8" />
<path d="M382.6 723.96A146 146 0 0 1 378.81 722.66L380.37 718.33A141.4 141.4 0 0 0 384.04 719.59Z" fill="#BD7FE8" />
<path d="M379 722.73A146 146 0 0 1 375.26 721.32L376.93 717.04A141.4 141.4 0 0 0 380.56 718.4Z" fill="#9419EA" />
<path d="M375.45 721.4A146 146 0 0 1 371.73 719.9L373.52 715.66A141.4 141.4 0 0 0 377.11 717.11Z" fill="#E6E6E6" />
<path d="M371.92 719.98A146 146 0 0 1 368.25 718.38L370.14 714.19A141.4 141.4 0 0 0 373.7 715.73Z" fill="#9926E9" />
<path d="M368.44 718.46A146 146 0 0 1 364.81 716.77L366.81 712.63A141.4 141.4 0 0 0 370.32 714.27Z" fill="#E6E6E6" />
<path d="M364.99 716.86A146 146 0 0 1 361.41 715.08L363.52 710.99A141.4 141.4 0 0 0 366.99 712.72Z" fill="#AC54E9" />
<path d="M361.59 715.17A146 146 0 0 1 358.05 713.29L360.27 709.26A141.4 141.4 0 0 0 363.69 711.08Z" fill="#E6E6E6" />
<path d="M358.23 713.39A146 146 0 0 1 354.75 711.42L357.07 707.45A141.4 141.4 0 0 0 360.44 709.35Z" fill="#E0D7E6" />
<path d="M354.92 711.52A146 146 0 0 1 351.49 709.46L353.91 705.55A141.4 141.4 0 0 0 357.24 707.55Z" fill="#DFD4E6" />
<path d="M351.67 709.57A146 146 0 0 1 348.29 707.42L350.81 703.57A141.4 141.4 0 0 0 354.08 705.65Z" fill="#9111EA" />
<path d="M348.46 707.53A146 146 0 0 1 345.14 705.3L347.76 701.52A141.4 141.4 0 0 0 350.97 703.68Z" fill="#8F0BEA" />
<path d="M345.3 705.42A146 146 0 0 1 342.04 703.09L344.76 699.38A141.4 141.4 0 0 0 347.92 701.63Z" fill="#CAA0E7" />
<path d="M342.21 703.22A146 146 0 0 1 339.01 700.81L341.82 697.17A141.4 141.4 0 0 0 344.92 699.5Z" fill="#9215EA" />
<path d="M339.17 700.94A146 146 0 0 1 336.03 698.45L338.94 694.88A141.4 141.4 0 0 0 341.98 697.29Z" fill="#C89AE7" />
<path d="M336.19 698.58A146 146 0 0 1 333.12 696.01L336.12 692.52A141.4 141.4 0 0 0 339.09 695.01Z" fill="#900EEA" />
<path d="M333.27 696.14A146 146 0 0 1 330.27 693.49L333.36 690.09A141.4 141.4 0 0 0 336.27 692.65Z" fill="#900FEA" />
<path d="M330.42 693.63A146 146 0 0 1 327.49 690.91L330.66 687.58A141.4 141.4 0 0 0 333.5 690.22Z" fill="#E6E6E6" />
<path d="M327.64 691.05A146 146 0 0 1 324.77 688.25L328.04 685A141.4 141.4 0 0 0 330.81 687.72Z" fill="#900EEA" />
<path d="M324.92 688.39A146 146 0 0 1 322.13 685.52L325.48 682.36A141.4 141.4 0 0 0 328.18 685.14Z" fill="#E6E6E6" />
<path d="M322.27 685.67A146 146 0 0 1 319.56 682.72L322.98 679.65A141.4 141.4 0 0 0 325.61 682.51Z" fill="#E6E6E6" />
<path d="M319.69 682.88A146 146 0 0 1 317.06 679.86L320.57 676.88A141.4 141.4 0 0 0 323.12 679.8Z" fill="#8F0DEA" />
<path d="M317.19 680.02A146 146 0 0 1 314.64 676.93L318.22 674.05A141.4 141.4 0 0 0 320.69 677.03Z" fill="#E6E6E6" />
<path d="M314.77 677.09A146 146 0 0 1 312.29 673.95L315.95 671.15A141.4 141.4 0 0 0 318.34 674.2Z" fill="#8F0CEA" />
<path d="M312.42 674.11A146 146 0 0 1 310.02 670.9L313.75 668.2A141.4 141.4 0 0 0 316.07 671.31Z" fill="#B66EE8" />
<path d="M310.14 671.06A146 146 0 0 1 307.84 667.79L311.63 665.19A141.4 141.4 0 0 0 313.87 668.36Z" fill="#900FEA" />
<path d="M307.95 667.96A146 146 0 0 1 305.73 664.63L309.59 662.13A141.4 141.4 0 0 0 311.74 665.36Z" fill="#B770E8" />
<path d="M305.84 664.8A146 146 0 0 1 303.71 661.41L307.63 659.01A141.4 141.4 0 0 0 309.7 662.3Z" fill="#971FEA" />
<path d="M303.82 661.59A146 146 0 0 1 301.77 658.15L305.76 655.85A141.4 141.4 0 0 0 307.74 659.18Z" fill="#9214EA" />
<path d="M301.87 658.32A146 146 0 0 1 299.92 654.83L303.96 652.64A141.4 141.4 0 0 0 305.86 656.02Z" fill="#900FEA" />
<path d="M300.02 655.01A146 146 0 0 1 298.15 651.46L302.25 649.38A141.4 141.4 0 0 0 304.06 652.81Z" fill="#9316EA" />
<path d="M298.25 651.65A146 146 0 0 1 296.48 648.06L300.63 646.08A141.4 141.4 0 0 0 302.34 649.56Z" fill="#B468E8" />
<path d="M296.56 648.24A146 146 0 0 1 294.89 644.6L299.09 642.74A141.4 141.4 0 0 0 300.71 646.26Z" fill="#A139E9" />
<path d="M294.97 644.79A146 146 0 0 1 293.39 641.11L297.64 639.35A141.4 141.4 0 0 0 299.17 642.92Z" fill="#E6E6E6" />
<path d="M293.47 641.3A146 146 0 0 1 291.98 637.58L296.28 635.94A141.4 141.4 0 0 0 297.72 639.54Z" fill="#CAA0E7" />
<path d="M292.06 637.77A146 146 0 0 1 290.67 634.02L295 632.48A141.4 141.4 0 0 0 296.35 636.12Z" fill="#8F0CEA" />
<path d="M290.74 634.21A146 146 0 0 1 289.45 630.42L293.82 629A141.4 141.4 0 0 0 295.07 632.67Z" fill="#E6E6E6" />
<path d="M289.51 630.62A146 146 0 0 1 288.32 626.79L292.73 625.49A141.4 141.4 0 0 0 293.88 629.19Z" fill="#C28CE8" />
<path d="M288.38 626.99A146 146 0 0 1 287.29 623.14L291.73 621.94A141.4 141.4 0 0 0 292.79 625.68Z" fill="#E5E4E6" />
<path d="M287.34 623.33A146 146 0 0 1 286.35 619.45L290.82 618.38A141.4 141.4 0 0 0 291.78 622.14Z" fill="#951BEA" />
<path d="M286.4 619.65A146 146 0 0 1 285.51 615.75L290.01 614.79A141.4 141.4 0 0 0 290.87 618.57Z" fill="#CBA3E7" />
<path d="M285.55 615.95A146 146 0 0 1 284.77 612.02L289.29 611.18A141.4 141.4 0 0 0 290.05 614.98Z" fill="#E6E6E6" />
<path d="M284.8 612.22A146 146 0 0 1 284.12 608.28L288.66 607.56A141.4 141.4 0 0 0 289.33 611.38Z" fill="#B872E8" />
<path d="M284.15 608.48A146 146 0 0 1 283.57 604.52L288.13 603.92A141.4 141.4 0 0 0 288.69 607.75Z" fill="#E6E6E6" />
<path d="M283.6 604.72A146 146 0 0 1 283.12 600.75L287.69 600.26A141.4 141.4 0 0 0 288.16 604.11Z" fill="#900FEA" />
<path d="M283.14 600.95A146 146 0 0 1 282.77 596.97L287.35 596.6A141.4 141.4 0 0 0 287.71 600.46Z" fill="#C696E7" />
<path d="M282.78 597.17A146 146 0 0 1 282.51 593.18L287.11 592.93A141.4 141.4 0 0 0 287.37 596.8Z" fill="#DFD5E6" />
<path d="M282.52 593.38A146 146 0 0 1 282.36 589.38L286.96 589.25A141.4 141.4 0 0 0 287.12 593.12Z" fill="#E6E6E6" />
<path d="M282.36 589.58A146 146 0 0 1 282.3 585.58L286.9 585.57A141.4 141.4 0 0 0 286.96 589.45Z" fill="#C696E7" />
<path d="M282.3 585.78A146 146 0 0 1 282.34 581.78L286.94 581.89A141.4 141.4 0 0 0 286.9 585.77Z" fill="#A94CE9" />
<path d="M282.34 581.99A146 146 0 0 1 282.48 577.98L287.08 578.22A141.4 141.4 0 0 0 286.94 582.09Z" fill="#E6E6E6" />
<path d="M282.47 578.19A146 146 0 0 1 282.72 574.19L287.31 574.54A141.4 141.4 0 0 0 287.07 578.41Z" fill="#E0D7E6" />
<path d="M282.71 574.4A146 146 0 0 1 283.06 570.41L287.64 570.88A141.4 141.4 0 0 0 287.29 574.74Z" fill="#A749E9" />
<path d="M283.04 570.61A146 146 0 0 1 283.5 566.64L288.06 567.22A141.4 141.4 0 0 0 287.62 571.07Z" fill="#E6E6E6" />
<path d="M283.47 566.84A146 146 0 0 1 284.03 562.87L288.58 563.58A141.4 141.4 0 0 0 288.04 567.42Z" fill="#A84BE9" />
<path d="M284 563.08A146 146 0 0 1 284.67 559.13L289.19 559.95A141.4 141.4 0 0 0 288.55 563.78Z" fill="#CAA1E7" />
<path d="M284.63 559.33A146 146 0 0 1 285.39 555.4L289.9 556.34A141.4 141.4 0 0 0 289.16 560.15Z" fill="#A23DE9" />
<path d="M285.35 555.6A146 146 0 0 1 286.22 551.69L290.7 552.75A141.4 141.4 0 0 0 289.86 556.53Z" fill="#BA78E8" />
<path d="M286.17 551.89A146 146 0 0 1 287.14 548.01L291.59 549.18A141.4 141.4 0 0 0 290.65 552.94Z" fill="#9111EA" />
<path d="M287.09 548.2A146 146 0 0 1 288.16 544.35L292.58 545.64A141.4 141.4 0 0 0 291.54 549.37Z" fill="#AA50E9" />
<path d="M288.1 544.54A146 146 0 0 1 289.27 540.71L293.66 542.12A141.4 141.4 0 0 0 292.52 545.83Z" fill="#B161E8" />
<path d="M289.21 540.91A146 146 0 0 1 290.48 537.11L294.82 538.63A141.4 141.4 0 0 0 293.6 542.31Z" fill="#E6E6E6" />
<path d="M290.42 537.3A146 146 0 0 1 291.78 533.54L296.08 535.17A141.4 141.4 0 0 0 294.76 538.82Z" fill="#BB7BE8" />
<path d="M291.71 533.73A146 146 0 0 1 293.18 530.01L297.43 531.75A141.4 141.4 0 0 0 296.01 535.36Z" fill="#E6E6E6" />
<path d="M293.1 530.19A146 146 0 0 1 294.66 526.51L298.87 528.36A141.4 141.4 0 0 0 297.36 531.93Z" fill="#B161E8" />
<path d="M294.58 526.7A146 146 0 0 1 296.24 523.05L300.4 525.01A141.4 141.4 0 0 0 298.79 528.54Z" fill="#8F0BEA" />
<path d="M296.15 523.24A146 146 0 0 1 297.9 519.64L302.01 521.71A141.4 141.4 0 0 0 300.31 525.19Z" fill="#AE59E9" />
<path d="M297.81 519.82A146 146 0 0 1 299.65 516.27L303.71 518.44A141.4 141.4 0 0 0 301.92 521.88Z" fill="#C99EE7" />
<path d="M299.56 516.45A146 146 0 0 1 301.49 512.94L305.49 515.22A141.4 141.4 0 0 0 303.61 518.61Z" fill="#9D30E9" />
<path d="M301.39 513.12A146 146 0 0 1 303.42 509.67L307.35 512.05A141.4 141.4 0 0 0 305.39 515.39Z" fill="#D8C3E7" />
<path d="M303.31 509.84A146 146 0 0 1 305.43 506.44L309.3 508.93A141.4 141.4 0 0 0 307.25 512.22Z" fill="#E6E6E6" />
<path d="M305.32 506.61A146 146 0 0 1 307.52 503.27L311.33 505.86A141.4 141.4 0 0 0 309.19 509.09Z" fill="#E6E6E6" />
<path d="M307.41 503.44A146 146 0 0 1 309.7 500.16L313.43 502.84A141.4 141.4 0 0 0 311.22 506.02Z" fill="#E6E6E6" />
<path d="M309.58 500.32A146 146 0 0 1 311.95 497.1L315.62 499.88A141.4 141.4 0 0 0 313.32 503Z" fill="#E3DEE6" />
<path d="M311.83 497.26A146 146 0 0 1 314.29 494.1L317.88 496.98A141.4 141.4 0 0 0 315.5 500.04Z" fill="#8D07EA" />
<path d="M314.16 494.26A146 146 0 0 1 316.7 491.17L320.21 494.13A141.4 141.4 0 0 0 317.76 497.13Z" fill="#900FEA" />
<path d="M316.57 491.32A146 146 0 0 1 319.19 488.3L322.62 491.35A141.4 141.4 0 0 0 320.09 494.28Z" fill="#AC53E9" />
<path d="M319.05 488.45A146 146 0 0 1 321.75 485.49L325.1 488.63A141.4 141.4 0 0 0 322.49 491.5Z" fill="#C798E7" />
<path d="M321.61 485.64A146 146 0 0 1 324.38 482.75L327.65 485.98A141.4 141.4 0 0 0 324.97 488.78Z" fill="#961DEA" />
<path d="M324.24 482.9A146 146 0 0 1 327.08 480.08L330.27 483.4A141.4 141.4 0 0 0 327.51 486.12Z" fill="#8E0AEA" />
<path d="M326.94 480.22A146 146 0 0 1 329.85 477.48L332.96 480.88A141.4 141.4 0 0 0 330.13 483.53Z" fill="#D7C0E7" />
<path d="M329.7 477.62A146 146 0 0 1 332.69 474.96L335.71 478.43A141.4 141.4 0 0 0 332.81 481.01Z" fill="#E6E6E6" />
<path d="M332.54 475.09A146 146 0 0 1 335.6 472.51L338.52 476.06A141.4 141.4 0 0 0 335.56 478.56Z" fill="#DFD5E6" />
<path d="M335.44 472.64A146 146 0 0 1 338.56 470.13L341.39 473.76A141.4 141.4 0 0 0 338.37 476.19Z" fill="#AE5BE8" />
<path d="M338.4 470.26A146 146 0 0 1 341.59 467.84L344.32 471.54A141.4 141.4 0 0 0 341.23 473.88Z" fill="#9214EA" />
<path d="M341.43 467.96A146 146 0 0 1 344.68 465.62L347.31 469.39A141.4 141.4 0 0 0 344.16 471.66Z" fill="#E6E6E6" />
<path d="M344.51 465.74A146 146 0 0 1 347.82 463.49L350.35 467.32A141.4 141.4 0 0 0 347.15 469.51Z" fill="#951CEA" />
<path d="M347.65 463.6A146 146 0 0 1 351.02 461.43L353.45 465.34A141.4 141.4 0 0 0 350.19 467.43Z" fill="#CDA6E7" />
<path d="M350.84 461.54A146 146 0 0 1 354.26 459.46L356.6 463.43A141.4 141.4 0 0 0 353.28 465.44Z" fill="#DBCAE7" />
<path d="M354.09 459.57A146 146 0 0 1 357.56 457.58L359.79 461.6A141.4 141.4 0 0 0 356.43 463.53Z" fill="#9110EA" />
<path d="M357.39 457.68A146 146 0 0 1 360.91 455.78L363.03 459.86A141.4 141.4 0 0 0 359.62 461.7Z" fill="#8D08EA" />
<path d="M360.73 455.88A146 146 0 0 1 364.3 454.07L366.32 458.21A141.4 141.4 0 0 0 362.86 459.95Z" fill="#E6E6E6" />
<path d="M364.12 454.16A146 146 0 0 1 367.74 452.45L369.65 456.64A141.4 141.4 0 0 0 366.14 458.29Z" fill="#C188E8" />
<path d="M367.55 452.54A146 146 0 0 1 371.22 450.92L373.02 455.16A141.4 141.4 0 0 0 369.47 456.72Z" fill="#BC7EE8" />
<path d="M371.03 451A146 146 0 0 1 374.73 449.48L376.42 453.76A141.4 141.4 0 0 0 372.83 455.23Z" fill="#DCCDE6" />
<path d="M374.54 449.56A146 146 0 0 1 378.28 448.13L379.86 452.46A141.4 141.4 0 0 0 376.24 453.83Z" fill="#9213EA" />
<path d="M378.09 448.2A146 146 0 0 1 381.87 446.88L383.33 451.24A141.4 141.4 0 0 0 379.68 452.52Z" fill="#9418EA" />
<path d="M381.68 446.94A146 146 0 0 1 385.49 445.72L386.84 450.12A141.4 141.4 0 0 0 383.15 451.3Z" fill="#E6E6E6" />
<path d="M385.29 445.78A146 146 0 0 1 389.13 444.65L390.37 449.08A141.4 141.4 0 0 0 386.65 450.17Z" fill="#9B29E9" />
<path d="M388.94 444.71A146 146 0 0 1 392.81 443.68L393.93 448.14A141.4 141.4 0 0 0 390.18 449.14Z" fill="#E6E6E6" />
<path d="M392.61 443.73A146 146 0 0 1 396.5 442.8L397.51 447.29A141.4 141.4 0 0 0 393.73 448.19Z" fill="#B76FE8" />
<path d="M396.31 442.85A146 146 0 0 1 400.22 442.03L401.11 446.54A141.4 141.4 0 0 0 397.31 447.34Z" fill="#951AEA" />
<path d="M400.02 442.06A146 146 0 0 1 403.96 441.34L404.73 445.88A141.4 141.4 0 0 0 400.91 446.58Z" fill="#B05FE8" />
<path d="M403.76 441.38A146 146 0 0 1 407.71 440.76L408.36 445.31A141.4 141.4 0 0 0 404.53 445.91Z" fill="#BB7BE8" />
<path d="M407.51 440.79A146 146 0 0 1 411.48 440.27L412.01 444.84A141.4 141.4 0 0 0 408.17 445.34Z" fill="#C89AE7" />
<path d="M411.28 440.3A146 146 0 0 1 415.26 439.88L415.67 444.46A141.4 141.4 0 0 0 411.82 444.86Z" fill="#E6E6E6" />
<path d="M415.06 439.9A146 146 0 0 1 419.05 439.59L419.34 444.18A141.4 141.4 0 0 0 415.48 444.48Z" fill="#9213EA" />
<path d="M418.85 439.61A146 146 0 0 1 422.84 439.4L423.02 444A141.4 141.4 0 0 0 419.14 444.2Z" fill="#E6E6E6" />
<path d="M422.64 439.41A146 146 0 0 1 426.64 439.31L426.69 443.91A141.4 141.4 0 0 0 422.82 444.01Z" fill="#E6E6E6" />
<path d="M426.44 439.31A146 146 0 0 1 430.44 439.32L430.37 443.92A141.4 141.4 0 0 0 426.5 443.91Z" fill="#E6E6E6" />
<path d="M430.24 439.31A146 146 0 0 1 434.24 439.42L434.05 444.02A141.4 141.4 0 0 0 430.18 443.91Z" fill="#8E09EA" />
<path d="M434.04 439.41A146 146 0 0 1 438.03 439.62L437.73 444.21A141.4 141.4 0 0 0 433.85 444.01Z" fill="#E6E6E6" />
<path d="M437.83 439.61A146 146 0 0 1 441.82 439.93L441.39 444.51A141.4 141.4 0 0 0 437.53 444.2Z" fill="#A037E9" />
<path d="M441.62 439.91A146 146 0 0 1 445.6 440.33L445.05 444.9A141.4 141.4 0 0 0 441.2 444.49Z" fill="#E6E6E6" />
<path d="M445.4 440.3A146 146 0 0 1 449.36 440.83L448.7 445.38A141.4 141.4 0 0 0 444.86 444.87Z" fill="#E6E6E6" />
<path d="M449.16 440.8A146 146 0 0 1 453.12 441.42L452.33 445.96A141.4 141.4 0 0 0 448.51 445.35Z" fill="#A440E9" />
<path d="M452.92 441.39A146 146 0 0 1 456.85 442.12L455.95 446.63A141.4 141.4 0 0 0 452.14 445.92Z" fill="#DCCCE6" />
<path d="M456.65 442.08A146 146 0 0 1 460.57 442.91L459.55 447.4A141.4 141.4 0 0 0 455.76 446.59Z" fill="#A647E9" />
<path d="M460.37 442.87A146 146 0 0 1 464.26 443.8L463.13 448.26A141.4 141.4 0 0 0 459.36 447.35Z" fill="#9418EA" />
<path d="M464.06 443.75A146 146 0 0 1 467.93 444.78L466.68 449.21A141.4 141.4 0 0 0 462.94 448.21Z" fill="#E6E6E6" />
<path d="M467.73 444.73A146 146 0 0 1 471.57 445.86L470.21 450.25A141.4 141.4 0 0 0 466.49 449.16Z" fill="#8E0AEA" />
<path d="M471.38 445.8A146 146 0 0 1 475.19 447.03L473.71 451.39A141.4 141.4 0 0 0 470.02 450.2Z" fill="#E6E6E6" />
<path d="M474.99 446.97A146 146 0 0 1 478.77 448.3L477.18 452.62A141.4 141.4 0 0 0 473.52 451.33Z" fill="#E6E6E6" />
<path d="M478.58 448.23A146 146 0 0 1 482.32 449.66L480.61 453.93A141.4 141.4 0 0 0 476.99 452.55Z" fill="#A441E9" />
<path d="M482.13 449.58A146 146 0 0 1 485.83 451.11L484.02 455.34A141.4 141.4 0 0 0 480.43 453.86Z" fill="#E6E6E6" />
<path d="M485.64 451.03A146 146 0 0 1 489.3 452.65L487.38 456.83A141.4 141.4 0 0 0 483.83 455.26Z" fill="#E6E6E6" />
<path d="M489.11 452.57A146 146 0 0 1 492.73 454.29L490.7 458.41A141.4 141.4 0 0 0 487.2 456.75Z" fill="#E6E6E6" />
<path d="M492.55 454.2A146 146 0 0 1 496.12 456.01L493.98 460.08A141.4 141.4 0 0 0 490.52 458.33Z" fill="#E6E6E6" />
<path d="M495.94 455.91A146 146 0 0 1 499.46 457.82L497.22 461.83A141.4 141.4 0 0 0 493.81 459.99Z" fill="#BD7EE8" />
<path d="M499.28 457.72A146 146 0 0 1 502.75 459.71L500.41 463.67A141.4 141.4 0 0 0 497.04 461.74Z" fill="#D8C3E7" />
<path d="M502.58 459.61A146 146 0 0 1 505.99 461.69L503.55 465.58A141.4 141.4 0 0 0 500.24 463.57Z" fill="#E6E6E6" />
<path d="M505.82 461.58A146 146 0 0 1 509.18 463.75L506.64 467.58A141.4 141.4 0 0 0 503.38 465.48Z" fill="#E6E6E6" />
<path d="M509.01 463.64A146 146 0 0 1 512.32 465.9L509.67 469.66A141.4 141.4 0 0 0 506.47 467.47Z" fill="#8D08EA" />
<path d="M512.15 465.78A146 146 0 0 1 515.4 468.13L512.65 471.82A141.4 141.4 0 0 0 509.51 469.55Z" fill="#E6E6E6" />
<path d="M515.23 468A146 146 0 0 1 518.42 470.43L515.58 474.05A141.4 141.4 0 0 0 512.5 471.7Z" fill="#8F0DEA" />
<path d="M518.26 470.31A146 146 0 0 1 521.38 472.82L518.44 476.36A141.4 141.4 0 0 0 515.42 473.93Z" fill="#E6E6E6" />
<path d="M521.22 472.69A146 146 0 0 1 524.27 475.27L521.25 478.74A141.4 141.4 0 0 0 518.29 476.23Z" fill="#E6E6E6" />
<path d="M524.12 475.14A146 146 0 0 1 527.1 477.81L523.99 481.2A141.4 141.4 0 0 0 521.1 478.61Z" fill="#961DEA" />
<path d="M526.95 477.67A146 146 0 0 1 529.87 480.42L526.67 483.72A141.4 141.4 0 0 0 523.84 481.06Z" fill="#A543E9" />
<path d="M529.72 480.27A146 146 0 0 1 532.56 483.09L529.27 486.31A141.4 141.4 0 0 0 526.52 483.58Z" fill="#E6E6E6" />
<path d="M532.42 482.95A146 146 0 0 1 535.18 485.84L531.82 488.98A141.4 141.4 0 0 0 529.14 486.17Z" fill="#9A27E9" />
<path d="M535.04 485.69A146 146 0 0 1 537.74 488.66L534.29 491.7A141.4 141.4 0 0 0 531.68 488.83Z" fill="#9419EA" />
<path d="M537.6 488.5A146 146 0 0 1 540.21 491.54L536.69 494.49A141.4 141.4 0 0 0 534.16 491.55Z" fill="#AE5AE9" />
<path d="M540.08 491.38A146 146 0 0 1 542.61 494.48L539.01 497.34A141.4 141.4 0 0 0 536.56 494.34Z" fill="#951BEA" />
<path d="M542.49 494.32A146 146 0 0 1 544.94 497.49L541.26 500.25A141.4 141.4 0 0 0 538.89 497.19Z" fill="#C594E7" />
<path d="M544.82 497.32A146 146 0 0 1 547.18 500.55L543.44 503.22A141.4 141.4 0 0 0 541.15 500.1Z" fill="#E6E6E6" />
<path d="M547.07 500.38A146 146 0 0 1 549.35 503.67L545.54 506.24A141.4 141.4 0 0 0 543.32 503.06Z" fill="#C592E7" />
<path d="M549.24 503.5A146 146 0 0 1 551.43 506.85L547.55 509.32A141.4 141.4 0 0 0 545.43 506.08Z" fill="#A84BE9" />
<path d="M551.32 506.68A146 146 0 0 1 553.43 510.08L549.49 512.45A141.4 141.4 0 0 0 547.45 509.16Z" fill="#8F0DEA" />
<path d="M553.33 509.91A146 146 0 0 1 555.35 513.36L551.34 515.63A141.4 141.4 0 0 0 549.39 512.28Z" fill="#E2DCE6" />
</g>
<path d="M569.69 583.82A141.4 141.4 0 1 1 551.25 515.46" fill="none" stroke="#999" stroke-width="0.55"/>
<path d="M574.29 583.77A146 146 0 1 1 555.25 513.18" fill="none" stroke="#999" stroke-width="0.55"/>
<path d="M575.3 585.67L583.71 585.69M575.24 589.5L589.55 589.91M575.08 593.32L583.18 593.76M574.82 597.14L589.32 598.31M574.47 600.94L588.62 602.46M574.01 604.74L581.72 605.77M573.45 608.53L585.2 610.41M572.8 612.3L581.55 613.93M572.05 616.05L586.22 619.08M571.2 619.78L578.84 621.62M570.25 623.48L584.3 627.26M569.21 627.16L580.57 630.54M568.08 630.82L575.83 633.34M566.84 634.44L578.5 638.57M565.52 638.03L578.71 643.09M564.1 641.58L573.56 645.5M562.59 645.09L574 650.18M560.99 648.57L575.67 655.57M559.3 652L573.89 659.43M557.52 655.38L567.8 660.96M555.65 658.72L563.37 663.18M553.7 662.01L564.31 668.5M551.66 665.25L561.98 671.94M549.54 668.43L561.24 676.46M547.33 671.56L556.36 678.1M545.05 674.63L553.76 681.29M542.68 677.63L550.88 684.25M540.24 680.58L548.82 687.88M537.73 683.46L548.78 693.37M535.13 686.27L541.24 692.04M532.47 689.02L543.11 699.61M529.74 691.69L538.53 700.92M526.93 694.3L532.65 700.61M524.06 696.83L531.33 705.29M521.13 699.28L529.86 710M518.13 701.66L526.73 712.79M515.08 703.96L519.95 710.62M511.96 706.17L519.41 716.93M508.79 708.31L516.96 720.8M505.56 710.36L511.81 720.49M502.28 712.33L507.39 721.11M498.95 714.21L503.23 722.02M495.57 716.01L500.99 726.55M492.14 717.71L498.66 731.23M488.68 719.33L492.37 727.52M485.17 720.85L487.94 727.46M481.62 722.29L486.01 733.56M478.04 723.63L482.2 735.18M474.43 724.88L478.61 737.53M470.78 726.03L474.42 738.09M467.1 727.09L469.69 736.56M463.4 728.05L465.28 735.69M459.67 728.91L461.94 739.31M455.93 729.68L458.21 741.64M452.16 730.35L454.66 745.55M448.38 730.92L450.04 743M444.58 731.4L446.17 745.61M440.77 731.77L441.73 743.03M436.96 732.04L437.53 741.72M433.14 732.22L433.44 741.37M429.31 732.3L429.4 745.36M425.49 732.27L425.22 746.43M421.67 732.15L421.05 745.71M417.85 731.93L416.86 745.78M414.03 731.61L413.46 737.53M410.23 731.19L408.54 744.82M406.44 730.67L404.18 745.72M402.67 730.05L400.25 743.71M398.91 729.33L396.74 739.96M395.17 728.52L392.15 741.6M391.46 727.61L388.41 739.39M387.77 726.6L383.93 739.97M384.1 725.5L380.7 736.3M380.47 724.3L377.51 732.89M376.87 723.01L373.84 731.12M373.3 721.63L367.95 734.91M369.78 720.15L365.98 728.89M366.29 718.58L361.61 728.63M362.84 716.92L357.62 727.42M359.44 715.17L353.8 725.81M356.08 713.34L350.25 723.68M352.77 711.41L347.29 720.58M349.52 709.41L341.42 722.16M346.32 707.32L341.44 714.57M343.17 705.14L336.1 715.09M340.08 702.88L330.94 715.07M337.05 700.55L329.18 710.49M334.08 698.14L326.41 707.33M331.18 695.65L324.32 703.44M328.34 693.08L318.25 703.97M325.57 690.44L316.36 699.87M322.87 687.74L312.35 697.95M320.24 684.96L312.76 691.86M317.68 682.11L310.6 688.31M315.2 679.2L305.57 687.2M312.8 676.23L300.4 685.98M310.47 673.19L299.32 681.51M308.22 670.1L301.66 674.73M306.06 666.94L295.75 673.83M303.97 663.73L294.05 669.99M301.97 660.47L290.93 667.04M300.06 657.16L289.32 663.18M298.23 653.8L290.12 658.07M296.5 650.39L288.65 654.27M294.85 646.94L281.98 652.88M293.29 643.45L282.76 647.98M291.82 639.91L282.15 643.79M290.45 636.34L284.57 638.52M289.17 632.74L275.18 637.51M287.98 629.1L279.98 631.6M286.89 625.44L272.76 629.45M285.89 621.74L274.94 624.55M284.99 618.03L276.87 619.88M284.19 614.29L274.03 616.33M283.48 610.53L273.36 612.29M282.87 606.75L271.28 608.46M282.36 602.96L271.52 604.27M281.95 599.16L271.68 600.13M281.64 595.34L267.73 596.3M281.43 591.52L270.75 591.98M281.32 587.7L271.14 587.87M281.31 583.88L269.3 583.76M281.39 580.05L269.91 579.64M281.58 576.23L270.97 575.57M281.87 572.42L274.77 571.79M282.25 568.61L269.35 567.14M282.73 564.82L266.6 562.54M283.32 561.03L266.29 558.19M284 557.27L269.99 554.55M284.78 553.53L274.38 551.22M285.65 549.8L270.91 546.13M286.62 546.1L275.26 542.96M287.69 542.43L279.1 539.81M288.85 538.78L274.86 534.12M290.11 535.17L280.85 531.81M291.46 531.59L275.13 525.18M292.91 528.05L281.79 523.35M294.44 524.55L284.53 520.05M296.07 521.08L289.47 517.88M297.78 517.67L289.5 513.37M299.59 514.29L285.6 506.58M301.48 510.97L292.24 505.55M303.46 507.69L296.24 503.21M305.52 504.47L298.04 499.55M307.66 501.3L298.61 495M309.89 498.19L298.11 489.53M312.19 495.14L301.87 487.12M314.58 492.15L304.54 483.93M317.04 489.22L307.25 480.76M319.58 486.36L308.97 476.7M322.19 483.57L313.27 475.01M324.87 480.84L317.48 473.37M327.63 478.18L321.94 472.14M330.45 475.6L325.61 470.17M333.34 473.09L326.66 465.2M336.29 470.66L327.34 459.51M339.3 468.3L333.3 460.42M342.38 466.03L334.42 454.98M345.51 463.83L339.41 454.89M348.7 461.72L342.52 452.13M351.94 459.69L345.27 448.72M355.23 457.74L350.47 449.44M358.58 455.89L354.48 448.28M361.97 454.12L355.83 441.97M365.4 452.43L361.69 444.59M368.88 450.84L362.83 437.14M372.4 449.34L366.99 436.19M375.96 447.93L372.96 440.08M379.55 446.62L375.62 435.45M383.17 445.4L378.04 429.49M386.83 444.27L382.87 430.8M390.51 443.24L386.59 428.48M394.22 442.3L391.24 429.78M397.96 441.47L395.67 430.62M401.71 440.73L400.08 431.85M405.48 440.08L403.96 430.42M409.27 439.54L407.8 428.3M413.06 439.09L412 428.9M416.87 438.74L415.92 426.56M420.69 438.5L420.06 426.4M424.51 438.35L424.18 425.35M428.34 438.3L428.34 424.55M432.16 438.35L432.43 428.18M435.99 438.5L436.43 430.06M439.8 438.75L440.84 425.53M443.61 439.1L444.7 428.72M447.41 439.55L448.61 430.37M451.2 440.09L453.13 427.81M454.97 440.74L457.39 427.58M458.72 441.48L460.54 432.86M462.45 442.32L463.94 436.07M466.16 443.26L470 428.86M469.84 444.29L474.09 429.89M473.5 445.42L476.52 436.05M477.12 446.64L481.71 433.62M480.71 447.96L484.06 439.19M484.27 449.37L489.96 435.55M487.79 450.87L493.54 437.86M491.26 452.47L495.28 443.99M494.7 454.15L499.56 444.55M498.09 455.92L503.42 446.03M501.43 457.78L507.53 447.15M504.73 459.73L511.64 448.37M507.97 461.76L514.31 451.92M511.15 463.87L515.24 457.89M514.29 466.07L521.98 455.4M517.36 468.35L526.61 456.2M520.37 470.71L527.45 461.9M523.32 473.14L528.51 467.02M526.21 475.65L535.47 465.28M529.03 478.24L537.91 468.8M531.78 480.89L539.2 473.41M534.46 483.62L544.71 473.8M537.07 486.42L544.63 479.54M539.61 489.28L545.37 484.31M542.07 492.21L550.14 485.61M544.45 495.2L556.16 486.12M546.76 498.25L559.02 489.25M548.98 501.37L555.92 496.54M551.12 504.53L559.67 498.92M553.18 507.76L563.04 501.64M555.16 511.03L561.7 507.21" stroke="#4C8DEF" stroke-width="2.15" fill="none"/>
<g fill="none" stroke-linecap="butt">
<path d="M503.58 587.45A75.31 75.31 0 0 1 503.5 589.41M501.05 588.33L503.55 588.43M501.11 585.48A72.81 72.81 0 0 1 501.05 588.33M442.74 585.62L501.09 586.91M509.22 591.84A81.18 81.18 0 0 1 509.02 593.94M493.68 591.44L509.12 592.89M508.41 598.12A81.13 81.13 0 0 1 508.05 600.2M499.78 597.69L508.23 599.16M500.21 594.9A72.55 72.55 0 0 1 499.78 597.69M501.05 600.86A74.4 74.4 0 0 1 500.63 602.75M496.6 600.84L500.85 601.81M497.54 595.92A70.05 70.05 0 0 1 496.6 600.84M493.68 591.44A65.67 65.67 0 0 1 492.81 597.57M469.48 591.14L493.32 594.51M503.77 607.72A78.73 78.73 0 0 1 503.16 609.68M509.31 614.03A85.95 85.95 0 0 1 508.53 616.13M501.09 607.96A76.23 76.23 0 0 1 499.81 611.72M498.11 609.04L500.47 609.85M499.5 604.45A73.73 73.73 0 0 1 498.11 609.04M479.95 601.01L498.84 606.76M506.88 617.86A85.06 85.06 0 0 1 506 619.9M504.15 617.9L506.44 618.88M504.15 617.9A82.56 82.56 0 0 1 502.82 620.83M500.02 624.2A81.59 81.59 0 0 1 498.98 626.05M491.27 620.52L499.51 625.13M492.6 618.04A72.15 72.15 0 0 1 491.27 620.52M487.09 616.69L491.95 619.29M489 612.8A66.64 66.64 0 0 1 487.09 616.69M485.84 613.66L488.08 614.76M492.44 624.54A75.19 75.19 0 0 1 491.39 626.19M489.8 624.03L491.92 625.37M489.8 624.03A72.69 72.69 0 0 1 488.25 626.41M485.84 613.66A64.14 64.14 0 0 1 481.9 620.54M477.33 613.36L483.97 617.16M491.56 639.14A83.07 83.07 0 0 1 490.13 640.77M488.01 637.47L490.85 639.96M490 635.1A79.29 79.29 0 0 1 488.01 637.47M487.1 634.69L489.01 636.3M489.29 631.96A76.79 76.79 0 0 1 487.1 634.69M481.08 627.63L488.21 633.34M483.09 625A67.66 67.66 0 0 1 481.08 627.63M473.22 619.55L482.1 626.33M477.33 613.36A56.49 56.49 0 0 1 473.22 619.55M479.95 601.01A53.99 53.99 0 0 1 473.29 615.14M465.92 603.03L477.14 608.32M469.48 591.14A41.59 41.59 0 0 1 465.92 603.03M463 595.68L468.15 597.22M483.49 637.46A75.94 75.94 0 0 1 482.11 638.88M481.01 636.43L482.81 638.17M488.79 648.75A87.67 87.67 0 0 1 487.12 650.3M478.28 639.11L487.96 649.53M481.01 636.43A73.44 73.44 0 0 1 478.28 639.11M467.07 624.92L479.66 637.79M485.47 651.88A87.75 87.75 0 0 1 483.72 653.34M473.19 638.98L484.6 652.61M473.19 638.98A69.97 69.97 0 0 1 471.06 640.69M468.53 635.36L472.13 639.84M477.22 655.98A85.96 85.96 0 0 1 475.37 657.23M471.77 649.89L476.3 656.61M474.26 648.14A77.85 77.85 0 0 1 471.77 649.89M465.19 637.86L473.02 649.03M468.53 635.36A64.22 64.22 0 0 1 465.19 637.86M461.6 629.62L466.88 636.64M467.07 624.92A55.44 55.44 0 0 1 461.6 629.62M451.89 612.78L464.42 627.36M463 595.68A36.22 36.22 0 0 1 451.89 612.78M456.58 603.66L458.67 605.02M466.72 651.27A76.34 76.34 0 0 1 464.99 652.25M464.63 649.59L465.86 651.77M467.11 648.12A73.84 73.84 0 0 1 464.63 649.59M458.22 635.92L465.88 648.87M458.22 635.92A58.8 58.8 0 0 1 455.21 637.58M452.32 628.8L456.73 636.77M466.06 663.6A86.93 86.93 0 0 1 464.01 664.56M454.46 641.4L465.03 664.09M454.46 641.4A61.9 61.9 0 0 1 452.25 642.38M449.43 633.02L453.36 641.9M454.93 659.36A78.71 78.71 0 0 1 453 660.03M451.58 652.78L453.97 659.7M454.2 651.82A71.39 71.39 0 0 1 451.58 652.78M452.03 649.97L452.89 652.32M452.03 649.97A68.89 68.89 0 0 1 448.21 651.25M449.34 648.27L450.13 650.64M449.32 662.1A79.62 79.62 0 0 1 447.31 662.62M444.99 649.55L448.32 662.36M449.34 648.27A66.39 66.39 0 0 1 444.99 649.55M446 644.99L447.17 648.95M444.46 669.77A86 86 0 0 1 442.26 670.16M441.16 657.62L443.36 669.97M443.98 657.06A73.45 73.45 0 0 1 441.16 657.62M440.4 646.38L442.57 657.35M446 644.99A62.26 62.26 0 0 1 440.4 646.38M442.62 643.32L443.22 645.75M439.08 663.51A78.95 78.95 0 0 1 437.04 663.76M435.69 644.6L438.06 663.64M442.62 643.32A59.76 59.76 0 0 1 435.69 644.6M437.79 636.62L439.17 644.07M449.43 633.02A52.19 52.19 0 0 1 437.79 636.62M442.98 632.77L443.72 635.16M452.32 628.8A49.69 49.69 0 0 1 442.98 632.77M443.56 621.16L447.75 631.02M434.5 658.11A73.07 73.07 0 0 1 432.6 658.25M428.86 665.95A80.65 80.65 0 0 1 426.76 665.94M427.85 658.57L427.81 665.95M430.71 658.53A73.27 73.27 0 0 1 427.85 658.57M429.23 654.4L429.28 658.57M424.64 666.41A81.19 81.19 0 0 1 422.53 666.29M424.28 654.29L423.58 666.36M429.23 654.4A69.11 69.11 0 0 1 424.28 654.29M426.81 651.89L426.75 654.39M433.09 651.74A66.61 66.61 0 0 1 426.81 651.89M429.58 636.85L429.95 651.89M419.81 672.42A87.53 87.53 0 0 1 417.54 672.17M420.19 658.58L418.67 672.3M413.57 668.49A84.48 84.48 0 0 1 411.41 668.08M414.03 660.18L412.49 668.29M416.97 660.68A76.23 76.23 0 0 1 414.03 660.18M415.92 657.98L415.5 660.45M420.19 658.58A73.73 73.73 0 0 1 415.92 657.98M419.08 650.95L418.05 658.31M409.35 658.48A75.6 75.6 0 0 1 407.46 657.97M410.19 651.66L408.4 658.23M412.8 652.32A68.79 68.79 0 0 1 410.19 651.66M412.1 649.58L411.49 652.01M419.08 650.95A66.29 66.29 0 0 1 412.1 649.58M418.4 635.9L415.58 650.36M429.58 636.85A51.56 51.56 0 0 1 418.4 635.9M425.02 624.13L423.96 636.68M443.56 621.16A38.97 38.97 0 0 1 425.02 624.13M433.64 618.59L434.47 623.78M456.58 603.66A33.72 33.72 0 0 1 433.64 618.59M436.18 597.41L446.69 613.56M442.74 585.62A14.44 14.44 0 0 1 436.18 597.41M437.56 590.46L440.92 592.33M402.15 661.3A80.38 80.38 0 0 1 400.18 660.6M402.01 658.6L401.16 660.96M404.89 659.57A77.88 77.88 0 0 1 402.01 658.6M420.6 608.15L403.44 659.1M396.36 664.46A85.36 85.36 0 0 1 394.32 663.61M402.75 646.32L395.34 664.04M399.34 647.55A68.65 68.65 0 0 1 397.73 646.77M399.61 644.91L398.53 647.16M402.75 646.32A66.15 66.15 0 0 1 399.61 644.91M402.2 643.36L401.18 645.64M392.64 652.55A76.12 76.12 0 0 1 390.9 651.6M388.68 651.45A77.11 77.11 0 0 1 386.98 650.4M389.27 648.6A74.36 74.36 0 0 1 386.83 647.02M389.39 645.72L388.04 647.82M393.81 648.35A71.86 71.86 0 0 1 389.39 645.72M395.77 640.02L391.58 647.07M402.2 643.36A63.65 63.65 0 0 1 395.77 640.02M417.18 606.69L398.94 641.78M420.6 608.15A24.11 24.11 0 0 1 417.18 606.69M420.99 602.48L418.86 607.49M381.32 647.91A78.27 78.27 0 0 1 379.71 646.67M411.18 607.52L380.51 647.3M412.06 608.17A28.05 28.05 0 0 1 411.18 607.52M414.67 603.71L411.61 607.85M414.67 603.71A22.9 22.9 0 0 1 413.62 602.88M416.76 599.97L414.14 603.3M420.99 602.48A18.66 18.66 0 0 1 416.76 599.97M420.44 598.59L418.8 601.36M380.06 640.11A73.01 73.01 0 0 1 378.65 638.83M390.9 626.69L379.35 639.47M376.43 638.39A74.22 74.22 0 0 1 375.07 637.02M386.1 627.39L375.74 637.71M367.5 641.38A82.71 82.71 0 0 1 366.06 639.77M368.63 638.91A80.21 80.21 0 0 1 366.59 636.54M369.49 636.1A77.71 77.71 0 0 1 367.24 633.37M370.28 633.16L368.35 634.75M370.28 633.16A75.21 75.21 0 0 1 368.01 630.27M381.41 622.09L369.13 631.73M386.1 627.39A59.6 59.6 0 0 1 381.41 622.09M386.53 622.28L383.67 624.81M390.9 626.69A55.79 55.79 0 0 1 386.53 622.28M390.43 622.79L388.65 624.55M370.94 625.81A70.22 70.22 0 0 1 369.91 624.3M372.48 623.64L370.42 625.06M372.48 623.64A67.72 67.72 0 0 1 371.03 621.43M378.13 618.34L371.74 622.54M365.88 622.45A72.64 72.64 0 0 1 364.93 620.81M374.12 616.6L365.4 621.63M350.79 626.12A87.6 87.6 0 0 1 349.75 624.09M360.16 620.06L350.26 625.11M360.16 620.06A76.49 76.49 0 0 1 358.85 617.38M369.77 613.73L359.49 618.72M356.04 616.42A78.68 78.68 0 0 1 355.26 614.53M368.21 610.26L355.64 615.48M369.77 613.73A65.07 65.07 0 0 1 368.21 610.26M374.12 616.6A62.57 62.57 0 0 1 371.24 610.98M374.83 612.69L372.61 613.82M378.13 618.34A60.07 60.07 0 0 1 374.83 612.69M380.11 613.4L376.4 615.56M354.66 612.57A78.52 78.52 0 0 1 353.98 610.64M356.85 610.7L354.31 611.61M349.46 609.91A82.59 82.59 0 0 1 348.84 607.85M351.54 608.17L349.14 608.88M351.54 608.17A80.09 80.09 0 0 1 350.71 605.16M356.85 610.7A75.83 75.83 0 0 1 355.21 605.53M375.1 602.1L355.99 608.13M380.11 613.4A55.79 55.79 0 0 1 375.1 602.1M379.58 606.87L377.29 607.89M390.43 622.79A53.29 53.29 0 0 1 379.58 606.87M415.55 594L384.28 615.33M420.44 598.59A15.44 15.44 0 0 1 415.55 594M421.05 593.03L417.74 596.56M437.56 590.46A10.6 10.6 0 0 1 421.05 593.03M429.24 591.29L429.93 595.78M348.88 601.28A81.02 81.02 0 0 1 348.49 599.2M354.65 599.12L348.67 600.24M349.19 596.97A79.97 79.97 0 0 1 348.91 594.91M354.03 595.27L349.04 595.94M354.65 599.12A74.94 74.94 0 0 1 354.03 595.27M365.36 595.42L354.31 597.2M345.09 593.18A83.58 83.58 0 0 1 344.91 591.01M347.49 591.89L344.99 592.09M347.49 591.89A81.08 81.08 0 0 1 347.29 588.73M364.68 589.24L347.37 590.31M365.36 595.42A63.75 63.75 0 0 1 364.68 589.24M371.71 591.59L364.94 592.34M345.12 586.66A83.19 83.19 0 0 1 345.11 584.49M347.61 585.57L345.11 585.58M347.61 585.57A80.69 80.69 0 0 1 347.66 582.42M350.12 584.03L347.62 583.99M350.12 584.03A78.19 78.19 0 0 1 350.26 580.48M371.4 583.08L350.17 582.25M371.71 591.59A56.94 56.94 0 0 1 371.4 583.08M400.87 586.28L371.4 587.34M401.54 591.41A27.45 27.45 0 0 1 400.87 586.28M405.43 588.29L401.08 588.86M349 578.32A79.61 79.61 0 0 1 349.21 576.26M396.22 582.06L349.09 577.29M353.42 572.77A75.92 75.92 0 0 1 353.77 570.82M356.05 572.24L353.59 571.79M355.6 575.07A73.42 73.42 0 0 1 356.05 572.24M396.47 580.19L355.81 573.65M396.22 582.06A32.24 32.24 0 0 1 396.47 580.19M401.78 581.83L396.33 581.12M358.72 567.99A71.7 71.7 0 0 1 359.19 566.18M361.37 567.72L358.95 567.08M360.73 570.34A69.2 69.2 0 0 1 361.37 567.72M402.3 579.01L361.04 569.03M401.78 581.83A26.75 26.75 0 0 1 402.3 579.01M405.63 581.09L402 580.41M405.43 588.29A23.06 23.06 0 0 1 405.63 581.09M408.45 584.77L405.25 584.68M357.5 563.71A74.02 74.02 0 0 1 358.09 561.88M360.17 563.55L357.79 562.79M356.37 559.21A76.52 76.52 0 0 1 357.07 557.34M359.05 559.16L356.72 558.27M359.05 559.16A74.02 74.02 0 0 1 360.13 556.47M361.9 558.74L359.58 557.81M360.17 563.55A71.52 71.52 0 0 1 361.9 558.74M367.91 563.62L360.99 561.13M357.45 553.14A77.81 77.81 0 0 1 358.31 551.31M370.22 558.03L357.87 552.22M367.91 563.62A64.16 64.16 0 0 1 370.22 558.03M379.5 565.13L369 560.79M357.44 548.58A79.81 79.81 0 0 1 358.42 546.75M373.42 555.95L357.93 547.66M356.52 543.23A83.21 83.21 0 0 1 357.64 541.37M359.21 543.59L357.07 542.3M359.21 543.59A80.71 80.71 0 0 1 360.89 540.92M371.43 549.43L360.04 542.25M368.1 541.02A74.73 74.73 0 0 1 369.27 539.46M370.68 541.74L368.68 540.24M370.68 541.74A72.23 72.23 0 0 1 372.42 539.53M373.5 542.17L371.54 540.63M371.07 545.45A69.73 69.73 0 0 1 373.5 542.17M374.27 545.28L372.26 543.8M371.43 549.43A67.23 67.23 0 0 1 374.27 545.28M374.88 548.74L372.81 547.33M363.87 529.67A85.12 85.12 0 0 1 365.34 528.01M379.86 542.36L364.6 528.83M374.88 548.74A64.73 64.73 0 0 1 379.86 542.36M379.24 547.01L377.27 545.47M373.42 555.95A62.23 62.23 0 0 1 379.24 547.01M381.95 555.14L376.14 551.36M370.99 527.41A81.46 81.46 0 0 1 372.51 525.94M373.48 528.47A78.96 78.96 0 0 1 375.74 526.38M381.44 534.79L374.6 527.41M378.56 537.62A68.9 68.9 0 0 1 381.44 534.79M389.52 545.88L379.98 536.18M381.95 555.14A55.3 55.3 0 0 1 389.52 545.88M387.42 551.88L385.48 550.3M379.5 565.13A52.8 52.8 0 0 1 387.42 551.88M411.25 575.11L382.97 558.22M408.45 584.77A19.86 19.86 0 0 1 411.25 575.11M414.5 581.29L409.23 579.76M375.51 522.93A81.71 81.71 0 0 1 377.15 521.57M382.43 529.65L376.33 522.24M383.12 525.91A74.62 74.62 0 0 1 384.69 524.76M385.39 527.34L383.9 525.33M382.43 529.65A72.12 72.12 0 0 1 385.39 527.34M414.69 567.88L383.9 528.48M382.37 517.92A81.55 81.55 0 0 1 384.14 516.74M416.09 566.87L383.25 517.32M414.69 567.88A22.11 22.11 0 0 1 416.09 566.87M417.5 570.3L415.38 567.36M387.55 518.26A78.45 78.45 0 0 1 389.3 517.22M389.69 519.89L388.42 517.74M387.76 510.06A85.46 85.46 0 0 1 389.74 509.03M391.99 515.75L388.75 509.54M391.99 515.75A78.45 78.45 0 0 1 394.73 514.39M394.47 517.3L393.36 515.06M389.69 519.89A75.95 75.95 0 0 1 394.47 517.3M399.71 532.64L392.06 518.55M397.03 509.24A82.24 82.24 0 0 1 399.02 508.45M398.94 511.17L398.02 508.84M398.94 511.17A79.74 79.74 0 0 1 401.86 510.08M401.27 512.95L400.39 510.61M397.08 514.66A77.24 77.24 0 0 1 401.27 512.95M404.4 526.64L399.16 513.77M402.89 506.51A82.79 82.79 0 0 1 404.94 505.87M409.64 524.77L403.91 506.18M404.4 526.64A63.34 63.34 0 0 1 409.64 524.77M408.15 528.86L407 525.64M399.71 532.64A59.93 59.93 0 0 1 408.15 528.86M420.76 568.42L403.86 530.59M417.5 570.3A18.48 18.48 0 0 1 420.76 568.42M421.13 572.84L419.08 569.28M414.5 581.29A14.37 14.37 0 0 1 421.13 572.84M420.36 579.06L416.99 576.42M409.23 513.61A74.19 74.19 0 0 1 411.1 513.14M410.78 515.79L410.17 513.37M410.78 515.79A71.69 71.69 0 0 1 413.5 515.16M414.72 526.63L412.14 515.46M413.58 505.27A81.37 81.37 0 0 1 415.67 504.91M417.76 504.61A81.37 81.37 0 0 1 419.87 504.36M419.11 506.96L418.81 504.48M415.04 507.55A78.87 78.87 0 0 1 419.11 506.96M419.11 521.38L417.07 507.23M419.11 521.38A64.58 64.58 0 0 1 423.28 520.92M421.67 525.44L421.19 521.12M414.72 526.63A60.23 60.23 0 0 1 421.67 525.44M424.26 507.37A78.03 78.03 0 0 1 426.29 507.29M425.63 516.53L425.28 507.32M425.63 516.53A68.82 68.82 0 0 1 428.32 516.48M427.05 520.41L426.97 516.49M430.27 510.43A74.9 74.9 0 0 1 432.22 510.51M431.14 512.96L431.24 510.46M431.14 512.96A72.4 72.4 0 0 1 433.96 513.12M432.41 515.52L432.56 513.03M436.31 508.8A76.92 76.92 0 0 1 438.3 509.03M436.48 515.88L437.31 508.91M432.41 515.52A69.9 69.9 0 0 1 436.48 515.88M434.23 518.16L434.45 515.67M440.03 510.89A75.33 75.33 0 0 1 441.97 511.22M439.66 518.87L441 511.05M434.23 518.16A67.4 67.4 0 0 1 439.66 518.87M436.63 520.94L436.95 518.46M427.05 520.41A64.9 64.9 0 0 1 436.63 520.94M418.6 528.4A57.73 57.73 0 0 1 431.46 527.66M426.04 545.82L425.01 527.67M443.74 512.29A74.63 74.63 0 0 1 445.64 512.72M440.75 529.98L444.69 512.5M449.03 507.54A80.47 80.47 0 0 1 451.04 508.11M445.8 522.92L450.04 507.82M458.28 506.75A84.08 84.08 0 0 1 460.31 507.55M458.38 509.47L459.3 507.14M455.39 508.35A81.58 81.58 0 0 1 458.38 509.47M453.64 517.58L456.89 508.9M453.64 517.58A72.31 72.31 0 0 1 457.56 519.18M453.72 523L455.61 518.35M448.99 521.27A67.29 67.29 0 0 1 453.72 523M450.51 524.44L451.37 522.09M445.8 522.92A64.79 64.79 0 0 1 450.51 524.44M445.69 531.33L448.17 523.64M440.75 529.98A56.7 56.7 0 0 1 445.69 531.33M438.72 547.15L443.24 530.6M426.04 545.82A39.54 39.54 0 0 1 438.72 547.15M432.09 549.28L432.43 545.97M463.23 511.62A81.54 81.54 0 0 1 465.13 512.55M463.08 514.32L464.18 512.08M463.08 514.32A79.04 79.04 0 0 1 465.83 515.73M463.32 517.24L464.46 515.01M463.32 517.24A76.54 76.54 0 0 1 466.38 518.9M465.28 524.54A71.13 71.13 0 0 1 466.85 525.52M464.74 527.14L466.07 525.02M479.26 514.64A87.12 87.12 0 0 1 481.08 515.99M470.66 528.15L480.18 515.3M468.39 526.54A71.13 71.13 0 0 1 470.66 528.15M468.08 529.37L469.53 527.34M464.74 527.14A68.63 68.63 0 0 1 468.08 529.37M462.87 533.55L466.43 528.23M481 519.71A84.14 84.14 0 0 1 482.69 521.1M467.91 537.3L481.85 520.4M462.87 533.55A62.23 62.23 0 0 1 467.91 537.3M463.95 537.37L465.44 535.36M456.83 532.82A59.73 59.73 0 0 1 463.95 537.37M447.8 554.79L460.47 534.97M432.09 549.28A36.21 36.21 0 0 1 447.8 554.79M437.8 558.16L440.27 551.12M486.48 523.46A84.9 84.9 0 0 1 488.07 525M485.2 526.38L487.28 524.23M485.2 526.38A81.91 81.91 0 0 1 487.45 528.65M478.9 528.64A75.97 75.97 0 0 1 482.13 531.69M473.09 538L480.53 530.14M473.09 538A65.14 65.14 0 0 1 476.5 541.48M470.54 543.91L474.83 539.71M492.42 529.99A84.68 84.68 0 0 1 493.84 531.67M481.57 540.54L493.13 530.83M494.3 534.11A83.53 83.53 0 0 1 495.61 535.84M487.81 540.36L494.96 534.97M487.81 540.36A74.57 74.57 0 0 1 489.52 542.72M494.53 544.17A77.96 77.96 0 0 1 495.58 545.91M492.16 546.79L495.06 545.04M490.61 544.33A74.57 74.57 0 0 1 492.16 546.79M489.28 546.88L491.4 545.55M486.66 543A72.07 72.07 0 0 1 489.28 546.88M485.93 546.32L488 544.92M481.57 540.54A69.57 69.57 0 0 1 485.93 546.32M475.5 549.66L483.82 543.38M470.54 543.91A59.14 59.14 0 0 1 475.5 549.66M450.08 566.54L473.11 546.71M437.8 558.16A28.75 28.75 0 0 1 450.08 566.54M433.99 576.96L444.49 561.54M420.36 579.06A10.1 10.1 0 0 1 433.99 576.96M427.37 579.3L426.76 575.32M429.24 591.29A6.07 6.07 0 1 1 427.37 579.3M425.34 585.76L422.31 586.23" stroke="#1CA9F2" stroke-width="0.7"/>
<path d="M501.11 585.48L521.9 585.54M503.58 587.45L521.86 587.97M503.5 589.41L521.76 590.41M509.22 591.84L521.6 592.84M509.02 593.94L521.37 595.26M500.21 594.9L521.08 597.68M508.41 598.12L520.72 600.09M508.05 600.2L520.31 602.49M497.54 595.92L500.01 596.3M501.05 600.86L519.83 604.88M500.63 602.75L519.29 607.25M492.81 597.57L497.12 598.39M499.5 604.45L518.69 609.61M503.77 607.72L518.02 611.96M503.16 609.68L517.3 614.28M509.31 614.03L516.52 616.59M508.53 616.13L515.67 618.87M506.88 617.86L514.77 621.13M506 619.9L513.81 623.37M502.82 620.83L512.79 625.58M492.6 618.04L511.71 627.77M500.02 624.2L510.58 629.93M498.98 626.05L509.39 632.05M492.44 624.54L508.14 634.14M491.39 626.19L506.85 636.21M488.25 626.41L505.5 638.23M483.09 625L504.09 640.22M489.29 631.96L502.64 642.18M490 635.1L501.13 644.09M491.56 639.14L499.58 645.97M490.13 640.77L497.97 647.8M483.49 637.46L496.33 649.59M482.11 638.88L494.63 651.34M488.79 648.75L492.89 653.04M487.12 650.3L491.1 654.7M485.47 651.88L489.28 656.31M483.72 653.34L487.41 657.88M471.06 640.69L485.5 659.39M474.26 648.14L483.55 660.85M477.22 655.98L481.57 662.26M475.37 657.23L479.55 663.62M467.11 648.12L477.49 664.93M466.72 651.27L475.4 666.18M464.99 652.25L473.28 667.38M455.21 637.58L471.13 668.52M466.06 663.6L468.95 669.61M464.01 664.56L466.74 670.64M452.25 642.38L464.51 671.61M454.2 651.82L462.25 672.52M454.93 659.36L459.97 673.38M453 660.03L457.67 674.17M448.21 651.25L455.35 674.91M449.32 662.1L453.01 675.58M447.31 662.62L450.65 676.19M443.98 657.06L448.28 676.74M444.46 669.77L445.89 677.23M442.26 670.16L443.49 677.66M439.08 663.51L441.08 678.02M437.04 663.76L438.67 678.32M434.5 658.11L436.24 678.56M432.6 658.25L433.81 678.74M433.09 651.74L433.55 658.18M430.71 658.53L431.38 678.85M428.86 665.95L428.95 678.9M426.76 665.94L426.51 678.88M424.64 666.41L424.08 678.8M422.53 666.29L421.64 678.66M419.81 672.42L419.22 678.46M417.54 672.17L416.8 678.19M416.97 660.68L414.38 677.86M413.57 668.49L411.98 677.47M411.41 668.08L409.59 677.01M412.8 652.32L407.21 676.49M409.35 658.48L404.84 675.91M407.46 657.97L402.49 675.27M404.89 659.57L400.16 674.57M402.15 661.3L397.85 673.81M400.18 660.6L395.55 672.98M396.36 664.46L393.28 672.1M394.32 663.61L391.04 671.16M399.34 647.55L388.81 670.16M397.73 646.77L386.62 669.11M392.64 652.55L384.45 667.99M390.9 651.6L382.32 666.83M388.68 651.45L380.21 665.6M386.98 650.4L378.14 664.32M386.83 647.02L376.1 662.99M412.06 608.17L374.09 661.61M381.32 647.91L372.13 660.17M379.71 646.67L370.2 658.68M413.62 602.88L368.31 657.15M380.06 640.11L366.46 655.56M378.65 638.83L364.65 653.93M376.43 638.39L362.89 652.25M375.07 637.02L361.17 650.52M367.5 641.38L359.49 648.76M366.06 639.77L357.87 646.94M368.63 638.91L366.77 640.58M366.59 636.54L356.29 645.09M367.24 633.37L354.75 643.2M368.01 630.27L353.27 641.26M370.94 625.81L351.84 639.29M369.91 624.3L350.46 637.28M371.03 621.43L349.14 635.24M365.88 622.45L347.86 633.16M364.93 620.81L346.65 631.06M350.79 626.12L345.48 628.92M349.75 624.09L344.38 626.75M358.85 617.38L343.33 624.55M356.04 616.42L342.33 622.32M355.26 614.53L341.4 620.07M371.24 610.98L368.96 612.01M354.66 612.57L340.52 617.8M353.98 610.64L339.71 615.51M349.46 609.91L338.95 613.19M348.84 607.85L338.26 610.86M350.71 605.16L337.62 608.51M355.21 605.53L351.11 606.67M401.54 591.41L337.05 606.14M348.88 601.28L336.54 603.76M348.49 599.2L336.09 601.36M349.19 596.97L335.7 598.96M348.91 594.91L335.38 596.54M345.09 593.18L335.12 594.12M344.91 591.01L334.92 591.69M347.29 588.73L334.78 589.26M345.12 586.66L334.71 586.83M345.11 584.49L334.7 584.39M347.66 582.42L334.76 581.96M350.26 580.48L334.88 579.52M349 578.32L335.06 577.1M349.21 576.26L335.31 574.67M355.6 575.07L335.61 572.26M353.42 572.77L335.98 569.85M353.77 570.82L336.42 567.45M360.73 570.34L336.91 565.07M358.72 567.99L337.47 562.7M359.19 566.18L338.09 560.34M357.5 563.71L338.77 558M358.09 561.88L339.51 555.68M356.37 559.21L340.31 553.38M357.07 557.34L341.17 551.1M360.13 556.47L342.09 548.85M357.45 553.14L343.07 546.62M358.31 551.31L344.1 544.41M357.44 548.58L345.2 542.24M358.42 546.75L346.34 540.09M356.52 543.23L347.55 537.97M357.64 541.37L348.81 535.89M360.89 540.92L350.12 533.83M371.07 545.45L351.49 531.82M368.1 541.02L352.9 529.84M369.27 539.46L354.37 527.89M372.42 539.53L355.89 525.99M363.87 529.67L357.46 524.12M365.34 528.01L359.07 522.3M378.56 537.62L360.74 520.52M370.99 527.41L362.44 518.79M372.51 525.94L364.2 517.1M375.74 526.38L365.99 515.45M375.51 522.93L367.83 513.85M377.15 521.57L369.71 512.3M383.12 525.91L371.63 510.8M384.69 524.76L373.59 509.35M382.37 517.92L375.58 507.96M384.14 516.74L377.61 506.61M387.55 518.26L379.68 505.32M389.3 517.22L381.78 504.08M387.76 510.06L383.91 502.9M389.74 509.03L386.06 501.77M394.73 514.39L388.25 500.7M397.08 514.66L390.47 499.69M397.03 509.24L392.71 498.73M399.02 508.45L394.97 497.83M401.86 510.08L397.26 497M402.89 506.51L399.57 496.22M404.94 505.87L401.89 495.5M409.23 513.61L404.24 494.85M411.1 513.14L406.6 494.25M413.5 515.16L408.98 493.72M413.58 505.27L411.37 493.24M415.67 504.91L413.77 492.83M417.76 504.61L416.18 492.49M419.87 504.36L418.6 492.2M423.28 520.92L421.02 491.98M424.26 507.37L423.46 491.83M426.29 507.29L425.89 491.73M428.32 516.48L428.32 491.7M430.27 510.43L430.76 491.73M432.22 510.51L433.19 491.83M433.96 513.12L435.62 491.99M436.31 508.8L438.05 492.21M438.3 509.03L440.47 492.49M440.03 510.89L442.88 492.84M441.97 511.22L445.28 493.25M443.74 512.29L447.67 493.73M445.64 512.72L450.05 494.26M449.03 507.54L452.41 494.86M451.04 508.11L454.75 495.52M448.99 521.27L457.08 496.23M455.39 508.35L459.39 497.01M458.28 506.75L461.67 497.85M460.31 507.55L463.94 498.75M457.56 519.18L466.18 499.71M463.23 511.62L468.39 500.72M465.13 512.55L470.58 501.79M465.83 515.73L472.74 502.92M466.38 518.9L474.87 504.11M465.28 524.54L476.96 505.34M466.85 525.52L479.03 506.64M468.39 526.54L481.06 507.98M479.26 514.64L483.05 509.38M481.08 515.99L485.01 510.83M481 519.71L486.93 512.33M482.69 521.1L488.8 513.88M478.9 528.64L490.64 515.48M486.48 523.46L492.44 517.13M488.07 525L494.19 518.82M487.45 528.65L495.9 520.56M476.5 541.48L497.56 522.34M492.42 529.99L499.17 524.16M493.84 531.67L500.74 526.03M494.3 534.11L502.26 527.93M495.61 535.84L503.73 529.88M489.52 542.72L505.14 531.86M490.61 544.33L506.51 533.87M494.53 544.17L507.82 535.93M495.58 545.91L509.08 538.01" stroke="#111" stroke-width="0.65"/>
<path d="M501.09 607.96L503.47 608.7M499.81 611.72L508.93 615.08M473.29 615.14L475.38 616.52M393.81 648.35L391.77 652.08M389.27 648.6L387.83 650.93M369.49 636.1L367.6 637.73M373.48 528.47L371.74 526.67M418.6 528.4L418.18 525.93M431.46 527.66L431.85 520.5M482.13 531.69L486.34 527.5" stroke="#F01414" stroke-width="0.8"/>
<path d="M489 612.8L503.5 619.37M481.9 620.54L489.04 625.23M415.04 507.55L414.62 505.08M456.83 532.82L464.86 518.05M486.66 543L488.68 541.53" stroke="#9C6FA8" stroke-width="0.55"/>
<path d="M429.9 588.07A3.2 3.2 0 0 1 425.29 584.21" stroke="#111" stroke-width="0.5"/>
</g>
<g font-size="20" fill="#1a1a1a">
<text transform="translate(522.5 585.54) rotate(0.15) scale(.1)" dy="6">s__Desulfovibrio piger</text>
<text transform="translate(522.46 587.99) rotate(1.64) scale(.1)" dy="6">s__Enterococcus</text>
<text transform="translate(522.36 590.44) rotate(3.13) scale(.1)" dy="6">s__CAG-83</text>
<text transform="translate(522.19 592.89) rotate(4.62) scale(.1)" dy="6">s__Acinetobacter sp</text>
<text transform="translate(521.96 595.33) rotate(6.11) scale(.1)" dy="6">s__Sutterella</text>
<text transform="translate(521.67 597.76) rotate(7.6) scale(.1)" dy="6">s__Enterococcus</text>
<text transform="translate(521.32 600.18) rotate(9.09) scale(.1)" dy="6">s__</text>
<text transform="translate(520.9 602.6) rotate(10.58) scale(.1)" dy="6">s__Sutterella</text>
<text transform="translate(520.42 605) rotate(12.07) scale(.1)" dy="6">s__Faecalibacterium sp</text>
<text transform="translate(519.87 607.39) rotate(13.56) scale(.1)" dy="6">s__</text>
<text transform="translate(519.27 609.77) rotate(15.06) scale(.1)" dy="6">s__Klebsiella</text>
<text transform="translate(518.6 612.13) rotate(16.55) scale(.1)" dy="6">s__Prevotella</text>
<text transform="translate(517.87 614.47) rotate(18.04) scale(.1)" dy="6">s__CAG-83</text>
<text transform="translate(517.08 616.79) rotate(19.53) scale(.1)" dy="6">s__</text>
<text transform="translate(516.23 619.09) rotate(21.02) scale(.1)" dy="6">s__Helicobacter macacae</text>
<text transform="translate(515.32 621.36) rotate(22.51) scale(.1)" dy="6">s__RC9</text>
<text transform="translate(514.36 623.62) rotate(24) scale(.1)" dy="6">s__Succinivibrio sp</text>
<text transform="translate(513.33 625.84) rotate(25.49) scale(.1)" dy="6">s__CAG-83</text>
<text transform="translate(512.25 628.04) rotate(26.98) scale(.1)" dy="6">s__Phascolarctobacterium sp</text>
<text transform="translate(511.1 630.21) rotate(28.47) scale(.1)" dy="6">s__</text>
<text transform="translate(509.91 632.35) rotate(29.97) scale(.1)" dy="6">s__Prevotella</text>
<text transform="translate(508.66 634.46) rotate(31.46) scale(.1)" dy="6">s__</text>
<text transform="translate(507.35 636.53) rotate(32.95) scale(.1)" dy="6">s__</text>
<text transform="translate(505.99 638.57) rotate(34.44) scale(.1)" dy="6">s__Lactobacillus</text>
<text transform="translate(504.58 640.58) rotate(35.93) scale(.1)" dy="6">s__Streptococcus</text>
<text transform="translate(503.11 642.54) rotate(37.42) scale(.1)" dy="6">s__Pseudomonas</text>
<text transform="translate(501.6 644.47) rotate(38.91) scale(.1)" dy="6">s__Phascolarctobacterium sp</text>
<text transform="translate(500.03 646.36) rotate(40.4) scale(.1)" dy="6">s__Bacteroides fragilis</text>
<text transform="translate(498.42 648.2) rotate(41.89) scale(.1)" dy="6">s__Streptococcus</text>
<text transform="translate(496.76 650) rotate(43.38) scale(.1)" dy="6">s__Acinetobacter sp</text>
<text transform="translate(495.05 651.76) rotate(44.88) scale(.1)" dy="6">s__CAG-83</text>
<text transform="translate(493.3 653.48) rotate(46.37) scale(.1)" dy="6">s__Enterococcus</text>
<text transform="translate(491.51 655.15) rotate(47.86) scale(.1)" dy="6">s__Succinivibrio sp</text>
<text transform="translate(489.67 656.77) rotate(49.35) scale(.1)" dy="6">s__Klebsiella</text>
<text transform="translate(487.79 658.34) rotate(50.84) scale(.1)" dy="6">s__UBA1234</text>
<text transform="translate(485.87 659.86) rotate(52.33) scale(.1)" dy="6">s__</text>
<text transform="translate(483.91 661.34) rotate(53.82) scale(.1)" dy="6">s__Pseudomonas</text>
<text transform="translate(481.91 662.76) rotate(55.31) scale(.1)" dy="6">s__Sutterella</text>
<text transform="translate(479.88 664.13) rotate(56.8) scale(.1)" dy="6">s__Phascolarctobacterium sp</text>
<text transform="translate(477.81 665.44) rotate(58.29) scale(.1)" dy="6">s__RC9</text>
<text transform="translate(475.71 666.7) rotate(59.79) scale(.1)" dy="6">s__Klebsiella</text>
<text transform="translate(473.57 667.91) rotate(61.28) scale(.1)" dy="6">s__</text>
<text transform="translate(471.41 669.06) rotate(62.77) scale(.1)" dy="6">s__</text>
<text transform="translate(469.21 670.15) rotate(64.26) scale(.1)" dy="6">s__Treponema</text>
<text transform="translate(466.99 671.19) rotate(65.75) scale(.1)" dy="6">s__</text>
<text transform="translate(464.74 672.17) rotate(67.24) scale(.1)" dy="6">s__</text>
<text transform="translate(462.47 673.08) rotate(68.73) scale(.1)" dy="6">s__Treponema</text>
<text transform="translate(460.17 673.94) rotate(70.22) scale(.1)" dy="6">s__Streptococcus</text>
<text transform="translate(457.86 674.74) rotate(71.71) scale(.1)" dy="6">s__Lactobacillus</text>
<text transform="translate(455.52 675.48) rotate(73.2) scale(.1)" dy="6">s__</text>
<text transform="translate(453.16 676.16) rotate(74.7) scale(.1)" dy="6">s__Faecalibacterium sp</text>
<text transform="translate(450.79 676.78) rotate(76.19) scale(.1)" dy="6">s__Acinetobacter sp</text>
<text transform="translate(448.4 677.33) rotate(77.68) scale(.1)" dy="6">s__Succinivibrio sp</text>
<text transform="translate(446 677.82) rotate(79.17) scale(.1)" dy="6">s__Helicobacter macacae</text>
<text transform="translate(443.59 678.25) rotate(80.66) scale(.1)" dy="6">s__Streptococcus</text>
<text transform="translate(441.17 678.62) rotate(82.15) scale(.1)" dy="6">s__Treponema</text>
<text transform="translate(438.73 678.92) rotate(83.64) scale(.1)" dy="6">s__Klebsiella</text>
<text transform="translate(436.29 679.16) rotate(85.13) scale(.1)" dy="6">s__Helicobacter macacae</text>
<text transform="translate(433.85 679.34) rotate(86.62) scale(.1)" dy="6">s__Clostridium</text>
<text transform="translate(431.4 679.45) rotate(88.11) scale(.1)" dy="6">s__</text>
<text transform="translate(428.95 679.5) rotate(89.6) scale(.1)" dy="6">s__</text>
<text text-anchor="end" transform="translate(426.5 679.48) rotate(271.1) scale(.1)" dy="6">s__Enterococcus</text>
<text text-anchor="end" transform="translate(424.05 679.4) rotate(272.59) scale(.1)" dy="6">s__Treponema</text>
<text text-anchor="end" transform="translate(421.6 679.26) rotate(274.08) scale(.1)" dy="6">s__Succinivibrio sp</text>
<text text-anchor="end" transform="translate(419.16 679.06) rotate(275.57) scale(.1)" dy="6">s__Helicobacter macacae</text>
<text text-anchor="end" transform="translate(416.72 678.79) rotate(277.06) scale(.1)" dy="6">s__Prevotella</text>
<text text-anchor="end" transform="translate(414.29 678.45) rotate(278.55) scale(.1)" dy="6">s__</text>
<text text-anchor="end" transform="translate(411.87 678.06) rotate(280.04) scale(.1)" dy="6">s__CAG-83</text>
<text text-anchor="end" transform="translate(409.47 677.6) rotate(281.53) scale(.1)" dy="6">s__</text>
<text text-anchor="end" transform="translate(407.07 677.08) rotate(283.02) scale(.1)" dy="6">s__Streptococcus</text>
<text text-anchor="end" transform="translate(404.69 676.49) rotate(284.51) scale(.1)" dy="6">s__CAG-83</text>
<text text-anchor="end" transform="translate(402.33 675.85) rotate(286.01) scale(.1)" dy="6">s__UBA1234</text>
<text text-anchor="end" transform="translate(399.98 675.14) rotate(287.5) scale(.1)" dy="6">s__Clostridium</text>
<text text-anchor="end" transform="translate(397.65 674.37) rotate(288.99) scale(.1)" dy="6">s__RC9</text>
<text text-anchor="end" transform="translate(395.34 673.55) rotate(290.48) scale(.1)" dy="6">s__Desulfovibrio piger</text>
<text text-anchor="end" transform="translate(393.06 672.66) rotate(291.97) scale(.1)" dy="6">s__</text>
<text text-anchor="end" transform="translate(390.8 671.71) rotate(293.46) scale(.1)" dy="6">s__Streptococcus</text>
<text text-anchor="end" transform="translate(388.56 670.71) rotate(294.95) scale(.1)" dy="6">s__UBA1234</text>
<text text-anchor="end" transform="translate(386.35 669.64) rotate(296.44) scale(.1)" dy="6">s__Desulfovibrio piger</text>
<text text-anchor="end" transform="translate(384.17 668.52) rotate(297.93) scale(.1)" dy="6">s__Streptococcus</text>
<text text-anchor="end" transform="translate(382.02 667.35) rotate(299.42) scale(.1)" dy="6">s__Succinivibrio sp</text>
<text text-anchor="end" transform="translate(379.9 666.12) rotate(300.92) scale(.1)" dy="6">s__Enterococcus</text>
<text text-anchor="end" transform="translate(377.82 664.83) rotate(302.41) scale(.1)" dy="6">s__Pseudomonas</text>
<text text-anchor="end" transform="translate(375.76 663.49) rotate(303.9) scale(.1)" dy="6">s__</text>
<text text-anchor="end" transform="translate(373.75 662.1) rotate(305.39) scale(.1)" dy="6">s__Treponema</text>
<text text-anchor="end" transform="translate(371.77 660.65) rotate(306.88) scale(.1)" dy="6">s__RC9</text>
<text text-anchor="end" transform="translate(369.83 659.15) rotate(308.37) scale(.1)" dy="6">s__Streptococcus</text>
<text text-anchor="end" transform="translate(367.92 657.61) rotate(309.86) scale(.1)" dy="6">s__Acinetobacter sp</text>
<text text-anchor="end" transform="translate(366.06 656.01) rotate(311.35) scale(.1)" dy="6">s__Pseudomonas</text>
<text text-anchor="end" transform="translate(364.24 654.37) rotate(312.84) scale(.1)" dy="6">s__Desulfovibrio piger</text>
<text text-anchor="end" transform="translate(362.47 652.68) rotate(314.33) scale(.1)" dy="6">s__Pseudomonas</text>
<text text-anchor="end" transform="translate(360.74 650.94) rotate(315.83) scale(.1)" dy="6">s__Prevotella</text>
<text text-anchor="end" transform="translate(359.05 649.16) rotate(317.32) scale(.1)" dy="6">s__Pseudomonas</text>
<text text-anchor="end" transform="translate(357.41 647.34) rotate(318.81) scale(.1)" dy="6">s__Succinivibrio sp</text>
<text text-anchor="end" transform="translate(355.82 645.47) rotate(320.3) scale(.1)" dy="6">s__CAG-83</text>
<text text-anchor="end" transform="translate(354.28 643.57) rotate(321.79) scale(.1)" dy="6">s__UBA1234</text>
<text text-anchor="end" transform="translate(352.79 641.62) rotate(323.28) scale(.1)" dy="6">s__Helicobacter macacae</text>
<text text-anchor="end" transform="translate(351.35 639.64) rotate(324.77) scale(.1)" dy="6">s__Bacteroides fragilis</text>
<text text-anchor="end" transform="translate(349.96 637.62) rotate(326.26) scale(.1)" dy="6">s__Phascolarctobacterium sp</text>
<text text-anchor="end" transform="translate(348.63 635.56) rotate(327.75) scale(.1)" dy="6">s__</text>
<text text-anchor="end" transform="translate(347.35 633.47) rotate(329.24) scale(.1)" dy="6">s__CAG-83</text>
<text text-anchor="end" transform="translate(346.12 631.35) rotate(330.74) scale(.1)" dy="6">s__</text>
<text text-anchor="end" transform="translate(344.95 629.19) rotate(332.23) scale(.1)" dy="6">s__Escherichia coli</text>
<text text-anchor="end" transform="translate(343.84 627.01) rotate(333.72) scale(.1)" dy="6">s__Lactobacillus</text>
<text text-anchor="end" transform="translate(342.78 624.8) rotate(335.21) scale(.1)" dy="6">s__</text>
<text text-anchor="end" transform="translate(341.78 622.56) rotate(336.7) scale(.1)" dy="6">s__Streptococcus</text>
<text text-anchor="end" transform="translate(340.84 620.3) rotate(338.19) scale(.1)" dy="6">s__</text>
<text text-anchor="end" transform="translate(339.96 618.01) rotate(339.68) scale(.1)" dy="6">s__Lactobacillus</text>
<text text-anchor="end" transform="translate(339.14 615.7) rotate(341.17) scale(.1)" dy="6">s__Enterococcus</text>
<text text-anchor="end" transform="translate(338.38 613.37) rotate(342.66) scale(.1)" dy="6">s__Succinivibrio sp</text>
<text text-anchor="end" transform="translate(337.68 611.02) rotate(344.15) scale(.1)" dy="6">s__Bacteroides fragilis</text>
<text text-anchor="end" transform="translate(337.04 608.65) rotate(345.65) scale(.1)" dy="6">s__Succinivibrio sp</text>
<text text-anchor="end" transform="translate(336.46 606.27) rotate(347.14) scale(.1)" dy="6">s__Streptococcus</text>
<text text-anchor="end" transform="translate(335.95 603.88) rotate(348.63) scale(.1)" dy="6">s__RC9</text>
<text text-anchor="end" transform="translate(335.5 601.47) rotate(350.12) scale(.1)" dy="6">s__Phascolarctobacterium sp</text>
<text text-anchor="end" transform="translate(335.11 599.05) rotate(351.61) scale(.1)" dy="6">s__Clostridium</text>
<text text-anchor="end" transform="translate(334.78 596.62) rotate(353.1) scale(.1)" dy="6">s__</text>
<text text-anchor="end" transform="translate(334.52 594.18) rotate(354.59) scale(.1)" dy="6">s__Treponema</text>
<text text-anchor="end" transform="translate(334.32 591.74) rotate(356.08) scale(.1)" dy="6">s__Acinetobacter sp</text>
<text text-anchor="end" transform="translate(334.18 589.29) rotate(357.57) scale(.1)" dy="6">s__</text>
<text text-anchor="end" transform="translate(334.11 586.84) rotate(359.06) scale(.1)" dy="6">s__</text>
<text text-anchor="end" transform="translate(334.1 584.39) rotate(360.56) scale(.1)" dy="6">s__Sutterella</text>
<text text-anchor="end" transform="translate(334.16 581.94) rotate(362.05) scale(.1)" dy="6">s__Bacteroides fragilis</text>
<text text-anchor="end" transform="translate(334.28 579.49) rotate(363.54) scale(.1)" dy="6">s__</text>
<text text-anchor="end" transform="translate(334.46 577.04) rotate(365.03) scale(.1)" dy="6">s__Sutterella</text>
<text text-anchor="end" transform="translate(334.71 574.6) rotate(366.52) scale(.1)" dy="6">s__RC9</text>
<text text-anchor="end" transform="translate(335.02 572.17) rotate(368.01) scale(.1)" dy="6">s__Klebsiella</text>
<text text-anchor="end" transform="translate(335.39 569.75) rotate(369.5) scale(.1)" dy="6">s__</text>
<text text-anchor="end" transform="translate(335.83 567.34) rotate(370.99) scale(.1)" dy="6">s__Lactobacillus</text>
<text text-anchor="end" transform="translate(336.33 564.94) rotate(372.48) scale(.1)" dy="6">s__CAG-83</text>
<text text-anchor="end" transform="translate(336.89 562.55) rotate(373.97) scale(.1)" dy="6">s__Phascolarctobacterium sp</text>
<text text-anchor="end" transform="translate(337.51 560.18) rotate(375.47) scale(.1)" dy="6">s__Clostridium</text>
<text text-anchor="end" transform="translate(338.2 557.83) rotate(376.96) scale(.1)" dy="6">s__Clostridium</text>
<text text-anchor="end" transform="translate(338.94 555.49) rotate(378.45) scale(.1)" dy="6">s__Treponema</text>
<text text-anchor="end" transform="translate(339.75 553.18) rotate(379.94) scale(.1)" dy="6">s__Escherichia coli</text>
<text text-anchor="end" transform="translate(340.61 550.88) rotate(381.43) scale(.1)" dy="6">s__</text>
<text text-anchor="end" transform="translate(341.54 548.61) rotate(382.92) scale(.1)" dy="6">s__Phascolarctobacterium sp</text>
<text text-anchor="end" transform="translate(342.52 546.37) rotate(384.41) scale(.1)" dy="6">s__</text>
<text text-anchor="end" transform="translate(343.56 544.15) rotate(385.9) scale(.1)" dy="6">s__Streptococcus</text>
<text text-anchor="end" transform="translate(344.66 541.96) rotate(387.39) scale(.1)" dy="6">s__</text>
<text text-anchor="end" transform="translate(345.82 539.8) rotate(388.88) scale(.1)" dy="6">s__Succinivibrio sp</text>
<text text-anchor="end" transform="translate(347.03 537.67) rotate(390.38) scale(.1)" dy="6">s__Treponema</text>
<text text-anchor="end" transform="translate(348.3 535.57) rotate(391.87) scale(.1)" dy="6">s__Klebsiella</text>
<text text-anchor="end" transform="translate(349.62 533.5) rotate(393.36) scale(.1)" dy="6">s__Faecalibacterium sp</text>
<text text-anchor="end" transform="translate(350.99 531.47) rotate(394.85) scale(.1)" dy="6">s__</text>
<text text-anchor="end" transform="translate(352.42 529.48) rotate(396.34) scale(.1)" dy="6">s__UBA1234</text>
<text text-anchor="end" transform="translate(353.9 527.52) rotate(397.83) scale(.1)" dy="6">s__Desulfovibrio piger</text>
<text text-anchor="end" transform="translate(355.43 525.61) rotate(399.32) scale(.1)" dy="6">s__RC9</text>
<text text-anchor="end" transform="translate(357 523.73) rotate(400.81) scale(.1)" dy="6">s__CAG-83</text>
<text text-anchor="end" transform="translate(358.63 521.9) rotate(402.3) scale(.1)" dy="6">s__Pseudomonas</text>
<text text-anchor="end" transform="translate(360.3 520.11) rotate(403.79) scale(.1)" dy="6">s__Enterococcus</text>
<text text-anchor="end" transform="translate(362.02 518.36) rotate(405.29) scale(.1)" dy="6">s__Acinetobacter sp</text>
<text text-anchor="end" transform="translate(363.79 516.66) rotate(406.78) scale(.1)" dy="6">s__</text>
<text text-anchor="end" transform="translate(365.59 515) rotate(408.27) scale(.1)" dy="6">s__Clostridium</text>
<text text-anchor="end" transform="translate(367.45 513.39) rotate(409.76) scale(.1)" dy="6">s__Clostridium</text>
<text text-anchor="end" transform="translate(369.34 511.84) rotate(411.25) scale(.1)" dy="6">s__Clostridium</text>
<text text-anchor="end" transform="translate(371.27 510.33) rotate(412.74) scale(.1)" dy="6">s__Enterococcus</text>
<text text-anchor="end" transform="translate(373.24 508.87) rotate(414.23) scale(.1)" dy="6">s__Escherichia coli</text>
<text text-anchor="end" transform="translate(375.25 507.46) rotate(415.72) scale(.1)" dy="6">s__RC9</text>
<text text-anchor="end" transform="translate(377.29 506.11) rotate(417.21) scale(.1)" dy="6">s__Acinetobacter sp</text>
<text text-anchor="end" transform="translate(379.37 504.81) rotate(418.7) scale(.1)" dy="6">s__</text>
<text text-anchor="end" transform="translate(381.48 503.56) rotate(420.2) scale(.1)" dy="6">s__Faecalibacterium sp</text>
<text text-anchor="end" transform="translate(383.62 502.37) rotate(421.69) scale(.1)" dy="6">s__Helicobacter macacae</text>
<text text-anchor="end" transform="translate(385.79 501.24) rotate(423.18) scale(.1)" dy="6">s__Treponema</text>
<text text-anchor="end" transform="translate(388 500.16) rotate(424.67) scale(.1)" dy="6">s__Helicobacter macacae</text>
<text text-anchor="end" transform="translate(390.22 499.14) rotate(426.16) scale(.1)" dy="6">s__Klebsiella</text>
<text text-anchor="end" transform="translate(392.48 498.18) rotate(427.65) scale(.1)" dy="6">s__Helicobacter macacae</text>
<text text-anchor="end" transform="translate(394.76 497.27) rotate(429.14) scale(.1)" dy="6">s__Escherichia coli</text>
<text text-anchor="end" transform="translate(397.06 496.43) rotate(430.63) scale(.1)" dy="6">s__Sutterella</text>
<text text-anchor="end" transform="translate(399.38 495.65) rotate(432.12) scale(.1)" dy="6">s__</text>
<text text-anchor="end" transform="translate(401.73 494.93) rotate(433.61) scale(.1)" dy="6">s__Bacteroides fragilis</text>
<text text-anchor="end" transform="translate(404.09 494.27) rotate(435.1) scale(.1)" dy="6">s__UBA1234</text>
<text text-anchor="end" transform="translate(406.46 493.67) rotate(436.6) scale(.1)" dy="6">s__Acinetobacter sp</text>
<text text-anchor="end" transform="translate(408.85 493.13) rotate(438.09) scale(.1)" dy="6">s__CAG-83</text>
<text text-anchor="end" transform="translate(411.26 492.65) rotate(439.58) scale(.1)" dy="6">s__Bacteroides fragilis</text>
<text text-anchor="end" transform="translate(413.68 492.24) rotate(441.07) scale(.1)" dy="6">s__Phascolarctobacterium sp</text>
<text text-anchor="end" transform="translate(416.1 491.89) rotate(442.56) scale(.1)" dy="6">s__Phascolarctobacterium sp</text>
<text text-anchor="end" transform="translate(418.54 491.61) rotate(444.05) scale(.1)" dy="6">s__Helicobacter macacae</text>
<text text-anchor="end" transform="translate(420.98 491.39) rotate(445.54) scale(.1)" dy="6">s__Escherichia coli</text>
<text text-anchor="end" transform="translate(423.42 491.23) rotate(447.03) scale(.1)" dy="6">s__Clostridium</text>
<text text-anchor="end" transform="translate(425.87 491.13) rotate(448.52) scale(.1)" dy="6">s__Phascolarctobacterium sp</text>
<text transform="translate(428.32 491.1) rotate(270.01) scale(.1)" dy="6">s__</text>
<text transform="translate(430.78 491.13) rotate(271.51) scale(.1)" dy="6">s__</text>
<text transform="translate(433.22 491.23) rotate(273) scale(.1)" dy="6">s__</text>
<text transform="translate(435.67 491.39) rotate(274.49) scale(.1)" dy="6">s__Treponema</text>
<text transform="translate(438.11 491.61) rotate(275.98) scale(.1)" dy="6">s__</text>
<text transform="translate(440.55 491.9) rotate(277.47) scale(.1)" dy="6">s__Acinetobacter sp</text>
<text transform="translate(442.97 492.25) rotate(278.96) scale(.1)" dy="6">s__</text>
<text transform="translate(445.39 492.66) rotate(280.45) scale(.1)" dy="6">s__Treponema</text>
<text transform="translate(447.79 493.14) rotate(281.94) scale(.1)" dy="6">s__Acinetobacter sp</text>
<text transform="translate(450.18 493.68) rotate(283.43) scale(.1)" dy="6">s__CAG-83</text>
<text transform="translate(452.56 494.28) rotate(284.92) scale(.1)" dy="6">s__Sutterella</text>
<text transform="translate(454.92 494.94) rotate(286.42) scale(.1)" dy="6">s__</text>
<text transform="translate(457.26 495.66) rotate(287.91) scale(.1)" dy="6">s__Clostridium</text>
<text transform="translate(459.59 496.45) rotate(289.4) scale(.1)" dy="6">s__Succinivibrio sp</text>
<text transform="translate(461.89 497.29) rotate(290.89) scale(.1)" dy="6">s__Pseudomonas</text>
<text transform="translate(464.17 498.2) rotate(292.38) scale(.1)" dy="6">s__Bacteroides fragilis</text>
<text transform="translate(466.42 499.16) rotate(293.87) scale(.1)" dy="6">s__Sutterella</text>
<text transform="translate(468.65 500.18) rotate(295.36) scale(.1)" dy="6">s__Treponema</text>
<text transform="translate(470.85 501.26) rotate(296.85) scale(.1)" dy="6">s__Sutterella</text>
<text transform="translate(473.02 502.39) rotate(298.34) scale(.1)" dy="6">s__Treponema</text>
<text transform="translate(475.16 503.58) rotate(299.83) scale(.1)" dy="6">s__Klebsiella</text>
<text transform="translate(477.27 504.83) rotate(301.33) scale(.1)" dy="6">s__Prevotella</text>
<text transform="translate(479.35 506.13) rotate(302.82) scale(.1)" dy="6">s__Lactobacillus</text>
<text transform="translate(481.39 507.49) rotate(304.31) scale(.1)" dy="6">s__UBA1234</text>
<text transform="translate(483.4 508.9) rotate(305.8) scale(.1)" dy="6">s__UBA1234</text>
<text transform="translate(485.37 510.36) rotate(307.29) scale(.1)" dy="6">s__Pseudomonas</text>
<text transform="translate(487.3 511.87) rotate(308.78) scale(.1)" dy="6">s__RC9</text>
<text transform="translate(489.19 513.43) rotate(310.27) scale(.1)" dy="6">s__Lactobacillus</text>
<text transform="translate(491.04 515.04) rotate(311.76) scale(.1)" dy="6">s__</text>
<text transform="translate(492.85 516.69) rotate(313.25) scale(.1)" dy="6">s__Treponema</text>
<text transform="translate(494.61 518.39) rotate(314.74) scale(.1)" dy="6">s__Lactobacillus</text>
<text transform="translate(496.33 520.14) rotate(316.24) scale(.1)" dy="6">s__Klebsiella</text>
<text transform="translate(498 521.93) rotate(317.73) scale(.1)" dy="6">s__Clostridium</text>
<text transform="translate(499.63 523.77) rotate(319.22) scale(.1)" dy="6">s__Klebsiella</text>
<text transform="translate(501.2 525.65) rotate(320.71) scale(.1)" dy="6">s__Succinivibrio sp</text>
<text transform="translate(502.73 527.56) rotate(322.2) scale(.1)" dy="6">s__Lactobacillus</text>
<text transform="translate(504.21 529.52) rotate(323.69) scale(.1)" dy="6">s__Klebsiella</text>
<text transform="translate(505.63 531.51) rotate(325.18) scale(.1)" dy="6">s__Treponema</text>
<text transform="translate(507.01 533.54) rotate(326.67) scale(.1)" dy="6">s__</text>
<text transform="translate(508.33 535.61) rotate(328.16) scale(.1)" dy="6">s__</text>
<text transform="translate(509.59 537.71) rotate(329.65) scale(.1)" dy="6">s__Pseudomonas</text>
</g>
<text transform="translate(431.2 562.6) scale(.1)" font-size="60" text-anchor="start" font-weight="normal" fill="#111" >146 medium-quality MAGs</text>
<text transform="translate(431.2 570.9) scale(.1)" font-size="60" text-anchor="start" font-weight="normal" fill="#111" >76 high-quality MAGs</text>
<text transform="translate(431.2 579.4) scale(.1)" font-size="60" text-anchor="start" font-weight="normal" fill="#111" >27.93% SGBs</text>
<text font-size="57" font-style="italic" fill="#111" transform="translate(542.4 536.6) rotate(75) scale(.1)">Contamination</text>
<text font-size="57" font-style="italic" fill="#111" transform="translate(549 534.8) rotate(75) scale(.1)">Completeness</text>
<text font-size="57" font-style="italic" fill="#111" transform="translate(555.8 544.5) rotate(75) scale(.1)">N50</text>
<text font-size="57" font-style="italic" fill="#111" transform="translate(558.2 527.6) rotate(75) scale(.1)">Strain_heterogeneity</text>
<text font-size="57" font-style="italic" fill="#111" transform="translate(564.8 530.8) rotate(75) scale(.1)">bin_abundance</text>
<text transform="translate(598.7 430.1) scale(.1)" font-size="66.5" text-anchor="start" font-weight="normal" fill="#111" >Phylum</text>
<path d="M597.4 434H678" stroke="#B0B0B0" stroke-width="0.7"/>
<rect x="598.4" y="437.3" width="9.2" height="8.8" fill="#CC93BF" stroke="#9A9A9A" stroke-width="0.5"/>
<text transform="translate(612 444) scale(.1)" font-size="66.5" text-anchor="start" font-weight="normal" fill="#111" >p__Pseudomonadota</text>
<rect x="598.4" y="450.71" width="9.2" height="8.8" fill="#CA4870" stroke="#9A9A9A" stroke-width="0.5"/>
<text transform="translate(612 457.41) scale(.1)" font-size="66.5" text-anchor="start" font-weight="normal" fill="#111" >p__Bacillota_I</text>
<rect x="598.4" y="464.12" width="9.2" height="8.8" fill="#79D74C" stroke="#9A9A9A" stroke-width="0.5"/>
<text transform="translate(612 470.82) scale(.1)" font-size="66.5" text-anchor="start" font-weight="normal" fill="#111" >p__Bacillota</text>
<rect x="598.4" y="477.53" width="9.2" height="8.8" fill="#4B5E3A" stroke="#9A9A9A" stroke-width="0.5"/>
<text transform="translate(612 484.23) scale(.1)" font-size="66.5" text-anchor="start" font-weight="normal" fill="#111" >p__Planctomycetota</text>
<rect x="598.4" y="490.94" width="9.2" height="8.8" fill="#D2CD4C" stroke="#9A9A9A" stroke-width="0.5"/>
<text transform="translate(612 497.64) scale(.1)" font-size="66.5" text-anchor="start" font-weight="normal" fill="#111" >p__Desulfobacterota</text>
<rect x="598.4" y="504.35" width="9.2" height="8.8" fill="#6B49C9" stroke="#9A9A9A" stroke-width="0.5"/>
<text transform="translate(612 511.05) scale(.1)" font-size="66.5" text-anchor="start" font-weight="normal" fill="#111" >p__Bacillota_A</text>
<rect x="598.4" y="517.76" width="9.2" height="8.8" fill="#4B3C3D" stroke="#9A9A9A" stroke-width="0.5"/>
<text transform="translate(612 524.46) scale(.1)" font-size="66.5" text-anchor="start" font-weight="normal" fill="#111" >p__Bacteroidota</text>
<rect x="598.4" y="531.17" width="9.2" height="8.8" fill="#7EDCA5" stroke="#9A9A9A" stroke-width="0.5"/>
<text transform="translate(612 537.87) scale(.1)" font-size="66.5" text-anchor="start" font-weight="normal" fill="#111" >p__Bacillota_C</text>
<rect x="598.4" y="544.58" width="9.2" height="8.8" fill="#6F7FCC" stroke="#9A9A9A" stroke-width="0.5"/>
<text transform="translate(612 551.28) scale(.1)" font-size="66.5" text-anchor="start" font-weight="normal" fill="#111" >p__Deferribacterota</text>
<rect x="598.4" y="557.99" width="9.2" height="8.8" fill="#4F2B6C" stroke="#9A9A9A" stroke-width="0.5"/>
<text transform="translate(612 564.69) scale(.1)" font-size="66.5" text-anchor="start" font-weight="normal" fill="#111" >p__Fusobacteriota</text>
<rect x="598.4" y="571.4" width="9.2" height="8.8" fill="#843D33" stroke="#9A9A9A" stroke-width="0.5"/>
<text transform="translate(612 578.1) scale(.1)" font-size="66.5" text-anchor="start" font-weight="normal" fill="#111" >p__Actinomycetota</text>
<rect x="598.4" y="584.81" width="9.2" height="8.8" fill="#D7C8A2" stroke="#9A9A9A" stroke-width="0.5"/>
<text transform="translate(612 591.51) scale(.1)" font-size="66.5" text-anchor="start" font-weight="normal" fill="#111" >p__Synergistota</text>
<rect x="598.4" y="598.22" width="9.2" height="8.8" fill="#DA5230" stroke="#9A9A9A" stroke-width="0.5"/>
<text transform="translate(612 604.92) scale(.1)" font-size="66.5" text-anchor="start" font-weight="normal" fill="#111" >p__Patescibacteria</text>
<rect x="598.4" y="611.63" width="9.2" height="8.8" fill="#5F8D3F" stroke="#9A9A9A" stroke-width="0.5"/>
<text transform="translate(612 618.33) scale(.1)" font-size="66.5" text-anchor="start" font-weight="normal" fill="#111" >p__Chlamydiota</text>
<rect x="598.4" y="625.04" width="9.2" height="8.8" fill="#C78A41" stroke="#9A9A9A" stroke-width="0.5"/>
<text transform="translate(612 631.74) scale(.1)" font-size="66.5" text-anchor="start" font-weight="normal" fill="#111" >p__Verrucomicrobiota</text>
<rect x="598.4" y="638.45" width="9.2" height="8.8" fill="#CC55BE" stroke="#9A9A9A" stroke-width="0.5"/>
<text transform="translate(612 645.15) scale(.1)" font-size="66.5" text-anchor="start" font-weight="normal" fill="#111" >p__Campylobacterota</text>
<rect x="598.4" y="651.86" width="9.2" height="8.8" fill="#7BB9C9" stroke="#9A9A9A" stroke-width="0.5"/>
<text transform="translate(612 658.56) scale(.1)" font-size="66.5" text-anchor="start" font-weight="normal" fill="#111" >p__Spirochaetota</text>
<text transform="translate(600.6 679.1) scale(.1)" font-size="59" text-anchor="start" font-weight="normal" fill="#111" >Bootstrap</text>
<path d="M600.3 682.3H628.1" stroke="#B0B0B0" stroke-width="0.7"/>
<rect x="600.8" y="685.25" width="7.9" height="7.5" fill="#FF0000" stroke="#9A9A9A" stroke-width="0.4"/>
<text transform="translate(612.3 691.1) scale(.1)" font-size="58" text-anchor="start" font-weight="normal" fill="#111" >0.024</text>
<rect x="600.8" y="696.9" width="7.9" height="7.5" fill="#BF2A45" stroke="#9A9A9A" stroke-width="0.4"/>
<text transform="translate(612.3 702.75) scale(.1)" font-size="58" text-anchor="start" font-weight="normal" fill="#111" >0.27</text>
<rect x="600.8" y="708.55" width="7.9" height="7.5" fill="#84507F" stroke="#9A9A9A" stroke-width="0.4"/>
<text transform="translate(612.3 714.4) scale(.1)" font-size="58" text-anchor="start" font-weight="normal" fill="#111" >0.51</text>
<rect x="600.8" y="720.2" width="7.9" height="7.5" fill="#3D7DBE" stroke="#9A9A9A" stroke-width="0.4"/>
<text transform="translate(612.3 726.05) scale(.1)" font-size="58" text-anchor="start" font-weight="normal" fill="#111" >0.76</text>
<rect x="600.8" y="731.85" width="7.9" height="7.5" fill="#00AAFF" stroke="#9A9A9A" stroke-width="0.4"/>
<text transform="translate(612.3 737.7) scale(.1)" font-size="58" text-anchor="start" font-weight="normal" fill="#111" >1</text>
</svg></body></html>
